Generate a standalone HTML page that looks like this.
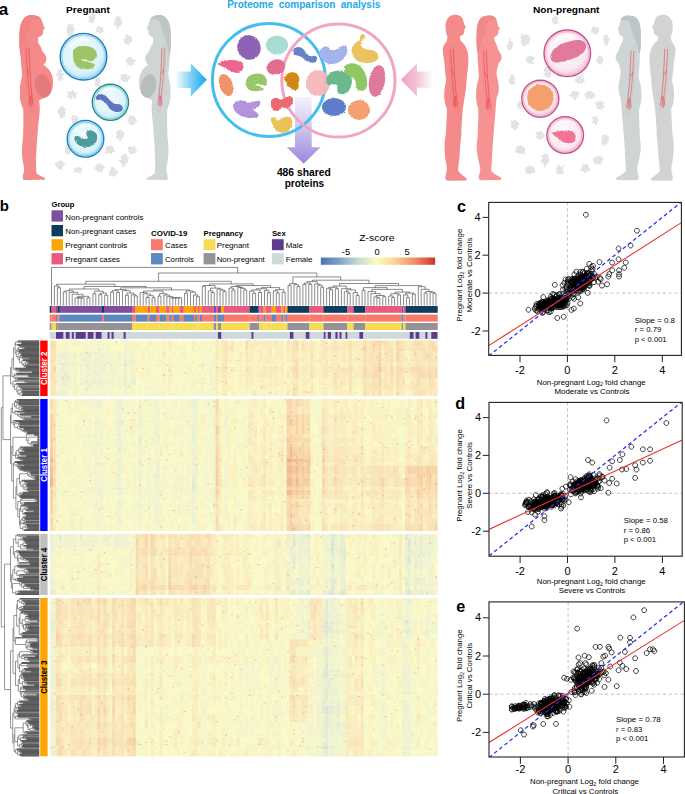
<!DOCTYPE html><html><head><meta charset="utf-8"><style>html,body{margin:0;padding:0;background:#fff;}svg{display:block;}text{font-family:"Liberation Sans", sans-serif;}</style></head><body>
<svg width="685" height="794" viewBox="0 0 685 794">
<rect width="685" height="794" fill="#fff"/>
<g fill="#e3e3e3" filter="url(#rough2)">
<ellipse cx="70" cy="30" rx="4" ry="6"/>
<ellipse cx="72" cy="95" rx="5" ry="4"/>
<ellipse cx="62" cy="112" rx="4" ry="6"/>
<ellipse cx="75" cy="120" rx="3" ry="5"/>
<ellipse cx="60" cy="165" rx="5" ry="4"/>
<ellipse cx="92" cy="18" rx="3" ry="5"/>
<ellipse cx="100" cy="30" rx="4" ry="3"/>
<ellipse cx="118" cy="22" rx="4" ry="6"/>
<ellipse cx="128" cy="40" rx="4" ry="5"/>
<ellipse cx="130" cy="62" rx="4" ry="4"/>
<ellipse cx="125" cy="78" rx="5" ry="4"/>
<ellipse cx="98" cy="82" rx="3" ry="5"/>
<ellipse cx="132" cy="120" rx="4" ry="5"/>
<ellipse cx="120" cy="135" rx="4" ry="5"/>
<ellipse cx="110" cy="150" rx="5" ry="4"/>
<ellipse cx="124" cy="160" rx="4" ry="6"/>
<ellipse cx="100" cy="168" rx="5" ry="4"/>
<ellipse cx="78" cy="170" rx="4" ry="3"/>
<ellipse cx="68" cy="150" rx="3" ry="5"/>
<ellipse cx="132" cy="150" rx="4" ry="4"/>
<ellipse cx="113" cy="172" rx="4" ry="5"/>
<ellipse cx="60" cy="75" rx="3" ry="6"/>
<ellipse cx="525" cy="40" rx="5" ry="6"/>
<ellipse cx="530" cy="60" rx="4" ry="4"/>
<ellipse cx="510" cy="45" rx="3" ry="5"/>
<ellipse cx="512" cy="80" rx="3" ry="5"/>
<ellipse cx="515" cy="125" rx="4" ry="5"/>
<ellipse cx="520" cy="150" rx="5" ry="4"/>
<ellipse cx="530" cy="170" rx="5" ry="4"/>
<ellipse cx="545" cy="160" rx="4" ry="6"/>
<ellipse cx="590" cy="95" rx="5" ry="4"/>
<ellipse cx="600" cy="105" rx="4" ry="5"/>
<ellipse cx="595" cy="120" rx="3" ry="4"/>
<ellipse cx="605" cy="140" rx="4" ry="5"/>
<ellipse cx="598" cy="160" rx="5" ry="4"/>
<ellipse cx="585" cy="168" rx="4" ry="4"/>
<ellipse cx="560" cy="170" rx="4" ry="5"/>
<ellipse cx="580" cy="80" rx="4" ry="5"/>
<ellipse cx="600" cy="60" rx="3" ry="4"/>
<ellipse cx="595" cy="30" rx="4" ry="4"/>
<ellipse cx="548" cy="72" rx="4" ry="6"/>
<ellipse cx="575" cy="95" rx="4" ry="4"/>
<ellipse cx="555" cy="20" rx="3" ry="4"/>
<ellipse cx="606" cy="40" rx="3" ry="6"/>
<ellipse cx="540" cy="135" rx="4" ry="4"/>
<ellipse cx="520" cy="105" rx="3" ry="4"/>
</g>
<text x="8.2" y="14.7" font-size="17" font-weight="bold" fill="#000" text-anchor="end" >a</text>
<text x="66.1" y="13.1" font-size="9.8" font-weight="bold" fill="#000" text-anchor="start" textLength="43.8" lengthAdjust="spacingAndGlyphs" >Pregnant</text>
<text x="532.9" y="12.9" font-size="9.8" font-weight="bold" fill="#000" text-anchor="start" textLength="66.6" lengthAdjust="spacingAndGlyphs" >Non-pregnant</text>
<text x="227.2" y="7.6" font-size="10" font-weight="bold" fill="#21a9e6" text-anchor="start" word-spacing="2.6">Proteome comparison analysis</text>
<text x="276.9" y="176.4" font-size="10.4" font-weight="bold" fill="#000" text-anchor="start" textLength="53.8" lengthAdjust="spacingAndGlyphs" >486 shared</text>
<text x="284.7" y="187.2" font-size="10.4" font-weight="bold" fill="#000" text-anchor="start" textLength="39.4" lengthAdjust="spacingAndGlyphs" >proteins</text>
<g>
<path d="M31 14.9C36 14.9 40 16.5 40.9 18.8C42 21 42.8 23 43.1 24.3L44.9 28.6L43.1 30L43.2 32C42.9 33.8 42.5 35 41.8 35.5C40 36.5 38.5 37 38 37.8L38.2 43C40 45.5 41.5 48 42 50.8C44 53 46.4 55.5 46.4 58.5C46.4 61.5 44.8 63.5 43.6 65C47.5 67.5 50.5 70.5 52 75C53.3 79 53.3 84 52.5 88C51.5 93 48 96.5 43.5 98.2C41.5 99 40 99.8 39 100.6C39.6 104 39.8 107 39.8 109.3C39.2 118 38 126 37.6 133.5C36.9 142 36.2 152 36 160C35.9 165 36.1 170 36.5 173.2C38.5 175 41.5 176.5 43.5 177.2C45 177.8 45.6 179 44.8 179.8L23.6 180C22.6 179 22.6 176.5 23.2 174.4C24 172 24.3 170 24 167.5C22.3 160 21.6 152 22.1 146.8C22.5 141 23.2 137 23.2 133.5C23.4 124 23.6 116 23.2 109.3C21 104 19.8 100 19.9 95C19.9 90 19.8 87.5 20.2 85C21 80.5 22.1 77 22.1 74C21.6 68 20.6 61 20.6 56C19.6 50 19.2 44 19.4 38C19.5 30 20 25 22 21.5C24 17 27.5 14.9 31 14.9Z" fill="#f48a8a"/>
<path d="M31 14.9C27.5 14.9 24 17 22 21.5C20 25 19.5 30 19.4 38C19.2 44 19.6 50 20.6 56C22 53 23 49 23.5 45C24.5 40 26 36 28 33C29.5 30 29 26 31 22C33 20 36.5 19.2 40.9 18.8C40 16.5 36 14.9 31 14.9Z" fill="#ef8585"/>
<ellipse cx="43" cy="86" rx="8" ry="12" transform="rotate(-15 43 86)" fill="#dc7070" opacity="0.6"/>
<path d="M25.0 44C28.5 44 29.5 51 29.7 61C30.1 75 31.3 87 32.5 97C33.1 102 34.1 107 33.5 111L31.1 112C30.1 107 28.9 102 28.3 97C26.9 87 25.9 75 25.3 61C24.9 53 24.1 46 25.0 44Z" fill="none" stroke="#dc7070" stroke-width="0.4" opacity="0.6"/>
<path d="M26.2 48C26.7 65 27.7 81 29.7 96M28.9 48C29.4 65 30.1 81 31.9 96M26.9 69L29.3 74M29.7 96L28.7 105M30.3 96L30.1 106.5M31.0 96L31.5 106.5M31.9 96L33.1 105M29.7 96L31.9 96" fill="none" stroke="#e8343a" stroke-width="0.55" opacity="0.9"/>
</g>
<g transform="translate(189.35 0) scale(-0.9500 1)">
<path d="M31 14.9C36 14.9 40 16.5 40.9 18.8C42 21 42.8 23 43.1 24.3L44.9 28.6L43.1 30L43.2 32C42.9 33.8 42.5 35 41.8 35.5C40 36.5 38.5 37 38 37.8L38.2 43C40 45.5 41.5 48 42 50.8C44 53 46.4 55.5 46.4 58.5C46.4 61.5 44.8 63.5 43.6 65C47.5 67.5 50.5 70.5 52 75C53.3 79 53.3 84 52.5 88C51.5 93 48 96.5 43.5 98.2C41.5 99 40 99.8 39 100.6C39.6 104 39.8 107 39.8 109.3C39.2 118 38 126 37.6 133.5C36.9 142 36.2 152 36 160C35.9 165 36.1 170 36.5 173.2C38.5 175 41.5 176.5 43.5 177.2C45 177.8 45.6 179 44.8 179.8L23.6 180C22.6 179 22.6 176.5 23.2 174.4C24 172 24.3 170 24 167.5C22.3 160 21.6 152 22.1 146.8C22.5 141 23.2 137 23.2 133.5C23.4 124 23.6 116 23.2 109.3C21 104 19.8 100 19.9 95C19.9 90 19.8 87.5 20.2 85C21 80.5 22.1 77 22.1 74C21.6 68 20.6 61 20.6 56C19.6 50 19.2 44 19.4 38C19.5 30 20 25 22 21.5C24 17 27.5 14.9 31 14.9Z" fill="#cfd5d5"/>
<path d="M31 14.9C27.5 14.9 24 17 22 21.5C20 25 19.5 30 19.4 38C19.2 44 19.6 50 20.6 56C22 53 23 49 23.5 45C24.5 40 26 36 28 33C29.5 30 29 26 31 22C33 20 36.5 19.2 40.9 18.8C40 16.5 36 14.9 31 14.9Z" fill="#c0c6c6"/>
<ellipse cx="43" cy="86" rx="8" ry="12" transform="rotate(-15 43 86)" fill="#a6abab" opacity="0.6"/>
<path d="M25.0 44C28.5 44 29.5 51 29.7 61C30.1 75 31.3 87 32.5 97C33.1 102 34.1 107 33.5 111L31.1 112C30.1 107 28.9 102 28.3 97C26.9 87 25.9 75 25.3 61C24.9 53 24.1 46 25.0 44Z" fill="none" stroke="#a6abab" stroke-width="0.4" opacity="0.6"/>
<path d="M26.2 48C26.7 65 27.7 81 29.7 96M28.9 48C29.4 65 30.1 81 31.9 96M26.9 69L29.3 74M29.7 96L28.7 105M30.3 96L30.1 106.5M31.0 96L31.5 106.5M31.9 96L33.1 105M29.7 96L31.9 96" fill="none" stroke="#e8343a" stroke-width="0.55" opacity="0.9"/>
</g>
<g>
<path d="M454.7 14.8C459 14.8 462 16.5 462.4 18.8C463.4 21 464 23 464.2 24.3L465.9 27.6L464.2 29.2L464.4 31.2C464 33 463.8 34 463.2 34.5C461.5 35.5 460.2 36 459.8 36.6L460.5 40.8C463.5 43 465.8 46 466.6 49C468.4 53 468.8 60 468 67.3C467.5 72 466.8 76 466.6 80C466.2 86 465.8 91 464.8 96C463.5 104 462.6 110 462.2 116C461.6 124 461.3 130 461.3 134C460.6 142 459.8 150 459.6 156C459 162 458.2 167 458.2 171C460 173.5 463 175.5 465.5 177.5C467 178.5 467.2 180 466 180.5L447.5 180.8C445.5 180 445 178.5 445.5 176.5C446.5 173 447 170 446.8 167C445 158 444.2 150 444.6 143C445 138 446 135 446 132C446.2 124 447 116 447 109C445 104 444 100 444.2 95C444.2 90 445 86 446.2 80.5C445.5 74 444.6 69 444.6 64C444 58 442.6 53 442.8 49C443 46 444.8 43.5 446.6 41.5L447.5 37C446.2 34 445.4 30 445.5 26C445.6 19.5 449.5 14.8 454.7 14.8Z" fill="#f48a8a"/>
<path d="M449.5 45C453 45 454 52 454.2 62C454.6 76 455.8 88 457 98C457.6 103 458.6 108 458 112L455.6 113C454.6 108 453.4 103 452.8 98C451.4 88 450.4 76 449.8 62C449.4 54 448.6 47 449.5 45Z" fill="none" stroke="#dc7070" stroke-width="0.4" opacity="0.6"/>
<path d="M450.7 49C451.2 66 452.2 82 454.2 97M453.4 49C453.9 66 454.6 82 456.4 97M451.4 70L453.8 75M454.2 97L453.2 106M454.8 97L454.6 107.5M455.5 97L456.0 107.5M456.4 97L457.6 106M454.2 97L456.4 97" fill="none" stroke="#e8343a" stroke-width="0.55" opacity="0.9"/>
</g>
<g>
<path d="M488.9 15.5C493 15.5 496 17.5 496.6 20C497.5 23 498 25.5 498.3 26.5L500 28.8L498.4 30.2L498.6 32.3C498.2 34 497.6 35 497 35.5C495.5 36.2 494.5 36.6 494.2 37.4L494.4 40.8C496 43 497.5 46 498 49.6C499.5 52 501.6 55 501.6 57.6C501.6 60 500 62 498.8 63C497.5 67 496.5 70.5 496.6 74C497 78 498.6 82 498.8 87.1C498.9 92 497.8 95 496.6 98.1C496 104 495.6 108 495.5 111.3C495 120 494 127 493.7 133.3C493 141 492.4 149 492.2 155.4C491.8 162 491.2 167 491.2 171C493.5 173.5 497 175.5 499.8 177C501.5 178 501.8 179.6 500.5 180L480.5 180.2C478.7 179.5 478.4 177.5 479 175.5C480 172.5 480.4 170.5 480.2 168C478.6 160 476.5 152 476.7 146.6C477 141 477.8 137 477.8 133.3C478 124 478.6 116 478.3 109.1C476.5 104 475.8 98 476.1 93.7C476.3 89 476.5 86.5 476.9 84.9C477.8 81 478.9 78.5 478.9 76.1C478.6 70 477.8 65 477.8 60.7C477.6 57 477.6 55.5 477.8 54C476.5 48 476.2 40 476.7 32C477 25 478 21.5 480.5 18.5C482.5 16.3 485.5 15.5 488.9 15.5Z" fill="#f79292"/>
<path d="M488.9 15.5C485.5 15.5 482.5 16.3 480.5 18.5C478 21.5 477 25 476.7 32C476.2 40 476.5 48 477.8 54C479 52 480 49 480.5 45C481.5 40 483 36 485 33C486.5 30 486 26 488 22C490 20 493 19.5 496.6 20C496 17.5 493 15.5 488.9 15.5Z" fill="#ef8a8a"/>
<path d="M482.5 47C486 47 487 54 487.2 64C487.6 78 488.8 90 490 100C490.6 105 491.6 110 491 114L488.6 115C487.6 110 486.4 105 485.8 100C484.4 90 483.4 78 482.8 64C482.4 56 481.6 49 482.5 47Z" fill="none" stroke="#dc7070" stroke-width="0.4" opacity="0.6"/>
<path d="M483.7 51C484.2 68 485.2 84 487.2 99M486.4 51C486.9 68 487.6 84 489.4 99M484.4 72L486.8 77M487.2 99L486.2 108M487.8 99L487.6 109.5M488.5 99L489.0 109.5M489.4 99L490.6 108M487.2 99L489.4 99" fill="none" stroke="#e8343a" stroke-width="0.55" opacity="0.9"/>
</g>
<g transform="translate(1123.22 0) scale(-1.0120 1)">
<path d="M488.9 15.5C493 15.5 496 17.5 496.6 20C497.5 23 498 25.5 498.3 26.5L500 28.8L498.4 30.2L498.6 32.3C498.2 34 497.6 35 497 35.5C495.5 36.2 494.5 36.6 494.2 37.4L494.4 40.8C496 43 497.5 46 498 49.6C499.5 52 501.6 55 501.6 57.6C501.6 60 500 62 498.8 63C497.5 67 496.5 70.5 496.6 74C497 78 498.6 82 498.8 87.1C498.9 92 497.8 95 496.6 98.1C496 104 495.6 108 495.5 111.3C495 120 494 127 493.7 133.3C493 141 492.4 149 492.2 155.4C491.8 162 491.2 167 491.2 171C493.5 173.5 497 175.5 499.8 177C501.5 178 501.8 179.6 500.5 180L480.5 180.2C478.7 179.5 478.4 177.5 479 175.5C480 172.5 480.4 170.5 480.2 168C478.6 160 476.5 152 476.7 146.6C477 141 477.8 137 477.8 133.3C478 124 478.6 116 478.3 109.1C476.5 104 475.8 98 476.1 93.7C476.3 89 476.5 86.5 476.9 84.9C477.8 81 478.9 78.5 478.9 76.1C478.6 70 477.8 65 477.8 60.7C477.6 57 477.6 55.5 477.8 54C476.5 48 476.2 40 476.7 32C477 25 478 21.5 480.5 18.5C482.5 16.3 485.5 15.5 488.9 15.5Z" fill="#cfd5d5"/>
<path d="M488.9 15.5C485.5 15.5 482.5 16.3 480.5 18.5C478 21.5 477 25 476.7 32C476.2 40 476.5 48 477.8 54C479 52 480 49 480.5 45C481.5 40 483 36 485 33C486.5 30 486 26 488 22C490 20 493 19.5 496.6 20C496 17.5 493 15.5 488.9 15.5Z" fill="#bcc6c6"/>
<path d="M482.5 47C486 47 487 54 487.2 64C487.6 78 488.8 90 490 100C490.6 105 491.6 110 491 114L488.6 115C487.6 110 486.4 105 485.8 100C484.4 90 483.4 78 482.8 64C482.4 56 481.6 49 482.5 47Z" fill="none" stroke="#a6abab" stroke-width="0.4" opacity="0.6"/>
<path d="M483.7 51C484.2 68 485.2 84 487.2 99M486.4 51C486.9 68 487.6 84 489.4 99M484.4 72L486.8 77M487.2 99L486.2 108M487.8 99L487.6 109.5M488.5 99L489.0 109.5M489.4 99L490.6 108M487.2 99L489.4 99" fill="none" stroke="#e8343a" stroke-width="0.55" opacity="0.9"/>
</g>
<g transform="translate(1127.18 0) scale(-1.0200 1)">
<path d="M454.7 14.8C459 14.8 462 16.5 462.4 18.8C463.4 21 464 23 464.2 24.3L465.9 27.6L464.2 29.2L464.4 31.2C464 33 463.8 34 463.2 34.5C461.5 35.5 460.2 36 459.8 36.6L460.5 40.8C463.5 43 465.8 46 466.6 49C468.4 53 468.8 60 468 67.3C467.5 72 466.8 76 466.6 80C466.2 86 465.8 91 464.8 96C463.5 104 462.6 110 462.2 116C461.6 124 461.3 130 461.3 134C460.6 142 459.8 150 459.6 156C459 162 458.2 167 458.2 171C460 173.5 463 175.5 465.5 177.5C467 178.5 467.2 180 466 180.5L447.5 180.8C445.5 180 445 178.5 445.5 176.5C446.5 173 447 170 446.8 167C445 158 444.2 150 444.6 143C445 138 446 135 446 132C446.2 124 447 116 447 109C445 104 444 100 444.2 95C444.2 90 445 86 446.2 80.5C445.5 74 444.6 69 444.6 64C444 58 442.6 53 442.8 49C443 46 444.8 43.5 446.6 41.5L447.5 37C446.2 34 445.4 30 445.5 26C445.6 19.5 449.5 14.8 454.7 14.8Z" fill="#d3d3d3"/>
<path d="M449.5 45C453 45 454 52 454.2 62C454.6 76 455.8 88 457 98C457.6 103 458.6 108 458 112L455.6 113C454.6 108 453.4 103 452.8 98C451.4 88 450.4 76 449.8 62C449.4 54 448.6 47 449.5 45Z" fill="none" stroke="#a6abab" stroke-width="0.4" opacity="0.6"/>
<path d="M450.7 49C451.2 66 452.2 82 454.2 97M453.4 49C453.9 66 454.6 82 456.4 97M451.4 70L453.8 75M454.2 97L453.2 106M454.8 97L454.6 107.5M455.5 97L456.0 107.5M456.4 97L457.6 106M454.2 97L456.4 97" fill="none" stroke="#e8343a" stroke-width="0.55" opacity="0.9"/>
</g>
<defs><linearGradient id="ab" x1="175" x2="207" y1="0" y2="0" gradientUnits="userSpaceOnUse"><stop offset="0" stop-color="#fff"/><stop offset="0.5" stop-color="#7fd0f4"/><stop offset="1" stop-color="#0ea6ee"/></linearGradient><linearGradient id="ap" x1="433" x2="401" y1="0" y2="0" gradientUnits="userSpaceOnUse"><stop offset="0" stop-color="#fff"/><stop offset="0.5" stop-color="#f3c4d8"/><stop offset="1" stop-color="#efa0c2"/></linearGradient><linearGradient id="av" x1="0" x2="0" y1="97" y2="164" gradientUnits="userSpaceOnUse"><stop offset="0" stop-color="#f6f4fc"/><stop offset="0.55" stop-color="#c6bcec"/><stop offset="1" stop-color="#9a86da"/></linearGradient><radialGradient id="gb" cx="0.45" cy="0.4" r="0.6"><stop offset="0" stop-color="#f4fbfe"/><stop offset="0.75" stop-color="#dcf2fb"/><stop offset="1" stop-color="#a9def4"/></radialGradient><radialGradient id="gp" cx="0.45" cy="0.4" r="0.6"><stop offset="0" stop-color="#fefafc"/><stop offset="0.75" stop-color="#fbe9f1"/><stop offset="1" stop-color="#f1c2da"/></radialGradient></defs>
<path d="M175.3 71.5H190.7V63.3L206.8 79.8L190.7 96.5V88H175.3Z" fill="url(#ab)"/>
<path d="M433 71.5H417V63.3L400.9 79.8L417 96.5V87.8H433Z" fill="url(#ap)"/>
<path d="M295 97H311.7V147.3H320.5L303.7 163.7L286.7 147.3H295Z" fill="url(#av)"/>
<circle cx="268.9" cy="80" r="56.5" fill="none" stroke="#45bdef" stroke-width="3"/>
<circle cx="338.4" cy="80.5" r="56.6" fill="none" stroke="#f1a4c6" stroke-width="3"/>
<defs><filter id="rough" x="-5%" y="-5%" width="110%" height="110%"><feTurbulence type="fractalNoise" baseFrequency="0.7" numOctaves="2" seed="4" result="n"/><feDisplacementMap in="SourceGraphic" in2="n" scale="2.4" xChannelSelector="R" yChannelSelector="G"/></filter><filter id="rough2" x="-5%" y="-5%" width="110%" height="110%"><feTurbulence type="fractalNoise" baseFrequency="0.35" numOctaves="2" seed="8" result="n"/><feDisplacementMap in="SourceGraphic" in2="n" scale="5" xChannelSelector="R" yChannelSelector="G"/></filter></defs>
<g filter="url(#rough)">
<ellipse cx="249" cy="47.5" rx="11.5" ry="12.5" transform="rotate(-25 249 47.5)" fill="#8e62b4" opacity="1"/>
<ellipse cx="277" cy="45" rx="11" ry="9.5" transform="rotate(0 277 45)" fill="#a9dcd3" opacity="1"/>
<path d="M217 64C225 59 236 59 242 62C245 66 243 72 238 73C232 73 226 68 217 64Z" fill="#f0648c"/>
<ellipse cx="276" cy="67" rx="9.5" ry="7.5" transform="rotate(-20 276 67)" fill="#e36d91" opacity="1"/>
<ellipse cx="226" cy="85" rx="6.5" ry="11.5" transform="rotate(-20 226 85)" fill="#f1936a" opacity="1"/>
<path d="M246 81C247 75 255 72 262 74C268 77 268 83 265 86C262 84 257 83 255 85C259 86 263 87 264 89C260 92 252 92 248 89C246 87 246 84 246 81Z" fill="#98c868"/>
<path d="M285 76C288 72 294 71 297 74C300 77 300 81 298 84C300 87 298 91 293 90C291 88 289 86 287 87C286 85 288 83 286 82C284 80 284 78 285 76Z" fill="#d38817"/>
<path d="M293 50C296 46 301 46 304 50C306 54 309 57 313 56C317 55 318 59 316 62C312 64 307 62 304 59C301 56 297 55 294 55Z" fill="#6882c9"/>
<ellipse cx="318" cy="83" rx="12" ry="13" transform="rotate(0 318 83)" fill="#f5b6b8" opacity="0.95"/>
<path d="M319 52C322 47 325 44 329 48C331 51 336 51 340 47C345 43 349 47 347 53C345 59 340 63 333 64C326 65 320 60 319 52Z" fill="#a5b3ec"/>
<path d="M352 48C353 44 358 41 360 40C359 37 361 34 364 34C366 36 363 39 361 43C359 47 366 50 371 50C377 51 380 55 378 59C375 63 367 64 360 62C354 60 351 54 352 48Z" fill="#ebc261"/>
<path d="M327 77C330 70 340 69 347 72C352 75 353 81 351 86C350 91 346 95 340 94C336 93 338 88 337 85C334 83 330 86 328 85C326 83 326 80 327 77Z" fill="#6bb98e"/>
<path d="M344 67C348 62 357 62 362 68C366 73 368 80 367 86C366 91 361 92 357 89C355 85 357 81 353 78C350 76 345 75 344 70Z" fill="#8fc862"/>
<ellipse cx="377" cy="81" rx="8" ry="16" transform="rotate(10 377 81)" fill="#e07a9b" opacity="1"/>
<ellipse cx="334" cy="107" rx="12" ry="9" transform="rotate(0 334 107)" fill="#5d7cc9" opacity="1"/>
<ellipse cx="359" cy="110" rx="11" ry="10" transform="rotate(0 359 110)" fill="#f5a06f" opacity="1"/>
<path d="M233 105C236 100 242 99 247 102C251 104 256 100 260 101C262 104 258 108 253 110C256 112 260 114 258 117C252 119 246 118 241 116C237 114 233 110 233 105Z" fill="#b393d9"/>
<path d="M271 103C271 99 275 96 279 99C282 101 286 97 289 96C293 96 294 100 292 104C290 108 285 109 282 107C280 110 276 112 273 110C271 108 271 106 271 103Z" fill="#ea6a72"/>
<path d="M271 118C273 116 276 118 278 121C281 118 287 115 291 118C294 122 292 129 287 132C282 134 276 132 274 128C273 124 270 121 271 118Z" fill="#ebc255"/>
</g>
<circle cx="83.5" cy="56.7" r="23.3" fill="url(#gb)" stroke="#1f78b6" stroke-width="1.4"/>
<circle cx="83.5" cy="56.7" r="21.7" fill="none" stroke="#86d3f2" stroke-width="1.6" opacity="0.8"/>
<path d="M70.7 46.2A17.5 17.5 0 0 1 88.2 39.9" fill="none" stroke="#fff" stroke-width="2.8" stroke-linecap="round" opacity="0.7"/>
<path d="M73 55C72 49 78 45 84 46C91 46 97 49 97 55C97 59 93 62 89 61C86 59 83 59 81 60C86 62 93 62 95 65C93 70 85 70 79 68C75 66 73 61 73 55Z" fill="#9dc466" filter="url(#rough)"/>
<circle cx="110.4" cy="102.3" r="18.1" fill="url(#gb)" stroke="#2a8a74" stroke-width="1.4"/>
<circle cx="110.4" cy="102.3" r="16.5" fill="none" stroke="#86d3f2" stroke-width="1.6" opacity="0.8"/>
<path d="M100.4 94.2A13.6 13.6 0 0 1 114.0 89.3" fill="none" stroke="#fff" stroke-width="2.2" stroke-linecap="round" opacity="0.7"/>
<path d="M96 97C97 94 102 93 106 96C109 99 112 103 115 104C118 104 120 104 122 106C124 109 122 112 118 112C114 112 110 110 108 106C106 103 103 100 99 100C96 100 95 99 96 97Z" fill="#5f75c4" filter="url(#rough)"/>
<circle cx="85.5" cy="138.8" r="18.3" fill="url(#gb)" stroke="#1b82c4" stroke-width="1.4"/>
<circle cx="85.5" cy="138.8" r="16.7" fill="none" stroke="#86d3f2" stroke-width="1.6" opacity="0.8"/>
<path d="M75.4 130.6A13.7 13.7 0 0 1 89.2 125.6" fill="none" stroke="#fff" stroke-width="2.2" stroke-linecap="round" opacity="0.7"/>
<path d="M74 138C74 136 78 135 80 137C82 139 86 140 88 138C87 135 85 133 87 131C90 129 95 131 97 135C98 141 95 146 88 147C81 148 75 144 74 138Z" fill="#4e9c9c" filter="url(#rough)"/>
<circle cx="567.3" cy="53.3" r="23.3" fill="url(#gp)" stroke="#c44f88" stroke-width="1.4"/>
<circle cx="567.3" cy="53.3" r="21.7" fill="none" stroke="#efb3d0" stroke-width="1.6" opacity="0.8"/>
<path d="M554.5 42.8A17.5 17.5 0 0 1 572.0 36.5" fill="none" stroke="#fff" stroke-width="2.8" stroke-linecap="round" opacity="0.7"/>
<path d="M551 55C552 48 561 43 571 41C579 39 585 40 586 45C587 51 581 56 572 59C564 62 556 64 552 61C550 59 550 57 551 55Z" fill="#e27a9c" filter="url(#rough)"/>
<circle cx="540.3" cy="98.7" r="18.5" fill="url(#gp)" stroke="#c44f88" stroke-width="1.4"/>
<circle cx="540.3" cy="98.7" r="16.9" fill="none" stroke="#efb3d0" stroke-width="1.6" opacity="0.8"/>
<path d="M530.1 90.4A13.9 13.9 0 0 1 544.0 85.4" fill="none" stroke="#fff" stroke-width="2.2" stroke-linecap="round" opacity="0.7"/>
<circle cx="540.3" cy="97.7" r="13.2" fill="#f4a06c" filter="url(#rough)"/>
<circle cx="565.2" cy="135.1" r="18.3" fill="url(#gp)" stroke="#c44f88" stroke-width="1.4"/>
<circle cx="565.2" cy="135.1" r="16.7" fill="none" stroke="#efb3d0" stroke-width="1.6" opacity="0.8"/>
<path d="M555.1 126.9A13.7 13.7 0 0 1 568.9 121.9" fill="none" stroke="#fff" stroke-width="2.2" stroke-linecap="round" opacity="0.7"/>
<path d="M551.5 133C556 131 564 130 571 131C575 132 577 137 575 141C572 144 566 144 561 141C557 138 554 135 551.5 133Z" fill="#f27596" filter="url(#rough)"/>
<text x="8.8" y="210.8" font-size="15" font-weight="bold" fill="#000" text-anchor="end" >b</text>
<text x="51.5" y="207" font-size="7.6" font-weight="bold" fill="#000" text-anchor="start" textLength="22.9" lengthAdjust="spacingAndGlyphs" >Group</text>
<rect x="51.5" y="210.3" width="11.5" height="11.3" fill="#7d4f9e"/>
<text x="65.3" y="219.5" font-size="7.6" font-weight="normal" fill="#000" text-anchor="start" textLength="78.1" lengthAdjust="spacingAndGlyphs" >Non-pregnant controls</text>
<rect x="51.5" y="225" width="11.5" height="11.3" fill="#0e3c5c"/>
<text x="65.3" y="234.2" font-size="7.6" font-weight="normal" fill="#000" text-anchor="start" textLength="70.9" lengthAdjust="spacingAndGlyphs" >Non-pregnant cases</text>
<rect x="51.5" y="239.2" width="11.5" height="11.3" fill="#ffa500"/>
<text x="65.3" y="248.4" font-size="7.6" font-weight="normal" fill="#000" text-anchor="start" textLength="62" lengthAdjust="spacingAndGlyphs" >Pregnant controls</text>
<rect x="51.5" y="253.1" width="11.5" height="11.3" fill="#ea5a7f"/>
<text x="65.3" y="262.3" font-size="7.6" font-weight="normal" fill="#000" text-anchor="start" textLength="54.7" lengthAdjust="spacingAndGlyphs" >Pregnant cases</text>
<text x="151" y="235.5" font-size="7.6" font-weight="bold" fill="#000" text-anchor="start" textLength="36.3" lengthAdjust="spacingAndGlyphs" >COVID-19</text>
<rect x="151" y="239.2" width="11.8" height="11" fill="#f87a6c"/>
<rect x="151" y="253.1" width="11.8" height="11.3" fill="#5d87bf"/>
<text x="165" y="248.4" font-size="7.6" font-weight="normal" fill="#000" text-anchor="start" textLength="22.3" lengthAdjust="spacingAndGlyphs" >Cases</text>
<text x="165" y="262.3" font-size="7.6" font-weight="normal" fill="#000" text-anchor="start" textLength="28.9" lengthAdjust="spacingAndGlyphs" >Controls</text>
<text x="203.6" y="235.5" font-size="7.6" font-weight="bold" fill="#000" text-anchor="start" textLength="39.4" lengthAdjust="spacingAndGlyphs" >Pregnancy</text>
<rect x="203.6" y="239.2" width="11.8" height="11" fill="#f7dc52"/>
<rect x="203.6" y="253.1" width="11.8" height="11.3" fill="#939396"/>
<text x="216.7" y="248.4" font-size="7.6" font-weight="normal" fill="#000" text-anchor="start" textLength="32.3" lengthAdjust="spacingAndGlyphs" >Pregnant</text>
<text x="216.7" y="262.3" font-size="7.6" font-weight="normal" fill="#000" text-anchor="start" textLength="48.1" lengthAdjust="spacingAndGlyphs" >Non-pregnant</text>
<text x="271.9" y="235.5" font-size="7.6" font-weight="bold" fill="#000" text-anchor="start" textLength="13.9" lengthAdjust="spacingAndGlyphs" >Sex</text>
<rect x="271.9" y="239.2" width="11.8" height="11" fill="#5d3a8c"/>
<rect x="271.9" y="253.1" width="11.8" height="11.3" fill="#cfd9dc"/>
<text x="285.8" y="248.4" font-size="7.6" font-weight="normal" fill="#000" text-anchor="start" textLength="17.1" lengthAdjust="spacingAndGlyphs" >Male</text>
<text x="285.8" y="262.3" font-size="7.6" font-weight="normal" fill="#000" text-anchor="start" textLength="26.8" lengthAdjust="spacingAndGlyphs" >Female</text>
<text x="359.3" y="240.8" font-size="9.5" font-weight="normal" fill="#000" text-anchor="start" textLength="35.1" lengthAdjust="spacingAndGlyphs" >Z-score</text>
<text x="346" y="255" font-size="9.3" font-weight="normal" fill="#000" text-anchor="middle" >-5</text>
<text x="377" y="255" font-size="9.3" font-weight="normal" fill="#000" text-anchor="middle" >0</text>
<text x="407.2" y="255" font-size="9.3" font-weight="normal" fill="#000" text-anchor="middle" >5</text>
<defs><linearGradient id="zg" x1="0" x2="1" y1="0" y2="0"><stop offset="0" stop-color="#4a72b2"/><stop offset="0.15" stop-color="#7c9fc4"/><stop offset="0.32" stop-color="#c4d8cf"/><stop offset="0.49" stop-color="#fbfbc0"/><stop offset="0.66" stop-color="#f9cf94"/><stop offset="0.83" stop-color="#ee8a66"/><stop offset="1" stop-color="#d52f27"/></linearGradient></defs>
<rect x="320.8" y="257.5" width="114.3" height="7.3" fill="url(#zg)"/>
<rect x="49.7" y="306" width="2" height="6.8" fill="#0e3c5c"/>
<rect x="49.7" y="314.6" width="2" height="7" fill="#f87a6c"/>
<rect x="49.7" y="323" width="2" height="7" fill="#939396"/>
<rect x="51.6" y="306" width="4.5" height="6.8" fill="#ea5a7f"/>
<rect x="51.6" y="314.6" width="4.5" height="7" fill="#f87a6c"/>
<rect x="51.6" y="323" width="4.5" height="7" fill="#f7dc52"/>
<rect x="56" y="306" width="1.6" height="6.8" fill="#7d4f9e"/>
<rect x="56" y="314.6" width="1.6" height="7" fill="#5d87bf"/>
<rect x="56" y="323" width="1.6" height="7" fill="#939396"/>
<rect x="57.5" y="306" width="2.4" height="6.8" fill="#0e3c5c"/>
<rect x="57.5" y="314.6" width="2.4" height="7" fill="#f87a6c"/>
<rect x="57.5" y="323" width="2.4" height="7" fill="#939396"/>
<rect x="59.7" y="306" width="42.4" height="6.8" fill="#7d4f9e"/>
<rect x="59.7" y="314.6" width="42.4" height="7" fill="#5d87bf"/>
<rect x="59.7" y="323" width="42.4" height="7" fill="#939396"/>
<rect x="102" y="306" width="2.1" height="6.8" fill="#0e3c5c"/>
<rect x="102" y="314.6" width="2.1" height="7" fill="#f87a6c"/>
<rect x="102" y="323" width="2.1" height="7" fill="#939396"/>
<rect x="104" y="306" width="28.1" height="6.8" fill="#7d4f9e"/>
<rect x="104" y="314.6" width="28.1" height="7" fill="#5d87bf"/>
<rect x="104" y="323" width="28.1" height="7" fill="#939396"/>
<rect x="132" y="306" width="3.7" height="6.8" fill="#ea5a7f"/>
<rect x="132" y="314.6" width="3.7" height="7" fill="#f87a6c"/>
<rect x="132" y="323" width="3.7" height="7" fill="#f7dc52"/>
<rect x="135.6" y="306" width="12.2" height="6.8" fill="#ffa500"/>
<rect x="135.6" y="314.6" width="12.2" height="7" fill="#5d87bf"/>
<rect x="135.6" y="323" width="12.2" height="7" fill="#f7dc52"/>
<rect x="147.6" y="306" width="2.4" height="6.8" fill="#ea5a7f"/>
<rect x="147.6" y="314.6" width="2.4" height="7" fill="#f87a6c"/>
<rect x="147.6" y="323" width="2.4" height="7" fill="#f7dc52"/>
<rect x="149.8" y="306" width="6.3" height="6.8" fill="#ffa500"/>
<rect x="149.8" y="314.6" width="6.3" height="7" fill="#5d87bf"/>
<rect x="149.8" y="323" width="6.3" height="7" fill="#f7dc52"/>
<rect x="156" y="306" width="3.7" height="6.8" fill="#ea5a7f"/>
<rect x="156" y="314.6" width="3.7" height="7" fill="#f87a6c"/>
<rect x="156" y="323" width="3.7" height="7" fill="#f7dc52"/>
<rect x="159.6" y="306" width="6.7" height="6.8" fill="#ffa500"/>
<rect x="159.6" y="314.6" width="6.7" height="7" fill="#5d87bf"/>
<rect x="159.6" y="323" width="6.7" height="7" fill="#f7dc52"/>
<rect x="166.2" y="306" width="3.5" height="6.8" fill="#ea5a7f"/>
<rect x="166.2" y="314.6" width="3.5" height="7" fill="#f87a6c"/>
<rect x="166.2" y="323" width="3.5" height="7" fill="#f7dc52"/>
<rect x="169.5" y="306" width="2.3" height="6.8" fill="#ffa500"/>
<rect x="169.5" y="314.6" width="2.3" height="7" fill="#5d87bf"/>
<rect x="169.5" y="323" width="2.3" height="7" fill="#f7dc52"/>
<rect x="171.7" y="306" width="2" height="6.8" fill="#ea5a7f"/>
<rect x="171.7" y="314.6" width="2" height="7" fill="#f87a6c"/>
<rect x="171.7" y="323" width="2" height="7" fill="#f7dc52"/>
<rect x="173.5" y="306" width="6.3" height="6.8" fill="#ffa500"/>
<rect x="173.5" y="314.6" width="6.3" height="7" fill="#5d87bf"/>
<rect x="173.5" y="323" width="6.3" height="7" fill="#f7dc52"/>
<rect x="179.7" y="306" width="4.2" height="6.8" fill="#ea5a7f"/>
<rect x="179.7" y="314.6" width="4.2" height="7" fill="#f87a6c"/>
<rect x="179.7" y="323" width="4.2" height="7" fill="#f7dc52"/>
<rect x="183.7" y="306" width="10.4" height="6.8" fill="#ffa500"/>
<rect x="183.7" y="314.6" width="10.4" height="7" fill="#5d87bf"/>
<rect x="183.7" y="323" width="10.4" height="7" fill="#f7dc52"/>
<rect x="193.9" y="306" width="2.1" height="6.8" fill="#ea5a7f"/>
<rect x="193.9" y="314.6" width="2.1" height="7" fill="#f87a6c"/>
<rect x="193.9" y="323" width="2.1" height="7" fill="#f7dc52"/>
<rect x="195.8" y="306" width="1.9" height="6.8" fill="#ffa500"/>
<rect x="195.8" y="314.6" width="1.9" height="7" fill="#5d87bf"/>
<rect x="195.8" y="323" width="1.9" height="7" fill="#f7dc52"/>
<rect x="197.6" y="306" width="2.2" height="6.8" fill="#ea5a7f"/>
<rect x="197.6" y="314.6" width="2.2" height="7" fill="#f87a6c"/>
<rect x="197.6" y="323" width="2.2" height="7" fill="#f7dc52"/>
<rect x="199.7" y="306" width="2.5" height="6.8" fill="#ffa500"/>
<rect x="199.7" y="314.6" width="2.5" height="7" fill="#5d87bf"/>
<rect x="199.7" y="323" width="2.5" height="7" fill="#f7dc52"/>
<rect x="202" y="306" width="11.7" height="6.8" fill="#ea5a7f"/>
<rect x="202" y="314.6" width="11.7" height="7" fill="#f87a6c"/>
<rect x="202" y="323" width="11.7" height="7" fill="#f7dc52"/>
<rect x="213.6" y="306" width="2.6" height="6.8" fill="#7d4f9e"/>
<rect x="213.6" y="314.6" width="2.6" height="7" fill="#5d87bf"/>
<rect x="213.6" y="323" width="2.6" height="7" fill="#939396"/>
<rect x="216.1" y="306" width="2.1" height="6.8" fill="#ea5a7f"/>
<rect x="216.1" y="314.6" width="2.1" height="7" fill="#f87a6c"/>
<rect x="216.1" y="323" width="2.1" height="7" fill="#f7dc52"/>
<rect x="218" y="306" width="3.3" height="6.8" fill="#7d4f9e"/>
<rect x="218" y="314.6" width="3.3" height="7" fill="#5d87bf"/>
<rect x="218" y="323" width="3.3" height="7" fill="#939396"/>
<rect x="221.2" y="306" width="2.8" height="6.8" fill="#ffa500"/>
<rect x="221.2" y="314.6" width="2.8" height="7" fill="#5d87bf"/>
<rect x="221.2" y="323" width="2.8" height="7" fill="#f7dc52"/>
<rect x="223.8" y="306" width="25.9" height="6.8" fill="#ea5a7f"/>
<rect x="223.8" y="314.6" width="25.9" height="7" fill="#f87a6c"/>
<rect x="223.8" y="323" width="25.9" height="7" fill="#f7dc52"/>
<rect x="249.6" y="306" width="8.4" height="6.8" fill="#0e3c5c"/>
<rect x="249.6" y="314.6" width="8.4" height="7" fill="#f87a6c"/>
<rect x="249.6" y="323" width="8.4" height="7" fill="#939396"/>
<rect x="257.8" y="306" width="1.5" height="6.8" fill="#7d4f9e"/>
<rect x="257.8" y="314.6" width="1.5" height="7" fill="#5d87bf"/>
<rect x="257.8" y="323" width="1.5" height="7" fill="#939396"/>
<rect x="259.2" y="306" width="4.6" height="6.8" fill="#ea5a7f"/>
<rect x="259.2" y="314.6" width="4.6" height="7" fill="#f87a6c"/>
<rect x="259.2" y="323" width="4.6" height="7" fill="#f7dc52"/>
<rect x="263.6" y="306" width="1.9" height="6.8" fill="#ffa500"/>
<rect x="263.6" y="314.6" width="1.9" height="7" fill="#5d87bf"/>
<rect x="263.6" y="323" width="1.9" height="7" fill="#f7dc52"/>
<rect x="265.4" y="306" width="6.4" height="6.8" fill="#ea5a7f"/>
<rect x="265.4" y="314.6" width="6.4" height="7" fill="#f87a6c"/>
<rect x="265.4" y="323" width="6.4" height="7" fill="#f7dc52"/>
<rect x="271.6" y="306" width="4.4" height="6.8" fill="#ffa500"/>
<rect x="271.6" y="314.6" width="4.4" height="7" fill="#5d87bf"/>
<rect x="271.6" y="323" width="4.4" height="7" fill="#f7dc52"/>
<rect x="275.9" y="306" width="5.7" height="6.8" fill="#ea5a7f"/>
<rect x="275.9" y="314.6" width="5.7" height="7" fill="#f87a6c"/>
<rect x="275.9" y="323" width="5.7" height="7" fill="#f7dc52"/>
<rect x="281.4" y="306" width="2.1" height="6.8" fill="#ffa500"/>
<rect x="281.4" y="314.6" width="2.1" height="7" fill="#5d87bf"/>
<rect x="281.4" y="323" width="2.1" height="7" fill="#f7dc52"/>
<rect x="283.3" y="306" width="2.2" height="6.8" fill="#ea5a7f"/>
<rect x="283.3" y="314.6" width="2.2" height="7" fill="#f87a6c"/>
<rect x="283.3" y="323" width="2.2" height="7" fill="#f7dc52"/>
<rect x="285.4" y="306" width="2.3" height="6.8" fill="#ffa500"/>
<rect x="285.4" y="314.6" width="2.3" height="7" fill="#5d87bf"/>
<rect x="285.4" y="323" width="2.3" height="7" fill="#f7dc52"/>
<rect x="287.5" y="306" width="22" height="6.8" fill="#0e3c5c"/>
<rect x="287.5" y="314.6" width="22" height="7" fill="#f87a6c"/>
<rect x="287.5" y="323" width="22" height="7" fill="#939396"/>
<rect x="309.4" y="306" width="14.3" height="6.8" fill="#ea5a7f"/>
<rect x="309.4" y="314.6" width="14.3" height="7" fill="#f87a6c"/>
<rect x="309.4" y="323" width="14.3" height="7" fill="#f7dc52"/>
<rect x="323.5" y="306" width="24" height="6.8" fill="#0e3c5c"/>
<rect x="323.5" y="314.6" width="24" height="7" fill="#f87a6c"/>
<rect x="323.5" y="323" width="24" height="7" fill="#939396"/>
<rect x="347.3" y="306" width="6.5" height="6.8" fill="#ea5a7f"/>
<rect x="347.3" y="314.6" width="6.5" height="7" fill="#f87a6c"/>
<rect x="347.3" y="323" width="6.5" height="7" fill="#f7dc52"/>
<rect x="353.6" y="306" width="11.8" height="6.8" fill="#0e3c5c"/>
<rect x="353.6" y="314.6" width="11.8" height="7" fill="#f87a6c"/>
<rect x="353.6" y="323" width="11.8" height="7" fill="#939396"/>
<rect x="365.3" y="306" width="36.3" height="6.8" fill="#ea5a7f"/>
<rect x="365.3" y="314.6" width="36.3" height="7" fill="#f87a6c"/>
<rect x="365.3" y="323" width="36.3" height="7" fill="#f7dc52"/>
<rect x="401.5" y="306" width="1.8" height="6.8" fill="#7d4f9e"/>
<rect x="401.5" y="314.6" width="1.8" height="7" fill="#5d87bf"/>
<rect x="401.5" y="323" width="1.8" height="7" fill="#939396"/>
<rect x="403.2" y="306" width="2.3" height="6.8" fill="#ea5a7f"/>
<rect x="403.2" y="314.6" width="2.3" height="7" fill="#f87a6c"/>
<rect x="403.2" y="323" width="2.3" height="7" fill="#f7dc52"/>
<rect x="405.4" y="306" width="32.3" height="6.8" fill="#0e3c5c"/>
<rect x="405.4" y="314.6" width="32.3" height="7" fill="#f87a6c"/>
<rect x="405.4" y="323" width="32.3" height="7" fill="#939396"/>
<rect x="49.7" y="332" width="387.8" height="6.8" fill="#cfd9dc"/>
<rect x="56" y="332" width="7.3" height="6.8" fill="#5d3a8c"/>
<rect x="65.8" y="332" width="3.8" height="6.8" fill="#5d3a8c"/>
<rect x="71.8" y="332" width="2" height="6.8" fill="#5d3a8c"/>
<rect x="75.7" y="332" width="10" height="6.8" fill="#5d3a8c"/>
<rect x="87.7" y="332" width="5.8" height="6.8" fill="#5d3a8c"/>
<rect x="95.7" y="332" width="5.9" height="6.8" fill="#5d3a8c"/>
<rect x="107.6" y="332" width="2" height="6.8" fill="#5d3a8c"/>
<rect x="111.5" y="332" width="2.2" height="6.8" fill="#5d3a8c"/>
<rect x="123.6" y="332" width="2.1" height="6.8" fill="#5d3a8c"/>
<rect x="218" y="332" width="3.2" height="6.8" fill="#5d3a8c"/>
<rect x="251.5" y="332" width="1.9" height="6.8" fill="#5d3a8c"/>
<rect x="289.9" y="332" width="3.5" height="6.8" fill="#5d3a8c"/>
<rect x="305.8" y="332" width="3.6" height="6.8" fill="#5d3a8c"/>
<rect x="323.8" y="332" width="1.7" height="6.8" fill="#5d3a8c"/>
<rect x="327.8" y="332" width="3.2" height="6.8" fill="#5d3a8c"/>
<rect x="335.4" y="332" width="2.2" height="6.8" fill="#5d3a8c"/>
<rect x="339.5" y="332" width="2" height="6.8" fill="#5d3a8c"/>
<rect x="345.6" y="332" width="1.7" height="6.8" fill="#5d3a8c"/>
<rect x="359.4" y="332" width="3.7" height="6.8" fill="#5d3a8c"/>
<rect x="409.8" y="332" width="3.7" height="6.8" fill="#5d3a8c"/>
<rect x="415.6" y="332" width="3.7" height="6.8" fill="#5d3a8c"/>
<rect x="425.4" y="332" width="1.9" height="6.8" fill="#5d3a8c"/>
<rect x="431.3" y="332" width="6.2" height="6.8" fill="#5d3a8c"/>
<path d="M57.4 305.5V287.7H60.4V305.5M54.4 305.5V286.0H58.9V287.7M63.3 305.5V291.9H66.3V305.5M81.1 305.5V297.8H84.0V305.5M78.1 305.5V297.8H82.5V297.8M75.1 305.5V297.8H80.3V297.8M87.0 305.5V297.8H89.9V305.5M77.7 297.8V296.3H88.5V297.8M72.2 305.5V294.2H83.1V296.3M69.2 305.5V292.3H77.6V294.2M64.8 291.9V290.8H73.4V292.3M92.9 305.5V293.7H95.8V305.5M98.8 305.5V294.7H101.8V305.5M104.7 305.5V295.2H107.7V305.5M100.3 294.7V293.1H106.2V295.2M94.4 293.7V291.1H103.2V293.1M69.1 290.8V289.0H98.8V291.1M110.6 305.5V292.2H113.6V305.5M116.6 305.5V292.5H119.5V305.5M112.1 292.2V290.6H118.0V292.5M125.4 305.5V295.3H128.4V305.5M134.3 305.5V295.9H137.3V305.5M131.3 305.5V294.8H135.8V295.9M126.9 295.3V293.0H133.6V294.8M122.5 305.5V290.7H130.2V293.0M115.1 290.6V289.6H126.4V290.7M146.1 305.5V297.4H149.1V305.5M152.1 305.5V297.7H155.0V305.5M147.6 297.4V295.7H153.5V297.7M143.2 305.5V293.9H150.6V295.7M140.2 305.5V292.6H146.9V293.9M158.0 305.5V296.1H160.9V305.5M178.7 305.5V297.8H181.6V305.5M175.7 305.5V297.8H180.2V297.8M172.8 305.5V297.8H177.9V297.8M169.8 305.5V297.8H175.3V297.8M166.8 305.5V296.6H172.6V297.8M163.9 305.5V295.1H169.7V296.6M159.4 296.1V293.7H166.8V295.1M143.5 292.6V291.0H163.1V293.7M184.6 305.5V293.2H187.5V305.5M196.4 305.5V296.7H199.4V305.5M193.5 305.5V295.0H197.9V296.7M190.5 305.5V292.2H195.7V295.0M186.1 293.2V291.0H193.1V292.2M153.3 291.0V289.9H189.6V291.0M120.7 289.6V287.8H171.5V289.9M84.0 289.0V286.5H146.1V287.8M56.7 286.0V284.2H115.0V286.5M202.3 305.5V286.4H205.3V305.5M211.2 305.5V292.5H214.2V305.5M208.3 305.5V290.9H212.7V292.5M223.0 305.5V291.3H226.0V305.5M220.1 305.5V290.0H224.5V291.3M217.1 305.5V289.0H222.3V290.0M210.5 290.9V288.1H219.7V289.0M203.8 286.4V285.5H215.1V288.1M231.9 305.5V290.1H234.9V305.5M229.0 305.5V288.1H233.4V290.1M243.8 305.5V290.0H246.7V305.5M240.8 305.5V288.4H245.2V290.0M237.8 305.5V287.5H243.0V288.4M231.2 288.1V286.5H240.4V287.5M252.6 305.5V293.4H255.6V305.5M249.7 305.5V291.1H254.1V293.4M258.5 305.5V292.5H261.5V305.5M251.9 291.1V289.9H260.0V292.5M267.4 305.5V292.7H270.4V305.5M264.5 305.5V290.4H268.9V292.7M256.0 289.9V288.8H266.7V290.4M276.3 305.5V292.9H279.2V305.5M273.3 305.5V290.9H277.8V292.9M282.2 305.5V292.3H285.2V305.5M275.5 290.9V289.6H283.7V292.3M261.3 288.8V287.6H279.6V289.6M235.8 286.5V285.6H270.5V287.6M209.5 285.5V283.9H253.1V285.6M85.8 284.2V281.3H231.3V283.9M288.1 305.5V285.3H291.1V305.5M297.0 305.5V286.6H300.0V305.5M294.0 305.5V284.7H298.5V286.6M289.6 285.3V283.6H296.3V284.7M302.9 305.5V284.4H305.9V305.5M308.8 305.5V284.2H311.8V305.5M304.4 284.4V283.0H310.3V284.2M320.7 305.5V287.2H323.6V305.5M317.7 305.5V285.2H322.1V287.2M314.7 305.5V284.0H319.9V285.2M307.3 283.0V281.6H317.3V284.0M329.5 305.5V289.6H332.5V305.5M326.6 305.5V288.3H331.0V289.6M335.4 305.5V288.7H338.4V305.5M328.8 288.3V287.3H336.9V288.7M347.3 305.5V293.4H350.2V305.5M344.3 305.5V291.8H348.8V293.4M356.2 305.5V295.4H359.1V305.5M353.2 305.5V292.6H357.6V295.4M346.5 291.8V289.9H355.4V292.6M341.4 305.5V288.7H351.0V289.9M332.9 287.3V286.0H346.2V288.7M362.1 305.5V290.2H365.0V305.5M376.9 305.5V297.8H379.8V305.5M373.9 305.5V297.0H378.3V297.8M382.8 305.5V296.6H385.7V305.5M376.1 297.0V295.5H384.3V296.6M370.9 305.5V293.6H380.2V295.5M368.0 305.5V291.6H375.6V293.6M391.7 305.5V297.6H394.6V305.5M388.7 305.5V296.0H393.1V297.6M397.6 305.5V294.9H400.5V305.5M390.9 296.0V293.7H399.0V294.9M406.4 305.5V297.6H409.4V305.5M403.5 305.5V294.9H407.9V297.6M412.4 305.5V294.1H415.3V305.5M405.7 294.9V293.1H413.8V294.1M395.0 293.7V292.1H409.8V293.1M371.8 291.6V289.4H402.4V292.1M363.5 290.2V287.6H387.1V289.4M424.2 305.5V293.0H427.1V305.5M433.1 305.5V293.3H436.0V305.5M430.1 305.5V292.3H434.5V293.3M425.7 293.0V291.4H432.3V292.3M421.2 305.5V289.3H429.0V291.4M418.3 305.5V286.7H425.1V289.3M375.3 287.6V285.6H421.7V286.7M339.5 286.0V283.5H398.5V285.6M312.3 281.6V280.2H369.0V283.5M292.9 283.6V276.9H340.7V280.2M158.6 281.3V273.0H316.8V276.9M51.5 305.5V267.4H237.7V273.0" fill="none" stroke="#2a2a2a" stroke-width="0.55"/>
<path d="M39.2 342.7H22.0V343.6H39.2M39.2 341.9H21.0V343.2H22.0M39.2 341.0H18.1V342.5H21.0M39.2 344.4H17.7V345.3H39.2M18.1 341.8H15.7V344.9H17.7M39.2 347.8H24.7V348.7H39.2M39.2 347.0H22.5V348.3H24.7M39.2 346.1H20.0V347.6H22.5M39.2 349.5H19.5V350.4H39.2M20.0 346.9H18.6V350.0H19.5M39.2 351.3H18.6V352.1H39.2M18.6 348.4H17.6V351.7H18.6M39.2 353.8H21.6V354.7H39.2M39.2 353.0H20.6V354.2H21.6M39.2 356.4H22.3V357.2H39.2M39.2 358.1H29.1V358.9H39.2M22.3 356.8H21.7V358.5H29.1M39.2 355.5H20.1V357.6H21.7M39.2 359.8H23.2V360.6H39.2M39.2 362.3H28.7V363.2H39.2M39.2 361.5H26.9V362.8H28.7M39.2 364.0H27.1V364.9H39.2M26.9 362.1H25.5V364.5H27.1M39.2 366.6H25.9V367.4H39.2M39.2 365.7H24.5V367.0H25.9M25.5 363.3H23.7V366.4H24.5M23.2 360.2H22.0V364.8H23.7M20.1 356.6H19.5V362.5H22.0M20.6 353.6H18.1V359.6H19.5M17.6 350.1H16.3V356.6H18.1M15.7 343.3H15.1V353.3H16.3M39.2 370.0H19.4V370.9H39.2M39.2 371.7H32.3V372.6H39.2M19.4 370.4H18.4V372.1H32.3M39.2 369.2H16.4V371.3H18.4M39.2 368.3H15.1V370.2H16.4M15.1 348.3H13.6V369.3H15.1M39.2 373.4H16.3V374.3H39.2M39.2 376.0H29.4V376.8H39.2M39.2 375.1H28.0V376.4H29.4M16.3 373.8H14.7V375.8H28.0M39.2 378.5H17.7V379.4H39.2M39.2 377.7H15.4V379.0H17.7M14.7 374.8H14.0V378.3H15.4M13.6 358.8H11.9V376.6H14.0M39.2 381.9H27.7V382.8H39.2M39.2 381.1H24.8V382.4H27.7M39.2 380.2H15.4V381.7H24.8M39.2 384.5H18.0V385.3H39.2M39.2 383.6H16.3V384.9H18.0M39.2 387.1H20.4V387.9H39.2M39.2 386.2H19.4V387.5H20.4M39.2 388.8H22.5V389.6H39.2M39.2 390.5H21.8V391.3H39.2M22.5 389.2H20.3V390.9H21.8M39.2 393.0H23.3V393.9H39.2M39.2 392.2H21.9V393.4H23.3M39.2 394.7H22.2V395.6H39.2M21.9 392.8H19.4V395.1H22.2M20.3 390.0H17.9V394.0H19.4M19.4 386.8H16.9V392.0H17.9M16.3 384.3H14.6V389.4H16.9M15.4 381.0H13.0V386.9H14.6M11.9 367.7H10.5V383.9H13.0M39.2 400.3H19.0V401.1H39.2M39.2 399.4H17.3V400.7H19.0M39.2 402.8H18.7V403.7H39.2M39.2 402.0H16.5V403.3H18.7M17.3 400.1H15.5V402.6H16.5M39.2 404.5H18.9V405.4H39.2M39.2 407.1H23.2V407.9H39.2M39.2 406.2H21.2V407.5H23.2M39.2 409.6H23.3V410.5H39.2M39.2 408.8H21.1V410.1H23.3M21.2 406.9H18.9V409.4H21.1M18.9 405.0H16.1V408.2H18.9M15.5 401.3H14.5V406.6H16.1M39.2 412.2H24.8V413.1H39.2M39.2 413.9H20.3V414.8H39.2M39.2 416.5H31.3V417.3H39.2M39.2 419.0H25.4V419.9H39.2M39.2 418.2H23.6V419.4H25.4M31.3 416.9H22.0V418.8H23.6M39.2 415.6H20.9V417.8H22.0M20.3 414.3H18.8V416.7H20.9M24.8 412.6H17.7V415.5H18.8M39.2 411.3H14.9V414.1H17.7M14.5 404.0H12.4V412.7H14.9M39.2 422.4H19.4V423.3H39.2M39.2 424.1H20.1V425.0H39.2M19.4 422.8H18.4V424.5H20.1M39.2 421.6H15.9V423.7H18.4M39.2 425.8H19.4V426.7H39.2M39.2 428.4H24.0V429.2H39.2M39.2 431.8H27.2V432.6H39.2M39.2 430.9H24.7V432.2H27.2M39.2 430.1H23.0V431.6H24.7M24.0 428.8H21.4V430.8H23.0M39.2 427.5H20.0V429.8H21.4M19.4 426.3H17.4V428.7H20.0M15.9 422.6H14.6V427.5H17.4M39.2 420.7H13.3V425.0H14.6M12.4 408.3H11.1V422.9H13.3M39.2 434.3H34.4V435.2H39.2M39.2 433.5H27.3V434.8H34.4M39.2 436.9H38.4V437.7H39.2M39.2 440.3H38.4V441.2H39.2M39.2 439.5H37.7V440.7H38.4M39.2 438.6H38.4V440.1H37.7M38.4 437.3H38.4V439.3H38.4M39.2 436.0H37.7V438.3H38.4M39.2 442.9H37.7V443.7H39.2M39.2 442.0H31.5V443.3H37.7M39.2 445.4H33.8V446.3H39.2M39.2 444.6H33.0V445.8H33.8M31.5 442.6H30.8V445.2H33.0M37.7 437.2H28.1V443.9H30.8M27.3 434.1H26.4V440.6H28.1M39.2 448.0H23.3V448.8H39.2M39.2 450.5H24.5V451.4H39.2M39.2 449.7H22.6V450.9H24.5M23.3 448.4H21.7V450.3H22.6M39.2 447.1H20.1V449.4H21.7M39.2 452.2H19.5V453.1H39.2M20.1 448.2H18.8V452.7H19.5M39.2 453.9H20.9V454.8H39.2M39.2 455.6H26.3V456.5H39.2M20.9 454.4H18.4V456.1H26.3M18.8 450.4H16.2V455.2H18.4M39.2 459.9H23.1V460.7H39.2M39.2 459.0H20.9V460.3H23.1M39.2 458.2H19.3V459.7H20.9M39.2 457.3H17.2V458.9H19.3M16.2 452.8H15.6V458.1H17.2M26.4 437.3H12.9V455.5H15.6M39.2 461.6H15.2V462.4H39.2M39.2 463.3H18.0V464.1H39.2M39.2 465.0H24.6V465.9H39.2M39.2 467.6H20.3V468.4H39.2M39.2 470.1H23.5V471.0H39.2M39.2 469.3H20.7V470.5H23.5M20.3 468.0H19.4V469.9H20.7M39.2 466.7H18.5V468.9H19.4M24.6 465.4H17.8V467.8H18.5M18.0 463.7H17.0V466.6H17.8M15.2 462.0H14.3V465.2H17.0M39.2 471.8H30.0V472.7H39.2M39.2 473.5H31.0V474.4H39.2M39.2 476.1H35.4V476.9H39.2M39.2 478.6H35.6V479.5H39.2M39.2 477.8H34.2V479.1H35.6M35.4 476.5H32.8V478.4H34.2M39.2 475.2H31.0V477.5H32.8M31.0 473.9H28.9V476.3H31.0M30.0 472.2H27.4V475.1H28.9M39.2 481.2H24.5V482.0H39.2M39.2 480.3H22.4V481.6H24.5M39.2 482.9H27.4V483.7H39.2M39.2 484.6H26.6V485.4H39.2M27.4 483.3H25.1V485.0H26.6M39.2 487.1H28.6V488.0H39.2M39.2 486.3H26.7V487.6H28.6M39.2 490.5H28.7V491.4H39.2M39.2 489.7H27.6V491.0H28.7M39.2 488.8H26.8V490.3H27.6M26.7 486.9H24.2V489.6H26.8M25.1 484.2H23.1V488.3H24.2M22.4 481.0H20.8V486.2H23.1M27.4 473.7H19.5V483.6H20.8M39.2 492.3H23.3V493.1H39.2M39.2 494.0H21.9V494.8H39.2M23.3 492.7H20.6V494.4H21.9M39.2 496.5H20.4V497.4H39.2M39.2 495.7H19.5V496.9H20.4M20.6 493.5H18.9V496.3H19.5M19.5 478.6H16.8V494.9H18.9M39.2 499.1H36.3V499.9H39.2M39.2 500.8H37.0V501.6H39.2M36.3 499.5H34.8V501.2H37.0M39.2 498.2H21.7V500.3H34.8M39.2 502.5H24.5V503.3H39.2M39.2 504.2H23.8V505.0H39.2M24.5 502.9H21.7V504.6H23.8M21.7 499.3H20.4V503.7H21.7M39.2 507.6H28.4V508.4H39.2M39.2 506.7H27.3V508.0H28.4M39.2 511.0H34.0V511.8H39.2M39.2 510.1H27.6V511.4H34.0M39.2 509.3H26.0V510.8H27.6M27.3 507.4H25.0V510.0H26.0M39.2 512.7H24.5V513.5H39.2M39.2 514.4H26.3V515.2H39.2M24.5 513.1H23.8V514.8H26.3M25.0 508.7H22.8V514.0H23.8M39.2 505.9H20.7V511.3H22.8M39.2 516.1H26.0V516.9H39.2M39.2 517.8H24.5V518.7H39.2M26.0 516.5H23.4V518.2H24.5M39.2 519.5H25.4V520.4H39.2M39.2 521.2H26.6V522.1H39.2M25.4 519.9H24.2V521.6H26.6M23.4 517.4H22.7V520.8H24.2M39.2 523.8H25.8V524.6H39.2M39.2 522.9H23.1V524.2H25.8M22.7 519.1H21.0V523.5H23.1M39.2 525.5H27.0V526.3H39.2M39.2 528.0H28.5V528.9H39.2M39.2 527.2H27.2V528.4H28.5M27.0 525.9H25.1V527.8H27.2M39.2 529.7H24.5V530.6H39.2M25.1 526.8H22.8V530.1H24.5M21.0 521.3H20.2V528.5H22.8M20.7 508.6H19.5V524.9H20.2M20.4 501.5H17.8V516.8H19.5M16.8 486.8H15.9V509.1H17.8M14.3 463.6H13.4V498.0H15.9M12.9 446.4H11.7V480.8H13.4M11.1 415.6H10.5V463.6H11.7M39.2 536.1H26.8V537.0H39.2M39.2 535.3H19.2V536.6H26.8M39.2 534.4H17.5V535.9H19.2M39.2 537.9H22.7V538.7H39.2M39.2 540.4H24.6V541.3H39.2M39.2 539.6H23.0V540.9H24.6M22.7 538.3H20.8V540.2H23.0M39.2 543.9H27.6V544.7H39.2M39.2 543.0H26.4V544.3H27.6M39.2 542.2H25.4V543.7H26.4M39.2 546.5H26.2V547.3H39.2M39.2 545.6H23.9V546.9H26.2M25.4 542.9H23.0V546.2H23.9M39.2 549.0H33.4V549.9H39.2M39.2 548.2H27.0V549.5H33.4M23.0 544.6H20.6V548.8H27.0M20.8 539.3H18.2V546.7H20.6M17.5 535.2H15.8V543.0H18.2M39.2 552.5H19.3V553.3H39.2M39.2 551.6H17.9V552.9H19.3M39.2 550.8H16.3V552.3H17.9M39.2 555.0H20.9V555.9H39.2M39.2 554.2H20.0V555.5H20.9M39.2 556.8H22.4V557.6H39.2M39.2 561.1H29.5V561.9H39.2M39.2 560.2H28.4V561.5H29.5M39.2 559.3H25.9V560.8H28.4M39.2 558.5H23.1V560.1H25.9M22.4 557.2H20.8V559.3H23.1M39.2 563.6H30.3V564.5H39.2M39.2 562.8H19.7V564.1H30.3M20.8 558.2H18.3V563.4H19.7M20.0 554.8H17.5V560.8H18.3M16.3 551.5H14.7V557.8H17.5M15.8 539.1H13.4V554.7H14.7M39.2 567.1H19.9V567.9H39.2M39.2 566.2H18.7V567.5H19.9M39.2 565.4H17.2V566.9H18.7M39.2 568.8H26.5V569.7H39.2M39.2 571.4H29.0V572.2H39.2M39.2 570.5H28.3V571.8H29.0M39.2 573.1H26.5V574.0H39.2M28.3 571.2H25.9V573.5H26.5M26.5 569.2H24.2V572.3H25.9M39.2 576.5H23.1V577.4H39.2M39.2 575.7H20.9V577.0H23.1M39.2 574.8H19.1V576.3H20.9M24.2 570.8H16.9V575.6H19.1M17.2 566.1H14.7V573.2H16.9M39.2 578.2H17.6V579.1H39.2M39.2 580.0H17.4V580.8H39.2M17.6 578.7H15.2V580.4H17.4M14.7 569.6H12.8V579.5H15.2M39.2 583.4H24.9V584.3H39.2M39.2 582.5H22.1V583.8H24.9M39.2 586.0H26.8V586.8H39.2M39.2 585.1H24.6V586.4H26.8M39.2 589.4H33.8V590.3H39.2M39.2 588.6H31.0V589.8H33.8M39.2 587.7H30.2V589.2H31.0M24.6 585.8H23.5V588.4H30.2M22.1 583.2H21.5V587.1H23.5M39.2 581.7H19.7V585.1H21.5M39.2 592.0H20.1V592.9H39.2M39.2 591.1H18.1V592.4H20.1M39.2 593.7H16.8V594.6H39.2M18.1 591.8H15.3V594.1H16.8M19.7 583.4H12.5V593.0H15.3M12.8 574.6H11.4V588.2H12.5M13.4 546.9H10.5V581.4H11.4M39.2 598.4H20.2V599.3H39.2M39.2 600.1H22.7V601.0H39.2M39.2 602.7H25.4V603.6H39.2M39.2 601.9H24.7V603.1H25.4M39.2 604.4H25.7V605.3H39.2M24.7 602.5H23.7V604.8H25.7M22.7 600.6H21.8V603.7H23.7M20.2 598.9H19.0V602.1H21.8M39.2 606.1H23.7V607.0H39.2M39.2 607.8H23.2V608.7H39.2M23.7 606.6H21.0V608.3H23.2M39.2 610.4H20.9V611.3H39.2M39.2 609.6H20.3V610.8H20.9M21.0 607.4H19.2V610.2H20.3M19.0 600.5H17.4V608.8H19.2M39.2 614.7H28.3V615.5H39.2M39.2 613.8H26.8V615.1H28.3M39.2 613.0H24.3V614.5H26.8M39.2 612.1H21.6V613.7H24.3M39.2 617.3H28.3V618.1H39.2M39.2 619.0H29.8V619.8H39.2M28.3 617.7H27.6V619.4H29.8M39.2 616.4H25.8V618.5H27.6M39.2 620.7H37.7V621.5H39.2M39.2 622.4H30.4V623.2H39.2M37.7 621.1H28.0V622.8H30.4M25.8 617.5H25.2V622.0H28.0M39.2 624.1H25.0V625.0H39.2M39.2 626.7H28.0V627.5H39.2M39.2 629.2H29.3V630.1H39.2M39.2 628.4H27.7V629.7H29.3M28.0 627.1H26.8V629.0H27.7M39.2 625.8H26.1V628.1H26.8M39.2 630.9H26.8V631.8H39.2M26.1 626.9H25.3V631.4H26.8M25.0 624.5H23.5V629.2H25.3M25.2 619.7H22.3V626.8H23.5M21.6 612.9H20.0V623.3H22.3M39.2 632.7H22.7V633.5H39.2M39.2 634.4H22.8V635.2H39.2M39.2 636.1H22.9V636.9H39.2M22.8 634.8H22.0V636.5H22.9M22.7 633.1H21.2V635.6H22.0M20.0 618.1H19.2V634.4H21.2M17.4 604.6H16.7V626.2H19.2M39.2 638.6H37.6V639.5H39.2M39.2 640.4H38.4V641.2H39.2M37.6 639.1H36.9V640.8H38.4M39.2 642.9H31.4V643.8H39.2M39.2 642.1H28.7V643.4H31.4M36.9 639.9H26.7V642.7H28.7M39.2 644.6H30.1V645.5H39.2M39.2 647.2H32.7V648.1H39.2M39.2 646.3H30.3V647.6H32.7M30.1 645.1H27.6V647.0H30.3M39.2 648.9H37.7V649.8H39.2M27.6 646.0H27.0V649.3H37.7M26.7 641.3H25.9V647.7H27.0M39.2 637.8H15.4V644.5H25.9M16.7 615.4H13.9V641.1H15.4M39.2 651.5H33.0V652.3H39.2M39.2 653.2H37.7V654.0H39.2M33.0 651.9H32.0V653.6H37.7M39.2 650.6H30.5V652.8H32.0M39.2 655.8H35.2V656.6H39.2M39.2 654.9H22.7V656.2H35.2M39.2 658.3H27.9V659.2H39.2M39.2 660.9H30.3V661.7H39.2M39.2 660.0H29.5V661.3H30.3M27.9 658.8H26.8V660.7H29.5M39.2 657.5H24.5V659.7H26.8M22.7 655.5H21.8V658.6H24.5M30.5 651.7H19.4V657.1H21.8M39.2 662.6H21.9V663.5H39.2M39.2 664.3H28.8V665.2H39.2M39.2 666.9H29.5V667.7H39.2M39.2 666.0H27.7V667.3H29.5M28.8 664.7H27.1V666.7H27.7M21.9 663.0H21.0V665.7H27.1M39.2 669.4H25.1V670.3H39.2M39.2 668.6H24.2V669.9H25.1M39.2 671.2H31.2V672.0H39.2M24.2 669.2H22.8V671.6H31.2M39.2 672.9H22.6V673.7H39.2M22.8 670.4H21.5V673.3H22.6M21.0 664.4H19.5V671.9H21.5M19.4 654.4H17.9V668.1H19.5M39.2 675.4H23.1V676.3H39.2M39.2 677.1H23.8V678.0H39.2M39.2 678.9H24.6V679.7H39.2M23.8 677.6H22.9V679.3H24.6M23.1 675.9H21.6V678.4H22.9M39.2 674.6H20.8V677.1H21.6M39.2 681.4H26.4V682.3H39.2M39.2 683.1H27.4V684.0H39.2M26.4 681.9H25.1V683.6H27.4M39.2 680.6H24.2V682.7H25.1M39.2 684.9H34.2V685.7H39.2M24.2 681.6H22.3V685.3H34.2M20.8 675.9H19.5V683.5H22.3M39.2 686.6H22.9V687.4H39.2M39.2 690.0H26.2V690.8H39.2M39.2 689.1H25.5V690.4H26.2M39.2 688.3H23.6V689.8H25.5M22.9 687.0H20.9V689.0H23.6M39.2 694.3H36.7V695.1H39.2M39.2 693.4H27.0V694.7H36.7M39.2 692.6H25.1V694.0H27.0M39.2 696.0H24.8V696.8H39.2M25.1 693.3H24.0V696.4H24.8M39.2 699.4H28.6V700.3H39.2M39.2 698.5H26.3V699.8H28.6M39.2 697.7H24.1V699.2H26.3M24.0 694.9H23.3V698.4H24.1M39.2 691.7H21.3V696.6H23.3M20.9 688.0H20.3V694.2H21.3M19.5 679.7H18.3V691.1H20.3M17.9 661.2H15.5V685.4H18.3M13.9 628.3H13.0V673.3H15.5M39.2 702.8H23.3V703.7H39.2M39.2 702.0H20.5V703.2H23.3M39.2 701.1H19.3V702.6H20.5M39.2 705.4H21.0V706.2H39.2M39.2 704.5H18.9V705.8H21.0M19.3 701.9H17.5V705.2H18.9M39.2 707.1H18.0V708.0H39.2M39.2 708.8H18.8V709.7H39.2M18.0 707.5H16.8V709.2H18.8M17.5 703.5H15.7V708.4H16.8M39.2 710.5H17.1V711.4H39.2M39.2 713.9H18.6V714.8H39.2M39.2 713.1H17.8V714.4H18.6M39.2 712.2H16.9V713.7H17.8M17.1 710.9H15.7V713.0H16.9M15.7 705.9H14.9V712.0H15.7M39.2 716.5H18.5V717.4H39.2M39.2 715.7H17.1V716.9H18.5M39.2 719.1H31.5V719.9H39.2M39.2 718.2H29.0V719.5H31.5M17.1 716.3H15.2V718.9H29.0M14.9 709.0H14.0V717.6H15.2M39.2 720.8H26.7V721.6H39.2M39.2 722.5H28.6V723.4H39.2M39.2 725.9H33.8V726.8H39.2M39.2 725.1H32.5V726.4H33.8M39.2 724.2H30.4V725.7H32.5M39.2 728.5H34.4V729.3H39.2M39.2 727.6H32.4V728.9H34.4M39.2 730.2H37.7V731.1H39.2M32.4 728.3H29.9V730.6H37.7M30.4 725.0H28.0V729.5H29.9M28.6 722.9H27.3V727.2H28.0M26.7 721.2H26.0V725.1H27.3M39.2 732.8H27.3V733.6H39.2M39.2 731.9H24.8V733.2H27.3M26.0 723.1H23.2V732.6H24.8M39.2 735.3H23.6V736.2H39.2M39.2 734.5H21.6V735.8H23.6M39.2 738.8H26.9V739.6H39.2M39.2 737.9H25.7V739.2H26.9M39.2 737.0H22.9V738.5H25.7M39.2 741.3H22.3V742.2H39.2M39.2 740.5H21.5V741.8H22.3M22.9 737.8H20.6V741.1H21.5M21.6 735.1H18.8V739.5H20.6M39.2 743.0H23.2V743.9H39.2M39.2 744.7H22.7V745.6H39.2M23.2 743.5H21.3V745.2H22.7M39.2 747.3H23.9V748.2H39.2M39.2 746.5H22.1V747.7H23.9M21.3 744.3H19.6V747.1H22.1M18.8 737.3H17.5V745.7H19.6M23.2 727.8H14.8V741.5H17.5M39.2 749.0H16.9V749.9H39.2M39.2 752.4H21.8V753.3H39.2M39.2 751.6H20.3V752.9H21.8M39.2 750.7H19.4V752.2H20.3M39.2 755.0H20.7V755.9H39.2M39.2 754.2H19.6V755.4H20.7M19.4 751.5H17.6V754.8H19.6M16.9 749.5H15.6V753.1H17.6M14.8 734.7H14.0V751.3H15.6M14.0 713.3H12.7V743.0H14.0M13.0 650.8H10.5V728.1H12.7M10.5 375.8H3.0V439.6H10.5M10.5 564.1H4.5V689.5H10.5M3.0 407.7H1.3V626.8H4.5" fill="none" stroke="#505050" stroke-width="0.6"/>
<path d="M22.0 342.73H39.2M22.0 343.58H39.2M21.0 341.88H39.2M18.1 341.03H39.2M17.7 344.44H39.2M17.7 345.29H39.2M24.7 347.84H39.2M24.7 348.70H39.2M22.5 346.99H39.2M20.0 346.14H39.2M19.5 349.55H39.2M19.5 350.40H39.2M18.6 351.25H39.2M18.6 352.11H39.2M21.6 353.81H39.2M21.6 354.66H39.2M20.6 352.96H39.2M22.3 356.37H39.2M22.3 357.22H39.2M29.1 358.07H39.2M29.1 358.92H39.2M20.1 355.52H39.2M23.2 359.78H39.2M23.2 360.63H39.2M28.7 362.33H39.2M28.7 363.19H39.2M26.9 361.48H39.2M27.1 364.04H39.2M25.9 366.60H39.2M25.9 367.45H39.2M24.5 365.74H39.2M19.4 370.00H39.2M19.4 370.86H39.2M32.3 371.71H39.2M32.3 372.56H39.2M16.4 369.15H39.2M15.1 368.30H39.2M16.3 373.41H39.2M16.3 374.27H39.2M29.4 375.97H39.2M29.4 376.82H39.2M28.0 375.12H39.2M17.7 378.53H39.2M17.7 379.38H39.2M27.7 382.79H39.2M24.8 381.08H39.2M18.0 384.49H39.2M16.3 383.64H39.2M20.4 387.90H39.2M19.4 386.20H39.2M22.5 388.76H39.2M22.5 389.61H39.2M21.8 391.31H39.2M23.3 393.02H39.2M23.3 393.87H39.2M21.9 392.16H39.2M22.2 394.72H39.2M22.2 395.57H39.2M19.0 400.28H39.2M19.0 401.13H39.2M17.3 399.43H39.2M18.7 402.83H39.2M18.7 403.68H39.2M16.5 401.98H39.2M18.9 404.54H39.2M23.2 407.09H39.2M23.2 407.94H39.2M21.2 406.24H39.2M23.3 409.65H39.2M23.3 410.50H39.2M21.1 408.79H39.2M24.8 412.20H39.2M24.8 413.05H39.2M20.3 413.90H39.2M20.3 414.75H39.2M31.3 416.46H39.2M31.3 417.31H39.2M25.4 419.86H39.2M23.6 418.16H39.2M14.9 411.35H39.2M19.4 422.42H39.2M19.4 423.27H39.2M20.1 424.12H39.2M20.1 424.97H39.2M15.9 421.57H39.2M19.4 426.68H39.2M24.0 428.38H39.2M24.0 429.23H39.2M27.2 431.79H39.2M27.2 432.64H39.2M24.7 430.94H39.2M23.0 430.08H39.2M20.0 427.53H39.2M13.3 420.72H39.2M34.4 434.34H39.2M34.4 435.19H39.2M27.3 433.49H39.2M38.4 436.90H39.2M38.4 437.75H39.2M38.4 440.30H39.2M38.4 441.15H39.2M37.7 439.45H39.2M37.7 436.05H39.2M37.7 442.86H39.2M37.7 443.71H39.2M31.5 442.01H39.2M33.8 445.41H39.2M33.8 446.26H39.2M33.0 444.56H39.2M23.3 447.97H39.2M23.3 448.82H39.2M24.5 450.52H39.2M24.5 451.37H39.2M22.6 449.67H39.2M20.1 447.12H39.2M19.5 452.23H39.2M19.5 453.08H39.2M20.9 453.93H39.2M20.9 454.78H39.2M26.3 455.63H39.2M26.3 456.48H39.2M23.1 459.89H39.2M23.1 460.74H39.2M20.9 459.04H39.2M19.3 458.19H39.2M17.2 457.34H39.2M15.2 461.59H39.2M15.2 462.45H39.2M18.0 463.30H39.2M18.0 464.15H39.2M24.6 465.00H39.2M24.6 465.85H39.2M20.3 467.55H39.2M20.3 468.41H39.2M23.5 470.11H39.2M23.5 470.96H39.2M20.7 469.26H39.2M18.5 466.70H39.2M30.0 471.81H39.2M30.0 472.66H39.2M31.0 473.52H39.2M35.4 476.07H39.2M35.4 476.92H39.2M35.6 478.63H39.2M35.6 479.48H39.2M34.2 477.77H39.2M31.0 475.22H39.2M24.5 481.18H39.2M24.5 482.03H39.2M22.4 480.33H39.2M27.4 482.88H39.2M27.4 483.74H39.2M26.6 484.59H39.2M26.6 485.44H39.2M28.6 487.14H39.2M28.6 487.99H39.2M26.7 486.29H39.2M28.7 491.40H39.2M27.6 489.70H39.2M26.8 488.85H39.2M23.3 492.25H39.2M23.3 493.10H39.2M21.9 493.95H39.2M21.9 494.81H39.2M20.4 496.51H39.2M20.4 497.36H39.2M19.5 495.66H39.2M36.3 499.06H39.2M36.3 499.92H39.2M37.0 500.77H39.2M37.0 501.62H39.2M21.7 498.21H39.2M24.5 502.47H39.2M24.5 503.32H39.2M23.8 504.17H39.2M23.8 505.03H39.2M28.4 507.58H39.2M28.4 508.43H39.2M27.3 506.73H39.2M34.0 510.99H39.2M34.0 511.84H39.2M27.6 510.14H39.2M26.0 509.28H39.2M24.5 512.69H39.2M24.5 513.54H39.2M26.3 514.39H39.2M26.3 515.25H39.2M20.7 505.88H39.2M26.0 516.10H39.2M26.0 516.95H39.2M24.5 517.80H39.2M24.5 518.65H39.2M25.4 519.50H39.2M26.6 521.21H39.2M26.6 522.06H39.2M25.8 524.61H39.2M23.1 522.91H39.2M27.0 525.46H39.2M27.0 526.32H39.2M28.5 528.02H39.2M28.5 528.87H39.2M27.2 527.17H39.2M24.5 529.72H39.2M24.5 530.57H39.2M26.8 536.15H39.2M26.8 537.01H39.2M22.7 537.87H39.2M22.7 538.73H39.2M24.6 540.44H39.2M24.6 541.30H39.2M23.0 539.58H39.2M27.6 543.88H39.2M27.6 544.74H39.2M26.4 543.02H39.2M25.4 542.16H39.2M26.2 546.46H39.2M26.2 547.32H39.2M23.9 545.60H39.2M33.4 549.04H39.2M33.4 549.89H39.2M27.0 548.18H39.2M19.3 552.47H39.2M19.3 553.33H39.2M17.9 551.61H39.2M20.9 555.05H39.2M20.9 555.91H39.2M20.0 554.19H39.2M22.4 556.77H39.2M29.5 561.06H39.2M29.5 561.92H39.2M28.4 560.20H39.2M25.9 559.35H39.2M23.1 558.49H39.2M30.3 563.64H39.2M30.3 564.50H39.2M19.7 562.78H39.2M19.9 567.08H39.2M18.7 566.22H39.2M17.2 565.36H39.2M26.5 568.80H39.2M26.5 569.65H39.2M29.0 571.37H39.2M29.0 572.23H39.2M28.3 570.51H39.2M26.5 573.09H39.2M23.1 576.53H39.2M23.1 577.39H39.2M19.1 574.81H39.2M17.6 578.25H39.2M17.6 579.11H39.2M17.4 579.96H39.2M17.4 580.82H39.2M24.9 584.26H39.2M22.1 582.54H39.2M26.8 585.98H39.2M26.8 586.84H39.2M24.6 585.12H39.2M33.8 589.42H39.2M31.0 588.56H39.2M30.2 587.70H39.2M19.7 581.68H39.2M20.1 591.99H39.2M20.1 592.85H39.2M18.1 591.13H39.2M16.8 593.71H39.2M16.8 594.57H39.2M20.2 598.43H39.2M22.7 600.14H39.2M22.7 600.99H39.2M25.4 602.71H39.2M25.4 603.56H39.2M24.7 601.85H39.2M25.7 604.42H39.2M23.7 606.13H39.2M23.7 606.98H39.2M23.2 607.84H39.2M23.2 608.70H39.2M20.9 611.26H39.2M20.3 609.55H39.2M28.3 614.69H39.2M28.3 615.54H39.2M26.8 613.83H39.2M24.3 612.97H39.2M21.6 612.12H39.2M28.3 617.25H39.2M28.3 618.11H39.2M29.8 618.96H39.2M29.8 619.82H39.2M25.8 616.40H39.2M37.7 620.68H39.2M37.7 621.53H39.2M30.4 623.24H39.2M25.0 624.10H39.2M25.0 624.95H39.2M28.0 626.67H39.2M28.0 627.52H39.2M29.3 629.23H39.2M29.3 630.09H39.2M27.7 628.38H39.2M26.8 630.94H39.2M26.8 631.80H39.2M22.7 632.65H39.2M22.7 633.51H39.2M22.8 635.22H39.2M22.9 636.08H39.2M22.9 636.93H39.2M37.6 638.64H39.2M38.4 640.36H39.2M38.4 641.21H39.2M31.4 642.92H39.2M31.4 643.78H39.2M28.7 642.07H39.2M30.1 644.63H39.2M30.1 645.49H39.2M32.7 647.20H39.2M32.7 648.06H39.2M30.3 646.35H39.2M37.7 648.91H39.2M37.7 649.77H39.2M15.4 637.79H39.2M33.0 651.48H39.2M33.0 652.34H39.2M37.7 653.19H39.2M37.7 654.05H39.2M30.5 650.62H39.2M35.2 655.76H39.2M35.2 656.61H39.2M22.7 654.90H39.2M27.9 658.33H39.2M27.9 659.18H39.2M30.3 661.75H39.2M29.5 660.04H39.2M24.5 657.47H39.2M21.9 662.60H39.2M21.9 663.46H39.2M29.5 667.74H39.2M25.1 669.45H39.2M25.1 670.30H39.2M24.2 668.59H39.2M31.2 671.16H39.2M31.2 672.02H39.2M22.6 672.87H39.2M22.6 673.73H39.2M23.1 675.44H39.2M23.1 676.29H39.2M23.8 677.15H39.2M23.8 678.01H39.2M24.6 678.86H39.2M24.6 679.72H39.2M20.8 674.58H39.2M26.4 682.28H39.2M27.4 683.14H39.2M27.4 684.00H39.2M24.2 680.57H39.2M34.2 684.85H39.2M34.2 685.71H39.2M22.9 686.56H39.2M22.9 687.42H39.2M26.2 689.99H39.2M25.5 689.13H39.2M23.6 688.27H39.2M36.7 694.26H39.2M36.7 695.12H39.2M24.8 695.97H39.2M24.8 696.83H39.2M28.6 699.40H39.2M28.6 700.25H39.2M26.3 698.54H39.2M24.1 697.69H39.2M21.3 691.70H39.2M23.3 702.82H39.2M23.3 703.68H39.2M20.5 701.96H39.2M19.3 701.11H39.2M21.0 705.39H39.2M21.0 706.24H39.2M18.9 704.53H39.2M18.0 707.10H39.2M18.0 707.95H39.2M18.8 708.81H39.2M18.8 709.67H39.2M17.1 710.52H39.2M17.1 711.38H39.2M18.6 713.94H39.2M18.6 714.80H39.2M17.8 713.09H39.2M18.5 716.51H39.2M17.1 715.66H39.2M31.5 719.08H39.2M31.5 719.93H39.2M29.0 718.22H39.2M26.7 720.79H39.2M26.7 721.65H39.2M28.6 722.50H39.2M28.6 723.36H39.2M33.8 725.92H39.2M33.8 726.78H39.2M32.5 725.07H39.2M30.4 724.21H39.2M34.4 728.49H39.2M34.4 729.35H39.2M32.4 727.63H39.2M37.7 730.20H39.2M27.3 732.77H39.2M27.3 733.62H39.2M24.8 731.91H39.2M23.6 735.34H39.2M26.9 738.76H39.2M26.9 739.61H39.2M25.7 737.90H39.2M22.9 737.05H39.2M22.3 741.33H39.2M22.3 742.18H39.2M21.5 740.47H39.2M23.2 743.89H39.2M22.7 744.75H39.2M22.7 745.60H39.2M23.9 747.32H39.2M22.1 746.46H39.2M16.9 749.03H39.2M16.9 749.88H39.2M21.8 752.45H39.2M21.8 753.31H39.2M20.3 751.59H39.2M19.4 750.74H39.2M20.7 755.02H39.2M20.7 755.87H39.2M19.6 754.16H39.2" fill="none" stroke="#565656" stroke-width="1.0"/>
<path d="M27.1 364.89H39.2M15.4 377.68H39.2M27.7 381.94H39.2M15.4 380.23H39.2M18.0 385.35H39.2M20.4 387.05H39.2M21.8 390.46H39.2M18.9 405.39H39.2M25.4 419.01H39.2M20.9 415.61H39.2M19.4 425.83H39.2M38.4 438.60H39.2M31.0 474.37H39.2M28.7 490.55H39.2M25.4 520.35H39.2M25.8 523.76H39.2M19.2 535.29H39.2M17.5 534.43H39.2M16.3 550.75H39.2M22.4 557.63H39.2M19.9 567.94H39.2M26.5 573.95H39.2M20.9 575.67H39.2M24.9 583.40H39.2M33.8 590.27H39.2M20.2 599.28H39.2M25.7 605.27H39.2M20.9 610.41H39.2M30.4 622.39H39.2M26.1 625.81H39.2M22.8 634.37H39.2M37.6 639.50H39.2M30.3 660.89H39.2M28.8 664.31H39.2M28.8 665.17H39.2M29.5 666.88H39.2M27.7 666.03H39.2M26.4 681.43H39.2M26.2 690.84H39.2M27.0 693.41H39.2M25.1 692.55H39.2M16.9 712.23H39.2M18.5 717.37H39.2M37.7 731.06H39.2M23.6 736.19H39.2M21.6 734.48H39.2M23.2 743.04H39.2M23.9 748.17H39.2" fill="none" stroke="#8a8a8a" stroke-width="0.8"/>
<rect x="40.2" y="340.6" width="7.4" height="55.4" fill="#ff0000"/>
<text x="0" y="0" font-size="8.6" font-weight="bold" fill="#fff" text-anchor="middle" textLength="33.5" lengthAdjust="spacingAndGlyphs" transform="translate(46.5 368.3) rotate(-90)">Cluster 2</text>
<rect x="40.2" y="399.0" width="7.4" height="132" fill="#0000ff"/>
<text x="0" y="0" font-size="8.6" font-weight="bold" fill="#fff" text-anchor="middle" textLength="33.5" lengthAdjust="spacingAndGlyphs" transform="translate(46.5 465.0) rotate(-90)">Cluster 1</text>
<rect x="40.2" y="534.0" width="7.4" height="61" fill="#c0c0c0"/>
<text x="0" y="0" font-size="8.6" font-weight="bold" fill="#000" text-anchor="middle" textLength="33.5" lengthAdjust="spacingAndGlyphs" transform="translate(46.5 564.5) rotate(-90)">Cluster 4</text>
<rect x="40.2" y="598.0" width="7.4" height="158.3" fill="#ffa500"/>
<text x="0" y="0" font-size="8.6" font-weight="bold" fill="#000" text-anchor="middle" textLength="33.5" lengthAdjust="spacingAndGlyphs" transform="translate(46.5 677.1) rotate(-90)">Cluster 3</text>
<rect x="50.0" y="340.6" width="387.5" height="415.7" fill="rgb(251, 250, 200)"/>
<path d="M325.1 620.7h3.0v3.8h-3.0zM325.1 745.8h3.0v3.4h-3.0z" fill="rgb(213, 227, 214)"/>
<path d="M124.0 362.4h3.0v4.0h-3.0zM307.3 534.0h3.0v4.7h-3.0zM292.6 538.7h3.0v8.6h-3.0zM331.0 538.7h3.0v8.6h-3.0zM407.9 538.7h3.0v8.6h-3.0zM331.0 547.3h3.0v5.1h-3.0zM407.9 547.3h3.0v5.1h-3.0zM331.0 552.4h3.0v3.4h-3.0zM407.9 555.8h3.0v7.8h-3.0zM331.0 563.6h3.0v5.4h-3.0zM292.6 590.1h3.0v4.9h-3.0zM307.3 590.1h3.0v4.9h-3.0zM331.0 590.1h3.0v4.9h-3.0zM339.9 590.1h5.9v4.9h-5.9zM407.9 590.1h3.0v4.9h-3.0zM325.1 624.4h3.0v4.7h-3.0zM325.1 629.2h3.0v4.3h-3.0zM325.1 663.0h3.0v6.6h-3.0zM325.1 669.6h3.0v3.5h-3.0zM325.1 673.1h3.0v5.1h-3.0zM325.1 705.6h3.0v8.6h-3.0zM322.1 745.8h3.0v3.4h-3.0z" fill="rgb(220, 231, 213)"/>
<path d="M61.8 362.4h3.0v4.0h-3.0zM85.5 362.4h3.0v4.0h-3.0zM64.8 372.5h3.0v5.4h-3.0zM138.7 438.0h3.0v4.8h-3.0zM138.7 458.5h3.0v3.6h-3.0zM138.7 462.1h3.0v3.6h-3.0zM192.0 477.9h3.0v8.8h-3.0zM192.0 486.7h3.0v3.2h-3.0zM79.6 534.0h3.0v4.7h-3.0zM292.6 534.0h3.0v4.7h-3.0zM304.4 534.0h3.0v4.7h-3.0zM331.0 534.0h5.9v4.7h-5.9zM339.9 534.0h3.0v4.7h-3.0zM405.0 534.0h3.0v4.7h-3.0zM419.8 538.7h3.0v8.6h-3.0zM307.3 547.3h3.0v5.1h-3.0zM339.9 547.3h5.9v5.1h-5.9zM419.8 547.3h3.0v5.1h-3.0zM292.6 552.4h3.0v3.4h-3.0zM339.9 552.4h5.9v3.4h-5.9zM407.9 552.4h3.0v3.4h-3.0zM419.8 552.4h3.0v3.4h-3.0zM292.6 555.8h3.0v7.8h-3.0zM342.8 555.8h3.0v7.8h-3.0zM292.6 563.6h3.0v5.4h-3.0zM413.8 563.6h3.0v5.4h-3.0zM307.3 577.9h3.0v7.2h-3.0zM331.0 577.9h5.9v7.2h-5.9zM405.0 577.9h3.0v7.2h-3.0zM331.0 585.1h3.0v5.0h-3.0zM50.0 590.1h3.0v4.9h-3.0zM298.5 590.1h3.0v4.9h-3.0zM328.1 590.1h3.0v4.9h-3.0zM405.0 590.1h3.0v4.9h-3.0zM419.8 590.1h3.0v4.9h-3.0zM325.1 598.0h3.0v6.9h-3.0zM325.1 604.9h3.0v8.8h-3.0zM325.1 613.7h3.0v7.0h-3.0zM53.0 620.7h3.0v3.8h-3.0zM307.3 620.7h3.0v3.8h-3.0zM331.0 620.7h3.0v3.8h-3.0zM405.0 620.7h3.0v3.8h-3.0zM322.1 624.4h3.0v4.7h-3.0zM328.1 624.4h3.0v4.7h-3.0zM301.4 629.2h3.0v4.3h-3.0zM322.1 629.2h3.0v4.3h-3.0zM331.0 629.2h3.0v4.3h-3.0zM336.9 629.2h3.0v4.3h-3.0zM405.0 629.2h5.9v4.3h-5.9zM425.7 629.2h3.0v4.3h-3.0zM325.1 633.5h3.0v5.9h-3.0zM325.1 647.0h3.0v9.0h-3.0zM325.1 656.0h3.0v7.0h-3.0zM322.1 669.6h3.0v3.5h-3.0zM322.1 673.1h3.0v5.1h-3.0zM328.1 678.2h3.0v8.5h-3.0zM325.1 686.8h3.0v4.9h-3.0zM325.1 691.6h3.0v3.2h-3.0zM325.1 694.9h3.0v5.0h-3.0zM322.1 699.9h3.0v5.7h-3.0zM322.1 705.6h3.0v8.6h-3.0zM328.1 705.6h5.9v8.6h-5.9zM336.9 705.6h3.0v8.6h-3.0zM325.1 714.2h3.0v7.8h-3.0zM325.1 722.0h3.0v7.1h-3.0zM336.9 722.0h3.0v7.1h-3.0zM325.1 729.1h3.0v8.6h-3.0zM325.1 737.7h3.0v8.0h-3.0zM50.0 745.8h5.9v3.4h-5.9zM331.0 745.8h3.0v3.4h-3.0zM325.1 749.2h3.0v7.1h-3.0z" fill="rgb(228, 236, 213)"/>
<path d="M61.8 351.6h3.0v7.2h-3.0zM85.5 351.6h5.9v7.2h-5.9zM118.0 351.6h3.0v7.2h-3.0zM64.8 358.8h3.0v3.5h-3.0zM82.5 358.8h5.9v3.5h-5.9zM94.4 358.8h5.9v3.5h-5.9zM124.0 358.8h3.0v3.5h-3.0zM64.8 362.4h5.9v4.0h-5.9zM73.7 362.4h3.0v4.0h-3.0zM94.4 362.4h3.0v4.0h-3.0zM100.3 362.4h3.0v4.0h-3.0zM109.2 362.4h3.0v4.0h-3.0zM129.9 362.4h3.0v4.0h-3.0zM61.8 366.4h3.0v6.1h-3.0zM100.3 366.4h3.0v6.1h-3.0zM124.0 366.4h3.0v6.1h-3.0zM124.0 372.5h3.0v5.4h-3.0zM61.8 377.9h5.9v7.0h-5.9zM79.6 377.9h3.0v7.0h-3.0zM97.3 377.9h5.9v7.0h-5.9zM124.0 377.9h3.0v7.0h-3.0zM129.9 377.9h5.9v7.0h-5.9zM58.9 389.9h3.0v6.1h-3.0zM64.8 389.9h3.0v6.1h-3.0zM118.0 399.0h3.0v8.2h-3.0zM192.0 399.0h5.9v8.2h-5.9zM138.7 414.5h3.0v4.3h-3.0zM118.0 418.9h3.0v7.1h-3.0zM138.7 418.9h3.0v7.1h-3.0zM212.7 418.9h3.0v7.1h-3.0zM224.5 418.9h3.0v7.1h-3.0zM192.0 426.0h3.0v8.6h-3.0zM138.7 434.6h3.0v3.4h-3.0zM156.5 434.6h3.0v3.4h-3.0zM192.0 434.6h3.0v3.4h-3.0zM156.5 438.0h3.0v4.8h-3.0zM192.0 438.0h3.0v4.8h-3.0zM97.3 442.8h3.0v3.8h-3.0zM138.7 442.8h3.0v3.8h-3.0zM194.9 442.8h3.0v3.8h-3.0zM118.0 446.5h3.0v8.2h-3.0zM138.7 446.5h3.0v8.2h-3.0zM192.0 446.5h3.0v8.2h-3.0zM94.4 454.8h3.0v3.8h-3.0zM118.0 458.5h3.0v3.6h-3.0zM97.3 462.1h3.0v3.6h-3.0zM156.5 462.1h3.0v3.6h-3.0zM192.0 462.1h3.0v3.6h-3.0zM118.0 465.7h3.0v8.0h-3.0zM156.5 465.7h3.0v8.0h-3.0zM194.9 465.7h3.0v8.0h-3.0zM138.7 473.7h3.0v4.2h-3.0zM156.5 473.7h3.0v4.2h-3.0zM194.9 473.7h3.0v4.2h-3.0zM138.7 477.9h3.0v8.8h-3.0zM55.9 486.7h3.0v3.2h-3.0zM94.4 486.7h3.0v3.2h-3.0zM100.3 486.7h3.0v3.2h-3.0zM115.1 486.7h5.9v3.2h-5.9zM138.7 486.7h3.0v3.2h-3.0zM156.5 486.7h3.0v3.2h-3.0zM180.2 486.7h3.0v3.2h-3.0zM212.7 486.7h3.0v3.2h-3.0zM118.0 489.9h3.0v5.7h-3.0zM138.7 489.9h3.0v5.7h-3.0zM100.3 495.7h3.0v3.8h-3.0zM212.7 495.7h3.0v3.8h-3.0zM118.0 499.5h3.0v4.1h-3.0zM192.0 499.5h3.0v4.1h-3.0zM94.4 503.6h3.0v4.1h-3.0zM118.0 503.6h3.0v4.1h-3.0zM138.7 503.6h3.0v4.1h-3.0zM156.5 503.6h3.0v4.1h-3.0zM212.7 503.6h3.0v4.1h-3.0zM192.0 514.0h3.0v4.3h-3.0zM118.0 518.3h3.0v5.0h-3.0zM192.0 518.3h3.0v5.0h-3.0zM50.0 534.0h3.0v4.7h-3.0zM64.8 534.0h3.0v4.7h-3.0zM70.7 534.0h3.0v4.7h-3.0zM115.1 534.0h5.9v4.7h-5.9zM132.8 534.0h3.0v4.7h-3.0zM289.6 534.0h3.0v4.7h-3.0zM298.5 534.0h5.9v4.7h-5.9zM328.1 534.0h3.0v4.7h-3.0zM342.8 534.0h3.0v4.7h-3.0zM407.9 534.0h3.0v4.7h-3.0zM413.8 534.0h3.0v4.7h-3.0zM419.8 534.0h3.0v4.7h-3.0zM428.6 534.0h3.0v4.7h-3.0zM79.6 538.7h3.0v8.6h-3.0zM115.1 538.7h3.0v8.6h-3.0zM298.5 538.7h5.9v8.6h-5.9zM307.3 538.7h3.0v8.6h-3.0zM334.0 538.7h3.0v8.6h-3.0zM339.9 538.7h5.9v8.6h-5.9zM405.0 538.7h3.0v8.6h-3.0zM413.8 538.7h3.0v8.6h-3.0zM428.6 538.7h5.9v8.6h-5.9zM50.0 547.3h3.0v5.1h-3.0zM289.6 547.3h5.9v5.1h-5.9zM298.5 547.3h8.9v5.1h-8.9zM325.1 547.3h5.9v5.1h-5.9zM334.0 547.3h5.9v5.1h-5.9zM405.0 547.3h3.0v5.1h-3.0zM413.8 547.3h5.9v5.1h-5.9zM428.6 547.3h3.0v5.1h-3.0zM289.6 552.4h3.0v3.4h-3.0zM298.5 552.4h3.0v3.4h-3.0zM307.3 552.4h3.0v3.4h-3.0zM405.0 552.4h3.0v3.4h-3.0zM413.8 552.4h3.0v3.4h-3.0zM425.7 552.4h5.9v3.4h-5.9zM289.6 555.8h3.0v7.8h-3.0zM298.5 555.8h3.0v7.8h-3.0zM307.3 555.8h3.0v7.8h-3.0zM331.0 555.8h3.0v7.8h-3.0zM339.9 555.8h3.0v7.8h-3.0zM405.0 555.8h3.0v7.8h-3.0zM413.8 555.8h8.9v7.8h-8.9zM428.6 555.8h3.0v7.8h-3.0zM307.3 563.6h3.0v5.4h-3.0zM339.9 563.6h5.9v5.4h-5.9zM405.0 563.6h5.9v5.4h-5.9zM419.8 563.6h3.0v5.4h-3.0zM331.0 569.0h3.0v8.9h-3.0zM407.9 569.0h3.0v8.9h-3.0zM428.6 569.0h3.0v8.9h-3.0zM50.0 577.9h3.0v7.2h-3.0zM289.6 577.9h5.9v7.2h-5.9zM298.5 577.9h5.9v7.2h-5.9zM325.1 577.9h3.0v7.2h-3.0zM339.9 577.9h5.9v7.2h-5.9zM407.9 577.9h3.0v7.2h-3.0zM413.8 577.9h8.9v7.2h-8.9zM334.0 585.1h3.0v5.0h-3.0zM342.8 585.1h3.0v5.0h-3.0zM405.0 585.1h5.9v5.0h-5.9zM413.8 585.1h3.0v5.0h-3.0zM419.8 585.1h3.0v5.0h-3.0zM53.0 590.1h3.0v4.9h-3.0zM289.6 590.1h3.0v4.9h-3.0zM301.4 590.1h5.9v4.9h-5.9zM322.1 590.1h5.9v4.9h-5.9zM334.0 590.1h3.0v4.9h-3.0zM413.8 590.1h5.9v4.9h-5.9zM422.7 590.1h3.0v4.9h-3.0zM428.6 590.1h5.9v4.9h-5.9zM53.0 598.0h3.0v6.9h-3.0zM331.0 598.0h3.0v6.9h-3.0zM407.9 598.0h3.0v6.9h-3.0zM53.0 613.7h3.0v7.0h-3.0zM322.1 613.7h3.0v7.0h-3.0zM328.1 613.7h3.0v7.0h-3.0zM50.0 620.7h3.0v3.8h-3.0zM301.4 620.7h3.0v3.8h-3.0zM322.1 620.7h3.0v3.8h-3.0zM328.1 620.7h3.0v3.8h-3.0zM334.0 620.7h3.0v3.8h-3.0zM381.3 620.7h3.0v3.8h-3.0zM402.0 620.7h3.0v3.8h-3.0zM407.9 620.7h3.0v3.8h-3.0zM50.0 624.4h5.9v4.7h-5.9zM307.3 624.4h3.0v4.7h-3.0zM331.0 624.4h3.0v4.7h-3.0zM405.0 624.4h3.0v4.7h-3.0zM50.0 629.2h5.9v4.3h-5.9zM298.5 629.2h3.0v4.3h-3.0zM307.3 629.2h3.0v4.3h-3.0zM328.1 629.2h3.0v4.3h-3.0zM334.0 629.2h3.0v4.3h-3.0zM342.8 629.2h3.0v4.3h-3.0zM434.5 629.2h3.0v4.3h-3.0zM307.3 633.5h3.0v5.9h-3.0zM322.1 633.5h3.0v5.9h-3.0zM322.1 647.0h3.0v9.0h-3.0zM328.1 647.0h3.0v9.0h-3.0zM50.0 669.6h3.0v3.5h-3.0zM251.1 669.6h3.0v3.5h-3.0zM328.1 669.6h5.9v3.5h-5.9zM402.0 669.6h3.0v3.5h-3.0zM53.0 673.1h3.0v5.1h-3.0zM328.1 673.1h3.0v5.1h-3.0zM339.9 673.1h5.9v5.1h-5.9zM322.1 678.2h5.9v8.5h-5.9zM322.1 686.8h3.0v4.9h-3.0zM328.1 686.8h3.0v4.9h-3.0zM381.3 686.8h3.0v4.9h-3.0zM53.0 691.6h3.0v3.2h-3.0zM322.1 691.6h3.0v3.2h-3.0zM328.1 691.6h8.9v3.2h-8.9zM342.8 691.6h3.0v3.2h-3.0zM402.0 691.6h8.9v3.2h-8.9zM322.1 694.9h3.0v5.0h-3.0zM50.0 699.9h5.9v5.7h-5.9zM325.1 699.9h3.0v5.7h-3.0zM331.0 699.9h3.0v5.7h-3.0zM336.9 699.9h3.0v5.7h-3.0zM402.0 699.9h3.0v5.7h-3.0zM50.0 705.6h3.0v8.6h-3.0zM334.0 705.6h3.0v8.6h-3.0zM342.8 705.6h3.0v8.6h-3.0zM405.0 705.6h3.0v8.6h-3.0zM328.1 714.2h3.0v7.8h-3.0zM53.0 722.0h3.0v7.1h-3.0zM322.1 722.0h3.0v7.1h-3.0zM328.1 722.0h5.9v7.1h-5.9zM342.8 722.0h3.0v7.1h-3.0zM402.0 722.0h3.0v7.1h-3.0zM322.1 729.1h3.0v8.6h-3.0zM331.0 729.1h3.0v8.6h-3.0zM277.8 745.8h3.0v3.4h-3.0zM307.3 745.8h3.0v3.4h-3.0zM319.2 745.8h3.0v3.4h-3.0zM328.1 745.8h3.0v3.4h-3.0zM336.9 745.8h3.0v3.4h-3.0zM402.0 745.8h3.0v3.4h-3.0zM407.9 745.8h3.0v3.4h-3.0zM322.1 749.2h3.0v7.1h-3.0zM331.0 749.2h3.0v7.1h-3.0z" fill="rgb(235, 241, 212)"/>
<path d="M124.0 340.6h3.0v5.7h-3.0zM124.0 346.3h3.0v5.3h-3.0zM55.9 351.6h3.0v7.2h-3.0zM64.8 351.6h5.9v7.2h-5.9zM73.7 351.6h3.0v7.2h-3.0zM79.6 351.6h5.9v7.2h-5.9zM94.4 351.6h11.8v7.2h-11.8zM115.1 351.6h3.0v7.2h-3.0zM124.0 351.6h3.0v7.2h-3.0zM129.9 351.6h3.0v7.2h-3.0zM58.9 358.8h3.0v3.5h-3.0zM67.7 358.8h3.0v3.5h-3.0zM88.5 358.8h5.9v3.5h-5.9zM100.3 358.8h3.0v3.5h-3.0zM109.2 358.8h5.9v3.5h-5.9zM129.9 358.8h5.9v3.5h-5.9zM177.2 358.8h3.0v3.5h-3.0zM55.9 362.4h5.9v4.0h-5.9zM70.7 362.4h3.0v4.0h-3.0zM79.6 362.4h5.9v4.0h-5.9zM88.5 362.4h3.0v4.0h-3.0zM118.0 362.4h3.0v4.0h-3.0zM200.9 362.4h3.0v4.0h-3.0zM64.8 366.4h3.0v6.1h-3.0zM79.6 366.4h3.0v6.1h-3.0zM85.5 366.4h14.8v6.1h-14.8zM103.2 366.4h3.0v6.1h-3.0zM109.2 366.4h3.0v6.1h-3.0zM129.9 366.4h3.0v6.1h-3.0zM55.9 372.5h8.9v5.4h-8.9zM73.7 372.5h3.0v5.4h-3.0zM85.5 372.5h3.0v5.4h-3.0zM94.4 372.5h5.9v5.4h-5.9zM132.8 372.5h3.0v5.4h-3.0zM55.9 377.9h5.9v7.0h-5.9zM67.7 377.9h3.0v7.0h-3.0zM73.7 377.9h3.0v7.0h-3.0zM82.5 377.9h14.8v7.0h-14.8zM103.2 377.9h3.0v7.0h-3.0zM109.2 377.9h5.9v7.0h-5.9zM118.0 377.9h3.0v7.0h-3.0zM209.7 377.9h3.0v7.0h-3.0zM61.8 384.9h3.0v5.0h-3.0zM67.7 384.9h3.0v5.0h-3.0zM85.5 384.9h5.9v5.0h-5.9zM100.3 384.9h3.0v5.0h-3.0zM124.0 384.9h3.0v5.0h-3.0zM129.9 384.9h3.0v5.0h-3.0zM55.9 389.9h3.0v6.1h-3.0zM61.8 389.9h3.0v6.1h-3.0zM73.7 389.9h3.0v6.1h-3.0zM85.5 389.9h3.0v6.1h-3.0zM124.0 389.9h3.0v6.1h-3.0zM156.5 389.9h3.0v6.1h-3.0zM88.5 399.0h3.0v8.2h-3.0zM94.4 399.0h8.9v8.2h-8.9zM115.1 399.0h3.0v8.2h-3.0zM138.7 399.0h3.0v8.2h-3.0zM153.5 399.0h5.9v8.2h-5.9zM174.2 399.0h3.0v8.2h-3.0zM212.7 399.0h3.0v8.2h-3.0zM118.0 407.2h3.0v7.3h-3.0zM138.7 407.2h3.0v7.3h-3.0zM156.5 407.2h3.0v7.3h-3.0zM192.0 407.2h5.9v7.3h-5.9zM94.4 414.5h3.0v4.3h-3.0zM118.0 414.5h3.0v4.3h-3.0zM156.5 414.5h3.0v4.3h-3.0zM192.0 414.5h5.9v4.3h-5.9zM224.5 414.5h3.0v4.3h-3.0zM115.1 418.9h3.0v7.1h-3.0zM132.8 418.9h3.0v7.1h-3.0zM156.5 418.9h3.0v7.1h-3.0zM192.0 418.9h5.9v7.1h-5.9zM94.4 426.0h5.9v8.6h-5.9zM118.0 426.0h3.0v8.6h-3.0zM138.7 426.0h3.0v8.6h-3.0zM153.5 426.0h5.9v8.6h-5.9zM319.2 426.0h3.0v8.6h-3.0zM82.5 434.6h3.0v3.4h-3.0zM94.4 434.6h3.0v3.4h-3.0zM118.0 434.6h3.0v3.4h-3.0zM153.5 434.6h3.0v3.4h-3.0zM174.2 434.6h3.0v3.4h-3.0zM194.9 434.6h3.0v3.4h-3.0zM224.5 434.6h3.0v3.4h-3.0zM319.2 434.6h3.0v3.4h-3.0zM94.4 438.0h3.0v4.8h-3.0zM118.0 438.0h3.0v4.8h-3.0zM153.5 438.0h3.0v4.8h-3.0zM224.5 438.0h3.0v4.8h-3.0zM76.6 442.8h3.0v3.8h-3.0zM88.5 442.8h3.0v3.8h-3.0zM115.1 442.8h5.9v3.8h-5.9zM132.8 442.8h3.0v3.8h-3.0zM189.0 442.8h5.9v3.8h-5.9zM206.8 442.8h3.0v3.8h-3.0zM224.5 442.8h3.0v3.8h-3.0zM319.2 442.8h3.0v3.8h-3.0zM94.4 446.5h3.0v8.2h-3.0zM100.3 446.5h3.0v8.2h-3.0zM141.7 446.5h3.0v8.2h-3.0zM194.9 446.5h3.0v8.2h-3.0zM192.0 454.8h3.0v3.8h-3.0zM212.7 454.8h3.0v3.8h-3.0zM88.5 458.5h3.0v3.6h-3.0zM94.4 458.5h3.0v3.6h-3.0zM192.0 458.5h3.0v3.6h-3.0zM94.4 462.1h3.0v3.6h-3.0zM118.0 462.1h3.0v3.6h-3.0zM147.6 462.1h3.0v3.6h-3.0zM94.4 465.7h3.0v8.0h-3.0zM138.7 465.7h3.0v8.0h-3.0zM147.6 465.7h3.0v8.0h-3.0zM165.4 465.7h3.0v8.0h-3.0zM192.0 465.7h3.0v8.0h-3.0zM224.5 465.7h3.0v8.0h-3.0zM115.1 473.7h5.9v4.2h-5.9zM153.5 473.7h3.0v4.2h-3.0zM192.0 473.7h3.0v4.2h-3.0zM212.7 473.7h3.0v4.2h-3.0zM224.5 473.7h3.0v4.2h-3.0zM94.4 477.9h3.0v8.8h-3.0zM118.0 477.9h3.0v8.8h-3.0zM153.5 477.9h3.0v8.8h-3.0zM180.2 477.9h3.0v8.8h-3.0zM194.9 477.9h3.0v8.8h-3.0zM224.5 477.9h3.0v8.8h-3.0zM67.7 486.7h3.0v3.2h-3.0zM85.5 486.7h8.9v3.2h-8.9zM97.3 486.7h3.0v3.2h-3.0zM121.0 486.7h5.9v3.2h-5.9zM132.8 486.7h3.0v3.2h-3.0zM147.6 486.7h3.0v3.2h-3.0zM153.5 486.7h3.0v3.2h-3.0zM162.4 486.7h3.0v3.2h-3.0zM174.2 486.7h3.0v3.2h-3.0zM194.9 486.7h3.0v3.2h-3.0zM224.5 486.7h3.0v3.2h-3.0zM319.2 486.7h3.0v3.2h-3.0zM82.5 489.9h3.0v5.7h-3.0zM97.3 489.9h5.9v5.7h-5.9zM156.5 489.9h3.0v5.7h-3.0zM174.2 489.9h3.0v5.7h-3.0zM192.0 489.9h5.9v5.7h-5.9zM212.7 489.9h3.0v5.7h-3.0zM94.4 495.7h3.0v3.8h-3.0zM138.7 495.7h3.0v3.8h-3.0zM156.5 495.7h3.0v3.8h-3.0zM192.0 495.7h3.0v3.8h-3.0zM94.4 499.5h3.0v4.1h-3.0zM138.7 499.5h3.0v4.1h-3.0zM147.6 499.5h3.0v4.1h-3.0zM153.5 499.5h3.0v4.1h-3.0zM189.0 499.5h3.0v4.1h-3.0zM319.2 499.5h3.0v4.1h-3.0zM100.3 503.6h3.0v4.1h-3.0zM153.5 503.6h3.0v4.1h-3.0zM192.0 503.6h5.9v4.1h-5.9zM224.5 503.6h3.0v4.1h-3.0zM319.2 503.6h3.0v4.1h-3.0zM118.0 507.7h3.0v6.4h-3.0zM138.7 507.7h3.0v6.4h-3.0zM153.5 507.7h5.9v6.4h-5.9zM192.0 507.7h3.0v6.4h-3.0zM212.7 507.7h3.0v6.4h-3.0zM224.5 507.7h3.0v6.4h-3.0zM118.0 514.0h3.0v4.3h-3.0zM138.7 514.0h3.0v4.3h-3.0zM156.5 514.0h3.0v4.3h-3.0zM94.4 518.3h3.0v5.0h-3.0zM153.5 518.3h5.9v5.0h-5.9zM138.7 523.4h3.0v7.6h-3.0zM55.9 534.0h5.9v4.7h-5.9zM67.7 534.0h3.0v4.7h-3.0zM73.7 534.0h3.0v4.7h-3.0zM85.5 534.0h5.9v4.7h-5.9zM94.4 534.0h3.0v4.7h-3.0zM103.2 534.0h8.9v4.7h-8.9zM121.0 534.0h8.9v4.7h-8.9zM322.1 534.0h5.9v4.7h-5.9zM416.8 534.0h3.0v4.7h-3.0zM422.7 534.0h5.9v4.7h-5.9zM431.6 534.0h3.0v4.7h-3.0zM50.0 538.7h8.9v8.6h-8.9zM67.7 538.7h8.9v8.6h-8.9zM82.5 538.7h5.9v8.6h-5.9zM91.4 538.7h3.0v8.6h-3.0zM103.2 538.7h5.9v8.6h-5.9zM118.0 538.7h11.8v8.6h-11.8zM132.8 538.7h3.0v8.6h-3.0zM289.6 538.7h3.0v8.6h-3.0zM295.5 538.7h3.0v8.6h-3.0zM304.4 538.7h3.0v8.6h-3.0zM322.1 538.7h8.9v8.6h-8.9zM416.8 538.7h3.0v8.6h-3.0zM422.7 538.7h5.9v8.6h-5.9zM53.0 547.3h3.0v5.1h-3.0zM422.7 547.3h5.9v5.1h-5.9zM431.6 547.3h3.0v5.1h-3.0zM53.0 552.4h3.0v3.4h-3.0zM280.7 552.4h3.0v3.4h-3.0zM301.4 552.4h5.9v3.4h-5.9zM328.1 552.4h3.0v3.4h-3.0zM334.0 552.4h3.0v3.4h-3.0zM416.8 552.4h3.0v3.4h-3.0zM422.7 552.4h3.0v3.4h-3.0zM50.0 555.8h3.0v7.8h-3.0zM295.5 555.8h3.0v7.8h-3.0zM325.1 555.8h5.9v7.8h-5.9zM334.0 555.8h3.0v7.8h-3.0zM53.0 563.6h3.0v5.4h-3.0zM289.6 563.6h3.0v5.4h-3.0zM298.5 563.6h5.9v5.4h-5.9zM325.1 563.6h3.0v5.4h-3.0zM416.8 563.6h3.0v5.4h-3.0zM425.7 563.6h3.0v5.4h-3.0zM289.6 569.0h3.0v8.9h-3.0zM298.5 569.0h3.0v8.9h-3.0zM307.3 569.0h3.0v8.9h-3.0zM339.9 569.0h5.9v8.9h-5.9zM405.0 569.0h3.0v8.9h-3.0zM413.8 569.0h3.0v8.9h-3.0zM419.8 569.0h3.0v8.9h-3.0zM53.0 577.9h3.0v7.2h-3.0zM295.5 577.9h3.0v7.2h-3.0zM328.1 577.9h3.0v7.2h-3.0zM422.7 577.9h3.0v7.2h-3.0zM428.6 577.9h5.9v7.2h-5.9zM50.0 585.1h3.0v5.0h-3.0zM292.6 585.1h3.0v5.0h-3.0zM298.5 585.1h5.9v5.0h-5.9zM307.3 585.1h3.0v5.0h-3.0zM339.9 585.1h3.0v5.0h-3.0zM425.7 585.1h3.0v5.0h-3.0zM79.6 590.1h3.0v4.9h-3.0zM336.9 590.1h3.0v4.9h-3.0zM410.9 590.1h3.0v4.9h-3.0zM425.7 590.1h3.0v4.9h-3.0zM298.5 598.0h3.0v6.9h-3.0zM307.3 598.0h3.0v6.9h-3.0zM328.1 598.0h3.0v6.9h-3.0zM336.9 598.0h3.0v6.9h-3.0zM405.0 598.0h3.0v6.9h-3.0zM53.0 604.9h3.0v8.8h-3.0zM307.3 604.9h3.0v8.8h-3.0zM322.1 604.9h3.0v8.8h-3.0zM331.0 604.9h5.9v8.8h-5.9zM405.0 604.9h3.0v8.8h-3.0zM50.0 613.7h3.0v7.0h-3.0zM301.4 613.7h3.0v7.0h-3.0zM307.3 613.7h3.0v7.0h-3.0zM331.0 613.7h8.9v7.0h-8.9zM405.0 613.7h5.9v7.0h-5.9zM425.7 613.7h3.0v7.0h-3.0zM434.5 613.7h3.0v7.0h-3.0zM289.6 620.7h3.0v3.8h-3.0zM304.4 620.7h3.0v3.8h-3.0zM336.9 620.7h8.9v3.8h-8.9zM413.8 620.7h3.0v3.8h-3.0zM425.7 620.7h3.0v3.8h-3.0zM434.5 620.7h3.0v3.8h-3.0zM301.4 624.4h3.0v4.7h-3.0zM342.8 624.4h3.0v4.7h-3.0zM407.9 624.4h3.0v4.7h-3.0zM425.7 624.4h3.0v4.7h-3.0zM434.5 624.4h3.0v4.7h-3.0zM295.5 629.2h3.0v4.3h-3.0zM339.9 629.2h3.0v4.3h-3.0zM381.3 629.2h3.0v4.3h-3.0zM402.0 629.2h3.0v4.3h-3.0zM413.8 629.2h3.0v4.3h-3.0zM428.6 629.2h5.9v4.3h-5.9zM50.0 633.5h5.9v5.9h-5.9zM331.0 633.5h3.0v5.9h-3.0zM342.8 633.5h3.0v5.9h-3.0zM405.0 633.5h3.0v5.9h-3.0zM425.7 633.5h3.0v5.9h-3.0zM53.0 639.3h3.0v7.7h-3.0zM325.1 639.3h3.0v7.7h-3.0zM331.0 639.3h3.0v7.7h-3.0zM402.0 639.3h3.0v7.7h-3.0zM53.0 647.0h3.0v9.0h-3.0zM310.3 647.0h3.0v9.0h-3.0zM331.0 647.0h5.9v9.0h-5.9zM342.8 647.0h3.0v9.0h-3.0zM402.0 647.0h5.9v9.0h-5.9zM425.7 647.0h3.0v9.0h-3.0zM277.8 656.0h3.0v7.0h-3.0zM405.0 656.0h3.0v7.0h-3.0zM50.0 663.0h5.9v6.6h-5.9zM271.9 663.0h3.0v6.6h-3.0zM277.8 663.0h3.0v6.6h-3.0zM322.1 663.0h3.0v6.6h-3.0zM328.1 663.0h5.9v6.6h-5.9zM402.0 663.0h8.9v6.6h-8.9zM53.0 669.6h3.0v3.5h-3.0zM242.3 669.6h3.0v3.5h-3.0zM268.9 669.6h5.9v3.5h-5.9zM334.0 669.6h5.9v3.5h-5.9zM342.8 669.6h3.0v3.5h-3.0zM378.3 669.6h3.0v3.5h-3.0zM405.0 669.6h5.9v3.5h-5.9zM425.7 669.6h3.0v3.5h-3.0zM50.0 673.1h3.0v5.1h-3.0zM203.8 673.1h3.0v5.1h-3.0zM268.9 673.1h3.0v5.1h-3.0zM277.8 673.1h3.0v5.1h-3.0zM310.3 673.1h3.0v5.1h-3.0zM331.0 673.1h8.9v5.1h-8.9zM402.0 673.1h5.9v5.1h-5.9zM50.0 678.2h5.9v8.5h-5.9zM319.2 678.2h3.0v8.5h-3.0zM331.0 678.2h5.9v8.5h-5.9zM342.8 678.2h3.0v8.5h-3.0zM402.0 678.2h8.9v8.5h-8.9zM53.0 686.8h3.0v4.9h-3.0zM310.3 686.8h3.0v4.9h-3.0zM331.0 686.8h8.9v4.9h-8.9zM405.0 686.8h5.9v4.9h-5.9zM434.5 686.8h3.0v4.9h-3.0zM138.7 691.6h3.0v3.2h-3.0zM153.5 691.6h3.0v3.2h-3.0zM183.1 691.6h3.0v3.2h-3.0zM200.9 691.6h5.9v3.2h-5.9zM251.1 691.6h3.0v3.2h-3.0zM268.9 691.6h3.0v3.2h-3.0zM277.8 691.6h3.0v3.2h-3.0zM310.3 691.6h3.0v3.2h-3.0zM336.9 691.6h3.0v3.2h-3.0zM378.3 691.6h8.9v3.2h-8.9zM434.5 691.6h3.0v3.2h-3.0zM50.0 694.9h3.0v5.0h-3.0zM319.2 694.9h3.0v5.0h-3.0zM331.0 694.9h3.0v5.0h-3.0zM336.9 694.9h3.0v5.0h-3.0zM200.9 699.9h3.0v5.7h-3.0zM319.2 699.9h3.0v5.7h-3.0zM328.1 699.9h3.0v5.7h-3.0zM334.0 699.9h3.0v5.7h-3.0zM405.0 699.9h3.0v5.7h-3.0zM53.0 705.6h3.0v8.6h-3.0zM310.3 705.6h3.0v8.6h-3.0zM316.2 705.6h5.9v8.6h-5.9zM381.3 705.6h5.9v8.6h-5.9zM402.0 705.6h3.0v8.6h-3.0zM407.9 705.6h3.0v8.6h-3.0zM53.0 714.2h3.0v7.8h-3.0zM322.1 714.2h3.0v7.8h-3.0zM331.0 714.2h5.9v7.8h-5.9zM402.0 714.2h5.9v7.8h-5.9zM50.0 722.0h3.0v7.1h-3.0zM268.9 722.0h3.0v7.1h-3.0zM310.3 722.0h3.0v7.1h-3.0zM316.2 722.0h5.9v7.1h-5.9zM334.0 722.0h3.0v7.1h-3.0zM339.9 722.0h3.0v7.1h-3.0zM384.3 722.0h3.0v7.1h-3.0zM407.9 722.0h3.0v7.1h-3.0zM53.0 729.1h3.0v8.6h-3.0zM310.3 729.1h3.0v8.6h-3.0zM328.1 729.1h3.0v8.6h-3.0zM339.9 729.1h3.0v8.6h-3.0zM402.0 729.1h8.9v8.6h-8.9zM53.0 737.7h3.0v8.0h-3.0zM277.8 737.7h3.0v8.0h-3.0zM322.1 737.7h3.0v8.0h-3.0zM328.1 737.7h3.0v8.0h-3.0zM342.8 737.7h3.0v8.0h-3.0zM405.0 737.7h3.0v8.0h-3.0zM203.8 745.8h3.0v3.4h-3.0zM251.1 745.8h3.0v3.4h-3.0zM271.9 745.8h3.0v3.4h-3.0zM298.5 745.8h3.0v3.4h-3.0zM310.3 745.8h3.0v3.4h-3.0zM334.0 745.8h3.0v3.4h-3.0zM339.9 745.8h5.9v3.4h-5.9zM381.3 745.8h5.9v3.4h-5.9zM393.1 745.8h3.0v3.4h-3.0zM405.0 745.8h3.0v3.4h-3.0zM53.0 749.2h3.0v7.1h-3.0zM268.9 749.2h3.0v7.1h-3.0zM277.8 749.2h3.0v7.1h-3.0zM316.2 749.2h3.0v7.1h-3.0zM328.1 749.2h3.0v7.1h-3.0zM336.9 749.2h3.0v7.1h-3.0zM402.0 749.2h8.9v7.1h-8.9z" fill="rgb(240, 244, 210)"/>
<path d="M61.8 340.6h5.9v5.7h-5.9zM73.7 340.6h3.0v5.7h-3.0zM97.3 340.6h5.9v5.7h-5.9zM129.9 340.6h5.9v5.7h-5.9zM200.9 340.6h3.0v5.7h-3.0zM64.8 346.3h3.0v5.3h-3.0zM85.5 346.3h3.0v5.3h-3.0zM100.3 346.3h3.0v5.3h-3.0zM129.9 346.3h3.0v5.3h-3.0zM209.7 346.3h3.0v5.3h-3.0zM58.9 351.6h3.0v7.2h-3.0zM70.7 351.6h3.0v7.2h-3.0zM91.4 351.6h3.0v7.2h-3.0zM106.2 351.6h5.9v7.2h-5.9zM121.0 351.6h3.0v7.2h-3.0zM132.8 351.6h3.0v7.2h-3.0zM183.1 351.6h3.0v7.2h-3.0zM61.8 358.8h3.0v3.5h-3.0zM73.7 358.8h3.0v3.5h-3.0zM79.6 358.8h3.0v3.5h-3.0zM103.2 358.8h5.9v3.5h-5.9zM118.0 358.8h3.0v3.5h-3.0zM126.9 358.8h3.0v3.5h-3.0zM156.5 358.8h5.9v3.5h-5.9zM206.8 358.8h3.0v3.5h-3.0zM212.7 358.8h3.0v3.5h-3.0zM91.4 362.4h3.0v4.0h-3.0zM97.3 362.4h3.0v4.0h-3.0zM103.2 362.4h5.9v4.0h-5.9zM112.1 362.4h5.9v4.0h-5.9zM121.0 362.4h3.0v4.0h-3.0zM126.9 362.4h3.0v4.0h-3.0zM132.8 362.4h3.0v4.0h-3.0zM156.5 362.4h5.9v4.0h-5.9zM177.2 362.4h3.0v4.0h-3.0zM183.1 362.4h3.0v4.0h-3.0zM189.0 362.4h3.0v4.0h-3.0zM203.8 362.4h3.0v4.0h-3.0zM209.7 362.4h5.9v4.0h-5.9zM55.9 366.4h5.9v6.1h-5.9zM67.7 366.4h8.9v6.1h-8.9zM82.5 366.4h3.0v6.1h-3.0zM112.1 366.4h5.9v6.1h-5.9zM206.8 366.4h3.0v6.1h-3.0zM67.7 372.5h3.0v5.4h-3.0zM82.5 372.5h3.0v5.4h-3.0zM88.5 372.5h5.9v5.4h-5.9zM100.3 372.5h14.8v5.4h-14.8zM129.9 372.5h3.0v5.4h-3.0zM209.7 372.5h3.0v5.4h-3.0zM70.7 377.9h3.0v7.0h-3.0zM106.2 377.9h3.0v7.0h-3.0zM121.0 377.9h3.0v7.0h-3.0zM156.5 377.9h3.0v7.0h-3.0zM183.1 377.9h3.0v7.0h-3.0zM194.9 377.9h3.0v7.0h-3.0zM200.9 377.9h5.9v7.0h-5.9zM212.7 377.9h3.0v7.0h-3.0zM58.9 384.9h3.0v5.0h-3.0zM64.8 384.9h3.0v5.0h-3.0zM73.7 384.9h3.0v5.0h-3.0zM82.5 384.9h3.0v5.0h-3.0zM91.4 384.9h8.9v5.0h-8.9zM103.2 384.9h5.9v5.0h-5.9zM118.0 384.9h3.0v5.0h-3.0zM150.6 384.9h3.0v5.0h-3.0zM174.2 384.9h3.0v5.0h-3.0zM183.1 384.9h3.0v5.0h-3.0zM200.9 384.9h3.0v5.0h-3.0zM209.7 384.9h3.0v5.0h-3.0zM242.3 384.9h3.0v5.0h-3.0zM82.5 389.9h3.0v6.1h-3.0zM88.5 389.9h3.0v6.1h-3.0zM94.4 389.9h11.8v6.1h-11.8zM109.2 389.9h3.0v6.1h-3.0zM129.9 389.9h3.0v6.1h-3.0zM159.4 389.9h3.0v6.1h-3.0zM174.2 389.9h5.9v6.1h-5.9zM183.1 389.9h3.0v6.1h-3.0zM200.9 389.9h3.0v6.1h-3.0zM206.8 389.9h8.9v6.1h-8.9zM55.9 399.0h3.0v8.2h-3.0zM76.6 399.0h3.0v8.2h-3.0zM82.5 399.0h5.9v8.2h-5.9zM91.4 399.0h3.0v8.2h-3.0zM121.0 399.0h3.0v8.2h-3.0zM126.9 399.0h3.0v8.2h-3.0zM141.7 399.0h3.0v8.2h-3.0zM147.6 399.0h3.0v8.2h-3.0zM162.4 399.0h3.0v8.2h-3.0zM171.3 399.0h3.0v8.2h-3.0zM180.2 399.0h3.0v8.2h-3.0zM186.1 399.0h5.9v8.2h-5.9zM203.8 399.0h5.9v8.2h-5.9zM224.5 399.0h3.0v8.2h-3.0zM67.7 407.2h3.0v7.3h-3.0zM94.4 407.2h3.0v7.3h-3.0zM100.3 407.2h3.0v7.3h-3.0zM115.1 407.2h3.0v7.3h-3.0zM121.0 407.2h5.9v7.3h-5.9zM135.8 407.2h3.0v7.3h-3.0zM165.4 407.2h3.0v7.3h-3.0zM180.2 407.2h3.0v7.3h-3.0zM189.0 407.2h3.0v7.3h-3.0zM212.7 407.2h3.0v7.3h-3.0zM224.5 407.2h3.0v7.3h-3.0zM402.0 407.2h3.0v7.3h-3.0zM100.3 414.5h3.0v4.3h-3.0zM115.1 414.5h3.0v4.3h-3.0zM147.6 414.5h5.9v4.3h-5.9zM165.4 414.5h3.0v4.3h-3.0zM180.2 414.5h3.0v4.3h-3.0zM189.0 414.5h3.0v4.3h-3.0zM203.8 414.5h3.0v4.3h-3.0zM212.7 414.5h3.0v4.3h-3.0zM319.2 414.5h3.0v4.3h-3.0zM82.5 418.9h3.0v7.1h-3.0zM88.5 418.9h3.0v7.1h-3.0zM94.4 418.9h3.0v7.1h-3.0zM100.3 418.9h5.9v7.1h-5.9zM121.0 418.9h3.0v7.1h-3.0zM141.7 418.9h3.0v7.1h-3.0zM147.6 418.9h3.0v7.1h-3.0zM153.5 418.9h3.0v7.1h-3.0zM165.4 418.9h3.0v7.1h-3.0zM186.1 418.9h3.0v7.1h-3.0zM319.2 418.9h3.0v7.1h-3.0zM88.5 426.0h3.0v8.6h-3.0zM100.3 426.0h3.0v8.6h-3.0zM115.1 426.0h3.0v8.6h-3.0zM132.8 426.0h3.0v8.6h-3.0zM174.2 426.0h3.0v8.6h-3.0zM180.2 426.0h3.0v8.6h-3.0zM189.0 426.0h3.0v8.6h-3.0zM194.9 426.0h3.0v8.6h-3.0zM212.7 426.0h3.0v8.6h-3.0zM224.5 426.0h3.0v8.6h-3.0zM55.9 434.6h3.0v3.4h-3.0zM61.8 434.6h3.0v3.4h-3.0zM67.7 434.6h3.0v3.4h-3.0zM76.6 434.6h3.0v3.4h-3.0zM85.5 434.6h8.9v3.4h-8.9zM100.3 434.6h3.0v3.4h-3.0zM106.2 434.6h3.0v3.4h-3.0zM124.0 434.6h3.0v3.4h-3.0zM129.9 434.6h5.9v3.4h-5.9zM141.7 434.6h3.0v3.4h-3.0zM147.6 434.6h3.0v3.4h-3.0zM183.1 434.6h3.0v3.4h-3.0zM189.0 434.6h3.0v3.4h-3.0zM203.8 434.6h3.0v3.4h-3.0zM209.7 434.6h5.9v3.4h-5.9zM283.7 434.6h3.0v3.4h-3.0zM67.7 438.0h3.0v4.8h-3.0zM82.5 438.0h3.0v4.8h-3.0zM88.5 438.0h3.0v4.8h-3.0zM97.3 438.0h3.0v4.8h-3.0zM106.2 438.0h3.0v4.8h-3.0zM115.1 438.0h3.0v4.8h-3.0zM121.0 438.0h3.0v4.8h-3.0zM165.4 438.0h3.0v4.8h-3.0zM194.9 438.0h3.0v4.8h-3.0zM206.8 438.0h3.0v4.8h-3.0zM212.7 438.0h3.0v4.8h-3.0zM283.7 438.0h3.0v4.8h-3.0zM319.2 438.0h3.0v4.8h-3.0zM67.7 442.8h3.0v3.8h-3.0zM82.5 442.8h3.0v3.8h-3.0zM91.4 442.8h5.9v3.8h-5.9zM100.3 442.8h3.0v3.8h-3.0zM109.2 442.8h3.0v3.8h-3.0zM121.0 442.8h3.0v3.8h-3.0zM147.6 442.8h3.0v3.8h-3.0zM153.5 442.8h5.9v3.8h-5.9zM162.4 442.8h5.9v3.8h-5.9zM180.2 442.8h3.0v3.8h-3.0zM203.8 442.8h3.0v3.8h-3.0zM209.7 442.8h5.9v3.8h-5.9zM236.4 442.8h5.9v3.8h-5.9zM283.7 442.8h3.0v3.8h-3.0zM402.0 442.8h3.0v3.8h-3.0zM61.8 446.5h3.0v8.2h-3.0zM88.5 446.5h5.9v8.2h-5.9zM97.3 446.5h3.0v8.2h-3.0zM115.1 446.5h3.0v8.2h-3.0zM121.0 446.5h5.9v8.2h-5.9zM153.5 446.5h5.9v8.2h-5.9zM180.2 446.5h3.0v8.2h-3.0zM189.0 446.5h3.0v8.2h-3.0zM206.8 446.5h8.9v8.2h-8.9zM115.1 454.8h5.9v3.8h-5.9zM138.7 454.8h3.0v3.8h-3.0zM147.6 454.8h3.0v3.8h-3.0zM153.5 454.8h5.9v3.8h-5.9zM180.2 454.8h3.0v3.8h-3.0zM194.9 454.8h3.0v3.8h-3.0zM203.8 454.8h3.0v3.8h-3.0zM209.7 454.8h3.0v3.8h-3.0zM67.7 458.5h3.0v3.6h-3.0zM82.5 458.5h3.0v3.6h-3.0zM97.3 458.5h5.9v3.6h-5.9zM115.1 458.5h3.0v3.6h-3.0zM156.5 458.5h3.0v3.6h-3.0zM194.9 458.5h3.0v3.6h-3.0zM206.8 458.5h3.0v3.6h-3.0zM212.7 458.5h3.0v3.6h-3.0zM224.5 458.5h3.0v3.6h-3.0zM67.7 462.1h3.0v3.6h-3.0zM82.5 462.1h3.0v3.6h-3.0zM88.5 462.1h5.9v3.6h-5.9zM115.1 462.1h3.0v3.6h-3.0zM132.8 462.1h5.9v3.6h-5.9zM153.5 462.1h3.0v3.6h-3.0zM180.2 462.1h3.0v3.6h-3.0zM189.0 462.1h3.0v3.6h-3.0zM194.9 462.1h3.0v3.6h-3.0zM203.8 462.1h3.0v3.6h-3.0zM212.7 462.1h3.0v3.6h-3.0zM224.5 462.1h3.0v3.6h-3.0zM319.2 462.1h3.0v3.6h-3.0zM55.9 465.7h3.0v8.0h-3.0zM67.7 465.7h3.0v8.0h-3.0zM85.5 465.7h5.9v8.0h-5.9zM97.3 465.7h5.9v8.0h-5.9zM115.1 465.7h3.0v8.0h-3.0zM121.0 465.7h3.0v8.0h-3.0zM132.8 465.7h3.0v8.0h-3.0zM174.2 465.7h3.0v8.0h-3.0zM186.1 465.7h5.9v8.0h-5.9zM209.7 465.7h5.9v8.0h-5.9zM55.9 473.7h3.0v4.2h-3.0zM67.7 473.7h3.0v4.2h-3.0zM76.6 473.7h3.0v4.2h-3.0zM88.5 473.7h3.0v4.2h-3.0zM94.4 473.7h8.9v4.2h-8.9zM126.9 473.7h3.0v4.2h-3.0zM132.8 473.7h5.9v4.2h-5.9zM144.7 473.7h5.9v4.2h-5.9zM162.4 473.7h3.0v4.2h-3.0zM174.2 473.7h3.0v4.2h-3.0zM180.2 473.7h3.0v4.2h-3.0zM203.8 473.7h5.9v4.2h-5.9zM239.3 473.7h3.0v4.2h-3.0zM76.6 477.9h3.0v8.8h-3.0zM97.3 477.9h5.9v8.8h-5.9zM109.2 477.9h3.0v8.8h-3.0zM115.1 477.9h3.0v8.8h-3.0zM132.8 477.9h3.0v8.8h-3.0zM147.6 477.9h3.0v8.8h-3.0zM156.5 477.9h3.0v8.8h-3.0zM165.4 477.9h3.0v8.8h-3.0zM174.2 477.9h3.0v8.8h-3.0zM186.1 477.9h3.0v8.8h-3.0zM61.8 486.7h5.9v3.2h-5.9zM76.6 486.7h3.0v3.2h-3.0zM82.5 486.7h3.0v3.2h-3.0zM103.2 486.7h5.9v3.2h-5.9zM112.1 486.7h3.0v3.2h-3.0zM126.9 486.7h3.0v3.2h-3.0zM135.8 486.7h3.0v3.2h-3.0zM141.7 486.7h5.9v3.2h-5.9zM150.6 486.7h3.0v3.2h-3.0zM165.4 486.7h8.9v3.2h-8.9zM177.2 486.7h3.0v3.2h-3.0zM183.1 486.7h8.9v3.2h-8.9zM200.9 486.7h11.8v3.2h-11.8zM221.6 486.7h3.0v3.2h-3.0zM230.4 486.7h3.0v3.2h-3.0zM236.4 486.7h3.0v3.2h-3.0zM283.7 486.7h3.0v3.2h-3.0zM55.9 489.9h3.0v5.7h-3.0zM61.8 489.9h5.9v5.7h-5.9zM85.5 489.9h5.9v5.7h-5.9zM94.4 489.9h3.0v5.7h-3.0zM121.0 489.9h3.0v5.7h-3.0zM132.8 489.9h5.9v5.7h-5.9zM144.7 489.9h5.9v5.7h-5.9zM153.5 489.9h3.0v5.7h-3.0zM162.4 489.9h3.0v5.7h-3.0zM180.2 489.9h3.0v5.7h-3.0zM186.1 489.9h5.9v5.7h-5.9zM206.8 489.9h5.9v5.7h-5.9zM224.5 489.9h3.0v5.7h-3.0zM319.2 489.9h3.0v5.7h-3.0zM67.7 495.7h3.0v3.8h-3.0zM141.7 495.7h3.0v3.8h-3.0zM147.6 495.7h3.0v3.8h-3.0zM153.5 495.7h3.0v3.8h-3.0zM165.4 495.7h3.0v3.8h-3.0zM194.9 495.7h3.0v3.8h-3.0zM224.5 495.7h3.0v3.8h-3.0zM319.2 495.7h3.0v3.8h-3.0zM67.7 499.5h3.0v4.1h-3.0zM82.5 499.5h3.0v4.1h-3.0zM88.5 499.5h5.9v4.1h-5.9zM97.3 499.5h5.9v4.1h-5.9zM121.0 499.5h3.0v4.1h-3.0zM135.8 499.5h3.0v4.1h-3.0zM156.5 499.5h3.0v4.1h-3.0zM171.3 499.5h3.0v4.1h-3.0zM194.9 499.5h3.0v4.1h-3.0zM203.8 499.5h3.0v4.1h-3.0zM209.7 499.5h5.9v4.1h-5.9zM224.5 499.5h3.0v4.1h-3.0zM236.4 499.5h3.0v4.1h-3.0zM283.7 499.5h3.0v4.1h-3.0zM402.0 499.5h3.0v4.1h-3.0zM55.9 503.6h3.0v4.1h-3.0zM67.7 503.6h3.0v4.1h-3.0zM88.5 503.6h3.0v4.1h-3.0zM97.3 503.6h3.0v4.1h-3.0zM115.1 503.6h3.0v4.1h-3.0zM121.0 503.6h3.0v4.1h-3.0zM132.8 503.6h5.9v4.1h-5.9zM141.7 503.6h3.0v4.1h-3.0zM147.6 503.6h3.0v4.1h-3.0zM180.2 503.6h3.0v4.1h-3.0zM203.8 503.6h3.0v4.1h-3.0zM236.4 503.6h3.0v4.1h-3.0zM242.3 503.6h3.0v4.1h-3.0zM67.7 507.7h3.0v6.4h-3.0zM76.6 507.7h3.0v6.4h-3.0zM94.4 507.7h8.9v6.4h-8.9zM115.1 507.7h3.0v6.4h-3.0zM132.8 507.7h5.9v6.4h-5.9zM147.6 507.7h3.0v6.4h-3.0zM171.3 507.7h3.0v6.4h-3.0zM180.2 507.7h3.0v6.4h-3.0zM189.0 507.7h3.0v6.4h-3.0zM194.9 507.7h3.0v6.4h-3.0zM221.6 507.7h3.0v6.4h-3.0zM283.7 507.7h3.0v6.4h-3.0zM319.2 507.7h3.0v6.4h-3.0zM67.7 514.0h3.0v4.3h-3.0zM94.4 514.0h8.9v4.3h-8.9zM115.1 514.0h3.0v4.3h-3.0zM147.6 514.0h3.0v4.3h-3.0zM162.4 514.0h3.0v4.3h-3.0zM174.2 514.0h3.0v4.3h-3.0zM194.9 514.0h3.0v4.3h-3.0zM203.8 514.0h3.0v4.3h-3.0zM212.7 514.0h3.0v4.3h-3.0zM224.5 514.0h3.0v4.3h-3.0zM283.7 514.0h3.0v4.3h-3.0zM319.2 514.0h3.0v4.3h-3.0zM61.8 518.3h3.0v5.0h-3.0zM82.5 518.3h3.0v5.0h-3.0zM88.5 518.3h3.0v5.0h-3.0zM97.3 518.3h5.9v5.0h-5.9zM129.9 518.3h3.0v5.0h-3.0zM138.7 518.3h3.0v5.0h-3.0zM147.6 518.3h3.0v5.0h-3.0zM162.4 518.3h3.0v5.0h-3.0zM174.2 518.3h3.0v5.0h-3.0zM194.9 518.3h3.0v5.0h-3.0zM212.7 518.3h3.0v5.0h-3.0zM224.5 518.3h3.0v5.0h-3.0zM239.3 518.3h3.0v5.0h-3.0zM97.3 523.4h3.0v7.6h-3.0zM118.0 523.4h3.0v7.6h-3.0zM147.6 523.4h3.0v7.6h-3.0zM156.5 523.4h3.0v7.6h-3.0zM192.0 523.4h5.9v7.6h-5.9zM53.0 534.0h3.0v4.7h-3.0zM61.8 534.0h3.0v4.7h-3.0zM82.5 534.0h3.0v4.7h-3.0zM91.4 534.0h3.0v4.7h-3.0zM100.3 534.0h3.0v4.7h-3.0zM112.1 534.0h3.0v4.7h-3.0zM280.7 534.0h3.0v4.7h-3.0zM295.5 534.0h3.0v4.7h-3.0zM366.5 534.0h3.0v4.7h-3.0zM410.9 534.0h3.0v4.7h-3.0zM434.5 534.0h3.0v4.7h-3.0zM58.9 538.7h8.9v8.6h-8.9zM76.6 538.7h3.0v8.6h-3.0zM88.5 538.7h3.0v8.6h-3.0zM94.4 538.7h3.0v8.6h-3.0zM100.3 538.7h3.0v8.6h-3.0zM109.2 538.7h5.9v8.6h-5.9zM271.9 538.7h3.0v8.6h-3.0zM336.9 538.7h3.0v8.6h-3.0zM410.9 538.7h3.0v8.6h-3.0zM434.5 538.7h3.0v8.6h-3.0zM70.7 547.3h5.9v5.1h-5.9zM91.4 547.3h3.0v5.1h-3.0zM115.1 547.3h3.0v5.1h-3.0zM283.7 547.3h3.0v5.1h-3.0zM295.5 547.3h3.0v5.1h-3.0zM322.1 547.3h3.0v5.1h-3.0zM410.9 547.3h3.0v5.1h-3.0zM434.5 547.3h3.0v5.1h-3.0zM50.0 552.4h3.0v3.4h-3.0zM79.6 552.4h3.0v3.4h-3.0zM295.5 552.4h3.0v3.4h-3.0zM325.1 552.4h3.0v3.4h-3.0zM336.9 552.4h3.0v3.4h-3.0zM410.9 552.4h3.0v3.4h-3.0zM431.6 552.4h3.0v3.4h-3.0zM121.0 555.8h3.0v7.8h-3.0zM126.9 555.8h3.0v7.8h-3.0zM283.7 555.8h3.0v7.8h-3.0zM301.4 555.8h5.9v7.8h-5.9zM322.1 555.8h3.0v7.8h-3.0zM336.9 555.8h3.0v7.8h-3.0zM410.9 555.8h3.0v7.8h-3.0zM422.7 555.8h5.9v7.8h-5.9zM431.6 555.8h3.0v7.8h-3.0zM50.0 563.6h3.0v5.4h-3.0zM67.7 563.6h3.0v5.4h-3.0zM79.6 563.6h3.0v5.4h-3.0zM121.0 563.6h3.0v5.4h-3.0zM280.7 563.6h5.9v5.4h-5.9zM304.4 563.6h3.0v5.4h-3.0zM328.1 563.6h3.0v5.4h-3.0zM334.0 563.6h5.9v5.4h-5.9zM410.9 563.6h3.0v5.4h-3.0zM422.7 563.6h3.0v5.4h-3.0zM428.6 563.6h5.9v5.4h-5.9zM106.2 569.0h3.0v8.9h-3.0zM121.0 569.0h3.0v8.9h-3.0zM132.8 569.0h3.0v8.9h-3.0zM271.9 569.0h3.0v8.9h-3.0zM301.4 569.0h5.9v8.9h-5.9zM325.1 569.0h3.0v8.9h-3.0zM334.0 569.0h5.9v8.9h-5.9zM416.8 569.0h3.0v8.9h-3.0zM431.6 569.0h3.0v8.9h-3.0zM58.9 577.9h3.0v7.2h-3.0zM67.7 577.9h8.9v7.2h-8.9zM85.5 577.9h3.0v7.2h-3.0zM121.0 577.9h3.0v7.2h-3.0zM304.4 577.9h3.0v7.2h-3.0zM322.1 577.9h3.0v7.2h-3.0zM366.5 577.9h3.0v7.2h-3.0zM425.7 577.9h3.0v7.2h-3.0zM434.5 577.9h3.0v7.2h-3.0zM53.0 585.1h3.0v5.0h-3.0zM289.6 585.1h3.0v5.0h-3.0zM295.5 585.1h3.0v5.0h-3.0zM304.4 585.1h3.0v5.0h-3.0zM325.1 585.1h5.9v5.0h-5.9zM416.8 585.1h3.0v5.0h-3.0zM422.7 585.1h3.0v5.0h-3.0zM428.6 585.1h5.9v5.0h-5.9zM64.8 590.1h3.0v4.9h-3.0zM106.2 590.1h3.0v4.9h-3.0zM112.1 590.1h3.0v4.9h-3.0zM118.0 590.1h5.9v4.9h-5.9zM126.9 590.1h3.0v4.9h-3.0zM132.8 590.1h3.0v4.9h-3.0zM271.9 590.1h3.0v4.9h-3.0zM280.7 590.1h3.0v4.9h-3.0zM295.5 590.1h3.0v4.9h-3.0zM434.5 590.1h3.0v4.9h-3.0zM301.4 598.0h3.0v6.9h-3.0zM322.1 598.0h3.0v6.9h-3.0zM334.0 598.0h3.0v6.9h-3.0zM381.3 598.0h3.0v6.9h-3.0zM402.0 598.0h3.0v6.9h-3.0zM410.9 598.0h3.0v6.9h-3.0zM428.6 598.0h3.0v6.9h-3.0zM434.5 598.0h3.0v6.9h-3.0zM50.0 604.9h3.0v8.8h-3.0zM295.5 604.9h5.9v8.8h-5.9zM328.1 604.9h3.0v8.8h-3.0zM336.9 604.9h3.0v8.8h-3.0zM342.8 604.9h3.0v8.8h-3.0zM407.9 604.9h3.0v8.8h-3.0zM425.7 604.9h3.0v8.8h-3.0zM295.5 613.7h5.9v7.0h-5.9zM339.9 613.7h5.9v7.0h-5.9zM402.0 613.7h3.0v7.0h-3.0zM428.6 613.7h3.0v7.0h-3.0zM203.8 620.7h3.0v3.8h-3.0zM295.5 620.7h5.9v3.8h-5.9zM375.4 620.7h5.9v3.8h-5.9zM390.2 620.7h5.9v3.8h-5.9zM410.9 620.7h3.0v3.8h-3.0zM419.8 620.7h5.9v3.8h-5.9zM428.6 620.7h3.0v3.8h-3.0zM239.3 624.4h3.0v4.7h-3.0zM277.8 624.4h3.0v4.7h-3.0zM289.6 624.4h3.0v4.7h-3.0zM298.5 624.4h3.0v4.7h-3.0zM304.4 624.4h3.0v4.7h-3.0zM334.0 624.4h5.9v4.7h-5.9zM375.4 624.4h3.0v4.7h-3.0zM381.3 624.4h5.9v4.7h-5.9zM402.0 624.4h3.0v4.7h-3.0zM410.9 624.4h5.9v4.7h-5.9zM230.4 629.2h3.0v4.3h-3.0zM239.3 629.2h3.0v4.3h-3.0zM277.8 629.2h3.0v4.3h-3.0zM304.4 629.2h3.0v4.3h-3.0zM366.5 629.2h3.0v4.3h-3.0zM375.4 629.2h5.9v4.3h-5.9zM384.3 629.2h3.0v4.3h-3.0zM410.9 629.2h3.0v4.3h-3.0zM422.7 629.2h3.0v4.3h-3.0zM295.5 633.5h5.9v5.9h-5.9zM304.4 633.5h3.0v5.9h-3.0zM328.1 633.5h3.0v5.9h-3.0zM334.0 633.5h5.9v5.9h-5.9zM381.3 633.5h3.0v5.9h-3.0zM402.0 633.5h3.0v5.9h-3.0zM407.9 633.5h3.0v5.9h-3.0zM50.0 639.3h3.0v7.7h-3.0zM319.2 639.3h5.9v7.7h-5.9zM328.1 639.3h3.0v7.7h-3.0zM336.9 639.3h3.0v7.7h-3.0zM50.0 647.0h3.0v9.0h-3.0zM138.7 647.0h3.0v9.0h-3.0zM165.4 647.0h3.0v9.0h-3.0zM203.8 647.0h3.0v9.0h-3.0zM239.3 647.0h5.9v9.0h-5.9zM268.9 647.0h3.0v9.0h-3.0zM277.8 647.0h3.0v9.0h-3.0zM283.7 647.0h3.0v9.0h-3.0zM313.3 647.0h8.9v9.0h-8.9zM336.9 647.0h3.0v9.0h-3.0zM378.3 647.0h8.9v9.0h-8.9zM407.9 647.0h3.0v9.0h-3.0zM413.8 647.0h3.0v9.0h-3.0zM50.0 656.0h5.9v7.0h-5.9zM203.8 656.0h3.0v7.0h-3.0zM251.1 656.0h3.0v7.0h-3.0zM268.9 656.0h5.9v7.0h-5.9zM316.2 656.0h8.9v7.0h-8.9zM328.1 656.0h14.8v7.0h-14.8zM402.0 656.0h3.0v7.0h-3.0zM434.5 656.0h3.0v7.0h-3.0zM203.8 663.0h3.0v6.6h-3.0zM227.5 663.0h3.0v6.6h-3.0zM233.4 663.0h3.0v6.6h-3.0zM239.3 663.0h3.0v6.6h-3.0zM251.1 663.0h3.0v6.6h-3.0zM268.9 663.0h3.0v6.6h-3.0zM316.2 663.0h5.9v6.6h-5.9zM334.0 663.0h5.9v6.6h-5.9zM342.8 663.0h3.0v6.6h-3.0zM375.4 663.0h11.8v6.6h-11.8zM135.8 669.6h3.0v3.5h-3.0zM156.5 669.6h3.0v3.5h-3.0zM200.9 669.6h3.0v3.5h-3.0zM239.3 669.6h3.0v3.5h-3.0zM257.1 669.6h3.0v3.5h-3.0zM277.8 669.6h3.0v3.5h-3.0zM283.7 669.6h5.9v3.5h-5.9zM310.3 669.6h3.0v3.5h-3.0zM316.2 669.6h3.0v3.5h-3.0zM363.5 669.6h3.0v3.5h-3.0zM375.4 669.6h3.0v3.5h-3.0zM381.3 669.6h5.9v3.5h-5.9zM434.5 669.6h3.0v3.5h-3.0zM171.3 673.1h3.0v5.1h-3.0zM183.1 673.1h3.0v5.1h-3.0zM200.9 673.1h3.0v5.1h-3.0zM239.3 673.1h3.0v5.1h-3.0zM251.1 673.1h3.0v5.1h-3.0zM316.2 673.1h5.9v5.1h-5.9zM375.4 673.1h11.8v5.1h-11.8zM407.9 673.1h3.0v5.1h-3.0zM425.7 673.1h5.9v5.1h-5.9zM141.7 678.2h3.0v8.5h-3.0zM239.3 678.2h3.0v8.5h-3.0zM268.9 678.2h3.0v8.5h-3.0zM277.8 678.2h3.0v8.5h-3.0zM316.2 678.2h3.0v8.5h-3.0zM336.9 678.2h5.9v8.5h-5.9zM375.4 678.2h3.0v8.5h-3.0zM381.3 678.2h5.9v8.5h-5.9zM413.8 678.2h3.0v8.5h-3.0zM425.7 678.2h3.0v8.5h-3.0zM50.0 686.8h3.0v4.9h-3.0zM200.9 686.8h5.9v4.9h-5.9zM230.4 686.8h3.0v4.9h-3.0zM251.1 686.8h3.0v4.9h-3.0zM268.9 686.8h5.9v4.9h-5.9zM277.8 686.8h3.0v4.9h-3.0zM286.6 686.8h3.0v4.9h-3.0zM316.2 686.8h5.9v4.9h-5.9zM342.8 686.8h3.0v4.9h-3.0zM384.3 686.8h3.0v4.9h-3.0zM402.0 686.8h3.0v4.9h-3.0zM50.0 691.6h3.0v3.2h-3.0zM180.2 691.6h3.0v3.2h-3.0zM186.1 691.6h3.0v3.2h-3.0zM215.6 691.6h3.0v3.2h-3.0zM233.4 691.6h3.0v3.2h-3.0zM239.3 691.6h5.9v3.2h-5.9zM248.2 691.6h3.0v3.2h-3.0zM271.9 691.6h3.0v3.2h-3.0zM316.2 691.6h5.9v3.2h-5.9zM339.9 691.6h3.0v3.2h-3.0zM363.5 691.6h3.0v3.2h-3.0zM410.9 691.6h5.9v3.2h-5.9zM425.7 691.6h8.9v3.2h-8.9zM53.0 694.9h3.0v5.0h-3.0zM277.8 694.9h3.0v5.0h-3.0zM310.3 694.9h3.0v5.0h-3.0zM328.1 694.9h3.0v5.0h-3.0zM402.0 694.9h3.0v5.0h-3.0zM203.8 699.9h3.0v5.7h-3.0zM239.3 699.9h3.0v5.7h-3.0zM268.9 699.9h5.9v5.7h-5.9zM277.8 699.9h3.0v5.7h-3.0zM286.6 699.9h3.0v5.7h-3.0zM310.3 699.9h3.0v5.7h-3.0zM316.2 699.9h3.0v5.7h-3.0zM339.9 699.9h5.9v5.7h-5.9zM375.4 699.9h3.0v5.7h-3.0zM381.3 699.9h3.0v5.7h-3.0zM425.7 699.9h3.0v5.7h-3.0zM434.5 699.9h3.0v5.7h-3.0zM165.4 705.6h3.0v8.6h-3.0zM200.9 705.6h5.9v8.6h-5.9zM227.5 705.6h3.0v8.6h-3.0zM239.3 705.6h3.0v8.6h-3.0zM271.9 705.6h3.0v8.6h-3.0zM277.8 705.6h5.9v8.6h-5.9zM286.6 705.6h3.0v8.6h-3.0zM339.9 705.6h3.0v8.6h-3.0zM375.4 705.6h3.0v8.6h-3.0zM393.1 705.6h3.0v8.6h-3.0zM425.7 705.6h3.0v8.6h-3.0zM434.5 705.6h3.0v8.6h-3.0zM50.0 714.2h3.0v7.8h-3.0zM203.8 714.2h3.0v7.8h-3.0zM271.9 714.2h3.0v7.8h-3.0zM310.3 714.2h3.0v7.8h-3.0zM316.2 714.2h5.9v7.8h-5.9zM336.9 714.2h3.0v7.8h-3.0zM381.3 714.2h5.9v7.8h-5.9zM407.9 714.2h3.0v7.8h-3.0zM425.7 714.2h3.0v7.8h-3.0zM203.8 722.0h3.0v7.1h-3.0zM227.5 722.0h3.0v7.1h-3.0zM239.3 722.0h3.0v7.1h-3.0zM251.1 722.0h5.9v7.1h-5.9zM277.8 722.0h3.0v7.1h-3.0zM298.5 722.0h3.0v7.1h-3.0zM304.4 722.0h5.9v7.1h-5.9zM363.5 722.0h3.0v7.1h-3.0zM405.0 722.0h3.0v7.1h-3.0zM425.7 722.0h3.0v7.1h-3.0zM434.5 722.0h3.0v7.1h-3.0zM50.0 729.1h3.0v8.6h-3.0zM153.5 729.1h3.0v8.6h-3.0zM200.9 729.1h3.0v8.6h-3.0zM239.3 729.1h3.0v8.6h-3.0zM271.9 729.1h3.0v8.6h-3.0zM277.8 729.1h3.0v8.6h-3.0zM307.3 729.1h3.0v8.6h-3.0zM316.2 729.1h5.9v8.6h-5.9zM334.0 729.1h5.9v8.6h-5.9zM342.8 729.1h3.0v8.6h-3.0zM381.3 729.1h5.9v8.6h-5.9zM50.0 737.7h3.0v8.0h-3.0zM310.3 737.7h3.0v8.0h-3.0zM319.2 737.7h3.0v8.0h-3.0zM331.0 737.7h8.9v8.0h-8.9zM402.0 737.7h3.0v8.0h-3.0zM407.9 737.7h3.0v8.0h-3.0zM425.7 737.7h3.0v8.0h-3.0zM434.5 737.7h3.0v8.0h-3.0zM141.7 745.8h3.0v3.4h-3.0zM153.5 745.8h3.0v3.4h-3.0zM200.9 745.8h3.0v3.4h-3.0zM248.2 745.8h3.0v3.4h-3.0zM254.1 745.8h3.0v3.4h-3.0zM268.9 745.8h3.0v3.4h-3.0zM280.7 745.8h3.0v3.4h-3.0zM286.6 745.8h3.0v3.4h-3.0zM301.4 745.8h5.9v3.4h-5.9zM313.3 745.8h5.9v3.4h-5.9zM413.8 745.8h3.0v3.4h-3.0zM425.7 745.8h3.0v3.4h-3.0zM434.5 745.8h3.0v3.4h-3.0zM50.0 749.2h3.0v7.1h-3.0zM200.9 749.2h3.0v7.1h-3.0zM239.3 749.2h3.0v7.1h-3.0zM295.5 749.2h3.0v7.1h-3.0zM307.3 749.2h5.9v7.1h-5.9zM319.2 749.2h3.0v7.1h-3.0zM334.0 749.2h3.0v7.1h-3.0zM339.9 749.2h5.9v7.1h-5.9zM375.4 749.2h8.9v7.1h-8.9zM425.7 749.2h3.0v7.1h-3.0zM434.5 749.2h3.0v7.1h-3.0z" fill="rgb(244, 246, 207)"/>
<path d="M67.7 340.6h3.0v5.7h-3.0zM82.5 340.6h14.8v5.7h-14.8zM106.2 340.6h3.0v5.7h-3.0zM121.0 340.6h3.0v5.7h-3.0zM150.6 340.6h3.0v5.7h-3.0zM165.4 340.6h3.0v5.7h-3.0zM174.2 340.6h3.0v5.7h-3.0zM183.1 340.6h3.0v5.7h-3.0zM194.9 340.6h3.0v5.7h-3.0zM203.8 340.6h3.0v5.7h-3.0zM209.7 340.6h3.0v5.7h-3.0zM236.4 340.6h3.0v5.7h-3.0zM316.2 340.6h3.0v5.7h-3.0zM58.9 346.3h5.9v5.3h-5.9zM88.5 346.3h11.8v5.3h-11.8zM109.2 346.3h3.0v5.3h-3.0zM132.8 346.3h3.0v5.3h-3.0zM153.5 346.3h5.9v5.3h-5.9zM174.2 346.3h3.0v5.3h-3.0zM183.1 346.3h3.0v5.3h-3.0zM200.9 346.3h5.9v5.3h-5.9zM283.7 346.3h3.0v5.3h-3.0zM112.1 351.6h3.0v7.2h-3.0zM126.9 351.6h3.0v7.2h-3.0zM150.6 351.6h3.0v7.2h-3.0zM156.5 351.6h3.0v7.2h-3.0zM165.4 351.6h3.0v7.2h-3.0zM171.3 351.6h5.9v7.2h-5.9zM200.9 351.6h14.8v7.2h-14.8zM242.3 351.6h3.0v7.2h-3.0zM283.7 351.6h3.0v7.2h-3.0zM55.9 358.8h3.0v3.5h-3.0zM70.7 358.8h3.0v3.5h-3.0zM76.6 358.8h3.0v3.5h-3.0zM115.1 358.8h3.0v3.5h-3.0zM121.0 358.8h3.0v3.5h-3.0zM144.7 358.8h3.0v3.5h-3.0zM150.6 358.8h3.0v3.5h-3.0zM171.3 358.8h3.0v3.5h-3.0zM200.9 358.8h5.9v3.5h-5.9zM209.7 358.8h3.0v3.5h-3.0zM283.7 358.8h3.0v3.5h-3.0zM76.6 362.4h3.0v4.0h-3.0zM138.7 362.4h17.7v4.0h-17.7zM171.3 362.4h5.9v4.0h-5.9zM194.9 362.4h3.0v4.0h-3.0zM206.8 362.4h3.0v4.0h-3.0zM283.7 362.4h3.0v4.0h-3.0zM298.5 362.4h3.0v4.0h-3.0zM106.2 366.4h3.0v6.1h-3.0zM118.0 366.4h3.0v6.1h-3.0zM132.8 366.4h3.0v6.1h-3.0zM156.5 366.4h3.0v6.1h-3.0zM174.2 366.4h5.9v6.1h-5.9zM194.9 366.4h3.0v6.1h-3.0zM200.9 366.4h3.0v6.1h-3.0zM212.7 366.4h3.0v6.1h-3.0zM242.3 366.4h3.0v6.1h-3.0zM70.7 372.5h3.0v5.4h-3.0zM79.6 372.5h3.0v5.4h-3.0zM115.1 372.5h8.9v5.4h-8.9zM144.7 372.5h3.0v5.4h-3.0zM153.5 372.5h3.0v5.4h-3.0zM165.4 372.5h3.0v5.4h-3.0zM174.2 372.5h3.0v5.4h-3.0zM189.0 372.5h3.0v5.4h-3.0zM212.7 372.5h3.0v5.4h-3.0zM283.7 372.5h3.0v5.4h-3.0zM76.6 377.9h3.0v7.0h-3.0zM115.1 377.9h3.0v7.0h-3.0zM126.9 377.9h3.0v7.0h-3.0zM141.7 377.9h5.9v7.0h-5.9zM150.6 377.9h3.0v7.0h-3.0zM165.4 377.9h3.0v7.0h-3.0zM171.3 377.9h3.0v7.0h-3.0zM177.2 377.9h3.0v7.0h-3.0zM189.0 377.9h3.0v7.0h-3.0zM206.8 377.9h3.0v7.0h-3.0zM236.4 377.9h3.0v7.0h-3.0zM242.3 377.9h3.0v7.0h-3.0zM55.9 384.9h3.0v5.0h-3.0zM70.7 384.9h3.0v5.0h-3.0zM79.6 384.9h3.0v5.0h-3.0zM109.2 384.9h5.9v5.0h-5.9zM132.8 384.9h3.0v5.0h-3.0zM138.7 384.9h3.0v5.0h-3.0zM144.7 384.9h3.0v5.0h-3.0zM153.5 384.9h8.9v5.0h-8.9zM165.4 384.9h3.0v5.0h-3.0zM189.0 384.9h3.0v5.0h-3.0zM194.9 384.9h3.0v5.0h-3.0zM206.8 384.9h3.0v5.0h-3.0zM212.7 384.9h3.0v5.0h-3.0zM283.7 384.9h3.0v5.0h-3.0zM67.7 389.9h5.9v6.1h-5.9zM79.6 389.9h3.0v6.1h-3.0zM91.4 389.9h3.0v6.1h-3.0zM115.1 389.9h8.9v6.1h-8.9zM132.8 389.9h3.0v6.1h-3.0zM138.7 389.9h3.0v6.1h-3.0zM144.7 389.9h3.0v6.1h-3.0zM150.6 389.9h5.9v6.1h-5.9zM194.9 389.9h5.9v6.1h-5.9zM203.8 389.9h3.0v6.1h-3.0zM242.3 389.9h3.0v6.1h-3.0zM316.2 389.9h3.0v6.1h-3.0zM61.8 399.0h3.0v8.2h-3.0zM67.7 399.0h3.0v8.2h-3.0zM103.2 399.0h3.0v8.2h-3.0zM109.2 399.0h3.0v8.2h-3.0zM124.0 399.0h3.0v8.2h-3.0zM129.9 399.0h5.9v8.2h-5.9zM144.7 399.0h3.0v8.2h-3.0zM150.6 399.0h3.0v8.2h-3.0zM183.1 399.0h3.0v8.2h-3.0zM197.9 399.0h5.9v8.2h-5.9zM209.7 399.0h3.0v8.2h-3.0zM236.4 399.0h11.8v8.2h-11.8zM257.1 399.0h3.0v8.2h-3.0zM274.8 399.0h3.0v8.2h-3.0zM313.3 399.0h8.9v8.2h-8.9zM399.0 399.0h5.9v8.2h-5.9zM410.9 399.0h3.0v8.2h-3.0zM55.9 407.2h3.0v7.3h-3.0zM61.8 407.2h3.0v7.3h-3.0zM82.5 407.2h3.0v7.3h-3.0zM88.5 407.2h5.9v7.3h-5.9zM97.3 407.2h3.0v7.3h-3.0zM112.1 407.2h3.0v7.3h-3.0zM126.9 407.2h8.9v7.3h-8.9zM141.7 407.2h14.8v7.3h-14.8zM162.4 407.2h3.0v7.3h-3.0zM168.3 407.2h3.0v7.3h-3.0zM174.2 407.2h3.0v7.3h-3.0zM183.1 407.2h5.9v7.3h-5.9zM203.8 407.2h3.0v7.3h-3.0zM209.7 407.2h3.0v7.3h-3.0zM239.3 407.2h3.0v7.3h-3.0zM313.3 407.2h8.9v7.3h-8.9zM366.5 407.2h3.0v7.3h-3.0zM55.9 414.5h3.0v4.3h-3.0zM61.8 414.5h3.0v4.3h-3.0zM67.7 414.5h3.0v4.3h-3.0zM76.6 414.5h3.0v4.3h-3.0zM82.5 414.5h8.9v4.3h-8.9zM97.3 414.5h3.0v4.3h-3.0zM121.0 414.5h5.9v4.3h-5.9zM132.8 414.5h3.0v4.3h-3.0zM141.7 414.5h5.9v4.3h-5.9zM153.5 414.5h3.0v4.3h-3.0zM168.3 414.5h8.9v4.3h-8.9zM183.1 414.5h5.9v4.3h-5.9zM200.9 414.5h3.0v4.3h-3.0zM206.8 414.5h5.9v4.3h-5.9zM221.6 414.5h3.0v4.3h-3.0zM283.7 414.5h3.0v4.3h-3.0zM402.0 414.5h3.0v4.3h-3.0zM55.9 418.9h8.9v7.1h-8.9zM67.7 418.9h3.0v7.1h-3.0zM76.6 418.9h3.0v7.1h-3.0zM85.5 418.9h3.0v7.1h-3.0zM91.4 418.9h3.0v7.1h-3.0zM97.3 418.9h3.0v7.1h-3.0zM112.1 418.9h3.0v7.1h-3.0zM124.0 418.9h5.9v7.1h-5.9zM135.8 418.9h3.0v7.1h-3.0zM150.6 418.9h3.0v7.1h-3.0zM162.4 418.9h3.0v7.1h-3.0zM174.2 418.9h3.0v7.1h-3.0zM180.2 418.9h5.9v7.1h-5.9zM189.0 418.9h3.0v7.1h-3.0zM197.9 418.9h3.0v7.1h-3.0zM203.8 418.9h8.9v7.1h-8.9zM236.4 418.9h3.0v7.1h-3.0zM242.3 418.9h3.0v7.1h-3.0zM283.7 418.9h3.0v7.1h-3.0zM313.3 418.9h3.0v7.1h-3.0zM366.5 418.9h3.0v7.1h-3.0zM402.0 418.9h3.0v7.1h-3.0zM55.9 426.0h3.0v8.6h-3.0zM61.8 426.0h8.9v8.6h-8.9zM76.6 426.0h3.0v8.6h-3.0zM82.5 426.0h5.9v8.6h-5.9zM103.2 426.0h5.9v8.6h-5.9zM121.0 426.0h5.9v8.6h-5.9zM135.8 426.0h3.0v8.6h-3.0zM141.7 426.0h8.9v8.6h-8.9zM162.4 426.0h5.9v8.6h-5.9zM171.3 426.0h3.0v8.6h-3.0zM183.1 426.0h3.0v8.6h-3.0zM203.8 426.0h5.9v8.6h-5.9zM221.6 426.0h3.0v8.6h-3.0zM230.4 426.0h3.0v8.6h-3.0zM239.3 426.0h5.9v8.6h-5.9zM402.0 426.0h3.0v8.6h-3.0zM58.9 434.6h3.0v3.4h-3.0zM79.6 434.6h3.0v3.4h-3.0zM97.3 434.6h3.0v3.4h-3.0zM103.2 434.6h3.0v3.4h-3.0zM112.1 434.6h5.9v3.4h-5.9zM121.0 434.6h3.0v3.4h-3.0zM135.8 434.6h3.0v3.4h-3.0zM144.7 434.6h3.0v3.4h-3.0zM150.6 434.6h3.0v3.4h-3.0zM162.4 434.6h5.9v3.4h-5.9zM171.3 434.6h3.0v3.4h-3.0zM180.2 434.6h3.0v3.4h-3.0zM186.1 434.6h3.0v3.4h-3.0zM206.8 434.6h3.0v3.4h-3.0zM221.6 434.6h3.0v3.4h-3.0zM230.4 434.6h3.0v3.4h-3.0zM236.4 434.6h8.9v3.4h-8.9zM257.1 434.6h3.0v3.4h-3.0zM316.2 434.6h3.0v3.4h-3.0zM366.5 434.6h3.0v3.4h-3.0zM384.3 434.6h3.0v3.4h-3.0zM402.0 434.6h3.0v3.4h-3.0zM55.9 438.0h3.0v4.8h-3.0zM64.8 438.0h3.0v4.8h-3.0zM70.7 438.0h3.0v4.8h-3.0zM76.6 438.0h3.0v4.8h-3.0zM85.5 438.0h3.0v4.8h-3.0zM91.4 438.0h3.0v4.8h-3.0zM100.3 438.0h5.9v4.8h-5.9zM109.2 438.0h5.9v4.8h-5.9zM124.0 438.0h3.0v4.8h-3.0zM129.9 438.0h5.9v4.8h-5.9zM141.7 438.0h3.0v4.8h-3.0zM147.6 438.0h3.0v4.8h-3.0zM162.4 438.0h3.0v4.8h-3.0zM174.2 438.0h17.7v4.8h-17.7zM203.8 438.0h3.0v4.8h-3.0zM209.7 438.0h3.0v4.8h-3.0zM236.4 438.0h3.0v4.8h-3.0zM242.3 438.0h3.0v4.8h-3.0zM402.0 438.0h3.0v4.8h-3.0zM55.9 442.8h11.8v3.8h-11.8zM73.7 442.8h3.0v3.8h-3.0zM79.6 442.8h3.0v3.8h-3.0zM85.5 442.8h3.0v3.8h-3.0zM103.2 442.8h5.9v3.8h-5.9zM112.1 442.8h3.0v3.8h-3.0zM124.0 442.8h8.9v3.8h-8.9zM135.8 442.8h3.0v3.8h-3.0zM141.7 442.8h5.9v3.8h-5.9zM150.6 442.8h3.0v3.8h-3.0zM168.3 442.8h8.9v3.8h-8.9zM183.1 442.8h5.9v3.8h-5.9zM197.9 442.8h5.9v3.8h-5.9zM221.6 442.8h3.0v3.8h-3.0zM245.2 442.8h3.0v3.8h-3.0zM274.8 442.8h5.9v3.8h-5.9zM313.3 442.8h5.9v3.8h-5.9zM363.5 442.8h5.9v3.8h-5.9zM396.1 442.8h5.9v3.8h-5.9zM55.9 446.5h3.0v8.2h-3.0zM64.8 446.5h5.9v8.2h-5.9zM82.5 446.5h5.9v8.2h-5.9zM103.2 446.5h8.9v8.2h-8.9zM126.9 446.5h3.0v8.2h-3.0zM132.8 446.5h5.9v8.2h-5.9zM144.7 446.5h5.9v8.2h-5.9zM162.4 446.5h3.0v8.2h-3.0zM174.2 446.5h3.0v8.2h-3.0zM186.1 446.5h3.0v8.2h-3.0zM200.9 446.5h5.9v8.2h-5.9zM224.5 446.5h3.0v8.2h-3.0zM236.4 446.5h3.0v8.2h-3.0zM242.3 446.5h3.0v8.2h-3.0zM283.7 446.5h3.0v8.2h-3.0zM319.2 446.5h3.0v8.2h-3.0zM402.0 446.5h3.0v8.2h-3.0zM67.7 454.8h3.0v3.8h-3.0zM82.5 454.8h8.9v3.8h-8.9zM97.3 454.8h17.7v3.8h-17.7zM121.0 454.8h3.0v3.8h-3.0zM132.8 454.8h3.0v3.8h-3.0zM150.6 454.8h3.0v3.8h-3.0zM162.4 454.8h5.9v3.8h-5.9zM183.1 454.8h3.0v3.8h-3.0zM189.0 454.8h3.0v3.8h-3.0zM221.6 454.8h5.9v3.8h-5.9zM319.2 454.8h3.0v3.8h-3.0zM55.9 458.5h3.0v3.6h-3.0zM85.5 458.5h3.0v3.6h-3.0zM91.4 458.5h3.0v3.6h-3.0zM109.2 458.5h3.0v3.6h-3.0zM126.9 458.5h3.0v3.6h-3.0zM132.8 458.5h5.9v3.6h-5.9zM144.7 458.5h11.8v3.6h-11.8zM165.4 458.5h11.8v3.6h-11.8zM183.1 458.5h5.9v3.6h-5.9zM203.8 458.5h3.0v3.6h-3.0zM209.7 458.5h3.0v3.6h-3.0zM221.6 458.5h3.0v3.6h-3.0zM319.2 458.5h3.0v3.6h-3.0zM402.0 458.5h3.0v3.6h-3.0zM55.9 462.1h3.0v3.6h-3.0zM64.8 462.1h3.0v3.6h-3.0zM76.6 462.1h3.0v3.6h-3.0zM85.5 462.1h3.0v3.6h-3.0zM100.3 462.1h8.9v3.6h-8.9zM112.1 462.1h3.0v3.6h-3.0zM121.0 462.1h5.9v3.6h-5.9zM129.9 462.1h3.0v3.6h-3.0zM144.7 462.1h3.0v3.6h-3.0zM150.6 462.1h3.0v3.6h-3.0zM162.4 462.1h3.0v3.6h-3.0zM174.2 462.1h3.0v3.6h-3.0zM183.1 462.1h5.9v3.6h-5.9zM206.8 462.1h5.9v3.6h-5.9zM221.6 462.1h3.0v3.6h-3.0zM236.4 462.1h3.0v3.6h-3.0zM242.3 462.1h3.0v3.6h-3.0zM283.7 462.1h3.0v3.6h-3.0zM313.3 462.1h5.9v3.6h-5.9zM402.0 462.1h3.0v3.6h-3.0zM58.9 465.7h5.9v8.0h-5.9zM76.6 465.7h3.0v8.0h-3.0zM82.5 465.7h3.0v8.0h-3.0zM91.4 465.7h3.0v8.0h-3.0zM103.2 465.7h3.0v8.0h-3.0zM109.2 465.7h3.0v8.0h-3.0zM124.0 465.7h3.0v8.0h-3.0zM141.7 465.7h5.9v8.0h-5.9zM150.6 465.7h5.9v8.0h-5.9zM162.4 465.7h3.0v8.0h-3.0zM171.3 465.7h3.0v8.0h-3.0zM180.2 465.7h3.0v8.0h-3.0zM200.9 465.7h5.9v8.0h-5.9zM242.3 465.7h3.0v8.0h-3.0zM319.2 465.7h3.0v8.0h-3.0zM61.8 473.7h5.9v4.2h-5.9zM70.7 473.7h3.0v4.2h-3.0zM82.5 473.7h5.9v4.2h-5.9zM91.4 473.7h3.0v4.2h-3.0zM103.2 473.7h5.9v4.2h-5.9zM112.1 473.7h3.0v4.2h-3.0zM141.7 473.7h3.0v4.2h-3.0zM150.6 473.7h3.0v4.2h-3.0zM165.4 473.7h8.9v4.2h-8.9zM186.1 473.7h5.9v4.2h-5.9zM236.4 473.7h3.0v4.2h-3.0zM283.7 473.7h3.0v4.2h-3.0zM313.3 473.7h3.0v4.2h-3.0zM55.9 477.9h5.9v8.8h-5.9zM64.8 477.9h5.9v8.8h-5.9zM82.5 477.9h11.8v8.8h-11.8zM103.2 477.9h5.9v8.8h-5.9zM112.1 477.9h3.0v8.8h-3.0zM121.0 477.9h5.9v8.8h-5.9zM129.9 477.9h3.0v8.8h-3.0zM141.7 477.9h3.0v8.8h-3.0zM150.6 477.9h3.0v8.8h-3.0zM162.4 477.9h3.0v8.8h-3.0zM183.1 477.9h3.0v8.8h-3.0zM203.8 477.9h11.8v8.8h-11.8zM236.4 477.9h3.0v8.8h-3.0zM58.9 486.7h3.0v3.2h-3.0zM109.2 486.7h3.0v3.2h-3.0zM129.9 486.7h3.0v3.2h-3.0zM197.9 486.7h3.0v3.2h-3.0zM239.3 486.7h5.9v3.2h-5.9zM257.1 486.7h3.0v3.2h-3.0zM313.3 486.7h3.0v3.2h-3.0zM58.9 489.9h3.0v5.7h-3.0zM73.7 489.9h5.9v5.7h-5.9zM91.4 489.9h3.0v5.7h-3.0zM103.2 489.9h14.8v5.7h-14.8zM141.7 489.9h3.0v5.7h-3.0zM150.6 489.9h3.0v5.7h-3.0zM165.4 489.9h3.0v5.7h-3.0zM171.3 489.9h3.0v5.7h-3.0zM183.1 489.9h3.0v5.7h-3.0zM203.8 489.9h3.0v5.7h-3.0zM230.4 489.9h3.0v5.7h-3.0zM239.3 489.9h5.9v5.7h-5.9zM55.9 495.7h8.9v3.8h-8.9zM76.6 495.7h3.0v3.8h-3.0zM82.5 495.7h11.8v3.8h-11.8zM97.3 495.7h3.0v3.8h-3.0zM112.1 495.7h14.8v3.8h-14.8zM132.8 495.7h3.0v3.8h-3.0zM144.7 495.7h3.0v3.8h-3.0zM162.4 495.7h3.0v3.8h-3.0zM174.2 495.7h3.0v3.8h-3.0zM180.2 495.7h3.0v3.8h-3.0zM189.0 495.7h3.0v3.8h-3.0zM203.8 495.7h8.9v3.8h-8.9zM283.7 495.7h3.0v3.8h-3.0zM55.9 499.5h3.0v4.1h-3.0zM61.8 499.5h5.9v4.1h-5.9zM73.7 499.5h5.9v4.1h-5.9zM85.5 499.5h3.0v4.1h-3.0zM106.2 499.5h3.0v4.1h-3.0zM115.1 499.5h3.0v4.1h-3.0zM124.0 499.5h3.0v4.1h-3.0zM132.8 499.5h3.0v4.1h-3.0zM141.7 499.5h5.9v4.1h-5.9zM150.6 499.5h3.0v4.1h-3.0zM162.4 499.5h5.9v4.1h-5.9zM174.2 499.5h3.0v4.1h-3.0zM180.2 499.5h8.9v4.1h-8.9zM197.9 499.5h5.9v4.1h-5.9zM206.8 499.5h3.0v4.1h-3.0zM221.6 499.5h3.0v4.1h-3.0zM239.3 499.5h3.0v4.1h-3.0zM257.1 499.5h3.0v4.1h-3.0zM310.3 499.5h3.0v4.1h-3.0zM328.1 499.5h3.0v4.1h-3.0zM61.8 503.6h3.0v4.1h-3.0zM76.6 503.6h3.0v4.1h-3.0zM82.5 503.6h3.0v4.1h-3.0zM91.4 503.6h3.0v4.1h-3.0zM103.2 503.6h3.0v4.1h-3.0zM109.2 503.6h3.0v4.1h-3.0zM124.0 503.6h3.0v4.1h-3.0zM129.9 503.6h3.0v4.1h-3.0zM144.7 503.6h3.0v4.1h-3.0zM150.6 503.6h3.0v4.1h-3.0zM162.4 503.6h3.0v4.1h-3.0zM168.3 503.6h3.0v4.1h-3.0zM174.2 503.6h3.0v4.1h-3.0zM183.1 503.6h8.9v4.1h-8.9zM197.9 503.6h3.0v4.1h-3.0zM206.8 503.6h3.0v4.1h-3.0zM239.3 503.6h3.0v4.1h-3.0zM245.2 503.6h3.0v4.1h-3.0zM283.7 503.6h3.0v4.1h-3.0zM402.0 503.6h3.0v4.1h-3.0zM55.9 507.7h3.0v6.4h-3.0zM61.8 507.7h5.9v6.4h-5.9zM82.5 507.7h5.9v6.4h-5.9zM91.4 507.7h3.0v6.4h-3.0zM103.2 507.7h3.0v6.4h-3.0zM109.2 507.7h3.0v6.4h-3.0zM121.0 507.7h5.9v6.4h-5.9zM141.7 507.7h5.9v6.4h-5.9zM150.6 507.7h3.0v6.4h-3.0zM165.4 507.7h5.9v6.4h-5.9zM174.2 507.7h3.0v6.4h-3.0zM183.1 507.7h5.9v6.4h-5.9zM206.8 507.7h3.0v6.4h-3.0zM230.4 507.7h3.0v6.4h-3.0zM236.4 507.7h3.0v6.4h-3.0zM245.2 507.7h3.0v6.4h-3.0zM55.9 514.0h3.0v4.3h-3.0zM82.5 514.0h3.0v4.3h-3.0zM88.5 514.0h5.9v4.3h-5.9zM103.2 514.0h5.9v4.3h-5.9zM124.0 514.0h3.0v4.3h-3.0zM132.8 514.0h5.9v4.3h-5.9zM150.6 514.0h5.9v4.3h-5.9zM165.4 514.0h3.0v4.3h-3.0zM186.1 514.0h5.9v4.3h-5.9zM206.8 514.0h5.9v4.3h-5.9zM236.4 514.0h5.9v4.3h-5.9zM257.1 514.0h3.0v4.3h-3.0zM64.8 518.3h5.9v5.0h-5.9zM73.7 518.3h5.9v5.0h-5.9zM85.5 518.3h3.0v5.0h-3.0zM91.4 518.3h3.0v5.0h-3.0zM121.0 518.3h3.0v5.0h-3.0zM132.8 518.3h5.9v5.0h-5.9zM141.7 518.3h3.0v5.0h-3.0zM180.2 518.3h5.9v5.0h-5.9zM189.0 518.3h3.0v5.0h-3.0zM203.8 518.3h8.9v5.0h-8.9zM221.6 518.3h3.0v5.0h-3.0zM283.7 518.3h3.0v5.0h-3.0zM313.3 518.3h3.0v5.0h-3.0zM319.2 518.3h3.0v5.0h-3.0zM67.7 523.4h3.0v7.6h-3.0zM85.5 523.4h5.9v7.6h-5.9zM100.3 523.4h3.0v7.6h-3.0zM115.1 523.4h3.0v7.6h-3.0zM132.8 523.4h3.0v7.6h-3.0zM150.6 523.4h5.9v7.6h-5.9zM165.4 523.4h3.0v7.6h-3.0zM180.2 523.4h3.0v7.6h-3.0zM212.7 523.4h3.0v7.6h-3.0zM224.5 523.4h3.0v7.6h-3.0zM319.2 523.4h3.0v7.6h-3.0zM76.6 534.0h3.0v4.7h-3.0zM97.3 534.0h3.0v4.7h-3.0zM129.9 534.0h3.0v4.7h-3.0zM218.6 534.0h3.0v4.7h-3.0zM239.3 534.0h3.0v4.7h-3.0zM271.9 534.0h3.0v4.7h-3.0zM336.9 534.0h3.0v4.7h-3.0zM351.7 534.0h5.9v4.7h-5.9zM387.2 534.0h3.0v4.7h-3.0zM393.1 534.0h5.9v4.7h-5.9zM402.0 534.0h3.0v4.7h-3.0zM97.3 538.7h3.0v8.6h-3.0zM129.9 538.7h3.0v8.6h-3.0zM218.6 538.7h3.0v8.6h-3.0zM254.1 538.7h5.9v8.6h-5.9zM280.7 538.7h5.9v8.6h-5.9zM313.3 538.7h3.0v8.6h-3.0zM354.7 538.7h3.0v8.6h-3.0zM366.5 538.7h3.0v8.6h-3.0zM378.3 538.7h3.0v8.6h-3.0zM390.2 538.7h3.0v8.6h-3.0zM55.9 547.3h3.0v5.1h-3.0zM64.8 547.3h5.9v5.1h-5.9zM76.6 547.3h11.8v5.1h-11.8zM94.4 547.3h3.0v5.1h-3.0zM100.3 547.3h3.0v5.1h-3.0zM106.2 547.3h3.0v5.1h-3.0zM112.1 547.3h3.0v5.1h-3.0zM121.0 547.3h8.9v5.1h-8.9zM132.8 547.3h3.0v5.1h-3.0zM263.0 547.3h3.0v5.1h-3.0zM271.9 547.3h3.0v5.1h-3.0zM280.7 547.3h3.0v5.1h-3.0zM313.3 547.3h3.0v5.1h-3.0zM354.7 547.3h3.0v5.1h-3.0zM390.2 547.3h3.0v5.1h-3.0zM396.1 547.3h3.0v5.1h-3.0zM402.0 547.3h3.0v5.1h-3.0zM55.9 552.4h3.0v3.4h-3.0zM67.7 552.4h3.0v3.4h-3.0zM73.7 552.4h3.0v3.4h-3.0zM91.4 552.4h3.0v3.4h-3.0zM118.0 552.4h3.0v3.4h-3.0zM126.9 552.4h3.0v3.4h-3.0zM132.8 552.4h3.0v3.4h-3.0zM257.1 552.4h3.0v3.4h-3.0zM271.9 552.4h3.0v3.4h-3.0zM319.2 552.4h5.9v3.4h-5.9zM384.3 552.4h3.0v3.4h-3.0zM396.1 552.4h3.0v3.4h-3.0zM53.0 555.8h3.0v7.8h-3.0zM64.8 555.8h5.9v7.8h-5.9zM73.7 555.8h3.0v7.8h-3.0zM79.6 555.8h5.9v7.8h-5.9zM91.4 555.8h5.9v7.8h-5.9zM103.2 555.8h5.9v7.8h-5.9zM118.0 555.8h3.0v7.8h-3.0zM124.0 555.8h3.0v7.8h-3.0zM132.8 555.8h3.0v7.8h-3.0zM218.6 555.8h3.0v7.8h-3.0zM233.4 555.8h3.0v7.8h-3.0zM254.1 555.8h5.9v7.8h-5.9zM271.9 555.8h3.0v7.8h-3.0zM280.7 555.8h3.0v7.8h-3.0zM351.7 555.8h5.9v7.8h-5.9zM366.5 555.8h3.0v7.8h-3.0zM390.2 555.8h3.0v7.8h-3.0zM396.1 555.8h3.0v7.8h-3.0zM402.0 555.8h3.0v7.8h-3.0zM434.5 555.8h3.0v7.8h-3.0zM55.9 563.6h3.0v5.4h-3.0zM64.8 563.6h3.0v5.4h-3.0zM70.7 563.6h3.0v5.4h-3.0zM82.5 563.6h5.9v5.4h-5.9zM91.4 563.6h3.0v5.4h-3.0zM100.3 563.6h3.0v5.4h-3.0zM106.2 563.6h5.9v5.4h-5.9zM115.1 563.6h5.9v5.4h-5.9zM124.0 563.6h5.9v5.4h-5.9zM132.8 563.6h3.0v5.4h-3.0zM165.4 563.6h3.0v5.4h-3.0zM218.6 563.6h3.0v5.4h-3.0zM260.0 563.6h3.0v5.4h-3.0zM271.9 563.6h3.0v5.4h-3.0zM295.5 563.6h3.0v5.4h-3.0zM310.3 563.6h3.0v5.4h-3.0zM319.2 563.6h5.9v5.4h-5.9zM366.5 563.6h5.9v5.4h-5.9zM378.3 563.6h3.0v5.4h-3.0zM384.3 563.6h8.9v5.4h-8.9zM396.1 563.6h3.0v5.4h-3.0zM402.0 563.6h3.0v5.4h-3.0zM50.0 569.0h8.9v8.9h-8.9zM67.7 569.0h3.0v8.9h-3.0zM79.6 569.0h14.8v8.9h-14.8zM118.0 569.0h3.0v8.9h-3.0zM124.0 569.0h3.0v8.9h-3.0zM165.4 569.0h3.0v8.9h-3.0zM251.1 569.0h3.0v8.9h-3.0zM257.1 569.0h3.0v8.9h-3.0zM280.7 569.0h5.9v8.9h-5.9zM292.6 569.0h5.9v8.9h-5.9zM310.3 569.0h3.0v8.9h-3.0zM322.1 569.0h3.0v8.9h-3.0zM328.1 569.0h3.0v8.9h-3.0zM378.3 569.0h3.0v8.9h-3.0zM384.3 569.0h3.0v8.9h-3.0zM390.2 569.0h3.0v8.9h-3.0zM410.9 569.0h3.0v8.9h-3.0zM422.7 569.0h5.9v8.9h-5.9zM55.9 577.9h3.0v7.2h-3.0zM79.6 577.9h5.9v7.2h-5.9zM94.4 577.9h3.0v7.2h-3.0zM100.3 577.9h5.9v7.2h-5.9zM109.2 577.9h3.0v7.2h-3.0zM118.0 577.9h3.0v7.2h-3.0zM124.0 577.9h5.9v7.2h-5.9zM132.8 577.9h3.0v7.2h-3.0zM251.1 577.9h3.0v7.2h-3.0zM268.9 577.9h5.9v7.2h-5.9zM280.7 577.9h5.9v7.2h-5.9zM310.3 577.9h3.0v7.2h-3.0zM319.2 577.9h3.0v7.2h-3.0zM336.9 577.9h3.0v7.2h-3.0zM351.7 577.9h3.0v7.2h-3.0zM378.3 577.9h3.0v7.2h-3.0zM387.2 577.9h5.9v7.2h-5.9zM396.1 577.9h3.0v7.2h-3.0zM410.9 577.9h3.0v7.2h-3.0zM94.4 585.1h3.0v5.0h-3.0zM118.0 585.1h5.9v5.0h-5.9zM126.9 585.1h3.0v5.0h-3.0zM132.8 585.1h3.0v5.0h-3.0zM254.1 585.1h3.0v5.0h-3.0zM271.9 585.1h3.0v5.0h-3.0zM322.1 585.1h3.0v5.0h-3.0zM55.9 590.1h5.9v4.9h-5.9zM67.7 590.1h11.8v4.9h-11.8zM82.5 590.1h5.9v4.9h-5.9zM91.4 590.1h5.9v4.9h-5.9zM100.3 590.1h5.9v4.9h-5.9zM109.2 590.1h3.0v4.9h-3.0zM115.1 590.1h3.0v4.9h-3.0zM124.0 590.1h3.0v4.9h-3.0zM218.6 590.1h3.0v4.9h-3.0zM254.1 590.1h5.9v4.9h-5.9zM263.0 590.1h3.0v4.9h-3.0zM283.7 590.1h3.0v4.9h-3.0zM313.3 590.1h3.0v4.9h-3.0zM354.7 590.1h3.0v4.9h-3.0zM366.5 590.1h3.0v4.9h-3.0zM378.3 590.1h3.0v4.9h-3.0zM390.2 590.1h3.0v4.9h-3.0zM396.1 590.1h3.0v4.9h-3.0zM402.0 590.1h3.0v4.9h-3.0zM50.0 598.0h3.0v6.9h-3.0zM239.3 598.0h5.9v6.9h-5.9zM248.2 598.0h3.0v6.9h-3.0zM277.8 598.0h3.0v6.9h-3.0zM292.6 598.0h3.0v6.9h-3.0zM304.4 598.0h3.0v6.9h-3.0zM339.9 598.0h5.9v6.9h-5.9zM384.3 598.0h3.0v6.9h-3.0zM393.1 598.0h3.0v6.9h-3.0zM413.8 598.0h3.0v6.9h-3.0zM422.7 598.0h5.9v6.9h-5.9zM239.3 604.9h5.9v8.8h-5.9zM277.8 604.9h3.0v8.8h-3.0zM289.6 604.9h3.0v8.8h-3.0zM301.4 604.9h5.9v8.8h-5.9zM381.3 604.9h5.9v8.8h-5.9zM393.1 604.9h3.0v8.8h-3.0zM402.0 604.9h3.0v8.8h-3.0zM410.9 604.9h5.9v8.8h-5.9zM419.8 604.9h3.0v8.8h-3.0zM227.5 613.7h3.0v7.0h-3.0zM239.3 613.7h5.9v7.0h-5.9zM277.8 613.7h3.0v7.0h-3.0zM289.6 613.7h3.0v7.0h-3.0zM304.4 613.7h3.0v7.0h-3.0zM363.5 613.7h3.0v7.0h-3.0zM378.3 613.7h8.9v7.0h-8.9zM393.1 613.7h3.0v7.0h-3.0zM410.9 613.7h5.9v7.0h-5.9zM419.8 613.7h3.0v7.0h-3.0zM431.6 613.7h3.0v7.0h-3.0zM215.6 620.7h3.0v3.8h-3.0zM227.5 620.7h3.0v3.8h-3.0zM233.4 620.7h3.0v3.8h-3.0zM239.3 620.7h5.9v3.8h-5.9zM251.1 620.7h3.0v3.8h-3.0zM271.9 620.7h3.0v3.8h-3.0zM277.8 620.7h3.0v3.8h-3.0zM292.6 620.7h3.0v3.8h-3.0zM363.5 620.7h5.9v3.8h-5.9zM384.3 620.7h3.0v3.8h-3.0zM399.0 620.7h3.0v3.8h-3.0zM416.8 620.7h3.0v3.8h-3.0zM431.6 620.7h3.0v3.8h-3.0zM215.6 624.4h3.0v4.7h-3.0zM242.3 624.4h3.0v4.7h-3.0zM248.2 624.4h5.9v4.7h-5.9zM268.9 624.4h3.0v4.7h-3.0zM292.6 624.4h5.9v4.7h-5.9zM339.9 624.4h3.0v4.7h-3.0zM363.5 624.4h3.0v4.7h-3.0zM378.3 624.4h3.0v4.7h-3.0zM387.2 624.4h3.0v4.7h-3.0zM393.1 624.4h3.0v4.7h-3.0zM419.8 624.4h3.0v4.7h-3.0zM428.6 624.4h5.9v4.7h-5.9zM203.8 629.2h3.0v4.3h-3.0zM215.6 629.2h3.0v4.3h-3.0zM221.6 629.2h8.9v4.3h-8.9zM233.4 629.2h3.0v4.3h-3.0zM242.3 629.2h3.0v4.3h-3.0zM248.2 629.2h8.9v4.3h-8.9zM268.9 629.2h5.9v4.3h-5.9zM280.7 629.2h5.9v4.3h-5.9zM289.6 629.2h5.9v4.3h-5.9zM363.5 629.2h3.0v4.3h-3.0zM390.2 629.2h5.9v4.3h-5.9zM419.8 629.2h3.0v4.3h-3.0zM277.8 633.5h3.0v5.9h-3.0zM289.6 633.5h3.0v5.9h-3.0zM301.4 633.5h3.0v5.9h-3.0zM375.4 633.5h3.0v5.9h-3.0zM384.3 633.5h3.0v5.9h-3.0zM410.9 633.5h5.9v5.9h-5.9zM428.6 633.5h3.0v5.9h-3.0zM434.5 633.5h3.0v5.9h-3.0zM239.3 639.3h5.9v7.7h-5.9zM254.1 639.3h3.0v7.7h-3.0zM268.9 639.3h5.9v7.7h-5.9zM277.8 639.3h5.9v7.7h-5.9zM310.3 639.3h3.0v7.7h-3.0zM334.0 639.3h3.0v7.7h-3.0zM342.8 639.3h3.0v7.7h-3.0zM381.3 639.3h5.9v7.7h-5.9zM393.1 639.3h3.0v7.7h-3.0zM405.0 639.3h5.9v7.7h-5.9zM135.8 647.0h3.0v9.0h-3.0zM141.7 647.0h3.0v9.0h-3.0zM147.6 647.0h3.0v9.0h-3.0zM153.5 647.0h5.9v9.0h-5.9zM183.1 647.0h5.9v9.0h-5.9zM197.9 647.0h5.9v9.0h-5.9zM227.5 647.0h8.9v9.0h-8.9zM248.2 647.0h11.8v9.0h-11.8zM271.9 647.0h3.0v9.0h-3.0zM280.7 647.0h3.0v9.0h-3.0zM339.9 647.0h3.0v9.0h-3.0zM375.4 647.0h3.0v9.0h-3.0zM387.2 647.0h3.0v9.0h-3.0zM428.6 647.0h8.9v9.0h-8.9zM141.7 656.0h3.0v7.0h-3.0zM153.5 656.0h3.0v7.0h-3.0zM183.1 656.0h5.9v7.0h-5.9zM200.9 656.0h3.0v7.0h-3.0zM242.3 656.0h3.0v7.0h-3.0zM257.1 656.0h3.0v7.0h-3.0zM310.3 656.0h3.0v7.0h-3.0zM342.8 656.0h3.0v7.0h-3.0zM381.3 656.0h5.9v7.0h-5.9zM407.9 656.0h3.0v7.0h-3.0zM425.7 656.0h3.0v7.0h-3.0zM67.7 663.0h3.0v6.6h-3.0zM135.8 663.0h8.9v6.6h-8.9zM153.5 663.0h3.0v6.6h-3.0zM165.4 663.0h8.9v6.6h-8.9zM183.1 663.0h3.0v6.6h-3.0zM200.9 663.0h3.0v6.6h-3.0zM215.6 663.0h5.9v6.6h-5.9zM230.4 663.0h3.0v6.6h-3.0zM242.3 663.0h3.0v6.6h-3.0zM248.2 663.0h3.0v6.6h-3.0zM257.1 663.0h3.0v6.6h-3.0zM283.7 663.0h5.9v6.6h-5.9zM310.3 663.0h3.0v6.6h-3.0zM339.9 663.0h3.0v6.6h-3.0zM366.5 663.0h3.0v6.6h-3.0zM396.1 663.0h3.0v6.6h-3.0zM410.9 663.0h3.0v6.6h-3.0zM425.7 663.0h3.0v6.6h-3.0zM434.5 663.0h3.0v6.6h-3.0zM109.2 669.6h3.0v3.5h-3.0zM138.7 669.6h3.0v3.5h-3.0zM153.5 669.6h3.0v3.5h-3.0zM162.4 669.6h5.9v3.5h-5.9zM171.3 669.6h3.0v3.5h-3.0zM183.1 669.6h3.0v3.5h-3.0zM189.0 669.6h3.0v3.5h-3.0zM203.8 669.6h3.0v3.5h-3.0zM221.6 669.6h3.0v3.5h-3.0zM227.5 669.6h5.9v3.5h-5.9zM245.2 669.6h3.0v3.5h-3.0zM254.1 669.6h3.0v3.5h-3.0zM260.0 669.6h3.0v3.5h-3.0zM265.9 669.6h3.0v3.5h-3.0zM319.2 669.6h3.0v3.5h-3.0zM339.9 669.6h3.0v3.5h-3.0zM366.5 669.6h3.0v3.5h-3.0zM393.1 669.6h3.0v3.5h-3.0zM410.9 669.6h5.9v3.5h-5.9zM428.6 669.6h3.0v3.5h-3.0zM141.7 673.1h3.0v5.1h-3.0zM147.6 673.1h3.0v5.1h-3.0zM153.5 673.1h3.0v5.1h-3.0zM165.4 673.1h3.0v5.1h-3.0zM180.2 673.1h3.0v5.1h-3.0zM186.1 673.1h3.0v5.1h-3.0zM230.4 673.1h3.0v5.1h-3.0zM242.3 673.1h3.0v5.1h-3.0zM248.2 673.1h3.0v5.1h-3.0zM254.1 673.1h3.0v5.1h-3.0zM271.9 673.1h3.0v5.1h-3.0zM280.7 673.1h5.9v5.1h-5.9zM363.5 673.1h5.9v5.1h-5.9zM387.2 673.1h3.0v5.1h-3.0zM393.1 673.1h5.9v5.1h-5.9zM413.8 673.1h3.0v5.1h-3.0zM419.8 673.1h3.0v5.1h-3.0zM434.5 673.1h3.0v5.1h-3.0zM135.8 678.2h3.0v8.5h-3.0zM153.5 678.2h5.9v8.5h-5.9zM171.3 678.2h3.0v8.5h-3.0zM180.2 678.2h8.9v8.5h-8.9zM200.9 678.2h5.9v8.5h-5.9zM242.3 678.2h3.0v8.5h-3.0zM248.2 678.2h11.8v8.5h-11.8zM271.9 678.2h3.0v8.5h-3.0zM280.7 678.2h8.9v8.5h-8.9zM310.3 678.2h5.9v8.5h-5.9zM366.5 678.2h3.0v8.5h-3.0zM378.3 678.2h3.0v8.5h-3.0zM434.5 678.2h3.0v8.5h-3.0zM141.7 686.8h3.0v4.9h-3.0zM153.5 686.8h5.9v4.9h-5.9zM183.1 686.8h3.0v4.9h-3.0zM206.8 686.8h3.0v4.9h-3.0zM215.6 686.8h3.0v4.9h-3.0zM233.4 686.8h3.0v4.9h-3.0zM239.3 686.8h5.9v4.9h-5.9zM254.1 686.8h3.0v4.9h-3.0zM280.7 686.8h5.9v4.9h-5.9zM313.3 686.8h3.0v4.9h-3.0zM339.9 686.8h3.0v4.9h-3.0zM363.5 686.8h5.9v4.9h-5.9zM375.4 686.8h3.0v4.9h-3.0zM387.2 686.8h3.0v4.9h-3.0zM393.1 686.8h5.9v4.9h-5.9zM413.8 686.8h3.0v4.9h-3.0zM425.7 686.8h5.9v4.9h-5.9zM91.4 691.6h3.0v3.2h-3.0zM135.8 691.6h3.0v3.2h-3.0zM141.7 691.6h3.0v3.2h-3.0zM147.6 691.6h3.0v3.2h-3.0zM156.5 691.6h3.0v3.2h-3.0zM162.4 691.6h14.8v3.2h-14.8zM189.0 691.6h3.0v3.2h-3.0zM209.7 691.6h3.0v3.2h-3.0zM221.6 691.6h3.0v3.2h-3.0zM227.5 691.6h5.9v3.2h-5.9zM245.2 691.6h3.0v3.2h-3.0zM254.1 691.6h5.9v3.2h-5.9zM274.8 691.6h3.0v3.2h-3.0zM280.7 691.6h8.9v3.2h-8.9zM313.3 691.6h3.0v3.2h-3.0zM351.7 691.6h3.0v3.2h-3.0zM366.5 691.6h3.0v3.2h-3.0zM375.4 691.6h3.0v3.2h-3.0zM387.2 691.6h5.9v3.2h-5.9zM396.1 691.6h3.0v3.2h-3.0zM422.7 691.6h3.0v3.2h-3.0zM165.4 694.9h3.0v5.0h-3.0zM200.9 694.9h5.9v5.0h-5.9zM227.5 694.9h3.0v5.0h-3.0zM239.3 694.9h3.0v5.0h-3.0zM251.1 694.9h3.0v5.0h-3.0zM268.9 694.9h3.0v5.0h-3.0zM316.2 694.9h3.0v5.0h-3.0zM334.0 694.9h3.0v5.0h-3.0zM339.9 694.9h5.9v5.0h-5.9zM378.3 694.9h8.9v5.0h-8.9zM405.0 694.9h5.9v5.0h-5.9zM425.7 694.9h3.0v5.0h-3.0zM138.7 699.9h5.9v5.7h-5.9zM162.4 699.9h3.0v5.7h-3.0zM171.3 699.9h3.0v5.7h-3.0zM183.1 699.9h5.9v5.7h-5.9zM227.5 699.9h3.0v5.7h-3.0zM251.1 699.9h5.9v5.7h-5.9zM313.3 699.9h3.0v5.7h-3.0zM378.3 699.9h3.0v5.7h-3.0zM384.3 699.9h3.0v5.7h-3.0zM393.1 699.9h3.0v5.7h-3.0zM407.9 699.9h8.9v5.7h-8.9zM431.6 699.9h3.0v5.7h-3.0zM138.7 705.6h5.9v8.6h-5.9zM153.5 705.6h3.0v8.6h-3.0zM162.4 705.6h3.0v8.6h-3.0zM171.3 705.6h3.0v8.6h-3.0zM183.1 705.6h3.0v8.6h-3.0zM215.6 705.6h3.0v8.6h-3.0zM251.1 705.6h5.9v8.6h-5.9zM263.0 705.6h3.0v8.6h-3.0zM268.9 705.6h3.0v8.6h-3.0zM283.7 705.6h3.0v8.6h-3.0zM313.3 705.6h3.0v8.6h-3.0zM378.3 705.6h3.0v8.6h-3.0zM387.2 705.6h3.0v8.6h-3.0zM410.9 705.6h5.9v8.6h-5.9zM428.6 705.6h3.0v8.6h-3.0zM135.8 714.2h3.0v7.8h-3.0zM147.6 714.2h3.0v7.8h-3.0zM153.5 714.2h3.0v7.8h-3.0zM168.3 714.2h5.9v7.8h-5.9zM200.9 714.2h3.0v7.8h-3.0zM233.4 714.2h3.0v7.8h-3.0zM239.3 714.2h5.9v7.8h-5.9zM251.1 714.2h5.9v7.8h-5.9zM268.9 714.2h3.0v7.8h-3.0zM277.8 714.2h5.9v7.8h-5.9zM339.9 714.2h5.9v7.8h-5.9zM366.5 714.2h3.0v7.8h-3.0zM378.3 714.2h3.0v7.8h-3.0zM393.1 714.2h5.9v7.8h-5.9zM410.9 714.2h5.9v7.8h-5.9zM428.6 714.2h3.0v7.8h-3.0zM434.5 714.2h3.0v7.8h-3.0zM135.8 722.0h3.0v7.1h-3.0zM153.5 722.0h3.0v7.1h-3.0zM183.1 722.0h5.9v7.1h-5.9zM200.9 722.0h3.0v7.1h-3.0zM221.6 722.0h3.0v7.1h-3.0zM242.3 722.0h3.0v7.1h-3.0zM248.2 722.0h3.0v7.1h-3.0zM257.1 722.0h3.0v7.1h-3.0zM263.0 722.0h3.0v7.1h-3.0zM271.9 722.0h3.0v7.1h-3.0zM280.7 722.0h5.9v7.1h-5.9zM295.5 722.0h3.0v7.1h-3.0zM301.4 722.0h3.0v7.1h-3.0zM313.3 722.0h3.0v7.1h-3.0zM366.5 722.0h3.0v7.1h-3.0zM375.4 722.0h8.9v7.1h-8.9zM393.1 722.0h3.0v7.1h-3.0zM410.9 722.0h5.9v7.1h-5.9zM419.8 722.0h5.9v7.1h-5.9zM428.6 722.0h3.0v7.1h-3.0zM135.8 729.1h8.9v8.6h-8.9zM171.3 729.1h3.0v8.6h-3.0zM183.1 729.1h3.0v8.6h-3.0zM203.8 729.1h3.0v8.6h-3.0zM215.6 729.1h3.0v8.6h-3.0zM227.5 729.1h3.0v8.6h-3.0zM242.3 729.1h3.0v8.6h-3.0zM248.2 729.1h5.9v8.6h-5.9zM268.9 729.1h3.0v8.6h-3.0zM286.6 729.1h3.0v8.6h-3.0zM298.5 729.1h8.9v8.6h-8.9zM363.5 729.1h5.9v8.6h-5.9zM375.4 729.1h5.9v8.6h-5.9zM393.1 729.1h3.0v8.6h-3.0zM413.8 729.1h3.0v8.6h-3.0zM419.8 729.1h3.0v8.6h-3.0zM431.6 729.1h5.9v8.6h-5.9zM138.7 737.7h3.0v8.0h-3.0zM200.9 737.7h5.9v8.0h-5.9zM227.5 737.7h3.0v8.0h-3.0zM268.9 737.7h3.0v8.0h-3.0zM295.5 737.7h3.0v8.0h-3.0zM304.4 737.7h5.9v8.0h-5.9zM313.3 737.7h5.9v8.0h-5.9zM339.9 737.7h3.0v8.0h-3.0zM375.4 737.7h3.0v8.0h-3.0zM381.3 737.7h5.9v8.0h-5.9zM410.9 737.7h5.9v8.0h-5.9zM135.8 745.8h3.0v3.4h-3.0zM165.4 745.8h11.8v3.4h-11.8zM180.2 745.8h3.0v3.4h-3.0zM189.0 745.8h3.0v3.4h-3.0zM230.4 745.8h5.9v3.4h-5.9zM239.3 745.8h5.9v3.4h-5.9zM257.1 745.8h3.0v3.4h-3.0zM263.0 745.8h3.0v3.4h-3.0zM283.7 745.8h3.0v3.4h-3.0zM289.6 745.8h3.0v3.4h-3.0zM295.5 745.8h3.0v3.4h-3.0zM363.5 745.8h5.9v3.4h-5.9zM375.4 745.8h5.9v3.4h-5.9zM387.2 745.8h5.9v3.4h-5.9zM410.9 745.8h3.0v3.4h-3.0zM419.8 745.8h5.9v3.4h-5.9zM431.6 745.8h3.0v3.4h-3.0zM138.7 749.2h5.9v7.1h-5.9zM183.1 749.2h3.0v7.1h-3.0zM203.8 749.2h3.0v7.1h-3.0zM233.4 749.2h3.0v7.1h-3.0zM242.3 749.2h3.0v7.1h-3.0zM251.1 749.2h5.9v7.1h-5.9zM263.0 749.2h3.0v7.1h-3.0zM271.9 749.2h3.0v7.1h-3.0zM286.6 749.2h3.0v7.1h-3.0zM298.5 749.2h5.9v7.1h-5.9zM313.3 749.2h3.0v7.1h-3.0zM363.5 749.2h5.9v7.1h-5.9zM384.3 749.2h3.0v7.1h-3.0zM419.8 749.2h3.0v7.1h-3.0zM428.6 749.2h5.9v7.1h-5.9z" fill="rgb(247, 248, 203)"/>
<path d="M70.7 340.6h3.0v5.7h-3.0zM76.6 340.6h3.0v5.7h-3.0zM115.1 340.6h3.0v5.7h-3.0zM126.9 340.6h3.0v5.7h-3.0zM135.8 340.6h3.0v5.7h-3.0zM162.4 340.6h3.0v5.7h-3.0zM171.3 340.6h3.0v5.7h-3.0zM192.0 340.6h3.0v5.7h-3.0zM212.7 340.6h3.0v5.7h-3.0zM218.6 340.6h3.0v5.7h-3.0zM227.5 340.6h3.0v5.7h-3.0zM233.4 340.6h3.0v5.7h-3.0zM257.1 340.6h3.0v5.7h-3.0zM277.8 340.6h3.0v5.7h-3.0zM298.5 340.6h3.0v5.7h-3.0zM313.3 340.6h3.0v5.7h-3.0zM339.9 340.6h3.0v5.7h-3.0zM106.2 346.3h3.0v5.3h-3.0zM126.9 346.3h3.0v5.3h-3.0zM135.8 346.3h5.9v5.3h-5.9zM144.7 346.3h3.0v5.3h-3.0zM162.4 346.3h3.0v5.3h-3.0zM180.2 346.3h3.0v5.3h-3.0zM197.9 346.3h3.0v5.3h-3.0zM218.6 346.3h3.0v5.3h-3.0zM233.4 346.3h5.9v5.3h-5.9zM254.1 346.3h5.9v5.3h-5.9zM271.9 346.3h3.0v5.3h-3.0zM298.5 346.3h3.0v5.3h-3.0zM316.2 346.3h5.9v5.3h-5.9zM393.1 346.3h3.0v5.3h-3.0zM141.7 351.6h3.0v7.2h-3.0zM147.6 351.6h3.0v7.2h-3.0zM180.2 351.6h3.0v7.2h-3.0zM218.6 351.6h3.0v7.2h-3.0zM227.5 351.6h5.9v7.2h-5.9zM254.1 351.6h5.9v7.2h-5.9zM263.0 351.6h3.0v7.2h-3.0zM271.9 351.6h3.0v7.2h-3.0zM298.5 351.6h3.0v7.2h-3.0zM307.3 351.6h3.0v7.2h-3.0zM313.3 351.6h3.0v7.2h-3.0zM328.1 351.6h3.0v7.2h-3.0zM339.9 351.6h3.0v7.2h-3.0zM345.8 351.6h3.0v7.2h-3.0zM351.7 351.6h5.9v7.2h-5.9zM381.3 351.6h3.0v7.2h-3.0zM393.1 351.6h3.0v7.2h-3.0zM405.0 351.6h5.9v7.2h-5.9zM135.8 358.8h8.9v3.5h-8.9zM147.6 358.8h3.0v3.5h-3.0zM162.4 358.8h3.0v3.5h-3.0zM218.6 358.8h3.0v3.5h-3.0zM233.4 358.8h3.0v3.5h-3.0zM254.1 358.8h3.0v3.5h-3.0zM277.8 358.8h5.9v3.5h-5.9zM307.3 358.8h3.0v3.5h-3.0zM328.1 358.8h3.0v3.5h-3.0zM336.9 358.8h3.0v3.5h-3.0zM357.6 358.8h3.0v3.5h-3.0zM162.4 362.4h3.0v4.0h-3.0zM236.4 362.4h5.9v4.0h-5.9zM248.2 362.4h3.0v4.0h-3.0zM254.1 362.4h8.9v4.0h-8.9zM271.9 362.4h5.9v4.0h-5.9zM286.6 362.4h5.9v4.0h-5.9zM301.4 362.4h3.0v4.0h-3.0zM313.3 362.4h3.0v4.0h-3.0zM339.9 362.4h8.9v4.0h-8.9zM141.7 366.4h5.9v6.1h-5.9zM162.4 366.4h3.0v6.1h-3.0zM180.2 366.4h3.0v6.1h-3.0zM186.1 366.4h5.9v6.1h-5.9zM209.7 366.4h3.0v6.1h-3.0zM236.4 366.4h3.0v6.1h-3.0zM316.2 366.4h5.9v6.1h-5.9zM138.7 372.5h5.9v5.4h-5.9zM147.6 372.5h3.0v5.4h-3.0zM171.3 372.5h3.0v5.4h-3.0zM180.2 372.5h3.0v5.4h-3.0zM186.1 372.5h3.0v5.4h-3.0zM192.0 372.5h3.0v5.4h-3.0zM197.9 372.5h3.0v5.4h-3.0zM227.5 372.5h8.9v5.4h-8.9zM254.1 372.5h3.0v5.4h-3.0zM277.8 372.5h3.0v5.4h-3.0zM289.6 372.5h3.0v5.4h-3.0zM298.5 372.5h3.0v5.4h-3.0zM307.3 372.5h3.0v5.4h-3.0zM316.2 372.5h3.0v5.4h-3.0zM328.1 372.5h3.0v5.4h-3.0zM405.0 372.5h3.0v5.4h-3.0zM162.4 377.9h3.0v7.0h-3.0zM192.0 377.9h3.0v7.0h-3.0zM197.9 377.9h3.0v7.0h-3.0zM230.4 377.9h3.0v7.0h-3.0zM254.1 377.9h5.9v7.0h-5.9zM263.0 377.9h5.9v7.0h-5.9zM271.9 377.9h3.0v7.0h-3.0zM277.8 377.9h3.0v7.0h-3.0zM286.6 377.9h3.0v7.0h-3.0zM298.5 377.9h3.0v7.0h-3.0zM325.1 377.9h3.0v7.0h-3.0zM345.8 377.9h3.0v7.0h-3.0zM354.7 377.9h5.9v7.0h-5.9zM405.0 377.9h5.9v7.0h-5.9zM76.6 384.9h3.0v5.0h-3.0zM126.9 384.9h3.0v5.0h-3.0zM147.6 384.9h3.0v5.0h-3.0zM168.3 384.9h3.0v5.0h-3.0zM192.0 384.9h3.0v5.0h-3.0zM224.5 384.9h3.0v5.0h-3.0zM230.4 384.9h3.0v5.0h-3.0zM239.3 384.9h3.0v5.0h-3.0zM248.2 384.9h5.9v5.0h-5.9zM265.9 384.9h3.0v5.0h-3.0zM271.9 384.9h5.9v5.0h-5.9zM289.6 384.9h3.0v5.0h-3.0zM304.4 384.9h3.0v5.0h-3.0zM313.3 384.9h3.0v5.0h-3.0zM319.2 384.9h5.9v5.0h-5.9zM328.1 384.9h5.9v5.0h-5.9zM342.8 384.9h3.0v5.0h-3.0zM351.7 384.9h5.9v5.0h-5.9zM360.6 384.9h3.0v5.0h-3.0zM393.1 384.9h3.0v5.0h-3.0zM405.0 384.9h3.0v5.0h-3.0zM162.4 389.9h3.0v6.1h-3.0zM168.3 389.9h3.0v6.1h-3.0zM230.4 389.9h5.9v6.1h-5.9zM239.3 389.9h3.0v6.1h-3.0zM245.2 389.9h3.0v6.1h-3.0zM257.1 389.9h8.9v6.1h-8.9zM280.7 389.9h3.0v6.1h-3.0zM289.6 389.9h3.0v6.1h-3.0zM313.3 389.9h3.0v6.1h-3.0zM319.2 389.9h3.0v6.1h-3.0zM351.7 389.9h3.0v6.1h-3.0zM360.6 389.9h3.0v6.1h-3.0zM381.3 389.9h3.0v6.1h-3.0zM407.9 389.9h3.0v6.1h-3.0zM73.7 399.0h3.0v8.2h-3.0zM79.6 399.0h3.0v8.2h-3.0zM233.4 399.0h3.0v8.2h-3.0zM248.2 399.0h3.0v8.2h-3.0zM260.0 399.0h3.0v8.2h-3.0zM280.7 399.0h3.0v8.2h-3.0zM328.1 399.0h5.9v8.2h-5.9zM336.9 399.0h5.9v8.2h-5.9zM351.7 399.0h3.0v8.2h-3.0zM363.5 399.0h3.0v8.2h-3.0zM369.5 399.0h5.9v8.2h-5.9zM381.3 399.0h3.0v8.2h-3.0zM387.2 399.0h3.0v8.2h-3.0zM70.7 407.2h5.9v7.3h-5.9zM106.2 407.2h3.0v7.3h-3.0zM227.5 407.2h5.9v7.3h-5.9zM251.1 407.2h8.9v7.3h-8.9zM263.0 407.2h3.0v7.3h-3.0zM271.9 407.2h3.0v7.3h-3.0zM277.8 407.2h3.0v7.3h-3.0zM328.1 407.2h3.0v7.3h-3.0zM336.9 407.2h3.0v7.3h-3.0zM342.8 407.2h3.0v7.3h-3.0zM348.8 407.2h5.9v7.3h-5.9zM357.6 407.2h3.0v7.3h-3.0zM369.5 407.2h20.7v7.3h-20.7zM393.1 407.2h8.9v7.3h-8.9zM413.8 407.2h3.0v7.3h-3.0zM431.6 407.2h5.9v7.3h-5.9zM79.6 414.5h3.0v4.3h-3.0zM177.2 414.5h3.0v4.3h-3.0zM218.6 414.5h3.0v4.3h-3.0zM227.5 414.5h3.0v4.3h-3.0zM233.4 414.5h3.0v4.3h-3.0zM245.2 414.5h3.0v4.3h-3.0zM260.0 414.5h3.0v4.3h-3.0zM265.9 414.5h3.0v4.3h-3.0zM271.9 414.5h3.0v4.3h-3.0zM277.8 414.5h3.0v4.3h-3.0zM316.2 414.5h3.0v4.3h-3.0zM363.5 414.5h3.0v4.3h-3.0zM369.5 414.5h3.0v4.3h-3.0zM375.4 414.5h3.0v4.3h-3.0zM387.2 414.5h5.9v4.3h-5.9zM399.0 414.5h3.0v4.3h-3.0zM422.7 414.5h3.0v4.3h-3.0zM159.4 418.9h3.0v7.1h-3.0zM200.9 418.9h3.0v7.1h-3.0zM218.6 418.9h3.0v7.1h-3.0zM230.4 418.9h5.9v7.1h-5.9zM254.1 418.9h5.9v7.1h-5.9zM268.9 418.9h5.9v7.1h-5.9zM280.7 418.9h3.0v7.1h-3.0zM316.2 418.9h3.0v7.1h-3.0zM328.1 418.9h5.9v7.1h-5.9zM345.8 418.9h5.9v7.1h-5.9zM375.4 418.9h11.8v7.1h-11.8zM390.2 418.9h3.0v7.1h-3.0zM396.1 418.9h5.9v7.1h-5.9zM410.9 418.9h3.0v7.1h-3.0zM425.7 418.9h3.0v7.1h-3.0zM73.7 426.0h3.0v8.6h-3.0zM79.6 426.0h3.0v8.6h-3.0zM109.2 426.0h3.0v8.6h-3.0zM126.9 426.0h5.9v8.6h-5.9zM159.4 426.0h3.0v8.6h-3.0zM168.3 426.0h3.0v8.6h-3.0zM177.2 426.0h3.0v8.6h-3.0zM197.9 426.0h3.0v8.6h-3.0zM227.5 426.0h3.0v8.6h-3.0zM233.4 426.0h3.0v8.6h-3.0zM245.2 426.0h3.0v8.6h-3.0zM251.1 426.0h3.0v8.6h-3.0zM265.9 426.0h3.0v8.6h-3.0zM271.9 426.0h3.0v8.6h-3.0zM331.0 426.0h3.0v8.6h-3.0zM345.8 426.0h5.9v8.6h-5.9zM357.6 426.0h3.0v8.6h-3.0zM363.5 426.0h3.0v8.6h-3.0zM369.5 426.0h3.0v8.6h-3.0zM375.4 426.0h3.0v8.6h-3.0zM381.3 426.0h14.8v8.6h-14.8zM405.0 426.0h3.0v8.6h-3.0zM413.8 426.0h3.0v8.6h-3.0zM434.5 426.0h3.0v8.6h-3.0zM218.6 434.6h3.0v3.4h-3.0zM227.5 434.6h3.0v3.4h-3.0zM245.2 434.6h3.0v3.4h-3.0zM251.1 434.6h3.0v3.4h-3.0zM260.0 434.6h3.0v3.4h-3.0zM265.9 434.6h3.0v3.4h-3.0zM280.7 434.6h3.0v3.4h-3.0zM310.3 434.6h3.0v3.4h-3.0zM328.1 434.6h5.9v3.4h-5.9zM336.9 434.6h5.9v3.4h-5.9zM345.8 434.6h5.9v3.4h-5.9zM354.7 434.6h5.9v3.4h-5.9zM369.5 434.6h3.0v3.4h-3.0zM378.3 434.6h3.0v3.4h-3.0zM387.2 434.6h3.0v3.4h-3.0zM396.1 434.6h3.0v3.4h-3.0zM410.9 434.6h3.0v3.4h-3.0zM58.9 438.0h3.0v4.8h-3.0zM73.7 438.0h3.0v4.8h-3.0zM200.9 438.0h3.0v4.8h-3.0zM227.5 438.0h8.9v4.8h-8.9zM245.2 438.0h3.0v4.8h-3.0zM254.1 438.0h3.0v4.8h-3.0zM260.0 438.0h3.0v4.8h-3.0zM265.9 438.0h3.0v4.8h-3.0zM271.9 438.0h5.9v4.8h-5.9zM310.3 438.0h3.0v4.8h-3.0zM357.6 438.0h3.0v4.8h-3.0zM369.5 438.0h5.9v4.8h-5.9zM378.3 438.0h14.8v4.8h-14.8zM405.0 438.0h3.0v4.8h-3.0zM410.9 438.0h5.9v4.8h-5.9zM431.6 438.0h3.0v4.8h-3.0zM227.5 442.8h3.0v3.8h-3.0zM260.0 442.8h3.0v3.8h-3.0zM271.9 442.8h3.0v3.8h-3.0zM310.3 442.8h3.0v3.8h-3.0zM328.1 442.8h3.0v3.8h-3.0zM339.9 442.8h3.0v3.8h-3.0zM354.7 442.8h5.9v3.8h-5.9zM369.5 442.8h3.0v3.8h-3.0zM384.3 442.8h11.8v3.8h-11.8zM407.9 442.8h3.0v3.8h-3.0zM431.6 442.8h5.9v3.8h-5.9zM58.9 446.5h3.0v8.2h-3.0zM197.9 446.5h3.0v8.2h-3.0zM221.6 446.5h3.0v8.2h-3.0zM227.5 446.5h3.0v8.2h-3.0zM233.4 446.5h3.0v8.2h-3.0zM239.3 446.5h3.0v8.2h-3.0zM248.2 446.5h5.9v8.2h-5.9zM257.1 446.5h3.0v8.2h-3.0zM265.9 446.5h11.8v8.2h-11.8zM313.3 446.5h3.0v8.2h-3.0zM363.5 446.5h3.0v8.2h-3.0zM369.5 446.5h3.0v8.2h-3.0zM378.3 446.5h3.0v8.2h-3.0zM384.3 446.5h3.0v8.2h-3.0zM390.2 446.5h3.0v8.2h-3.0zM399.0 446.5h3.0v8.2h-3.0zM410.9 446.5h5.9v8.2h-5.9zM434.5 446.5h3.0v8.2h-3.0zM73.7 454.8h3.0v3.8h-3.0zM126.9 454.8h5.9v3.8h-5.9zM177.2 454.8h3.0v3.8h-3.0zM233.4 454.8h3.0v3.8h-3.0zM254.1 454.8h3.0v3.8h-3.0zM274.8 454.8h5.9v3.8h-5.9zM283.7 454.8h3.0v3.8h-3.0zM348.8 454.8h3.0v3.8h-3.0zM363.5 454.8h3.0v3.8h-3.0zM369.5 454.8h3.0v3.8h-3.0zM384.3 454.8h3.0v3.8h-3.0zM390.2 454.8h5.9v3.8h-5.9zM422.7 454.8h5.9v3.8h-5.9zM106.2 458.5h3.0v3.6h-3.0zM159.4 458.5h3.0v3.6h-3.0zM227.5 458.5h3.0v3.6h-3.0zM242.3 458.5h5.9v3.6h-5.9zM257.1 458.5h3.0v3.6h-3.0zM268.9 458.5h3.0v3.6h-3.0zM274.8 458.5h5.9v3.6h-5.9zM313.3 458.5h5.9v3.6h-5.9zM363.5 458.5h5.9v3.6h-5.9zM390.2 458.5h3.0v3.6h-3.0zM396.1 458.5h3.0v3.6h-3.0zM410.9 458.5h3.0v3.6h-3.0zM177.2 462.1h3.0v3.6h-3.0zM197.9 462.1h3.0v3.6h-3.0zM227.5 462.1h3.0v3.6h-3.0zM233.4 462.1h3.0v3.6h-3.0zM257.1 462.1h3.0v3.6h-3.0zM271.9 462.1h3.0v3.6h-3.0zM277.8 462.1h3.0v3.6h-3.0zM310.3 462.1h3.0v3.6h-3.0zM328.1 462.1h5.9v3.6h-5.9zM348.8 462.1h3.0v3.6h-3.0zM363.5 462.1h3.0v3.6h-3.0zM378.3 462.1h3.0v3.6h-3.0zM384.3 462.1h3.0v3.6h-3.0zM393.1 462.1h8.9v3.6h-8.9zM410.9 462.1h5.9v3.6h-5.9zM64.8 465.7h3.0v8.0h-3.0zM70.7 465.7h5.9v8.0h-5.9zM112.1 465.7h3.0v8.0h-3.0zM227.5 465.7h5.9v8.0h-5.9zM236.4 465.7h3.0v8.0h-3.0zM245.2 465.7h5.9v8.0h-5.9zM260.0 465.7h3.0v8.0h-3.0zM265.9 465.7h3.0v8.0h-3.0zM271.9 465.7h5.9v8.0h-5.9zM310.3 465.7h3.0v8.0h-3.0zM357.6 465.7h3.0v8.0h-3.0zM399.0 465.7h3.0v8.0h-3.0zM79.6 473.7h3.0v4.2h-3.0zM177.2 473.7h3.0v4.2h-3.0zM218.6 473.7h3.0v4.2h-3.0zM227.5 473.7h8.9v4.2h-8.9zM245.2 473.7h3.0v4.2h-3.0zM257.1 473.7h3.0v4.2h-3.0zM265.9 473.7h14.8v4.2h-14.8zM316.2 473.7h3.0v4.2h-3.0zM348.8 473.7h3.0v4.2h-3.0zM357.6 473.7h3.0v4.2h-3.0zM366.5 473.7h3.0v4.2h-3.0zM70.7 477.9h5.9v8.8h-5.9zM79.6 477.9h3.0v8.8h-3.0zM126.9 477.9h3.0v8.8h-3.0zM159.4 477.9h3.0v8.8h-3.0zM177.2 477.9h3.0v8.8h-3.0zM221.6 477.9h3.0v8.8h-3.0zM227.5 477.9h5.9v8.8h-5.9zM242.3 477.9h5.9v8.8h-5.9zM265.9 477.9h3.0v8.8h-3.0zM274.8 477.9h5.9v8.8h-5.9zM283.7 477.9h3.0v8.8h-3.0zM310.3 477.9h5.9v8.8h-5.9zM248.2 486.7h3.0v3.2h-3.0zM254.1 486.7h3.0v3.2h-3.0zM260.0 486.7h5.9v3.2h-5.9zM268.9 486.7h3.0v3.2h-3.0zM280.7 486.7h3.0v3.2h-3.0zM328.1 486.7h5.9v3.2h-5.9zM345.8 486.7h5.9v3.2h-5.9zM363.5 486.7h3.0v3.2h-3.0zM384.3 486.7h3.0v3.2h-3.0zM390.2 486.7h5.9v3.2h-5.9zM399.0 486.7h3.0v3.2h-3.0zM70.7 489.9h3.0v5.7h-3.0zM227.5 489.9h3.0v5.7h-3.0zM233.4 489.9h5.9v5.7h-5.9zM254.1 489.9h3.0v5.7h-3.0zM260.0 489.9h3.0v5.7h-3.0zM274.8 489.9h5.9v5.7h-5.9zM310.3 489.9h5.9v5.7h-5.9zM348.8 489.9h3.0v5.7h-3.0zM357.6 489.9h3.0v5.7h-3.0zM402.0 489.9h3.0v5.7h-3.0zM70.7 495.7h3.0v3.8h-3.0zM79.6 495.7h3.0v3.8h-3.0zM106.2 495.7h3.0v3.8h-3.0zM159.4 495.7h3.0v3.8h-3.0zM177.2 495.7h3.0v3.8h-3.0zM227.5 495.7h3.0v3.8h-3.0zM257.1 495.7h3.0v3.8h-3.0zM271.9 495.7h3.0v3.8h-3.0zM277.8 495.7h5.9v3.8h-5.9zM310.3 495.7h3.0v3.8h-3.0zM348.8 495.7h3.0v3.8h-3.0zM363.5 495.7h3.0v3.8h-3.0zM53.0 499.5h3.0v4.1h-3.0zM218.6 499.5h3.0v4.1h-3.0zM233.4 499.5h3.0v4.1h-3.0zM251.1 499.5h5.9v4.1h-5.9zM260.0 499.5h5.9v4.1h-5.9zM268.9 499.5h5.9v4.1h-5.9zM325.1 499.5h3.0v4.1h-3.0zM334.0 499.5h11.8v4.1h-11.8zM351.7 499.5h3.0v4.1h-3.0zM363.5 499.5h3.0v4.1h-3.0zM375.4 499.5h3.0v4.1h-3.0zM387.2 499.5h5.9v4.1h-5.9zM70.7 503.6h3.0v4.1h-3.0zM159.4 503.6h3.0v4.1h-3.0zM218.6 503.6h3.0v4.1h-3.0zM233.4 503.6h3.0v4.1h-3.0zM248.2 503.6h5.9v4.1h-5.9zM257.1 503.6h3.0v4.1h-3.0zM265.9 503.6h3.0v4.1h-3.0zM274.8 503.6h3.0v4.1h-3.0zM310.3 503.6h3.0v4.1h-3.0zM331.0 503.6h3.0v4.1h-3.0zM345.8 503.6h3.0v4.1h-3.0zM366.5 503.6h3.0v4.1h-3.0zM384.3 503.6h3.0v4.1h-3.0zM390.2 503.6h3.0v4.1h-3.0zM399.0 503.6h3.0v4.1h-3.0zM70.7 507.7h5.9v6.4h-5.9zM126.9 507.7h3.0v6.4h-3.0zM177.2 507.7h3.0v6.4h-3.0zM251.1 507.7h5.9v6.4h-5.9zM260.0 507.7h3.0v6.4h-3.0zM310.3 507.7h3.0v6.4h-3.0zM316.2 507.7h3.0v6.4h-3.0zM336.9 507.7h3.0v6.4h-3.0zM348.8 507.7h3.0v6.4h-3.0zM363.5 507.7h3.0v6.4h-3.0zM369.5 507.7h3.0v6.4h-3.0zM58.9 514.0h3.0v4.3h-3.0zM70.7 514.0h3.0v4.3h-3.0zM79.6 514.0h3.0v4.3h-3.0zM112.1 514.0h3.0v4.3h-3.0zM159.4 514.0h3.0v4.3h-3.0zM197.9 514.0h5.9v4.3h-5.9zM218.6 514.0h3.0v4.3h-3.0zM227.5 514.0h3.0v4.3h-3.0zM245.2 514.0h3.0v4.3h-3.0zM254.1 514.0h3.0v4.3h-3.0zM260.0 514.0h3.0v4.3h-3.0zM268.9 514.0h3.0v4.3h-3.0zM274.8 514.0h5.9v4.3h-5.9zM328.1 514.0h3.0v4.3h-3.0zM334.0 514.0h5.9v4.3h-5.9zM342.8 514.0h8.9v4.3h-8.9zM357.6 514.0h3.0v4.3h-3.0zM366.5 514.0h5.9v4.3h-5.9zM375.4 514.0h3.0v4.3h-3.0zM390.2 514.0h3.0v4.3h-3.0zM53.0 518.3h3.0v5.0h-3.0zM79.6 518.3h3.0v5.0h-3.0zM159.4 518.3h3.0v5.0h-3.0zM171.3 518.3h3.0v5.0h-3.0zM197.9 518.3h3.0v5.0h-3.0zM236.4 518.3h3.0v5.0h-3.0zM245.2 518.3h3.0v5.0h-3.0zM251.1 518.3h3.0v5.0h-3.0zM274.8 518.3h5.9v5.0h-5.9zM328.1 518.3h3.0v5.0h-3.0zM336.9 518.3h3.0v5.0h-3.0zM348.8 518.3h3.0v5.0h-3.0zM357.6 518.3h3.0v5.0h-3.0zM363.5 518.3h8.9v5.0h-8.9zM384.3 518.3h8.9v5.0h-8.9zM399.0 518.3h3.0v5.0h-3.0zM410.9 518.3h3.0v5.0h-3.0zM58.9 523.4h8.9v7.6h-8.9zM73.7 523.4h3.0v7.6h-3.0zM91.4 523.4h3.0v7.6h-3.0zM103.2 523.4h3.0v7.6h-3.0zM109.2 523.4h3.0v7.6h-3.0zM144.7 523.4h3.0v7.6h-3.0zM159.4 523.4h3.0v7.6h-3.0zM171.3 523.4h3.0v7.6h-3.0zM183.1 523.4h5.9v7.6h-5.9zM197.9 523.4h8.9v7.6h-8.9zM221.6 523.4h3.0v7.6h-3.0zM227.5 523.4h3.0v7.6h-3.0zM242.3 523.4h5.9v7.6h-5.9zM257.1 523.4h3.0v7.6h-3.0zM265.9 523.4h3.0v7.6h-3.0zM271.9 523.4h8.9v7.6h-8.9zM310.3 523.4h3.0v7.6h-3.0zM328.1 523.4h3.0v7.6h-3.0zM348.8 523.4h3.0v7.6h-3.0zM402.0 523.4h3.0v7.6h-3.0zM215.6 534.0h3.0v4.7h-3.0zM242.3 534.0h3.0v4.7h-3.0zM251.1 534.0h3.0v4.7h-3.0zM263.0 534.0h8.9v4.7h-8.9zM277.8 534.0h3.0v4.7h-3.0zM283.7 534.0h3.0v4.7h-3.0zM313.3 534.0h8.9v4.7h-8.9zM345.8 534.0h3.0v4.7h-3.0zM360.6 534.0h3.0v4.7h-3.0zM372.4 534.0h5.9v4.7h-5.9zM159.4 538.7h3.0v8.6h-3.0zM215.6 538.7h3.0v8.6h-3.0zM221.6 538.7h3.0v8.6h-3.0zM227.5 538.7h8.9v8.6h-8.9zM242.3 538.7h8.9v8.6h-8.9zM263.0 538.7h3.0v8.6h-3.0zM316.2 538.7h3.0v8.6h-3.0zM348.8 538.7h3.0v8.6h-3.0zM357.6 538.7h3.0v8.6h-3.0zM363.5 538.7h3.0v8.6h-3.0zM369.5 538.7h8.9v8.6h-8.9zM61.8 547.3h3.0v5.1h-3.0zM88.5 547.3h3.0v5.1h-3.0zM97.3 547.3h3.0v5.1h-3.0zM129.9 547.3h3.0v5.1h-3.0zM215.6 547.3h5.9v5.1h-5.9zM227.5 547.3h3.0v5.1h-3.0zM233.4 547.3h3.0v5.1h-3.0zM239.3 547.3h5.9v5.1h-5.9zM254.1 547.3h3.0v5.1h-3.0zM265.9 547.3h5.9v5.1h-5.9zM277.8 547.3h3.0v5.1h-3.0zM286.6 547.3h3.0v5.1h-3.0zM316.2 547.3h3.0v5.1h-3.0zM357.6 547.3h3.0v5.1h-3.0zM363.5 547.3h3.0v5.1h-3.0zM369.5 547.3h3.0v5.1h-3.0zM375.4 547.3h3.0v5.1h-3.0zM393.1 547.3h3.0v5.1h-3.0zM58.9 552.4h3.0v3.4h-3.0zM70.7 552.4h3.0v3.4h-3.0zM76.6 552.4h3.0v3.4h-3.0zM100.3 552.4h3.0v3.4h-3.0zM109.2 552.4h3.0v3.4h-3.0zM115.1 552.4h3.0v3.4h-3.0zM233.4 552.4h3.0v3.4h-3.0zM242.3 552.4h3.0v3.4h-3.0zM277.8 552.4h3.0v3.4h-3.0zM286.6 552.4h3.0v3.4h-3.0zM313.3 552.4h5.9v3.4h-5.9zM348.8 552.4h3.0v3.4h-3.0zM360.6 552.4h3.0v3.4h-3.0zM372.4 552.4h5.9v3.4h-5.9zM381.3 552.4h3.0v3.4h-3.0zM387.2 552.4h3.0v3.4h-3.0zM393.1 552.4h3.0v3.4h-3.0zM129.9 555.8h3.0v7.8h-3.0zM147.6 555.8h3.0v7.8h-3.0zM156.5 555.8h3.0v7.8h-3.0zM165.4 555.8h3.0v7.8h-3.0zM209.7 555.8h3.0v7.8h-3.0zM215.6 555.8h3.0v7.8h-3.0zM221.6 555.8h3.0v7.8h-3.0zM236.4 555.8h3.0v7.8h-3.0zM277.8 555.8h3.0v7.8h-3.0zM310.3 555.8h3.0v7.8h-3.0zM357.6 555.8h3.0v7.8h-3.0zM375.4 555.8h3.0v7.8h-3.0zM393.1 555.8h3.0v7.8h-3.0zM61.8 563.6h3.0v5.4h-3.0zM76.6 563.6h3.0v5.4h-3.0zM88.5 563.6h3.0v5.4h-3.0zM103.2 563.6h3.0v5.4h-3.0zM147.6 563.6h3.0v5.4h-3.0zM156.5 563.6h3.0v5.4h-3.0zM236.4 563.6h3.0v5.4h-3.0zM245.2 563.6h3.0v5.4h-3.0zM265.9 563.6h5.9v5.4h-5.9zM277.8 563.6h3.0v5.4h-3.0zM286.6 563.6h3.0v5.4h-3.0zM313.3 563.6h3.0v5.4h-3.0zM357.6 563.6h8.9v5.4h-8.9zM399.0 563.6h3.0v5.4h-3.0zM70.7 569.0h3.0v8.9h-3.0zM76.6 569.0h3.0v8.9h-3.0zM94.4 569.0h3.0v8.9h-3.0zM103.2 569.0h3.0v8.9h-3.0zM115.1 569.0h3.0v8.9h-3.0zM147.6 569.0h3.0v8.9h-3.0zM156.5 569.0h3.0v8.9h-3.0zM212.7 569.0h5.9v8.9h-5.9zM221.6 569.0h3.0v8.9h-3.0zM242.3 569.0h3.0v8.9h-3.0zM248.2 569.0h3.0v8.9h-3.0zM263.0 569.0h5.9v8.9h-5.9zM313.3 569.0h3.0v8.9h-3.0zM319.2 569.0h3.0v8.9h-3.0zM354.7 569.0h3.0v8.9h-3.0zM363.5 569.0h3.0v8.9h-3.0zM372.4 569.0h3.0v8.9h-3.0zM381.3 569.0h3.0v8.9h-3.0zM61.8 577.9h3.0v7.2h-3.0zM97.3 577.9h3.0v7.2h-3.0zM129.9 577.9h3.0v7.2h-3.0zM165.4 577.9h3.0v7.2h-3.0zM209.7 577.9h3.0v7.2h-3.0zM215.6 577.9h3.0v7.2h-3.0zM242.3 577.9h3.0v7.2h-3.0zM263.0 577.9h5.9v7.2h-5.9zM348.8 577.9h3.0v7.2h-3.0zM360.6 577.9h3.0v7.2h-3.0zM372.4 577.9h5.9v7.2h-5.9zM393.1 577.9h3.0v7.2h-3.0zM58.9 585.1h3.0v5.0h-3.0zM70.7 585.1h8.9v5.0h-8.9zM82.5 585.1h3.0v5.0h-3.0zM88.5 585.1h3.0v5.0h-3.0zM100.3 585.1h3.0v5.0h-3.0zM106.2 585.1h3.0v5.0h-3.0zM115.1 585.1h3.0v5.0h-3.0zM233.4 585.1h3.0v5.0h-3.0zM257.1 585.1h8.9v5.0h-8.9zM313.3 585.1h5.9v5.0h-5.9zM351.7 585.1h3.0v5.0h-3.0zM366.5 585.1h5.9v5.0h-5.9zM384.3 585.1h5.9v5.0h-5.9zM396.1 585.1h3.0v5.0h-3.0zM156.5 590.1h3.0v4.9h-3.0zM221.6 590.1h3.0v4.9h-3.0zM227.5 590.1h5.9v4.9h-5.9zM236.4 590.1h3.0v4.9h-3.0zM242.3 590.1h5.9v4.9h-5.9zM265.9 590.1h3.0v4.9h-3.0zM277.8 590.1h3.0v4.9h-3.0zM316.2 590.1h3.0v4.9h-3.0zM345.8 590.1h5.9v4.9h-5.9zM357.6 590.1h8.9v4.9h-8.9zM375.4 590.1h3.0v4.9h-3.0zM381.3 590.1h3.0v4.9h-3.0zM393.1 590.1h3.0v4.9h-3.0zM153.5 598.0h3.0v6.9h-3.0zM177.2 598.0h3.0v6.9h-3.0zM183.1 598.0h5.9v6.9h-5.9zM200.9 598.0h5.9v6.9h-5.9zM215.6 598.0h8.9v6.9h-8.9zM230.4 598.0h3.0v6.9h-3.0zM254.1 598.0h5.9v6.9h-5.9zM271.9 598.0h3.0v6.9h-3.0zM280.7 598.0h8.9v6.9h-8.9zM357.6 598.0h3.0v6.9h-3.0zM366.5 598.0h3.0v6.9h-3.0zM372.4 598.0h3.0v6.9h-3.0zM387.2 598.0h5.9v6.9h-5.9zM399.0 598.0h3.0v6.9h-3.0zM416.8 598.0h3.0v6.9h-3.0zM135.8 604.9h5.9v8.8h-5.9zM147.6 604.9h3.0v8.8h-3.0zM153.5 604.9h5.9v8.8h-5.9zM165.4 604.9h5.9v8.8h-5.9zM203.8 604.9h3.0v8.8h-3.0zM251.1 604.9h5.9v8.8h-5.9zM271.9 604.9h3.0v8.8h-3.0zM280.7 604.9h5.9v8.8h-5.9zM357.6 604.9h3.0v8.8h-3.0zM363.5 604.9h8.9v8.8h-8.9zM387.2 604.9h5.9v8.8h-5.9zM396.1 604.9h3.0v8.8h-3.0zM416.8 604.9h3.0v8.8h-3.0zM428.6 604.9h3.0v8.8h-3.0zM118.0 613.7h3.0v7.0h-3.0zM147.6 613.7h3.0v7.0h-3.0zM165.4 613.7h3.0v7.0h-3.0zM171.3 613.7h3.0v7.0h-3.0zM183.1 613.7h3.0v7.0h-3.0zM189.0 613.7h3.0v7.0h-3.0zM200.9 613.7h3.0v7.0h-3.0zM224.5 613.7h3.0v7.0h-3.0zM245.2 613.7h3.0v7.0h-3.0zM254.1 613.7h5.9v7.0h-5.9zM268.9 613.7h3.0v7.0h-3.0zM280.7 613.7h8.9v7.0h-8.9zM369.5 613.7h3.0v7.0h-3.0zM387.2 613.7h3.0v7.0h-3.0zM396.1 613.7h3.0v7.0h-3.0zM64.8 620.7h5.9v3.8h-5.9zM91.4 620.7h3.0v3.8h-3.0zM109.2 620.7h3.0v3.8h-3.0zM124.0 620.7h3.0v3.8h-3.0zM141.7 620.7h3.0v3.8h-3.0zM162.4 620.7h8.9v3.8h-8.9zM186.1 620.7h3.0v3.8h-3.0zM224.5 620.7h3.0v3.8h-3.0zM236.4 620.7h3.0v3.8h-3.0zM257.1 620.7h5.9v3.8h-5.9zM310.3 620.7h3.0v3.8h-3.0zM357.6 620.7h3.0v3.8h-3.0zM396.1 620.7h3.0v3.8h-3.0zM109.2 624.4h3.0v4.7h-3.0zM138.7 624.4h5.9v4.7h-5.9zM156.5 624.4h3.0v4.7h-3.0zM165.4 624.4h3.0v4.7h-3.0zM171.3 624.4h3.0v4.7h-3.0zM189.0 624.4h3.0v4.7h-3.0zM224.5 624.4h3.0v4.7h-3.0zM245.2 624.4h3.0v4.7h-3.0zM263.0 624.4h3.0v4.7h-3.0zM274.8 624.4h3.0v4.7h-3.0zM280.7 624.4h8.9v4.7h-8.9zM357.6 624.4h3.0v4.7h-3.0zM369.5 624.4h3.0v4.7h-3.0zM390.2 624.4h3.0v4.7h-3.0zM64.8 629.2h3.0v4.3h-3.0zM109.2 629.2h3.0v4.3h-3.0zM135.8 629.2h5.9v4.3h-5.9zM165.4 629.2h8.9v4.3h-8.9zM206.8 629.2h3.0v4.3h-3.0zM263.0 629.2h3.0v4.3h-3.0zM310.3 629.2h3.0v4.3h-3.0zM357.6 629.2h3.0v4.3h-3.0zM396.1 629.2h5.9v4.3h-5.9zM141.7 633.5h3.0v5.9h-3.0zM153.5 633.5h3.0v5.9h-3.0zM171.3 633.5h3.0v5.9h-3.0zM183.1 633.5h5.9v5.9h-5.9zM200.9 633.5h5.9v5.9h-5.9zM218.6 633.5h3.0v5.9h-3.0zM227.5 633.5h3.0v5.9h-3.0zM233.4 633.5h5.9v5.9h-5.9zM251.1 633.5h8.9v5.9h-8.9zM283.7 633.5h5.9v5.9h-5.9zM292.6 633.5h3.0v5.9h-3.0zM345.8 633.5h3.0v5.9h-3.0zM363.5 633.5h3.0v5.9h-3.0zM372.4 633.5h3.0v5.9h-3.0zM378.3 633.5h3.0v5.9h-3.0zM387.2 633.5h5.9v5.9h-5.9zM109.2 639.3h3.0v7.7h-3.0zM153.5 639.3h3.0v7.7h-3.0zM180.2 639.3h5.9v7.7h-5.9zM203.8 639.3h3.0v7.7h-3.0zM221.6 639.3h3.0v7.7h-3.0zM230.4 639.3h3.0v7.7h-3.0zM236.4 639.3h3.0v7.7h-3.0zM248.2 639.3h3.0v7.7h-3.0zM257.1 639.3h5.9v7.7h-5.9zM265.9 639.3h3.0v7.7h-3.0zM274.8 639.3h3.0v7.7h-3.0zM313.3 639.3h3.0v7.7h-3.0zM357.6 639.3h3.0v7.7h-3.0zM366.5 639.3h3.0v7.7h-3.0zM372.4 639.3h3.0v7.7h-3.0zM390.2 639.3h3.0v7.7h-3.0zM396.1 639.3h5.9v7.7h-5.9zM413.8 639.3h3.0v7.7h-3.0zM419.8 639.3h5.9v7.7h-5.9zM428.6 639.3h5.9v7.7h-5.9zM61.8 647.0h3.0v9.0h-3.0zM67.7 647.0h3.0v9.0h-3.0zM91.4 647.0h3.0v9.0h-3.0zM106.2 647.0h5.9v9.0h-5.9zM115.1 647.0h5.9v9.0h-5.9zM174.2 647.0h3.0v9.0h-3.0zM192.0 647.0h3.0v9.0h-3.0zM236.4 647.0h3.0v9.0h-3.0zM263.0 647.0h3.0v9.0h-3.0zM295.5 647.0h14.8v9.0h-14.8zM345.8 647.0h3.0v9.0h-3.0zM357.6 647.0h3.0v9.0h-3.0zM372.4 647.0h3.0v9.0h-3.0zM109.2 656.0h3.0v7.0h-3.0zM118.0 656.0h3.0v7.0h-3.0zM168.3 656.0h5.9v7.0h-5.9zM180.2 656.0h3.0v7.0h-3.0zM189.0 656.0h3.0v7.0h-3.0zM206.8 656.0h3.0v7.0h-3.0zM218.6 656.0h5.9v7.0h-5.9zM227.5 656.0h11.8v7.0h-11.8zM260.0 656.0h5.9v7.0h-5.9zM283.7 656.0h3.0v7.0h-3.0zM307.3 656.0h3.0v7.0h-3.0zM369.5 656.0h5.9v7.0h-5.9zM387.2 656.0h3.0v7.0h-3.0zM393.1 656.0h8.9v7.0h-8.9zM410.9 656.0h3.0v7.0h-3.0zM422.7 656.0h3.0v7.0h-3.0zM70.7 663.0h3.0v6.6h-3.0zM82.5 663.0h5.9v6.6h-5.9zM115.1 663.0h5.9v6.6h-5.9zM124.0 663.0h3.0v6.6h-3.0zM144.7 663.0h3.0v6.6h-3.0zM197.9 663.0h3.0v6.6h-3.0zM224.5 663.0h3.0v6.6h-3.0zM245.2 663.0h3.0v6.6h-3.0zM260.0 663.0h3.0v6.6h-3.0zM265.9 663.0h3.0v6.6h-3.0zM307.3 663.0h3.0v6.6h-3.0zM345.8 663.0h3.0v6.6h-3.0zM351.7 663.0h3.0v6.6h-3.0zM390.2 663.0h3.0v6.6h-3.0zM416.8 663.0h3.0v6.6h-3.0zM428.6 663.0h3.0v6.6h-3.0zM61.8 669.6h8.9v3.5h-8.9zM73.7 669.6h5.9v3.5h-5.9zM91.4 669.6h5.9v3.5h-5.9zM106.2 669.6h3.0v3.5h-3.0zM118.0 669.6h3.0v3.5h-3.0zM150.6 669.6h3.0v3.5h-3.0zM159.4 669.6h3.0v3.5h-3.0zM174.2 669.6h5.9v3.5h-5.9zM192.0 669.6h5.9v3.5h-5.9zM212.7 669.6h3.0v3.5h-3.0zM224.5 669.6h3.0v3.5h-3.0zM304.4 669.6h5.9v3.5h-5.9zM345.8 669.6h11.8v3.5h-11.8zM372.4 669.6h3.0v3.5h-3.0zM396.1 669.6h5.9v3.5h-5.9zM416.8 669.6h3.0v3.5h-3.0zM67.7 673.1h3.0v5.1h-3.0zM144.7 673.1h3.0v5.1h-3.0zM150.6 673.1h3.0v5.1h-3.0zM174.2 673.1h3.0v5.1h-3.0zM192.0 673.1h8.9v5.1h-8.9zM209.7 673.1h3.0v5.1h-3.0zM245.2 673.1h3.0v5.1h-3.0zM274.8 673.1h3.0v5.1h-3.0zM298.5 673.1h3.0v5.1h-3.0zM354.7 673.1h5.9v5.1h-5.9zM372.4 673.1h3.0v5.1h-3.0zM416.8 673.1h3.0v5.1h-3.0zM431.6 673.1h3.0v5.1h-3.0zM67.7 678.2h3.0v8.5h-3.0zM109.2 678.2h3.0v8.5h-3.0zM147.6 678.2h3.0v8.5h-3.0zM174.2 678.2h3.0v8.5h-3.0zM192.0 678.2h3.0v8.5h-3.0zM197.9 678.2h3.0v8.5h-3.0zM209.7 678.2h3.0v8.5h-3.0zM218.6 678.2h3.0v8.5h-3.0zM224.5 678.2h3.0v8.5h-3.0zM230.4 678.2h3.0v8.5h-3.0zM245.2 678.2h3.0v8.5h-3.0zM307.3 678.2h3.0v8.5h-3.0zM351.7 678.2h3.0v8.5h-3.0zM372.4 678.2h3.0v8.5h-3.0zM390.2 678.2h3.0v8.5h-3.0zM396.1 678.2h5.9v8.5h-5.9zM419.8 678.2h5.9v8.5h-5.9zM67.7 686.8h5.9v4.9h-5.9zM118.0 686.8h3.0v4.9h-3.0zM162.4 686.8h3.0v4.9h-3.0zM212.7 686.8h3.0v4.9h-3.0zM221.6 686.8h5.9v4.9h-5.9zM257.1 686.8h3.0v4.9h-3.0zM265.9 686.8h3.0v4.9h-3.0zM274.8 686.8h3.0v4.9h-3.0zM301.4 686.8h3.0v4.9h-3.0zM307.3 686.8h3.0v4.9h-3.0zM348.8 686.8h5.9v4.9h-5.9zM399.0 686.8h3.0v4.9h-3.0zM431.6 686.8h3.0v4.9h-3.0zM61.8 691.6h8.9v3.2h-8.9zM73.7 691.6h3.0v3.2h-3.0zM85.5 691.6h3.0v3.2h-3.0zM94.4 691.6h3.0v3.2h-3.0zM109.2 691.6h3.0v3.2h-3.0zM144.7 691.6h3.0v3.2h-3.0zM159.4 691.6h3.0v3.2h-3.0zM192.0 691.6h5.9v3.2h-5.9zM212.7 691.6h3.0v3.2h-3.0zM218.6 691.6h3.0v3.2h-3.0zM295.5 691.6h8.9v3.2h-8.9zM348.8 691.6h3.0v3.2h-3.0zM138.7 694.9h3.0v5.0h-3.0zM162.4 694.9h3.0v5.0h-3.0zM174.2 694.9h3.0v5.0h-3.0zM189.0 694.9h3.0v5.0h-3.0zM197.9 694.9h3.0v5.0h-3.0zM206.8 694.9h5.9v5.0h-5.9zM215.6 694.9h5.9v5.0h-5.9zM224.5 694.9h3.0v5.0h-3.0zM230.4 694.9h5.9v5.0h-5.9zM245.2 694.9h3.0v5.0h-3.0zM257.1 694.9h5.9v5.0h-5.9zM265.9 694.9h3.0v5.0h-3.0zM283.7 694.9h3.0v5.0h-3.0zM363.5 694.9h3.0v5.0h-3.0zM372.4 694.9h3.0v5.0h-3.0zM390.2 694.9h3.0v5.0h-3.0zM396.1 694.9h3.0v5.0h-3.0zM413.8 694.9h3.0v5.0h-3.0zM422.7 694.9h3.0v5.0h-3.0zM428.6 694.9h3.0v5.0h-3.0zM109.2 699.9h3.0v5.7h-3.0zM144.7 699.9h3.0v5.7h-3.0zM174.2 699.9h8.9v5.7h-8.9zM206.8 699.9h3.0v5.7h-3.0zM212.7 699.9h3.0v5.7h-3.0zM224.5 699.9h3.0v5.7h-3.0zM245.2 699.9h3.0v5.7h-3.0zM260.0 699.9h3.0v5.7h-3.0zM265.9 699.9h3.0v5.7h-3.0zM274.8 699.9h3.0v5.7h-3.0zM307.3 699.9h3.0v5.7h-3.0zM369.5 699.9h3.0v5.7h-3.0zM399.0 699.9h3.0v5.7h-3.0zM416.8 699.9h3.0v5.7h-3.0zM422.7 699.9h3.0v5.7h-3.0zM67.7 705.6h3.0v8.6h-3.0zM91.4 705.6h3.0v8.6h-3.0zM109.2 705.6h3.0v8.6h-3.0zM115.1 705.6h3.0v8.6h-3.0zM144.7 705.6h3.0v8.6h-3.0zM150.6 705.6h3.0v8.6h-3.0zM180.2 705.6h3.0v8.6h-3.0zM260.0 705.6h3.0v8.6h-3.0zM265.9 705.6h3.0v8.6h-3.0zM274.8 705.6h3.0v8.6h-3.0zM348.8 705.6h3.0v8.6h-3.0zM357.6 705.6h3.0v8.6h-3.0zM416.8 705.6h3.0v8.6h-3.0zM431.6 705.6h3.0v8.6h-3.0zM109.2 714.2h3.0v7.8h-3.0zM124.0 714.2h3.0v7.8h-3.0zM150.6 714.2h3.0v7.8h-3.0zM156.5 714.2h3.0v7.8h-3.0zM162.4 714.2h5.9v7.8h-5.9zM174.2 714.2h8.9v7.8h-8.9zM221.6 714.2h5.9v7.8h-5.9zM230.4 714.2h3.0v7.8h-3.0zM236.4 714.2h3.0v7.8h-3.0zM245.2 714.2h3.0v7.8h-3.0zM260.0 714.2h3.0v7.8h-3.0zM265.9 714.2h3.0v7.8h-3.0zM307.3 714.2h3.0v7.8h-3.0zM372.4 714.2h3.0v7.8h-3.0zM390.2 714.2h3.0v7.8h-3.0zM419.8 714.2h5.9v7.8h-5.9zM159.4 722.0h5.9v7.1h-5.9zM177.2 722.0h5.9v7.1h-5.9zM192.0 722.0h3.0v7.1h-3.0zM197.9 722.0h3.0v7.1h-3.0zM245.2 722.0h3.0v7.1h-3.0zM265.9 722.0h3.0v7.1h-3.0zM289.6 722.0h3.0v7.1h-3.0zM357.6 722.0h3.0v7.1h-3.0zM369.5 722.0h3.0v7.1h-3.0zM390.2 722.0h3.0v7.1h-3.0zM396.1 722.0h3.0v7.1h-3.0zM416.8 722.0h3.0v7.1h-3.0zM431.6 722.0h3.0v7.1h-3.0zM147.6 729.1h3.0v8.6h-3.0zM177.2 729.1h5.9v8.6h-5.9zM197.9 729.1h3.0v8.6h-3.0zM209.7 729.1h5.9v8.6h-5.9zM221.6 729.1h5.9v8.6h-5.9zM236.4 729.1h3.0v8.6h-3.0zM245.2 729.1h3.0v8.6h-3.0zM265.9 729.1h3.0v8.6h-3.0zM274.8 729.1h3.0v8.6h-3.0zM313.3 729.1h3.0v8.6h-3.0zM369.5 729.1h3.0v8.6h-3.0zM396.1 729.1h3.0v8.6h-3.0zM410.9 729.1h3.0v8.6h-3.0zM428.6 729.1h3.0v8.6h-3.0zM135.8 737.7h3.0v8.0h-3.0zM144.7 737.7h3.0v8.0h-3.0zM162.4 737.7h3.0v8.0h-3.0zM171.3 737.7h3.0v8.0h-3.0zM180.2 737.7h3.0v8.0h-3.0zM189.0 737.7h3.0v8.0h-3.0zM206.8 737.7h3.0v8.0h-3.0zM215.6 737.7h3.0v8.0h-3.0zM224.5 737.7h3.0v8.0h-3.0zM263.0 737.7h3.0v8.0h-3.0zM274.8 737.7h3.0v8.0h-3.0zM292.6 737.7h3.0v8.0h-3.0zM301.4 737.7h3.0v8.0h-3.0zM390.2 737.7h8.9v8.0h-8.9zM64.8 745.8h5.9v3.4h-5.9zM109.2 745.8h3.0v3.4h-3.0zM144.7 745.8h3.0v3.4h-3.0zM150.6 745.8h3.0v3.4h-3.0zM192.0 745.8h3.0v3.4h-3.0zM206.8 745.8h3.0v3.4h-3.0zM212.7 745.8h3.0v3.4h-3.0zM245.2 745.8h3.0v3.4h-3.0zM260.0 745.8h3.0v3.4h-3.0zM265.9 745.8h3.0v3.4h-3.0zM274.8 745.8h3.0v3.4h-3.0zM357.6 745.8h3.0v3.4h-3.0zM372.4 745.8h3.0v3.4h-3.0zM399.0 745.8h3.0v3.4h-3.0zM416.8 745.8h3.0v3.4h-3.0zM67.7 749.2h3.0v7.1h-3.0zM124.0 749.2h3.0v7.1h-3.0zM144.7 749.2h3.0v7.1h-3.0zM177.2 749.2h3.0v7.1h-3.0zM189.0 749.2h3.0v7.1h-3.0zM197.9 749.2h3.0v7.1h-3.0zM206.8 749.2h8.9v7.1h-8.9zM221.6 749.2h5.9v7.1h-5.9zM236.4 749.2h3.0v7.1h-3.0zM248.2 749.2h3.0v7.1h-3.0zM260.0 749.2h3.0v7.1h-3.0zM265.9 749.2h3.0v7.1h-3.0zM348.8 749.2h3.0v7.1h-3.0zM390.2 749.2h3.0v7.1h-3.0z" fill="rgb(251, 244, 196)"/>
<path d="M147.6 340.6h3.0v5.7h-3.0zM168.3 340.6h3.0v5.7h-3.0zM239.3 340.6h3.0v5.7h-3.0zM248.2 340.6h5.9v5.7h-5.9zM260.0 340.6h3.0v5.7h-3.0zM265.9 340.6h8.9v5.7h-8.9zM280.7 340.6h3.0v5.7h-3.0zM289.6 340.6h3.0v5.7h-3.0zM304.4 340.6h5.9v5.7h-5.9zM319.2 340.6h3.0v5.7h-3.0zM325.1 340.6h3.0v5.7h-3.0zM331.0 340.6h3.0v5.7h-3.0zM336.9 340.6h3.0v5.7h-3.0zM345.8 340.6h3.0v5.7h-3.0zM351.7 340.6h3.0v5.7h-3.0zM357.6 340.6h5.9v5.7h-5.9zM393.1 340.6h3.0v5.7h-3.0zM405.0 340.6h5.9v5.7h-5.9zM168.3 346.3h3.0v5.3h-3.0zM192.0 346.3h3.0v5.3h-3.0zM248.2 346.3h3.0v5.3h-3.0zM260.0 346.3h8.9v5.3h-8.9zM274.8 346.3h8.9v5.3h-8.9zM289.6 346.3h3.0v5.3h-3.0zM307.3 346.3h3.0v5.3h-3.0zM313.3 346.3h3.0v5.3h-3.0zM328.1 346.3h3.0v5.3h-3.0zM336.9 346.3h3.0v5.3h-3.0zM345.8 346.3h3.0v5.3h-3.0zM351.7 346.3h8.9v5.3h-8.9zM381.3 346.3h3.0v5.3h-3.0zM405.0 346.3h5.9v5.3h-5.9zM221.6 351.6h3.0v7.2h-3.0zM239.3 351.6h3.0v7.2h-3.0zM248.2 351.6h5.9v7.2h-5.9zM260.0 351.6h3.0v7.2h-3.0zM265.9 351.6h3.0v7.2h-3.0zM274.8 351.6h8.9v7.2h-8.9zM286.6 351.6h5.9v7.2h-5.9zM301.4 351.6h5.9v7.2h-5.9zM319.2 351.6h3.0v7.2h-3.0zM325.1 351.6h3.0v7.2h-3.0zM331.0 351.6h8.9v7.2h-8.9zM357.6 351.6h5.9v7.2h-5.9zM410.9 351.6h3.0v7.2h-3.0zM168.3 358.8h3.0v3.5h-3.0zM215.6 358.8h3.0v3.5h-3.0zM221.6 358.8h3.0v3.5h-3.0zM227.5 358.8h5.9v3.5h-5.9zM239.3 358.8h3.0v3.5h-3.0zM251.1 358.8h3.0v3.5h-3.0zM257.1 358.8h8.9v3.5h-8.9zM268.9 358.8h8.9v3.5h-8.9zM286.6 358.8h5.9v3.5h-5.9zM298.5 358.8h3.0v3.5h-3.0zM304.4 358.8h3.0v3.5h-3.0zM313.3 358.8h5.9v3.5h-5.9zM322.1 358.8h3.0v3.5h-3.0zM331.0 358.8h3.0v3.5h-3.0zM339.9 358.8h3.0v3.5h-3.0zM345.8 358.8h3.0v3.5h-3.0zM351.7 358.8h5.9v3.5h-5.9zM393.1 358.8h3.0v3.5h-3.0zM405.0 358.8h5.9v3.5h-5.9zM168.3 362.4h3.0v4.0h-3.0zM215.6 362.4h3.0v4.0h-3.0zM245.2 362.4h3.0v4.0h-3.0zM251.1 362.4h3.0v4.0h-3.0zM263.0 362.4h3.0v4.0h-3.0zM268.9 362.4h3.0v4.0h-3.0zM280.7 362.4h3.0v4.0h-3.0zM304.4 362.4h5.9v4.0h-5.9zM319.2 362.4h5.9v4.0h-5.9zM334.0 362.4h5.9v4.0h-5.9zM351.7 362.4h3.0v4.0h-3.0zM357.6 362.4h5.9v4.0h-5.9zM381.3 362.4h3.0v4.0h-3.0zM387.2 362.4h3.0v4.0h-3.0zM402.0 362.4h11.8v4.0h-11.8zM425.7 362.4h3.0v4.0h-3.0zM135.8 366.4h3.0v6.1h-3.0zM147.6 366.4h3.0v6.1h-3.0zM218.6 366.4h3.0v6.1h-3.0zM230.4 366.4h5.9v6.1h-5.9zM239.3 366.4h3.0v6.1h-3.0zM251.1 366.4h11.8v6.1h-11.8zM265.9 366.4h3.0v6.1h-3.0zM277.8 366.4h3.0v6.1h-3.0zM286.6 366.4h3.0v6.1h-3.0zM298.5 366.4h3.0v6.1h-3.0zM307.3 366.4h3.0v6.1h-3.0zM313.3 366.4h3.0v6.1h-3.0zM328.1 366.4h3.0v6.1h-3.0zM354.7 366.4h5.9v6.1h-5.9zM162.4 372.5h3.0v5.4h-3.0zM168.3 372.5h3.0v5.4h-3.0zM218.6 372.5h3.0v5.4h-3.0zM239.3 372.5h3.0v5.4h-3.0zM251.1 372.5h3.0v5.4h-3.0zM257.1 372.5h3.0v5.4h-3.0zM265.9 372.5h3.0v5.4h-3.0zM271.9 372.5h5.9v5.4h-5.9zM280.7 372.5h3.0v5.4h-3.0zM301.4 372.5h5.9v5.4h-5.9zM313.3 372.5h3.0v5.4h-3.0zM319.2 372.5h3.0v5.4h-3.0zM331.0 372.5h3.0v5.4h-3.0zM339.9 372.5h3.0v5.4h-3.0zM351.7 372.5h3.0v5.4h-3.0zM357.6 372.5h3.0v5.4h-3.0zM381.3 372.5h3.0v5.4h-3.0zM393.1 372.5h3.0v5.4h-3.0zM407.9 372.5h3.0v5.4h-3.0zM168.3 377.9h3.0v7.0h-3.0zM221.6 377.9h3.0v7.0h-3.0zM239.3 377.9h3.0v7.0h-3.0zM245.2 377.9h8.9v7.0h-8.9zM260.0 377.9h3.0v7.0h-3.0zM268.9 377.9h3.0v7.0h-3.0zM274.8 377.9h3.0v7.0h-3.0zM280.7 377.9h3.0v7.0h-3.0zM289.6 377.9h3.0v7.0h-3.0zM301.4 377.9h11.8v7.0h-11.8zM319.2 377.9h5.9v7.0h-5.9zM331.0 377.9h3.0v7.0h-3.0zM336.9 377.9h5.9v7.0h-5.9zM351.7 377.9h3.0v7.0h-3.0zM360.6 377.9h3.0v7.0h-3.0zM381.3 377.9h3.0v7.0h-3.0zM387.2 377.9h3.0v7.0h-3.0zM393.1 377.9h3.0v7.0h-3.0zM410.9 377.9h3.0v7.0h-3.0zM425.7 377.9h3.0v7.0h-3.0zM434.5 377.9h3.0v7.0h-3.0zM215.6 384.9h3.0v5.0h-3.0zM221.6 384.9h3.0v5.0h-3.0zM227.5 384.9h3.0v5.0h-3.0zM245.2 384.9h3.0v5.0h-3.0zM260.0 384.9h5.9v5.0h-5.9zM268.9 384.9h3.0v5.0h-3.0zM280.7 384.9h3.0v5.0h-3.0zM286.6 384.9h3.0v5.0h-3.0zM301.4 384.9h3.0v5.0h-3.0zM325.1 384.9h3.0v5.0h-3.0zM336.9 384.9h5.9v5.0h-5.9zM381.3 384.9h3.0v5.0h-3.0zM402.0 384.9h3.0v5.0h-3.0zM407.9 384.9h3.0v5.0h-3.0zM425.7 384.9h3.0v5.0h-3.0zM215.6 389.9h3.0v6.1h-3.0zM221.6 389.9h5.9v6.1h-5.9zM251.1 389.9h5.9v6.1h-5.9zM268.9 389.9h3.0v6.1h-3.0zM274.8 389.9h3.0v6.1h-3.0zM301.4 389.9h5.9v6.1h-5.9zM322.1 389.9h5.9v6.1h-5.9zM331.0 389.9h17.7v6.1h-17.7zM369.5 389.9h3.0v6.1h-3.0zM375.4 389.9h3.0v6.1h-3.0zM384.3 389.9h5.9v6.1h-5.9zM399.0 389.9h5.9v6.1h-5.9zM410.9 389.9h3.0v6.1h-3.0zM425.7 389.9h3.0v6.1h-3.0zM431.6 389.9h3.0v6.1h-3.0zM251.1 399.0h5.9v8.2h-5.9zM263.0 399.0h3.0v8.2h-3.0zM322.1 399.0h5.9v8.2h-5.9zM342.8 399.0h5.9v8.2h-5.9zM354.7 399.0h3.0v8.2h-3.0zM360.6 399.0h3.0v8.2h-3.0zM407.9 399.0h3.0v8.2h-3.0zM416.8 399.0h3.0v8.2h-3.0zM425.7 399.0h5.9v8.2h-5.9zM434.5 399.0h3.0v8.2h-3.0zM218.6 407.2h3.0v7.3h-3.0zM248.2 407.2h3.0v7.3h-3.0zM260.0 407.2h3.0v7.3h-3.0zM298.5 407.2h3.0v7.3h-3.0zM325.1 407.2h3.0v7.3h-3.0zM334.0 407.2h3.0v7.3h-3.0zM345.8 407.2h3.0v7.3h-3.0zM360.6 407.2h3.0v7.3h-3.0zM405.0 407.2h5.9v7.3h-5.9zM419.8 407.2h3.0v7.3h-3.0zM254.1 414.5h3.0v4.3h-3.0zM263.0 414.5h3.0v4.3h-3.0zM280.7 414.5h3.0v4.3h-3.0zM328.1 414.5h5.9v4.3h-5.9zM336.9 414.5h3.0v4.3h-3.0zM345.8 414.5h3.0v4.3h-3.0zM351.7 414.5h11.8v4.3h-11.8zM372.4 414.5h3.0v4.3h-3.0zM378.3 414.5h8.9v4.3h-8.9zM396.1 414.5h3.0v4.3h-3.0zM405.0 414.5h5.9v4.3h-5.9zM419.8 414.5h3.0v4.3h-3.0zM431.6 414.5h3.0v4.3h-3.0zM251.1 418.9h3.0v7.1h-3.0zM263.0 418.9h5.9v7.1h-5.9zM325.1 418.9h3.0v7.1h-3.0zM336.9 418.9h8.9v7.1h-8.9zM351.7 418.9h5.9v7.1h-5.9zM360.6 418.9h3.0v7.1h-3.0zM372.4 418.9h3.0v7.1h-3.0zM405.0 418.9h5.9v7.1h-5.9zM428.6 418.9h5.9v7.1h-5.9zM218.6 426.0h3.0v8.6h-3.0zM260.0 426.0h3.0v8.6h-3.0zM268.9 426.0h3.0v8.6h-3.0zM277.8 426.0h5.9v8.6h-5.9zM328.1 426.0h3.0v8.6h-3.0zM336.9 426.0h8.9v8.6h-8.9zM351.7 426.0h3.0v8.6h-3.0zM360.6 426.0h3.0v8.6h-3.0zM378.3 426.0h3.0v8.6h-3.0zM407.9 426.0h5.9v8.6h-5.9zM419.8 426.0h5.9v8.6h-5.9zM431.6 426.0h3.0v8.6h-3.0zM248.2 434.6h3.0v3.4h-3.0zM268.9 434.6h3.0v3.4h-3.0zM325.1 434.6h3.0v3.4h-3.0zM342.8 434.6h3.0v3.4h-3.0zM351.7 434.6h3.0v3.4h-3.0zM360.6 434.6h3.0v3.4h-3.0zM372.4 434.6h5.9v3.4h-5.9zM381.3 434.6h3.0v3.4h-3.0zM405.0 434.6h5.9v3.4h-5.9zM425.7 434.6h3.0v3.4h-3.0zM431.6 434.6h5.9v3.4h-5.9zM218.6 438.0h3.0v4.8h-3.0zM251.1 438.0h3.0v4.8h-3.0zM263.0 438.0h3.0v4.8h-3.0zM268.9 438.0h3.0v4.8h-3.0zM277.8 438.0h3.0v4.8h-3.0zM325.1 438.0h11.8v4.8h-11.8zM345.8 438.0h5.9v4.8h-5.9zM354.7 438.0h3.0v4.8h-3.0zM375.4 438.0h3.0v4.8h-3.0zM393.1 438.0h5.9v4.8h-5.9zM407.9 438.0h3.0v4.8h-3.0zM419.8 438.0h3.0v4.8h-3.0zM425.7 438.0h3.0v4.8h-3.0zM218.6 442.8h3.0v3.8h-3.0zM248.2 442.8h5.9v3.8h-5.9zM263.0 442.8h3.0v3.8h-3.0zM268.9 442.8h3.0v3.8h-3.0zM280.7 442.8h3.0v3.8h-3.0zM325.1 442.8h3.0v3.8h-3.0zM331.0 442.8h8.9v3.8h-8.9zM342.8 442.8h5.9v3.8h-5.9zM351.7 442.8h3.0v3.8h-3.0zM360.6 442.8h3.0v3.8h-3.0zM416.8 442.8h5.9v3.8h-5.9zM428.6 442.8h3.0v3.8h-3.0zM159.4 446.5h3.0v8.2h-3.0zM254.1 446.5h3.0v8.2h-3.0zM260.0 446.5h3.0v8.2h-3.0zM277.8 446.5h3.0v8.2h-3.0zM328.1 446.5h5.9v8.2h-5.9zM348.8 446.5h11.8v8.2h-11.8zM372.4 446.5h5.9v8.2h-5.9zM387.2 446.5h3.0v8.2h-3.0zM393.1 446.5h5.9v8.2h-5.9zM405.0 446.5h3.0v8.2h-3.0zM416.8 446.5h3.0v8.2h-3.0zM425.7 446.5h3.0v8.2h-3.0zM431.6 446.5h3.0v8.2h-3.0zM218.6 454.8h3.0v3.8h-3.0zM227.5 454.8h3.0v3.8h-3.0zM251.1 454.8h3.0v3.8h-3.0zM260.0 454.8h5.9v3.8h-5.9zM271.9 454.8h3.0v3.8h-3.0zM310.3 454.8h3.0v3.8h-3.0zM316.2 454.8h3.0v3.8h-3.0zM331.0 454.8h3.0v3.8h-3.0zM339.9 454.8h3.0v3.8h-3.0zM375.4 454.8h5.9v3.8h-5.9zM387.2 454.8h3.0v3.8h-3.0zM396.1 454.8h3.0v3.8h-3.0zM413.8 454.8h3.0v3.8h-3.0zM73.7 458.5h3.0v3.6h-3.0zM233.4 458.5h3.0v3.6h-3.0zM254.1 458.5h3.0v3.6h-3.0zM260.0 458.5h3.0v3.6h-3.0zM265.9 458.5h3.0v3.6h-3.0zM310.3 458.5h3.0v3.6h-3.0zM348.8 458.5h3.0v3.6h-3.0zM357.6 458.5h3.0v3.6h-3.0zM369.5 458.5h3.0v3.6h-3.0zM378.3 458.5h3.0v3.6h-3.0zM384.3 458.5h5.9v3.6h-5.9zM393.1 458.5h3.0v3.6h-3.0zM405.0 458.5h3.0v3.6h-3.0zM422.7 458.5h5.9v3.6h-5.9zM218.6 462.1h3.0v3.6h-3.0zM248.2 462.1h5.9v3.6h-5.9zM260.0 462.1h3.0v3.6h-3.0zM265.9 462.1h5.9v3.6h-5.9zM280.7 462.1h3.0v3.6h-3.0zM325.1 462.1h3.0v3.6h-3.0zM342.8 462.1h5.9v3.6h-5.9zM351.7 462.1h3.0v3.6h-3.0zM357.6 462.1h3.0v3.6h-3.0zM369.5 462.1h8.9v3.6h-8.9zM381.3 462.1h3.0v3.6h-3.0zM405.0 462.1h3.0v3.6h-3.0zM422.7 462.1h5.9v3.6h-5.9zM434.5 462.1h3.0v3.6h-3.0zM233.4 465.7h3.0v8.0h-3.0zM251.1 465.7h3.0v8.0h-3.0zM257.1 465.7h3.0v8.0h-3.0zM268.9 465.7h3.0v8.0h-3.0zM277.8 465.7h5.9v8.0h-5.9zM328.1 465.7h3.0v8.0h-3.0zM363.5 465.7h3.0v8.0h-3.0zM402.0 465.7h3.0v8.0h-3.0zM248.2 473.7h8.9v4.2h-8.9zM260.0 473.7h3.0v4.2h-3.0zM280.7 473.7h3.0v4.2h-3.0zM328.1 473.7h5.9v4.2h-5.9zM345.8 473.7h3.0v4.2h-3.0zM399.0 473.7h3.0v4.2h-3.0zM233.4 477.9h3.0v8.8h-3.0zM254.1 477.9h5.9v8.8h-5.9zM268.9 477.9h5.9v8.8h-5.9zM280.7 477.9h3.0v8.8h-3.0zM328.1 477.9h3.0v8.8h-3.0zM345.8 477.9h8.9v8.8h-8.9zM357.6 477.9h3.0v8.8h-3.0zM366.5 477.9h3.0v8.8h-3.0zM390.2 477.9h3.0v8.8h-3.0zM53.0 486.7h3.0v3.2h-3.0zM218.6 486.7h3.0v3.2h-3.0zM251.1 486.7h3.0v3.2h-3.0zM277.8 486.7h3.0v3.2h-3.0zM325.1 486.7h3.0v3.2h-3.0zM351.7 486.7h5.9v3.2h-5.9zM360.6 486.7h3.0v3.2h-3.0zM375.4 486.7h3.0v3.2h-3.0zM387.2 486.7h3.0v3.2h-3.0zM396.1 486.7h3.0v3.2h-3.0zM410.9 486.7h3.0v3.2h-3.0zM159.4 489.9h3.0v5.7h-3.0zM251.1 489.9h3.0v5.7h-3.0zM265.9 489.9h3.0v5.7h-3.0zM271.9 489.9h3.0v5.7h-3.0zM280.7 489.9h3.0v5.7h-3.0zM331.0 489.9h3.0v5.7h-3.0zM345.8 489.9h3.0v5.7h-3.0zM351.7 489.9h3.0v5.7h-3.0zM363.5 489.9h3.0v5.7h-3.0zM384.3 489.9h5.9v5.7h-5.9zM399.0 489.9h3.0v5.7h-3.0zM233.4 495.7h3.0v3.8h-3.0zM260.0 495.7h3.0v3.8h-3.0zM331.0 495.7h3.0v3.8h-3.0zM354.7 495.7h5.9v3.8h-5.9zM375.4 495.7h5.9v3.8h-5.9zM384.3 495.7h3.0v3.8h-3.0zM399.0 495.7h3.0v3.8h-3.0zM248.2 499.5h3.0v4.1h-3.0zM280.7 499.5h3.0v4.1h-3.0zM345.8 499.5h3.0v4.1h-3.0zM354.7 499.5h3.0v4.1h-3.0zM360.6 499.5h3.0v4.1h-3.0zM369.5 499.5h5.9v4.1h-5.9zM378.3 499.5h3.0v4.1h-3.0zM384.3 499.5h3.0v4.1h-3.0zM393.1 499.5h5.9v4.1h-5.9zM410.9 499.5h5.9v4.1h-5.9zM425.7 499.5h3.0v4.1h-3.0zM263.0 503.6h3.0v4.1h-3.0zM268.9 503.6h3.0v4.1h-3.0zM280.7 503.6h3.0v4.1h-3.0zM325.1 503.6h5.9v4.1h-5.9zM351.7 503.6h5.9v4.1h-5.9zM363.5 503.6h3.0v4.1h-3.0zM369.5 503.6h3.0v4.1h-3.0zM375.4 503.6h3.0v4.1h-3.0zM387.2 503.6h3.0v4.1h-3.0zM396.1 503.6h3.0v4.1h-3.0zM413.8 503.6h3.0v4.1h-3.0zM422.7 503.6h5.9v4.1h-5.9zM53.0 507.7h3.0v6.4h-3.0zM159.4 507.7h3.0v6.4h-3.0zM218.6 507.7h3.0v6.4h-3.0zM248.2 507.7h3.0v6.4h-3.0zM263.0 507.7h3.0v6.4h-3.0zM268.9 507.7h3.0v6.4h-3.0zM280.7 507.7h3.0v6.4h-3.0zM325.1 507.7h3.0v6.4h-3.0zM331.0 507.7h3.0v6.4h-3.0zM339.9 507.7h3.0v6.4h-3.0zM345.8 507.7h3.0v6.4h-3.0zM351.7 507.7h5.9v6.4h-5.9zM375.4 507.7h26.6v6.4h-26.6zM410.9 507.7h3.0v6.4h-3.0zM53.0 514.0h3.0v4.3h-3.0zM233.4 514.0h3.0v4.3h-3.0zM248.2 514.0h5.9v4.3h-5.9zM280.7 514.0h3.0v4.3h-3.0zM325.1 514.0h3.0v4.3h-3.0zM339.9 514.0h3.0v4.3h-3.0zM351.7 514.0h5.9v4.3h-5.9zM363.5 514.0h3.0v4.3h-3.0zM384.3 514.0h5.9v4.3h-5.9zM396.1 514.0h5.9v4.3h-5.9zM410.9 514.0h3.0v4.3h-3.0zM431.6 514.0h3.0v4.3h-3.0zM70.7 518.3h3.0v5.0h-3.0zM227.5 518.3h3.0v5.0h-3.0zM248.2 518.3h3.0v5.0h-3.0zM254.1 518.3h3.0v5.0h-3.0zM260.0 518.3h3.0v5.0h-3.0zM268.9 518.3h5.9v5.0h-5.9zM280.7 518.3h3.0v5.0h-3.0zM325.1 518.3h3.0v5.0h-3.0zM334.0 518.3h3.0v5.0h-3.0zM342.8 518.3h5.9v5.0h-5.9zM351.7 518.3h3.0v5.0h-3.0zM360.6 518.3h3.0v5.0h-3.0zM396.1 518.3h3.0v5.0h-3.0zM422.7 518.3h3.0v5.0h-3.0zM70.7 523.4h3.0v7.6h-3.0zM79.6 523.4h3.0v7.6h-3.0zM177.2 523.4h3.0v7.6h-3.0zM233.4 523.4h3.0v7.6h-3.0zM248.2 523.4h3.0v7.6h-3.0zM254.1 523.4h3.0v7.6h-3.0zM260.0 523.4h3.0v7.6h-3.0zM268.9 523.4h3.0v7.6h-3.0zM354.7 523.4h5.9v7.6h-5.9zM363.5 523.4h5.9v7.6h-5.9zM393.1 523.4h8.9v7.6h-8.9zM422.7 523.4h3.0v7.6h-3.0zM156.5 534.0h3.0v4.7h-3.0zM165.4 534.0h3.0v4.7h-3.0zM221.6 534.0h3.0v4.7h-3.0zM227.5 534.0h3.0v4.7h-3.0zM236.4 534.0h3.0v4.7h-3.0zM245.2 534.0h5.9v4.7h-5.9zM274.8 534.0h3.0v4.7h-3.0zM348.8 534.0h3.0v4.7h-3.0zM357.6 534.0h3.0v4.7h-3.0zM363.5 534.0h3.0v4.7h-3.0zM399.0 534.0h3.0v4.7h-3.0zM138.7 538.7h3.0v8.6h-3.0zM147.6 538.7h3.0v8.6h-3.0zM156.5 538.7h3.0v8.6h-3.0zM171.3 538.7h3.0v8.6h-3.0zM180.2 538.7h5.9v8.6h-5.9zM203.8 538.7h3.0v8.6h-3.0zM212.7 538.7h3.0v8.6h-3.0zM224.5 538.7h3.0v8.6h-3.0zM236.4 538.7h3.0v8.6h-3.0zM274.8 538.7h3.0v8.6h-3.0zM286.6 538.7h3.0v8.6h-3.0zM159.4 547.3h3.0v5.1h-3.0zM221.6 547.3h5.9v5.1h-5.9zM230.4 547.3h3.0v5.1h-3.0zM236.4 547.3h3.0v5.1h-3.0zM245.2 547.3h3.0v5.1h-3.0zM274.8 547.3h3.0v5.1h-3.0zM372.4 547.3h3.0v5.1h-3.0zM97.3 552.4h3.0v3.4h-3.0zM129.9 552.4h3.0v3.4h-3.0zM156.5 552.4h3.0v3.4h-3.0zM162.4 552.4h5.9v3.4h-5.9zM212.7 552.4h5.9v3.4h-5.9zM221.6 552.4h3.0v3.4h-3.0zM230.4 552.4h3.0v3.4h-3.0zM239.3 552.4h3.0v3.4h-3.0zM245.2 552.4h5.9v3.4h-5.9zM263.0 552.4h5.9v3.4h-5.9zM274.8 552.4h3.0v3.4h-3.0zM345.8 552.4h3.0v3.4h-3.0zM357.6 552.4h3.0v3.4h-3.0zM363.5 552.4h3.0v3.4h-3.0zM369.5 552.4h3.0v3.4h-3.0zM97.3 555.8h3.0v7.8h-3.0zM153.5 555.8h3.0v7.8h-3.0zM162.4 555.8h3.0v7.8h-3.0zM177.2 555.8h5.9v7.8h-5.9zM200.9 555.8h3.0v7.8h-3.0zM212.7 555.8h3.0v7.8h-3.0zM224.5 555.8h5.9v7.8h-5.9zM242.3 555.8h5.9v7.8h-5.9zM274.8 555.8h3.0v7.8h-3.0zM316.2 555.8h3.0v7.8h-3.0zM363.5 555.8h3.0v7.8h-3.0zM399.0 555.8h3.0v7.8h-3.0zM138.7 563.6h3.0v5.4h-3.0zM162.4 563.6h3.0v5.4h-3.0zM177.2 563.6h3.0v5.4h-3.0zM183.1 563.6h5.9v5.4h-5.9zM212.7 563.6h3.0v5.4h-3.0zM221.6 563.6h8.9v5.4h-8.9zM242.3 563.6h3.0v5.4h-3.0zM248.2 563.6h3.0v5.4h-3.0zM274.8 563.6h3.0v5.4h-3.0zM372.4 563.6h3.0v5.4h-3.0zM381.3 563.6h3.0v5.4h-3.0zM393.1 563.6h3.0v5.4h-3.0zM97.3 569.0h3.0v8.9h-3.0zM129.9 569.0h3.0v8.9h-3.0zM159.4 569.0h3.0v8.9h-3.0zM183.1 569.0h3.0v8.9h-3.0zM203.8 569.0h3.0v8.9h-3.0zM227.5 569.0h5.9v8.9h-5.9zM236.4 569.0h3.0v8.9h-3.0zM245.2 569.0h3.0v8.9h-3.0zM274.8 569.0h5.9v8.9h-5.9zM357.6 569.0h3.0v8.9h-3.0zM387.2 569.0h3.0v8.9h-3.0zM159.4 577.9h3.0v7.2h-3.0zM171.3 577.9h3.0v7.2h-3.0zM180.2 577.9h3.0v7.2h-3.0zM212.7 577.9h3.0v7.2h-3.0zM224.5 577.9h8.9v7.2h-8.9zM236.4 577.9h3.0v7.2h-3.0zM245.2 577.9h3.0v7.2h-3.0zM274.8 577.9h5.9v7.2h-5.9zM286.6 577.9h3.0v7.2h-3.0zM316.2 577.9h3.0v7.2h-3.0zM399.0 577.9h3.0v7.2h-3.0zM103.2 585.1h3.0v5.0h-3.0zM129.9 585.1h3.0v5.0h-3.0zM165.4 585.1h3.0v5.0h-3.0zM215.6 585.1h3.0v5.0h-3.0zM227.5 585.1h5.9v5.0h-5.9zM248.2 585.1h3.0v5.0h-3.0zM265.9 585.1h5.9v5.0h-5.9zM310.3 585.1h3.0v5.0h-3.0zM319.2 585.1h3.0v5.0h-3.0zM345.8 585.1h3.0v5.0h-3.0zM354.7 585.1h3.0v5.0h-3.0zM372.4 585.1h5.9v5.0h-5.9zM381.3 585.1h3.0v5.0h-3.0zM393.1 585.1h3.0v5.0h-3.0zM97.3 590.1h3.0v4.9h-3.0zM147.6 590.1h3.0v4.9h-3.0zM177.2 590.1h3.0v4.9h-3.0zM183.1 590.1h3.0v4.9h-3.0zM209.7 590.1h5.9v4.9h-5.9zM224.5 590.1h3.0v4.9h-3.0zM274.8 590.1h3.0v4.9h-3.0zM286.6 590.1h3.0v4.9h-3.0zM399.0 590.1h3.0v4.9h-3.0zM61.8 598.0h8.9v6.9h-8.9zM91.4 598.0h5.9v6.9h-5.9zM109.2 598.0h3.0v6.9h-3.0zM135.8 598.0h3.0v6.9h-3.0zM147.6 598.0h3.0v6.9h-3.0zM162.4 598.0h3.0v6.9h-3.0zM168.3 598.0h5.9v6.9h-5.9zM206.8 598.0h3.0v6.9h-3.0zM236.4 598.0h3.0v6.9h-3.0zM260.0 598.0h8.9v6.9h-8.9zM345.8 598.0h3.0v6.9h-3.0zM351.7 598.0h3.0v6.9h-3.0zM396.1 598.0h3.0v6.9h-3.0zM67.7 604.9h3.0v8.8h-3.0zM94.4 604.9h3.0v8.8h-3.0zM100.3 604.9h3.0v8.8h-3.0zM106.2 604.9h5.9v8.8h-5.9zM118.0 604.9h3.0v8.8h-3.0zM141.7 604.9h3.0v8.8h-3.0zM162.4 604.9h3.0v8.8h-3.0zM171.3 604.9h3.0v8.8h-3.0zM180.2 604.9h11.8v8.8h-11.8zM221.6 604.9h5.9v8.8h-5.9zM245.2 604.9h3.0v8.8h-3.0zM257.1 604.9h3.0v8.8h-3.0zM286.6 604.9h3.0v8.8h-3.0zM319.2 604.9h3.0v8.8h-3.0zM345.8 604.9h5.9v8.8h-5.9zM372.4 604.9h3.0v8.8h-3.0zM399.0 604.9h3.0v8.8h-3.0zM67.7 613.7h3.0v7.0h-3.0zM100.3 613.7h3.0v7.0h-3.0zM109.2 613.7h3.0v7.0h-3.0zM124.0 613.7h3.0v7.0h-3.0zM135.8 613.7h3.0v7.0h-3.0zM153.5 613.7h3.0v7.0h-3.0zM162.4 613.7h3.0v7.0h-3.0zM168.3 613.7h3.0v7.0h-3.0zM177.2 613.7h3.0v7.0h-3.0zM221.6 613.7h3.0v7.0h-3.0zM236.4 613.7h3.0v7.0h-3.0zM260.0 613.7h5.9v7.0h-5.9zM274.8 613.7h3.0v7.0h-3.0zM316.2 613.7h3.0v7.0h-3.0zM345.8 613.7h8.9v7.0h-8.9zM357.6 613.7h5.9v7.0h-5.9zM372.4 613.7h3.0v7.0h-3.0zM399.0 613.7h3.0v7.0h-3.0zM88.5 620.7h3.0v3.8h-3.0zM115.1 620.7h5.9v3.8h-5.9zM138.7 620.7h3.0v3.8h-3.0zM144.7 620.7h5.9v3.8h-5.9zM156.5 620.7h3.0v3.8h-3.0zM174.2 620.7h3.0v3.8h-3.0zM180.2 620.7h3.0v3.8h-3.0zM189.0 620.7h3.0v3.8h-3.0zM206.8 620.7h5.9v3.8h-5.9zM274.8 620.7h3.0v3.8h-3.0zM316.2 620.7h5.9v3.8h-5.9zM345.8 620.7h8.9v3.8h-8.9zM64.8 624.4h3.0v4.7h-3.0zM85.5 624.4h3.0v4.7h-3.0zM91.4 624.4h5.9v4.7h-5.9zM115.1 624.4h3.0v4.7h-3.0zM124.0 624.4h3.0v4.7h-3.0zM135.8 624.4h3.0v4.7h-3.0zM147.6 624.4h3.0v4.7h-3.0zM162.4 624.4h3.0v4.7h-3.0zM168.3 624.4h3.0v4.7h-3.0zM174.2 624.4h8.9v4.7h-8.9zM186.1 624.4h3.0v4.7h-3.0zM197.9 624.4h3.0v4.7h-3.0zM206.8 624.4h3.0v4.7h-3.0zM257.1 624.4h5.9v4.7h-5.9zM316.2 624.4h3.0v4.7h-3.0zM345.8 624.4h5.9v4.7h-5.9zM61.8 629.2h3.0v4.3h-3.0zM67.7 629.2h3.0v4.3h-3.0zM85.5 629.2h3.0v4.3h-3.0zM91.4 629.2h3.0v4.3h-3.0zM106.2 629.2h3.0v4.3h-3.0zM124.0 629.2h3.0v4.3h-3.0zM141.7 629.2h3.0v4.3h-3.0zM147.6 629.2h3.0v4.3h-3.0zM156.5 629.2h3.0v4.3h-3.0zM162.4 629.2h3.0v4.3h-3.0zM177.2 629.2h5.9v4.3h-5.9zM186.1 629.2h8.9v4.3h-8.9zM209.7 629.2h5.9v4.3h-5.9zM218.6 629.2h3.0v4.3h-3.0zM265.9 629.2h3.0v4.3h-3.0zM274.8 629.2h3.0v4.3h-3.0zM316.2 629.2h5.9v4.3h-5.9zM345.8 629.2h5.9v4.3h-5.9zM354.7 629.2h3.0v4.3h-3.0zM372.4 629.2h3.0v4.3h-3.0zM64.8 633.5h3.0v5.9h-3.0zM94.4 633.5h3.0v5.9h-3.0zM109.2 633.5h3.0v5.9h-3.0zM124.0 633.5h3.0v5.9h-3.0zM135.8 633.5h3.0v5.9h-3.0zM147.6 633.5h3.0v5.9h-3.0zM156.5 633.5h3.0v5.9h-3.0zM165.4 633.5h5.9v5.9h-5.9zM189.0 633.5h3.0v5.9h-3.0zM224.5 633.5h3.0v5.9h-3.0zM245.2 633.5h3.0v5.9h-3.0zM263.0 633.5h3.0v5.9h-3.0zM351.7 633.5h3.0v5.9h-3.0zM357.6 633.5h3.0v5.9h-3.0zM369.5 633.5h3.0v5.9h-3.0zM396.1 633.5h5.9v5.9h-5.9zM416.8 633.5h3.0v5.9h-3.0zM61.8 639.3h8.9v7.7h-8.9zM91.4 639.3h3.0v7.7h-3.0zM138.7 639.3h5.9v7.7h-5.9zM156.5 639.3h3.0v7.7h-3.0zM165.4 639.3h5.9v7.7h-5.9zM174.2 639.3h5.9v7.7h-5.9zM186.1 639.3h5.9v7.7h-5.9zM206.8 639.3h5.9v7.7h-5.9zM218.6 639.3h3.0v7.7h-3.0zM224.5 639.3h3.0v7.7h-3.0zM245.2 639.3h3.0v7.7h-3.0zM307.3 639.3h3.0v7.7h-3.0zM345.8 639.3h8.9v7.7h-8.9zM369.5 639.3h3.0v7.7h-3.0zM387.2 639.3h3.0v7.7h-3.0zM55.9 647.0h3.0v9.0h-3.0zM64.8 647.0h3.0v9.0h-3.0zM70.7 647.0h17.7v9.0h-17.7zM100.3 647.0h3.0v9.0h-3.0zM159.4 647.0h3.0v9.0h-3.0zM194.9 647.0h3.0v9.0h-3.0zM212.7 647.0h3.0v9.0h-3.0zM351.7 647.0h5.9v9.0h-5.9zM360.6 647.0h3.0v9.0h-3.0zM369.5 647.0h3.0v9.0h-3.0zM416.8 647.0h3.0v9.0h-3.0zM61.8 656.0h5.9v7.0h-5.9zM91.4 656.0h5.9v7.0h-5.9zM106.2 656.0h3.0v7.0h-3.0zM115.1 656.0h3.0v7.0h-3.0zM144.7 656.0h3.0v7.0h-3.0zM150.6 656.0h3.0v7.0h-3.0zM156.5 656.0h8.9v7.0h-8.9zM174.2 656.0h5.9v7.0h-5.9zM194.9 656.0h5.9v7.0h-5.9zM209.7 656.0h5.9v7.0h-5.9zM224.5 656.0h3.0v7.0h-3.0zM245.2 656.0h3.0v7.0h-3.0zM265.9 656.0h3.0v7.0h-3.0zM274.8 656.0h3.0v7.0h-3.0zM298.5 656.0h3.0v7.0h-3.0zM345.8 656.0h3.0v7.0h-3.0zM357.6 656.0h3.0v7.0h-3.0zM390.2 656.0h3.0v7.0h-3.0zM416.8 656.0h3.0v7.0h-3.0zM58.9 663.0h3.0v6.6h-3.0zM73.7 663.0h5.9v6.6h-5.9zM88.5 663.0h3.0v6.6h-3.0zM100.3 663.0h3.0v6.6h-3.0zM106.2 663.0h3.0v6.6h-3.0zM150.6 663.0h3.0v6.6h-3.0zM159.4 663.0h3.0v6.6h-3.0zM174.2 663.0h3.0v6.6h-3.0zM192.0 663.0h5.9v6.6h-5.9zM289.6 663.0h3.0v6.6h-3.0zM295.5 663.0h11.8v6.6h-11.8zM354.7 663.0h3.0v6.6h-3.0zM360.6 663.0h3.0v6.6h-3.0zM372.4 663.0h3.0v6.6h-3.0zM70.7 669.6h3.0v3.5h-3.0zM85.5 669.6h3.0v3.5h-3.0zM100.3 669.6h3.0v3.5h-3.0zM112.1 669.6h5.9v3.5h-5.9zM126.9 669.6h3.0v3.5h-3.0zM298.5 669.6h5.9v3.5h-5.9zM360.6 669.6h3.0v3.5h-3.0zM61.8 673.1h3.0v5.1h-3.0zM70.7 673.1h3.0v5.1h-3.0zM91.4 673.1h5.9v5.1h-5.9zM100.3 673.1h3.0v5.1h-3.0zM106.2 673.1h5.9v5.1h-5.9zM115.1 673.1h5.9v5.1h-5.9zM124.0 673.1h3.0v5.1h-3.0zM159.4 673.1h3.0v5.1h-3.0zM189.0 673.1h3.0v5.1h-3.0zM212.7 673.1h3.0v5.1h-3.0zM224.5 673.1h3.0v5.1h-3.0zM295.5 673.1h3.0v5.1h-3.0zM304.4 673.1h5.9v5.1h-5.9zM348.8 673.1h5.9v5.1h-5.9zM61.8 678.2h5.9v8.5h-5.9zM100.3 678.2h3.0v8.5h-3.0zM144.7 678.2h3.0v8.5h-3.0zM150.6 678.2h3.0v8.5h-3.0zM177.2 678.2h3.0v8.5h-3.0zM194.9 678.2h3.0v8.5h-3.0zM212.7 678.2h3.0v8.5h-3.0zM274.8 678.2h3.0v8.5h-3.0zM345.8 678.2h5.9v8.5h-5.9zM357.6 678.2h3.0v8.5h-3.0zM61.8 686.8h5.9v4.9h-5.9zM73.7 686.8h14.8v4.9h-14.8zM94.4 686.8h3.0v4.9h-3.0zM100.3 686.8h3.0v4.9h-3.0zM106.2 686.8h3.0v4.9h-3.0zM115.1 686.8h3.0v4.9h-3.0zM124.0 686.8h3.0v4.9h-3.0zM144.7 686.8h3.0v4.9h-3.0zM159.4 686.8h3.0v4.9h-3.0zM192.0 686.8h3.0v4.9h-3.0zM289.6 686.8h3.0v4.9h-3.0zM304.4 686.8h3.0v4.9h-3.0zM345.8 686.8h3.0v4.9h-3.0zM357.6 686.8h3.0v4.9h-3.0zM369.5 686.8h3.0v4.9h-3.0zM70.7 691.6h3.0v3.2h-3.0zM76.6 691.6h8.9v3.2h-8.9zM88.5 691.6h3.0v3.2h-3.0zM100.3 691.6h3.0v3.2h-3.0zM112.1 691.6h3.0v3.2h-3.0zM118.0 691.6h3.0v3.2h-3.0zM124.0 691.6h3.0v3.2h-3.0zM292.6 691.6h3.0v3.2h-3.0zM304.4 691.6h3.0v3.2h-3.0zM345.8 691.6h3.0v3.2h-3.0zM360.6 691.6h3.0v3.2h-3.0zM64.8 694.9h3.0v5.0h-3.0zM91.4 694.9h3.0v5.0h-3.0zM100.3 694.9h3.0v5.0h-3.0zM109.2 694.9h3.0v5.0h-3.0zM144.7 694.9h3.0v5.0h-3.0zM150.6 694.9h3.0v5.0h-3.0zM180.2 694.9h3.0v5.0h-3.0zM192.0 694.9h3.0v5.0h-3.0zM212.7 694.9h3.0v5.0h-3.0zM307.3 694.9h3.0v5.0h-3.0zM345.8 694.9h3.0v5.0h-3.0zM351.7 694.9h3.0v5.0h-3.0zM357.6 694.9h3.0v5.0h-3.0zM369.5 694.9h3.0v5.0h-3.0zM387.2 694.9h3.0v5.0h-3.0zM416.8 694.9h3.0v5.0h-3.0zM64.8 699.9h5.9v5.7h-5.9zM73.7 699.9h3.0v5.7h-3.0zM91.4 699.9h5.9v5.7h-5.9zM106.2 699.9h3.0v5.7h-3.0zM115.1 699.9h5.9v5.7h-5.9zM124.0 699.9h3.0v5.7h-3.0zM192.0 699.9h5.9v5.7h-5.9zM295.5 699.9h5.9v5.7h-5.9zM348.8 699.9h5.9v5.7h-5.9zM357.6 699.9h3.0v5.7h-3.0zM372.4 699.9h3.0v5.7h-3.0zM94.4 705.6h3.0v8.6h-3.0zM118.0 705.6h3.0v8.6h-3.0zM124.0 705.6h3.0v8.6h-3.0zM159.4 705.6h3.0v8.6h-3.0zM192.0 705.6h5.9v8.6h-5.9zM298.5 705.6h3.0v8.6h-3.0zM307.3 705.6h3.0v8.6h-3.0zM354.7 705.6h3.0v8.6h-3.0zM70.7 714.2h3.0v7.8h-3.0zM76.6 714.2h3.0v7.8h-3.0zM85.5 714.2h3.0v7.8h-3.0zM94.4 714.2h3.0v7.8h-3.0zM100.3 714.2h3.0v7.8h-3.0zM106.2 714.2h3.0v7.8h-3.0zM115.1 714.2h3.0v7.8h-3.0zM144.7 714.2h3.0v7.8h-3.0zM194.9 714.2h5.9v7.8h-5.9zM209.7 714.2h5.9v7.8h-5.9zM274.8 714.2h3.0v7.8h-3.0zM298.5 714.2h3.0v7.8h-3.0zM304.4 714.2h3.0v7.8h-3.0zM348.8 714.2h8.9v7.8h-8.9zM369.5 714.2h3.0v7.8h-3.0zM61.8 722.0h3.0v7.1h-3.0zM91.4 722.0h3.0v7.1h-3.0zM109.2 722.0h3.0v7.1h-3.0zM118.0 722.0h3.0v7.1h-3.0zM150.6 722.0h3.0v7.1h-3.0zM194.9 722.0h3.0v7.1h-3.0zM212.7 722.0h3.0v7.1h-3.0zM348.8 722.0h8.9v7.1h-8.9zM61.8 729.1h8.9v8.6h-8.9zM85.5 729.1h3.0v8.6h-3.0zM91.4 729.1h5.9v8.6h-5.9zM109.2 729.1h3.0v8.6h-3.0zM124.0 729.1h3.0v8.6h-3.0zM159.4 729.1h3.0v8.6h-3.0zM174.2 729.1h3.0v8.6h-3.0zM192.0 729.1h5.9v8.6h-5.9zM348.8 729.1h11.8v8.6h-11.8zM64.8 737.7h5.9v8.0h-5.9zM91.4 737.7h3.0v8.0h-3.0zM159.4 737.7h3.0v8.0h-3.0zM174.2 737.7h3.0v8.0h-3.0zM192.0 737.7h3.0v8.0h-3.0zM197.9 737.7h3.0v8.0h-3.0zM209.7 737.7h3.0v8.0h-3.0zM221.6 737.7h3.0v8.0h-3.0zM230.4 737.7h3.0v8.0h-3.0zM257.1 737.7h5.9v8.0h-5.9zM265.9 737.7h3.0v8.0h-3.0zM289.6 737.7h3.0v8.0h-3.0zM345.8 737.7h3.0v8.0h-3.0zM369.5 737.7h5.9v8.0h-5.9zM387.2 737.7h3.0v8.0h-3.0zM416.8 737.7h3.0v8.0h-3.0zM91.4 745.8h5.9v3.4h-5.9zM115.1 745.8h3.0v3.4h-3.0zM124.0 745.8h3.0v3.4h-3.0zM159.4 745.8h3.0v3.4h-3.0zM194.9 745.8h3.0v3.4h-3.0zM221.6 745.8h3.0v3.4h-3.0zM345.8 745.8h8.9v3.4h-8.9zM91.4 749.2h5.9v7.1h-5.9zM100.3 749.2h3.0v7.1h-3.0zM109.2 749.2h3.0v7.1h-3.0zM115.1 749.2h3.0v7.1h-3.0zM150.6 749.2h3.0v7.1h-3.0zM159.4 749.2h3.0v7.1h-3.0zM218.6 749.2h3.0v7.1h-3.0zM245.2 749.2h3.0v7.1h-3.0zM292.6 749.2h3.0v7.1h-3.0zM351.7 749.2h3.0v7.1h-3.0zM357.6 749.2h3.0v7.1h-3.0zM369.5 749.2h3.0v7.1h-3.0z" fill="rgb(250, 239, 192)"/>
<path d="M215.6 340.6h3.0v5.7h-3.0zM221.6 340.6h3.0v5.7h-3.0zM230.4 340.6h3.0v5.7h-3.0zM254.1 340.6h3.0v5.7h-3.0zM263.0 340.6h3.0v5.7h-3.0zM274.8 340.6h3.0v5.7h-3.0zM301.4 340.6h3.0v5.7h-3.0zM310.3 340.6h3.0v5.7h-3.0zM322.1 340.6h3.0v5.7h-3.0zM342.8 340.6h3.0v5.7h-3.0zM354.7 340.6h3.0v5.7h-3.0zM366.5 340.6h3.0v5.7h-3.0zM381.3 340.6h3.0v5.7h-3.0zM387.2 340.6h5.9v5.7h-5.9zM402.0 340.6h3.0v5.7h-3.0zM410.9 340.6h3.0v5.7h-3.0zM422.7 340.6h5.9v5.7h-5.9zM434.5 340.6h3.0v5.7h-3.0zM215.6 346.3h3.0v5.3h-3.0zM221.6 346.3h3.0v5.3h-3.0zM227.5 346.3h3.0v5.3h-3.0zM245.2 346.3h3.0v5.3h-3.0zM251.1 346.3h3.0v5.3h-3.0zM268.9 346.3h3.0v5.3h-3.0zM286.6 346.3h3.0v5.3h-3.0zM304.4 346.3h3.0v5.3h-3.0zM322.1 346.3h5.9v5.3h-5.9zM331.0 346.3h3.0v5.3h-3.0zM339.9 346.3h5.9v5.3h-5.9zM360.6 346.3h3.0v5.3h-3.0zM366.5 346.3h3.0v5.3h-3.0zM425.7 346.3h3.0v5.3h-3.0zM50.0 351.6h3.0v7.2h-3.0zM162.4 351.6h3.0v7.2h-3.0zM215.6 351.6h3.0v7.2h-3.0zM245.2 351.6h3.0v7.2h-3.0zM268.9 351.6h3.0v7.2h-3.0zM295.5 351.6h3.0v7.2h-3.0zM322.1 351.6h3.0v7.2h-3.0zM342.8 351.6h3.0v7.2h-3.0zM366.5 351.6h3.0v7.2h-3.0zM375.4 351.6h3.0v7.2h-3.0zM384.3 351.6h5.9v7.2h-5.9zM402.0 351.6h3.0v7.2h-3.0zM416.8 351.6h5.9v7.2h-5.9zM431.6 351.6h5.9v7.2h-5.9zM245.2 358.8h5.9v3.5h-5.9zM265.9 358.8h3.0v3.5h-3.0zM301.4 358.8h3.0v3.5h-3.0zM310.3 358.8h3.0v3.5h-3.0zM319.2 358.8h3.0v3.5h-3.0zM334.0 358.8h3.0v3.5h-3.0zM360.6 358.8h3.0v3.5h-3.0zM375.4 358.8h3.0v3.5h-3.0zM381.3 358.8h5.9v3.5h-5.9zM402.0 358.8h3.0v3.5h-3.0zM410.9 358.8h5.9v3.5h-5.9zM419.8 358.8h3.0v3.5h-3.0zM53.0 362.4h3.0v4.0h-3.0zM221.6 362.4h5.9v4.0h-5.9zM292.6 362.4h3.0v4.0h-3.0zM310.3 362.4h3.0v4.0h-3.0zM325.1 362.4h3.0v4.0h-3.0zM331.0 362.4h3.0v4.0h-3.0zM348.8 362.4h3.0v4.0h-3.0zM366.5 362.4h3.0v4.0h-3.0zM384.3 362.4h3.0v4.0h-3.0zM396.1 362.4h5.9v4.0h-5.9zM413.8 362.4h3.0v4.0h-3.0zM419.8 362.4h5.9v4.0h-5.9zM431.6 362.4h5.9v4.0h-5.9zM50.0 366.4h3.0v6.1h-3.0zM168.3 366.4h3.0v6.1h-3.0zM248.2 366.4h3.0v6.1h-3.0zM263.0 366.4h3.0v6.1h-3.0zM268.9 366.4h8.9v6.1h-8.9zM280.7 366.4h3.0v6.1h-3.0zM289.6 366.4h3.0v6.1h-3.0zM301.4 366.4h5.9v6.1h-5.9zM322.1 366.4h5.9v6.1h-5.9zM331.0 366.4h8.9v6.1h-8.9zM345.8 366.4h3.0v6.1h-3.0zM351.7 366.4h3.0v6.1h-3.0zM360.6 366.4h3.0v6.1h-3.0zM369.5 366.4h3.0v6.1h-3.0zM387.2 366.4h3.0v6.1h-3.0zM393.1 366.4h3.0v6.1h-3.0zM405.0 366.4h5.9v6.1h-5.9zM53.0 372.5h3.0v5.4h-3.0zM215.6 372.5h3.0v5.4h-3.0zM221.6 372.5h5.9v5.4h-5.9zM245.2 372.5h5.9v5.4h-5.9zM260.0 372.5h5.9v5.4h-5.9zM268.9 372.5h3.0v5.4h-3.0zM322.1 372.5h5.9v5.4h-5.9zM336.9 372.5h3.0v5.4h-3.0zM342.8 372.5h5.9v5.4h-5.9zM354.7 372.5h3.0v5.4h-3.0zM360.6 372.5h3.0v5.4h-3.0zM387.2 372.5h3.0v5.4h-3.0zM402.0 372.5h3.0v5.4h-3.0zM410.9 372.5h3.0v5.4h-3.0zM50.0 377.9h3.0v7.0h-3.0zM215.6 377.9h3.0v7.0h-3.0zM224.5 377.9h3.0v7.0h-3.0zM292.6 377.9h5.9v7.0h-5.9zM342.8 377.9h3.0v7.0h-3.0zM366.5 377.9h5.9v7.0h-5.9zM375.4 377.9h3.0v7.0h-3.0zM399.0 377.9h3.0v7.0h-3.0zM413.8 377.9h3.0v7.0h-3.0zM419.8 377.9h5.9v7.0h-5.9zM50.0 384.9h5.9v5.0h-5.9zM310.3 384.9h3.0v5.0h-3.0zM334.0 384.9h3.0v5.0h-3.0zM366.5 384.9h3.0v5.0h-3.0zM387.2 384.9h5.9v5.0h-5.9zM399.0 384.9h3.0v5.0h-3.0zM419.8 384.9h5.9v5.0h-5.9zM434.5 384.9h3.0v5.0h-3.0zM50.0 389.9h5.9v6.1h-5.9zM286.6 389.9h3.0v6.1h-3.0zM295.5 389.9h3.0v6.1h-3.0zM310.3 389.9h3.0v6.1h-3.0zM348.8 389.9h3.0v6.1h-3.0zM366.5 389.9h3.0v6.1h-3.0zM390.2 389.9h3.0v6.1h-3.0zM413.8 389.9h3.0v6.1h-3.0zM428.6 389.9h3.0v6.1h-3.0zM434.5 389.9h3.0v6.1h-3.0zM53.0 399.0h3.0v8.2h-3.0zM304.4 399.0h5.9v8.2h-5.9zM334.0 399.0h3.0v8.2h-3.0zM419.8 399.0h3.0v8.2h-3.0zM53.0 407.2h3.0v7.3h-3.0zM268.9 407.2h3.0v7.3h-3.0zM304.4 407.2h5.9v7.3h-5.9zM339.9 407.2h3.0v7.3h-3.0zM354.7 407.2h3.0v7.3h-3.0zM416.8 407.2h3.0v7.3h-3.0zM428.6 407.2h3.0v7.3h-3.0zM53.0 414.5h3.0v4.3h-3.0zM248.2 414.5h5.9v4.3h-5.9zM325.1 414.5h3.0v4.3h-3.0zM339.9 414.5h5.9v4.3h-5.9zM348.8 414.5h3.0v4.3h-3.0zM413.8 414.5h5.9v4.3h-5.9zM434.5 414.5h3.0v4.3h-3.0zM248.2 418.9h3.0v7.1h-3.0zM334.0 418.9h3.0v7.1h-3.0zM416.8 418.9h5.9v7.1h-5.9zM248.2 426.0h3.0v8.6h-3.0zM254.1 426.0h3.0v8.6h-3.0zM263.0 426.0h3.0v8.6h-3.0zM325.1 426.0h3.0v8.6h-3.0zM334.0 426.0h3.0v8.6h-3.0zM354.7 426.0h3.0v8.6h-3.0zM372.4 426.0h3.0v8.6h-3.0zM416.8 426.0h3.0v8.6h-3.0zM428.6 426.0h3.0v8.6h-3.0zM53.0 434.6h3.0v3.4h-3.0zM254.1 434.6h3.0v3.4h-3.0zM263.0 434.6h3.0v3.4h-3.0zM304.4 434.6h5.9v3.4h-5.9zM322.1 434.6h3.0v3.4h-3.0zM334.0 434.6h3.0v3.4h-3.0zM416.8 434.6h5.9v3.4h-5.9zM428.6 434.6h3.0v3.4h-3.0zM248.2 438.0h3.0v4.8h-3.0zM280.7 438.0h3.0v4.8h-3.0zM336.9 438.0h8.9v4.8h-8.9zM351.7 438.0h3.0v4.8h-3.0zM360.6 438.0h3.0v4.8h-3.0zM416.8 438.0h3.0v4.8h-3.0zM434.5 438.0h3.0v4.8h-3.0zM53.0 442.8h3.0v3.8h-3.0zM254.1 442.8h3.0v3.8h-3.0zM298.5 442.8h3.0v3.8h-3.0zM381.3 442.8h3.0v3.8h-3.0zM405.0 442.8h3.0v3.8h-3.0zM218.6 446.5h3.0v8.2h-3.0zM263.0 446.5h3.0v8.2h-3.0zM280.7 446.5h3.0v8.2h-3.0zM334.0 446.5h5.9v8.2h-5.9zM342.8 446.5h5.9v8.2h-5.9zM381.3 446.5h3.0v8.2h-3.0zM407.9 446.5h3.0v8.2h-3.0zM422.7 446.5h3.0v8.2h-3.0zM428.6 446.5h3.0v8.2h-3.0zM53.0 454.8h3.0v3.8h-3.0zM248.2 454.8h3.0v3.8h-3.0zM268.9 454.8h3.0v3.8h-3.0zM280.7 454.8h3.0v3.8h-3.0zM325.1 454.8h5.9v3.8h-5.9zM342.8 454.8h3.0v3.8h-3.0zM351.7 454.8h3.0v3.8h-3.0zM357.6 454.8h5.9v3.8h-5.9zM372.4 454.8h3.0v3.8h-3.0zM381.3 454.8h3.0v3.8h-3.0zM410.9 454.8h3.0v3.8h-3.0zM419.8 454.8h3.0v3.8h-3.0zM428.6 454.8h8.9v3.8h-8.9zM248.2 458.5h5.9v3.6h-5.9zM280.7 458.5h3.0v3.6h-3.0zM328.1 458.5h5.9v3.6h-5.9zM345.8 458.5h3.0v3.6h-3.0zM351.7 458.5h3.0v3.6h-3.0zM372.4 458.5h5.9v3.6h-5.9zM381.3 458.5h3.0v3.6h-3.0zM407.9 458.5h3.0v3.6h-3.0zM413.8 458.5h3.0v3.6h-3.0zM431.6 458.5h5.9v3.6h-5.9zM254.1 462.1h3.0v3.6h-3.0zM334.0 462.1h3.0v3.6h-3.0zM354.7 462.1h3.0v3.6h-3.0zM360.6 462.1h3.0v3.6h-3.0zM407.9 462.1h3.0v3.6h-3.0zM419.8 462.1h3.0v3.6h-3.0zM428.6 462.1h5.9v3.6h-5.9zM218.6 465.7h3.0v8.0h-3.0zM254.1 465.7h3.0v8.0h-3.0zM263.0 465.7h3.0v8.0h-3.0zM331.0 465.7h3.0v8.0h-3.0zM339.9 465.7h3.0v8.0h-3.0zM345.8 465.7h5.9v8.0h-5.9zM354.7 465.7h3.0v8.0h-3.0zM366.5 465.7h5.9v8.0h-5.9zM384.3 465.7h3.0v8.0h-3.0zM390.2 465.7h3.0v8.0h-3.0zM53.0 473.7h3.0v4.2h-3.0zM325.1 473.7h3.0v4.2h-3.0zM336.9 473.7h5.9v4.2h-5.9zM351.7 473.7h5.9v4.2h-5.9zM360.6 473.7h5.9v4.2h-5.9zM369.5 473.7h3.0v4.2h-3.0zM375.4 473.7h3.0v4.2h-3.0zM381.3 473.7h8.9v4.2h-8.9zM393.1 473.7h3.0v4.2h-3.0zM248.2 477.9h5.9v8.8h-5.9zM260.0 477.9h3.0v8.8h-3.0zM325.1 477.9h3.0v8.8h-3.0zM331.0 477.9h3.0v8.8h-3.0zM342.8 477.9h3.0v8.8h-3.0zM354.7 477.9h3.0v8.8h-3.0zM387.2 477.9h3.0v8.8h-3.0zM399.0 477.9h5.9v8.8h-5.9zM334.0 486.7h8.9v3.2h-8.9zM369.5 486.7h5.9v3.2h-5.9zM378.3 486.7h3.0v3.2h-3.0zM218.6 489.9h3.0v5.7h-3.0zM248.2 489.9h3.0v5.7h-3.0zM263.0 489.9h3.0v5.7h-3.0zM268.9 489.9h3.0v5.7h-3.0zM328.1 489.9h3.0v5.7h-3.0zM336.9 489.9h8.9v5.7h-8.9zM354.7 489.9h3.0v5.7h-3.0zM366.5 489.9h5.9v5.7h-5.9zM378.3 489.9h3.0v5.7h-3.0zM390.2 489.9h8.9v5.7h-8.9zM410.9 489.9h3.0v5.7h-3.0zM218.6 495.7h3.0v3.8h-3.0zM248.2 495.7h8.9v3.8h-8.9zM263.0 495.7h3.0v3.8h-3.0zM325.1 495.7h5.9v3.8h-5.9zM334.0 495.7h14.8v3.8h-14.8zM360.6 495.7h3.0v3.8h-3.0zM387.2 495.7h8.9v3.8h-8.9zM410.9 495.7h5.9v3.8h-5.9zM422.7 495.7h3.0v3.8h-3.0zM298.5 499.5h8.9v4.1h-8.9zM322.1 499.5h3.0v4.1h-3.0zM381.3 499.5h3.0v4.1h-3.0zM405.0 499.5h3.0v4.1h-3.0zM419.8 499.5h5.9v4.1h-5.9zM431.6 499.5h5.9v4.1h-5.9zM53.0 503.6h3.0v4.1h-3.0zM304.4 503.6h3.0v4.1h-3.0zM334.0 503.6h11.8v4.1h-11.8zM360.6 503.6h3.0v4.1h-3.0zM372.4 503.6h3.0v4.1h-3.0zM378.3 503.6h3.0v4.1h-3.0zM393.1 503.6h3.0v4.1h-3.0zM410.9 503.6h3.0v4.1h-3.0zM298.5 507.7h8.9v6.4h-8.9zM322.1 507.7h3.0v6.4h-3.0zM334.0 507.7h3.0v6.4h-3.0zM342.8 507.7h3.0v6.4h-3.0zM360.6 507.7h3.0v6.4h-3.0zM372.4 507.7h3.0v6.4h-3.0zM405.0 507.7h5.9v6.4h-5.9zM413.8 507.7h3.0v6.4h-3.0zM422.7 507.7h3.0v6.4h-3.0zM431.6 507.7h5.9v6.4h-5.9zM263.0 514.0h3.0v4.3h-3.0zM292.6 514.0h3.0v4.3h-3.0zM298.5 514.0h5.9v4.3h-5.9zM307.3 514.0h3.0v4.3h-3.0zM322.1 514.0h3.0v4.3h-3.0zM360.6 514.0h3.0v4.3h-3.0zM372.4 514.0h3.0v4.3h-3.0zM378.3 514.0h5.9v4.3h-5.9zM393.1 514.0h3.0v4.3h-3.0zM405.0 514.0h3.0v4.3h-3.0zM413.8 514.0h3.0v4.3h-3.0zM422.7 514.0h5.9v4.3h-5.9zM434.5 514.0h3.0v4.3h-3.0zM233.4 518.3h3.0v5.0h-3.0zM263.0 518.3h3.0v5.0h-3.0zM301.4 518.3h3.0v5.0h-3.0zM339.9 518.3h3.0v5.0h-3.0zM354.7 518.3h3.0v5.0h-3.0zM372.4 518.3h11.8v5.0h-11.8zM393.1 518.3h3.0v5.0h-3.0zM53.0 523.4h3.0v7.6h-3.0zM218.6 523.4h3.0v7.6h-3.0zM251.1 523.4h3.0v7.6h-3.0zM263.0 523.4h3.0v7.6h-3.0zM280.7 523.4h3.0v7.6h-3.0zM325.1 523.4h3.0v7.6h-3.0zM331.0 523.4h8.9v7.6h-8.9zM342.8 523.4h5.9v7.6h-5.9zM351.7 523.4h3.0v7.6h-3.0zM360.6 523.4h3.0v7.6h-3.0zM369.5 523.4h3.0v7.6h-3.0zM384.3 523.4h3.0v7.6h-3.0zM390.2 523.4h3.0v7.6h-3.0zM425.7 523.4h3.0v7.6h-3.0zM147.6 534.0h3.0v4.7h-3.0zM177.2 534.0h3.0v4.7h-3.0zM183.1 534.0h5.9v4.7h-5.9zM200.9 534.0h3.0v4.7h-3.0zM209.7 534.0h5.9v4.7h-5.9zM224.5 534.0h3.0v4.7h-3.0zM230.4 534.0h3.0v4.7h-3.0zM286.6 534.0h3.0v4.7h-3.0zM141.7 538.7h3.0v8.6h-3.0zM162.4 538.7h3.0v8.6h-3.0zM192.0 538.7h3.0v8.6h-3.0zM200.9 538.7h3.0v8.6h-3.0zM209.7 538.7h3.0v8.6h-3.0zM277.8 538.7h3.0v8.6h-3.0zM399.0 538.7h3.0v8.6h-3.0zM147.6 547.3h3.0v5.1h-3.0zM156.5 547.3h3.0v5.1h-3.0zM162.4 547.3h5.9v5.1h-5.9zM186.1 547.3h3.0v5.1h-3.0zM197.9 547.3h3.0v5.1h-3.0zM209.7 547.3h5.9v5.1h-5.9zM399.0 547.3h3.0v5.1h-3.0zM147.6 552.4h3.0v3.4h-3.0zM186.1 552.4h3.0v3.4h-3.0zM200.9 552.4h3.0v3.4h-3.0zM224.5 552.4h5.9v3.4h-5.9zM236.4 552.4h3.0v3.4h-3.0zM399.0 552.4h3.0v3.4h-3.0zM138.7 555.8h5.9v7.8h-5.9zM159.4 555.8h3.0v7.8h-3.0zM171.3 555.8h5.9v7.8h-5.9zM183.1 555.8h5.9v7.8h-5.9zM192.0 555.8h3.0v7.8h-3.0zM197.9 555.8h3.0v7.8h-3.0zM203.8 555.8h3.0v7.8h-3.0zM97.3 563.6h3.0v5.4h-3.0zM153.5 563.6h3.0v5.4h-3.0zM159.4 563.6h3.0v5.4h-3.0zM171.3 563.6h3.0v5.4h-3.0zM180.2 563.6h3.0v5.4h-3.0zM192.0 563.6h3.0v5.4h-3.0zM203.8 563.6h3.0v5.4h-3.0zM209.7 563.6h3.0v5.4h-3.0zM138.7 569.0h5.9v8.9h-5.9zM162.4 569.0h3.0v8.9h-3.0zM171.3 569.0h3.0v8.9h-3.0zM177.2 569.0h5.9v8.9h-5.9zM186.1 569.0h3.0v8.9h-3.0zM209.7 569.0h3.0v8.9h-3.0zM224.5 569.0h3.0v8.9h-3.0zM286.6 569.0h3.0v8.9h-3.0zM399.0 569.0h3.0v8.9h-3.0zM138.7 577.9h3.0v7.2h-3.0zM147.6 577.9h3.0v7.2h-3.0zM156.5 577.9h3.0v7.2h-3.0zM162.4 577.9h3.0v7.2h-3.0zM174.2 577.9h5.9v7.2h-5.9zM183.1 577.9h3.0v7.2h-3.0zM192.0 577.9h3.0v7.2h-3.0zM197.9 577.9h5.9v7.2h-5.9zM248.2 577.9h3.0v7.2h-3.0zM61.8 585.1h3.0v5.0h-3.0zM97.3 585.1h3.0v5.0h-3.0zM147.6 585.1h3.0v5.0h-3.0zM209.7 585.1h3.0v5.0h-3.0zM221.6 585.1h3.0v5.0h-3.0zM236.4 585.1h11.8v5.0h-11.8zM274.8 585.1h5.9v5.0h-5.9zM348.8 585.1h3.0v5.0h-3.0zM357.6 585.1h8.9v5.0h-8.9zM399.0 585.1h3.0v5.0h-3.0zM138.7 590.1h3.0v4.9h-3.0zM159.4 590.1h5.9v4.9h-5.9zM174.2 590.1h3.0v4.9h-3.0zM186.1 590.1h3.0v4.9h-3.0zM192.0 590.1h3.0v4.9h-3.0zM197.9 590.1h3.0v4.9h-3.0zM203.8 590.1h3.0v4.9h-3.0zM106.2 598.0h3.0v6.9h-3.0zM115.1 598.0h5.9v6.9h-5.9zM124.0 598.0h3.0v6.9h-3.0zM138.7 598.0h5.9v6.9h-5.9zM150.6 598.0h3.0v6.9h-3.0zM156.5 598.0h3.0v6.9h-3.0zM165.4 598.0h3.0v6.9h-3.0zM174.2 598.0h3.0v6.9h-3.0zM180.2 598.0h3.0v6.9h-3.0zM189.0 598.0h3.0v6.9h-3.0zM197.9 598.0h3.0v6.9h-3.0zM212.7 598.0h3.0v6.9h-3.0zM224.5 598.0h3.0v6.9h-3.0zM313.3 598.0h3.0v6.9h-3.0zM319.2 598.0h3.0v6.9h-3.0zM348.8 598.0h3.0v6.9h-3.0zM354.7 598.0h3.0v6.9h-3.0zM369.5 598.0h3.0v6.9h-3.0zM61.8 604.9h3.0v8.8h-3.0zM73.7 604.9h3.0v8.8h-3.0zM85.5 604.9h3.0v8.8h-3.0zM91.4 604.9h3.0v8.8h-3.0zM115.1 604.9h3.0v8.8h-3.0zM124.0 604.9h3.0v8.8h-3.0zM144.7 604.9h3.0v8.8h-3.0zM174.2 604.9h5.9v8.8h-5.9zM194.9 604.9h5.9v8.8h-5.9zM206.8 604.9h8.9v8.8h-8.9zM260.0 604.9h3.0v8.8h-3.0zM265.9 604.9h3.0v8.8h-3.0zM274.8 604.9h3.0v8.8h-3.0zM316.2 604.9h3.0v8.8h-3.0zM351.7 604.9h3.0v8.8h-3.0zM61.8 613.7h3.0v7.0h-3.0zM70.7 613.7h8.9v7.0h-8.9zM82.5 613.7h5.9v7.0h-5.9zM91.4 613.7h5.9v7.0h-5.9zM138.7 613.7h3.0v7.0h-3.0zM144.7 613.7h3.0v7.0h-3.0zM156.5 613.7h5.9v7.0h-5.9zM174.2 613.7h3.0v7.0h-3.0zM180.2 613.7h3.0v7.0h-3.0zM186.1 613.7h3.0v7.0h-3.0zM192.0 613.7h3.0v7.0h-3.0zM197.9 613.7h3.0v7.0h-3.0zM209.7 613.7h3.0v7.0h-3.0zM265.9 613.7h3.0v7.0h-3.0zM319.2 613.7h3.0v7.0h-3.0zM354.7 613.7h3.0v7.0h-3.0zM61.8 620.7h3.0v3.8h-3.0zM70.7 620.7h8.9v3.8h-8.9zM82.5 620.7h5.9v3.8h-5.9zM94.4 620.7h3.0v3.8h-3.0zM100.3 620.7h3.0v3.8h-3.0zM150.6 620.7h3.0v3.8h-3.0zM159.4 620.7h3.0v3.8h-3.0zM192.0 620.7h3.0v3.8h-3.0zM197.9 620.7h3.0v3.8h-3.0zM212.7 620.7h3.0v3.8h-3.0zM313.3 620.7h3.0v3.8h-3.0zM354.7 620.7h3.0v3.8h-3.0zM360.6 620.7h3.0v3.8h-3.0zM58.9 624.4h5.9v4.7h-5.9zM70.7 624.4h3.0v4.7h-3.0zM88.5 624.4h3.0v4.7h-3.0zM100.3 624.4h3.0v4.7h-3.0zM118.0 624.4h3.0v4.7h-3.0zM159.4 624.4h3.0v4.7h-3.0zM192.0 624.4h3.0v4.7h-3.0zM209.7 624.4h5.9v4.7h-5.9zM265.9 624.4h3.0v4.7h-3.0zM310.3 624.4h3.0v4.7h-3.0zM319.2 624.4h3.0v4.7h-3.0zM351.7 624.4h5.9v4.7h-5.9zM360.6 624.4h3.0v4.7h-3.0zM58.9 629.2h3.0v4.3h-3.0zM70.7 629.2h5.9v4.3h-5.9zM79.6 629.2h3.0v4.3h-3.0zM88.5 629.2h3.0v4.3h-3.0zM94.4 629.2h3.0v4.3h-3.0zM115.1 629.2h8.9v4.3h-8.9zM126.9 629.2h3.0v4.3h-3.0zM144.7 629.2h3.0v4.3h-3.0zM159.4 629.2h3.0v4.3h-3.0zM174.2 629.2h3.0v4.3h-3.0zM197.9 629.2h3.0v4.3h-3.0zM260.0 629.2h3.0v4.3h-3.0zM360.6 629.2h3.0v4.3h-3.0zM61.8 633.5h3.0v5.9h-3.0zM67.7 633.5h3.0v5.9h-3.0zM85.5 633.5h3.0v5.9h-3.0zM91.4 633.5h3.0v5.9h-3.0zM100.3 633.5h3.0v5.9h-3.0zM106.2 633.5h3.0v5.9h-3.0zM115.1 633.5h5.9v5.9h-5.9zM138.7 633.5h3.0v5.9h-3.0zM162.4 633.5h3.0v5.9h-3.0zM174.2 633.5h8.9v5.9h-8.9zM197.9 633.5h3.0v5.9h-3.0zM206.8 633.5h5.9v5.9h-5.9zM260.0 633.5h3.0v5.9h-3.0zM316.2 633.5h5.9v5.9h-5.9zM348.8 633.5h3.0v5.9h-3.0zM76.6 639.3h3.0v7.7h-3.0zM85.5 639.3h3.0v7.7h-3.0zM94.4 639.3h3.0v7.7h-3.0zM100.3 639.3h3.0v7.7h-3.0zM106.2 639.3h3.0v7.7h-3.0zM115.1 639.3h5.9v7.7h-5.9zM124.0 639.3h5.9v7.7h-5.9zM135.8 639.3h3.0v7.7h-3.0zM144.7 639.3h5.9v7.7h-5.9zM162.4 639.3h3.0v7.7h-3.0zM194.9 639.3h5.9v7.7h-5.9zM212.7 639.3h3.0v7.7h-3.0zM298.5 639.3h5.9v7.7h-5.9zM354.7 639.3h3.0v7.7h-3.0zM360.6 639.3h3.0v7.7h-3.0zM416.8 639.3h3.0v7.7h-3.0zM58.9 647.0h3.0v9.0h-3.0zM88.5 647.0h3.0v9.0h-3.0zM103.2 647.0h3.0v9.0h-3.0zM112.1 647.0h3.0v9.0h-3.0zM121.0 647.0h3.0v9.0h-3.0zM126.9 647.0h5.9v9.0h-5.9zM70.7 656.0h5.9v7.0h-5.9zM82.5 656.0h3.0v7.0h-3.0zM100.3 656.0h3.0v7.0h-3.0zM124.0 656.0h3.0v7.0h-3.0zM192.0 656.0h3.0v7.0h-3.0zM295.5 656.0h3.0v7.0h-3.0zM301.4 656.0h5.9v7.0h-5.9zM348.8 656.0h3.0v7.0h-3.0zM354.7 656.0h3.0v7.0h-3.0zM360.6 656.0h3.0v7.0h-3.0zM55.9 663.0h3.0v6.6h-3.0zM79.6 663.0h3.0v6.6h-3.0zM97.3 663.0h3.0v6.6h-3.0zM112.1 663.0h3.0v6.6h-3.0zM121.0 663.0h3.0v6.6h-3.0zM126.9 663.0h8.9v6.6h-8.9zM292.6 663.0h3.0v6.6h-3.0zM348.8 663.0h3.0v6.6h-3.0zM55.9 669.6h5.9v3.5h-5.9zM79.6 669.6h5.9v3.5h-5.9zM88.5 669.6h3.0v3.5h-3.0zM97.3 669.6h3.0v3.5h-3.0zM103.2 669.6h3.0v3.5h-3.0zM129.9 669.6h5.9v3.5h-5.9zM292.6 669.6h5.9v3.5h-5.9zM58.9 673.1h3.0v5.1h-3.0zM64.8 673.1h3.0v5.1h-3.0zM73.7 673.1h8.9v5.1h-8.9zM85.5 673.1h3.0v5.1h-3.0zM129.9 673.1h3.0v5.1h-3.0zM289.6 673.1h3.0v5.1h-3.0zM301.4 673.1h3.0v5.1h-3.0zM345.8 673.1h3.0v5.1h-3.0zM73.7 678.2h5.9v8.5h-5.9zM85.5 678.2h3.0v8.5h-3.0zM91.4 678.2h5.9v8.5h-5.9zM106.2 678.2h3.0v8.5h-3.0zM115.1 678.2h5.9v8.5h-5.9zM124.0 678.2h3.0v8.5h-3.0zM159.4 678.2h3.0v8.5h-3.0zM295.5 678.2h5.9v8.5h-5.9zM304.4 678.2h3.0v8.5h-3.0zM55.9 686.8h5.9v4.9h-5.9zM121.0 686.8h3.0v4.9h-3.0zM129.9 686.8h3.0v4.9h-3.0zM194.9 686.8h3.0v4.9h-3.0zM295.5 686.8h3.0v4.9h-3.0zM354.7 686.8h3.0v4.9h-3.0zM360.6 686.8h3.0v4.9h-3.0zM55.9 691.6h5.9v3.2h-5.9zM97.3 691.6h3.0v3.2h-3.0zM103.2 691.6h3.0v3.2h-3.0zM115.1 691.6h3.0v3.2h-3.0zM121.0 691.6h3.0v3.2h-3.0zM126.9 691.6h8.9v3.2h-8.9zM289.6 691.6h3.0v3.2h-3.0zM61.8 694.9h3.0v5.0h-3.0zM67.7 694.9h3.0v5.0h-3.0zM85.5 694.9h3.0v5.0h-3.0zM94.4 694.9h3.0v5.0h-3.0zM106.2 694.9h3.0v5.0h-3.0zM115.1 694.9h5.9v5.0h-5.9zM124.0 694.9h3.0v5.0h-3.0zM159.4 694.9h3.0v5.0h-3.0zM194.9 694.9h3.0v5.0h-3.0zM295.5 694.9h8.9v5.0h-8.9zM348.8 694.9h3.0v5.0h-3.0zM354.7 694.9h3.0v5.0h-3.0zM360.6 694.9h3.0v5.0h-3.0zM61.8 699.9h3.0v5.7h-3.0zM70.7 699.9h3.0v5.7h-3.0zM76.6 699.9h3.0v5.7h-3.0zM82.5 699.9h3.0v5.7h-3.0zM150.6 699.9h3.0v5.7h-3.0zM289.6 699.9h3.0v5.7h-3.0zM304.4 699.9h3.0v5.7h-3.0zM345.8 699.9h3.0v5.7h-3.0zM354.7 699.9h3.0v5.7h-3.0zM360.6 699.9h3.0v5.7h-3.0zM61.8 705.6h5.9v8.6h-5.9zM70.7 705.6h5.9v8.6h-5.9zM100.3 705.6h3.0v8.6h-3.0zM106.2 705.6h3.0v8.6h-3.0zM121.0 705.6h3.0v8.6h-3.0zM295.5 705.6h3.0v8.6h-3.0zM301.4 705.6h5.9v8.6h-5.9zM345.8 705.6h3.0v8.6h-3.0zM61.8 714.2h5.9v7.8h-5.9zM73.7 714.2h3.0v7.8h-3.0zM88.5 714.2h5.9v7.8h-5.9zM118.0 714.2h3.0v7.8h-3.0zM126.9 714.2h3.0v7.8h-3.0zM159.4 714.2h3.0v7.8h-3.0zM192.0 714.2h3.0v7.8h-3.0zM289.6 714.2h3.0v7.8h-3.0zM295.5 714.2h3.0v7.8h-3.0zM301.4 714.2h3.0v7.8h-3.0zM345.8 714.2h3.0v7.8h-3.0zM360.6 714.2h3.0v7.8h-3.0zM416.8 714.2h3.0v7.8h-3.0zM64.8 722.0h11.8v7.1h-11.8zM79.6 722.0h5.9v7.1h-5.9zM88.5 722.0h3.0v7.1h-3.0zM94.4 722.0h3.0v7.1h-3.0zM100.3 722.0h3.0v7.1h-3.0zM106.2 722.0h3.0v7.1h-3.0zM115.1 722.0h3.0v7.1h-3.0zM124.0 722.0h5.9v7.1h-5.9zM144.7 722.0h3.0v7.1h-3.0zM345.8 722.0h3.0v7.1h-3.0zM73.7 729.1h5.9v8.6h-5.9zM82.5 729.1h3.0v8.6h-3.0zM88.5 729.1h3.0v8.6h-3.0zM100.3 729.1h3.0v8.6h-3.0zM106.2 729.1h3.0v8.6h-3.0zM115.1 729.1h5.9v8.6h-5.9zM126.9 729.1h5.9v8.6h-5.9zM345.8 729.1h3.0v8.6h-3.0zM360.6 729.1h3.0v8.6h-3.0zM61.8 737.7h3.0v8.0h-3.0zM85.5 737.7h3.0v8.0h-3.0zM94.4 737.7h3.0v8.0h-3.0zM109.2 737.7h3.0v8.0h-3.0zM124.0 737.7h3.0v8.0h-3.0zM150.6 737.7h3.0v8.0h-3.0zM194.9 737.7h3.0v8.0h-3.0zM212.7 737.7h3.0v8.0h-3.0zM236.4 737.7h3.0v8.0h-3.0zM348.8 737.7h5.9v8.0h-5.9zM357.6 737.7h3.0v8.0h-3.0zM55.9 745.8h3.0v3.4h-3.0zM61.8 745.8h3.0v3.4h-3.0zM70.7 745.8h5.9v3.4h-5.9zM82.5 745.8h3.0v3.4h-3.0zM100.3 745.8h3.0v3.4h-3.0zM106.2 745.8h3.0v3.4h-3.0zM118.0 745.8h3.0v3.4h-3.0zM354.7 745.8h3.0v3.4h-3.0zM360.6 745.8h3.0v3.4h-3.0zM61.8 749.2h5.9v7.1h-5.9zM76.6 749.2h5.9v7.1h-5.9zM85.5 749.2h5.9v7.1h-5.9zM106.2 749.2h3.0v7.1h-3.0zM118.0 749.2h3.0v7.1h-3.0zM192.0 749.2h5.9v7.1h-5.9zM345.8 749.2h3.0v7.1h-3.0zM354.7 749.2h3.0v7.1h-3.0zM360.6 749.2h3.0v7.1h-3.0z" fill="rgb(250, 233, 188)"/>
<path d="M50.0 340.6h5.9v5.7h-5.9zM224.5 340.6h3.0v5.7h-3.0zM245.2 340.6h3.0v5.7h-3.0zM286.6 340.6h3.0v5.7h-3.0zM292.6 340.6h3.0v5.7h-3.0zM334.0 340.6h3.0v5.7h-3.0zM369.5 340.6h3.0v5.7h-3.0zM399.0 340.6h3.0v5.7h-3.0zM419.8 340.6h3.0v5.7h-3.0zM431.6 340.6h3.0v5.7h-3.0zM50.0 346.3h5.9v5.3h-5.9zM224.5 346.3h3.0v5.3h-3.0zM230.4 346.3h3.0v5.3h-3.0zM292.6 346.3h3.0v5.3h-3.0zM301.4 346.3h3.0v5.3h-3.0zM310.3 346.3h3.0v5.3h-3.0zM334.0 346.3h3.0v5.3h-3.0zM348.8 346.3h3.0v5.3h-3.0zM369.5 346.3h3.0v5.3h-3.0zM375.4 346.3h3.0v5.3h-3.0zM384.3 346.3h8.9v5.3h-8.9zM399.0 346.3h5.9v5.3h-5.9zM410.9 346.3h14.8v5.3h-14.8zM428.6 346.3h3.0v5.3h-3.0zM53.0 351.6h3.0v7.2h-3.0zM224.5 351.6h3.0v7.2h-3.0zM292.6 351.6h3.0v7.2h-3.0zM310.3 351.6h3.0v7.2h-3.0zM348.8 351.6h3.0v7.2h-3.0zM369.5 351.6h5.9v7.2h-5.9zM390.2 351.6h3.0v7.2h-3.0zM399.0 351.6h3.0v7.2h-3.0zM413.8 351.6h3.0v7.2h-3.0zM422.7 351.6h5.9v7.2h-5.9zM50.0 358.8h5.9v3.5h-5.9zM224.5 358.8h3.0v3.5h-3.0zM325.1 358.8h3.0v3.5h-3.0zM342.8 358.8h3.0v3.5h-3.0zM348.8 358.8h3.0v3.5h-3.0zM366.5 358.8h8.9v3.5h-8.9zM387.2 358.8h3.0v3.5h-3.0zM399.0 358.8h3.0v3.5h-3.0zM416.8 358.8h3.0v3.5h-3.0zM422.7 358.8h5.9v3.5h-5.9zM431.6 358.8h5.9v3.5h-5.9zM50.0 362.4h3.0v4.0h-3.0zM363.5 362.4h3.0v4.0h-3.0zM369.5 362.4h8.9v4.0h-8.9zM390.2 362.4h3.0v4.0h-3.0zM416.8 362.4h3.0v4.0h-3.0zM428.6 362.4h3.0v4.0h-3.0zM215.6 366.4h3.0v6.1h-3.0zM221.6 366.4h5.9v6.1h-5.9zM245.2 366.4h3.0v6.1h-3.0zM310.3 366.4h3.0v6.1h-3.0zM339.9 366.4h5.9v6.1h-5.9zM366.5 366.4h3.0v6.1h-3.0zM381.3 366.4h5.9v6.1h-5.9zM402.0 366.4h3.0v6.1h-3.0zM422.7 366.4h5.9v6.1h-5.9zM431.6 366.4h3.0v6.1h-3.0zM286.6 372.5h3.0v5.4h-3.0zM292.6 372.5h3.0v5.4h-3.0zM334.0 372.5h3.0v5.4h-3.0zM348.8 372.5h3.0v5.4h-3.0zM366.5 372.5h5.9v5.4h-5.9zM384.3 372.5h3.0v5.4h-3.0zM399.0 372.5h3.0v5.4h-3.0zM413.8 372.5h3.0v5.4h-3.0zM431.6 372.5h3.0v5.4h-3.0zM53.0 377.9h3.0v7.0h-3.0zM334.0 377.9h3.0v7.0h-3.0zM348.8 377.9h3.0v7.0h-3.0zM363.5 377.9h3.0v7.0h-3.0zM384.3 377.9h3.0v7.0h-3.0zM390.2 377.9h3.0v7.0h-3.0zM402.0 377.9h3.0v7.0h-3.0zM428.6 377.9h5.9v7.0h-5.9zM292.6 384.9h5.9v5.0h-5.9zM348.8 384.9h3.0v5.0h-3.0zM363.5 384.9h3.0v5.0h-3.0zM369.5 384.9h8.9v5.0h-8.9zM384.3 384.9h3.0v5.0h-3.0zM396.1 384.9h3.0v5.0h-3.0zM410.9 384.9h8.9v5.0h-8.9zM428.6 384.9h5.9v5.0h-5.9zM292.6 389.9h3.0v6.1h-3.0zM372.4 389.9h3.0v6.1h-3.0zM396.1 389.9h3.0v6.1h-3.0zM416.8 389.9h8.9v6.1h-8.9zM292.6 399.0h3.0v8.2h-3.0zM301.4 399.0h3.0v8.2h-3.0zM50.0 407.2h3.0v7.3h-3.0zM292.6 407.2h5.9v7.3h-5.9zM301.4 407.2h3.0v7.3h-3.0zM322.1 407.2h3.0v7.3h-3.0zM215.6 414.5h3.0v4.3h-3.0zM298.5 414.5h3.0v4.3h-3.0zM322.1 414.5h3.0v4.3h-3.0zM334.0 414.5h3.0v4.3h-3.0zM428.6 414.5h3.0v4.3h-3.0zM53.0 418.9h3.0v7.1h-3.0zM215.6 418.9h3.0v7.1h-3.0zM298.5 418.9h3.0v7.1h-3.0zM304.4 418.9h3.0v7.1h-3.0zM322.1 418.9h3.0v7.1h-3.0zM53.0 426.0h3.0v8.6h-3.0zM292.6 426.0h3.0v8.6h-3.0zM298.5 426.0h3.0v8.6h-3.0zM304.4 426.0h5.9v8.6h-5.9zM301.4 434.6h3.0v3.4h-3.0zM53.0 438.0h3.0v4.8h-3.0zM322.1 438.0h3.0v4.8h-3.0zM428.6 438.0h3.0v4.8h-3.0zM304.4 442.8h5.9v3.8h-5.9zM53.0 446.5h3.0v8.2h-3.0zM325.1 446.5h3.0v8.2h-3.0zM339.9 446.5h3.0v8.2h-3.0zM360.6 446.5h3.0v8.2h-3.0zM419.8 446.5h3.0v8.2h-3.0zM334.0 454.8h5.9v3.8h-5.9zM345.8 454.8h3.0v3.8h-3.0zM354.7 454.8h3.0v3.8h-3.0zM405.0 454.8h5.9v3.8h-5.9zM416.8 454.8h3.0v3.8h-3.0zM218.6 458.5h3.0v3.6h-3.0zM263.0 458.5h3.0v3.6h-3.0zM325.1 458.5h3.0v3.6h-3.0zM334.0 458.5h5.9v3.6h-5.9zM342.8 458.5h3.0v3.6h-3.0zM360.6 458.5h3.0v3.6h-3.0zM416.8 458.5h5.9v3.6h-5.9zM428.6 458.5h3.0v3.6h-3.0zM53.0 462.1h3.0v3.6h-3.0zM263.0 462.1h3.0v3.6h-3.0zM322.1 462.1h3.0v3.6h-3.0zM336.9 462.1h5.9v3.6h-5.9zM416.8 462.1h3.0v3.6h-3.0zM325.1 465.7h3.0v8.0h-3.0zM336.9 465.7h3.0v8.0h-3.0zM342.8 465.7h3.0v8.0h-3.0zM351.7 465.7h3.0v8.0h-3.0zM360.6 465.7h3.0v8.0h-3.0zM372.4 465.7h11.8v8.0h-11.8zM387.2 465.7h3.0v8.0h-3.0zM396.1 465.7h3.0v8.0h-3.0zM263.0 473.7h3.0v4.2h-3.0zM322.1 473.7h3.0v4.2h-3.0zM334.0 473.7h3.0v4.2h-3.0zM342.8 473.7h3.0v4.2h-3.0zM372.4 473.7h3.0v4.2h-3.0zM378.3 473.7h3.0v4.2h-3.0zM390.2 473.7h3.0v4.2h-3.0zM396.1 473.7h3.0v4.2h-3.0zM410.9 473.7h5.9v4.2h-5.9zM431.6 473.7h3.0v4.2h-3.0zM218.6 477.9h3.0v8.8h-3.0zM263.0 477.9h3.0v8.8h-3.0zM336.9 477.9h5.9v8.8h-5.9zM360.6 477.9h5.9v8.8h-5.9zM369.5 477.9h8.9v8.8h-8.9zM384.3 477.9h3.0v8.8h-3.0zM393.1 477.9h5.9v8.8h-5.9zM422.7 477.9h3.0v8.8h-3.0zM431.6 477.9h3.0v8.8h-3.0zM304.4 486.7h5.9v3.2h-5.9zM322.1 486.7h3.0v3.2h-3.0zM381.3 486.7h3.0v3.2h-3.0zM413.8 486.7h3.0v3.2h-3.0zM422.7 486.7h3.0v3.2h-3.0zM53.0 489.9h3.0v5.7h-3.0zM325.1 489.9h3.0v5.7h-3.0zM334.0 489.9h3.0v5.7h-3.0zM360.6 489.9h3.0v5.7h-3.0zM372.4 489.9h5.9v5.7h-5.9zM381.3 489.9h3.0v5.7h-3.0zM413.8 489.9h3.0v5.7h-3.0zM422.7 489.9h3.0v5.7h-3.0zM431.6 489.9h3.0v5.7h-3.0zM53.0 495.7h3.0v3.8h-3.0zM322.1 495.7h3.0v3.8h-3.0zM351.7 495.7h3.0v3.8h-3.0zM369.5 495.7h5.9v3.8h-5.9zM381.3 495.7h3.0v3.8h-3.0zM396.1 495.7h3.0v3.8h-3.0zM405.0 495.7h5.9v3.8h-5.9zM425.7 495.7h3.0v3.8h-3.0zM431.6 495.7h3.0v3.8h-3.0zM215.6 499.5h3.0v4.1h-3.0zM292.6 499.5h5.9v4.1h-5.9zM307.3 499.5h3.0v4.1h-3.0zM407.9 499.5h3.0v4.1h-3.0zM298.5 503.6h5.9v4.1h-5.9zM322.1 503.6h3.0v4.1h-3.0zM381.3 503.6h3.0v4.1h-3.0zM405.0 503.6h3.0v4.1h-3.0zM416.8 503.6h3.0v4.1h-3.0zM431.6 503.6h3.0v4.1h-3.0zM215.6 507.7h3.0v6.4h-3.0zM292.6 507.7h3.0v6.4h-3.0zM307.3 507.7h3.0v6.4h-3.0zM419.8 507.7h3.0v6.4h-3.0zM425.7 507.7h3.0v6.4h-3.0zM50.0 514.0h3.0v4.3h-3.0zM215.6 514.0h3.0v4.3h-3.0zM304.4 514.0h3.0v4.3h-3.0zM416.8 514.0h3.0v4.3h-3.0zM428.6 514.0h3.0v4.3h-3.0zM292.6 518.3h8.9v5.0h-8.9zM304.4 518.3h5.9v5.0h-5.9zM322.1 518.3h3.0v5.0h-3.0zM405.0 518.3h5.9v5.0h-5.9zM413.8 518.3h5.9v5.0h-5.9zM425.7 518.3h11.8v5.0h-11.8zM304.4 523.4h3.0v7.6h-3.0zM339.9 523.4h3.0v7.6h-3.0zM372.4 523.4h11.8v7.6h-11.8zM387.2 523.4h3.0v7.6h-3.0zM410.9 523.4h5.9v7.6h-5.9zM431.6 523.4h3.0v7.6h-3.0zM138.7 534.0h5.9v4.7h-5.9zM159.4 534.0h5.9v4.7h-5.9zM171.3 534.0h5.9v4.7h-5.9zM180.2 534.0h3.0v4.7h-3.0zM194.9 534.0h3.0v4.7h-3.0zM203.8 534.0h3.0v4.7h-3.0zM153.5 538.7h3.0v8.6h-3.0zM168.3 538.7h3.0v8.6h-3.0zM174.2 538.7h5.9v8.6h-5.9zM186.1 538.7h5.9v8.6h-5.9zM194.9 538.7h5.9v8.6h-5.9zM206.8 538.7h3.0v8.6h-3.0zM138.7 547.3h3.0v5.1h-3.0zM171.3 547.3h14.8v5.1h-14.8zM194.9 547.3h3.0v5.1h-3.0zM206.8 547.3h3.0v5.1h-3.0zM138.7 552.4h3.0v3.4h-3.0zM171.3 552.4h3.0v3.4h-3.0zM177.2 552.4h8.9v3.4h-8.9zM209.7 552.4h3.0v3.4h-3.0zM144.7 555.8h3.0v7.8h-3.0zM150.6 555.8h3.0v7.8h-3.0zM194.9 555.8h3.0v7.8h-3.0zM206.8 555.8h3.0v7.8h-3.0zM141.7 563.6h3.0v5.4h-3.0zM150.6 563.6h3.0v5.4h-3.0zM174.2 563.6h3.0v5.4h-3.0zM189.0 563.6h3.0v5.4h-3.0zM194.9 563.6h8.9v5.4h-8.9zM206.8 563.6h3.0v5.4h-3.0zM135.8 569.0h3.0v8.9h-3.0zM150.6 569.0h3.0v8.9h-3.0zM174.2 569.0h3.0v8.9h-3.0zM189.0 569.0h14.8v8.9h-14.8zM206.8 569.0h3.0v8.9h-3.0zM141.7 577.9h5.9v7.2h-5.9zM153.5 577.9h3.0v7.2h-3.0zM186.1 577.9h3.0v7.2h-3.0zM194.9 577.9h3.0v7.2h-3.0zM203.8 577.9h3.0v7.2h-3.0zM156.5 585.1h3.0v5.0h-3.0zM183.1 585.1h5.9v5.0h-5.9zM197.9 585.1h3.0v5.0h-3.0zM212.7 585.1h3.0v5.0h-3.0zM224.5 585.1h3.0v5.0h-3.0zM286.6 585.1h3.0v5.0h-3.0zM141.7 590.1h5.9v4.9h-5.9zM150.6 590.1h5.9v4.9h-5.9zM168.3 590.1h5.9v4.9h-5.9zM180.2 590.1h3.0v4.9h-3.0zM189.0 590.1h3.0v4.9h-3.0zM194.9 590.1h3.0v4.9h-3.0zM206.8 590.1h3.0v4.9h-3.0zM58.9 598.0h3.0v6.9h-3.0zM70.7 598.0h5.9v6.9h-5.9zM79.6 598.0h5.9v6.9h-5.9zM100.3 598.0h3.0v6.9h-3.0zM121.0 598.0h3.0v6.9h-3.0zM126.9 598.0h3.0v6.9h-3.0zM144.7 598.0h3.0v6.9h-3.0zM192.0 598.0h5.9v6.9h-5.9zM209.7 598.0h3.0v6.9h-3.0zM274.8 598.0h3.0v6.9h-3.0zM310.3 598.0h3.0v6.9h-3.0zM316.2 598.0h3.0v6.9h-3.0zM360.6 598.0h3.0v6.9h-3.0zM64.8 604.9h3.0v8.8h-3.0zM70.7 604.9h3.0v8.8h-3.0zM76.6 604.9h8.9v8.8h-8.9zM88.5 604.9h3.0v8.8h-3.0zM121.0 604.9h3.0v8.8h-3.0zM126.9 604.9h3.0v8.8h-3.0zM150.6 604.9h3.0v8.8h-3.0zM159.4 604.9h3.0v8.8h-3.0zM192.0 604.9h3.0v8.8h-3.0zM310.3 604.9h3.0v8.8h-3.0zM354.7 604.9h3.0v8.8h-3.0zM360.6 604.9h3.0v8.8h-3.0zM58.9 613.7h3.0v7.0h-3.0zM64.8 613.7h3.0v7.0h-3.0zM79.6 613.7h3.0v7.0h-3.0zM88.5 613.7h3.0v7.0h-3.0zM103.2 613.7h5.9v7.0h-5.9zM112.1 613.7h5.9v7.0h-5.9zM121.0 613.7h3.0v7.0h-3.0zM126.9 613.7h5.9v7.0h-5.9zM150.6 613.7h3.0v7.0h-3.0zM194.9 613.7h3.0v7.0h-3.0zM206.8 613.7h3.0v7.0h-3.0zM212.7 613.7h3.0v7.0h-3.0zM310.3 613.7h5.9v7.0h-5.9zM55.9 620.7h3.0v3.8h-3.0zM79.6 620.7h3.0v3.8h-3.0zM106.2 620.7h3.0v3.8h-3.0zM112.1 620.7h3.0v3.8h-3.0zM121.0 620.7h3.0v3.8h-3.0zM126.9 620.7h5.9v3.8h-5.9zM194.9 620.7h3.0v3.8h-3.0zM55.9 624.4h3.0v4.7h-3.0zM73.7 624.4h11.8v4.7h-11.8zM97.3 624.4h3.0v4.7h-3.0zM106.2 624.4h3.0v4.7h-3.0zM121.0 624.4h3.0v4.7h-3.0zM144.7 624.4h3.0v4.7h-3.0zM150.6 624.4h3.0v4.7h-3.0zM194.9 624.4h3.0v4.7h-3.0zM313.3 624.4h3.0v4.7h-3.0zM76.6 629.2h3.0v4.3h-3.0zM82.5 629.2h3.0v4.3h-3.0zM97.3 629.2h3.0v4.3h-3.0zM103.2 629.2h3.0v4.3h-3.0zM112.1 629.2h3.0v4.3h-3.0zM129.9 629.2h3.0v4.3h-3.0zM150.6 629.2h3.0v4.3h-3.0zM194.9 629.2h3.0v4.3h-3.0zM313.3 629.2h3.0v4.3h-3.0zM70.7 633.5h5.9v5.9h-5.9zM82.5 633.5h3.0v5.9h-3.0zM112.1 633.5h3.0v5.9h-3.0zM126.9 633.5h3.0v5.9h-3.0zM144.7 633.5h3.0v5.9h-3.0zM150.6 633.5h3.0v5.9h-3.0zM194.9 633.5h3.0v5.9h-3.0zM212.7 633.5h3.0v5.9h-3.0zM265.9 633.5h3.0v5.9h-3.0zM274.8 633.5h3.0v5.9h-3.0zM310.3 633.5h5.9v5.9h-5.9zM360.6 633.5h3.0v5.9h-3.0zM70.7 639.3h5.9v7.7h-5.9zM79.6 639.3h5.9v7.7h-5.9zM97.3 639.3h3.0v7.7h-3.0zM129.9 639.3h3.0v7.7h-3.0zM150.6 639.3h3.0v7.7h-3.0zM159.4 639.3h3.0v7.7h-3.0zM289.6 639.3h8.9v7.7h-8.9zM304.4 639.3h3.0v7.7h-3.0zM97.3 647.0h3.0v9.0h-3.0zM289.6 647.0h5.9v9.0h-5.9zM55.9 656.0h5.9v7.0h-5.9zM76.6 656.0h5.9v7.0h-5.9zM85.5 656.0h5.9v7.0h-5.9zM121.0 656.0h3.0v7.0h-3.0zM126.9 656.0h3.0v7.0h-3.0zM103.2 663.0h3.0v6.6h-3.0zM121.0 669.6h3.0v3.5h-3.0zM289.6 669.6h3.0v3.5h-3.0zM82.5 673.1h3.0v5.1h-3.0zM88.5 673.1h3.0v5.1h-3.0zM103.2 673.1h3.0v5.1h-3.0zM112.1 673.1h3.0v5.1h-3.0zM121.0 673.1h3.0v5.1h-3.0zM126.9 673.1h3.0v5.1h-3.0zM292.6 673.1h3.0v5.1h-3.0zM360.6 673.1h3.0v5.1h-3.0zM70.7 678.2h3.0v8.5h-3.0zM79.6 678.2h5.9v8.5h-5.9zM88.5 678.2h3.0v8.5h-3.0zM97.3 678.2h3.0v8.5h-3.0zM121.0 678.2h3.0v8.5h-3.0zM126.9 678.2h5.9v8.5h-5.9zM289.6 678.2h3.0v8.5h-3.0zM301.4 678.2h3.0v8.5h-3.0zM354.7 678.2h3.0v8.5h-3.0zM360.6 678.2h3.0v8.5h-3.0zM88.5 686.8h3.0v4.9h-3.0zM97.3 686.8h3.0v4.9h-3.0zM103.2 686.8h3.0v4.9h-3.0zM112.1 686.8h3.0v4.9h-3.0zM126.9 686.8h3.0v4.9h-3.0zM132.8 686.8h3.0v4.9h-3.0zM292.6 686.8h3.0v4.9h-3.0zM70.7 694.9h8.9v5.0h-8.9zM88.5 694.9h3.0v5.0h-3.0zM112.1 694.9h3.0v5.0h-3.0zM304.4 694.9h3.0v5.0h-3.0zM58.9 699.9h3.0v5.7h-3.0zM85.5 699.9h5.9v5.7h-5.9zM97.3 699.9h8.9v5.7h-8.9zM121.0 699.9h3.0v5.7h-3.0zM126.9 699.9h5.9v5.7h-5.9zM301.4 699.9h3.0v5.7h-3.0zM76.6 705.6h3.0v8.6h-3.0zM82.5 705.6h5.9v8.6h-5.9zM126.9 705.6h5.9v8.6h-5.9zM289.6 705.6h5.9v8.6h-5.9zM360.6 705.6h3.0v8.6h-3.0zM55.9 714.2h3.0v7.8h-3.0zM82.5 714.2h3.0v7.8h-3.0zM103.2 714.2h3.0v7.8h-3.0zM121.0 714.2h3.0v7.8h-3.0zM129.9 714.2h5.9v7.8h-5.9zM292.6 714.2h3.0v7.8h-3.0zM55.9 722.0h5.9v7.1h-5.9zM76.6 722.0h3.0v7.1h-3.0zM85.5 722.0h3.0v7.1h-3.0zM112.1 722.0h3.0v7.1h-3.0zM121.0 722.0h3.0v7.1h-3.0zM360.6 722.0h3.0v7.1h-3.0zM55.9 729.1h5.9v8.6h-5.9zM70.7 729.1h3.0v8.6h-3.0zM79.6 729.1h3.0v8.6h-3.0zM97.3 729.1h3.0v8.6h-3.0zM103.2 729.1h3.0v8.6h-3.0zM121.0 729.1h3.0v8.6h-3.0zM70.7 737.7h8.9v8.0h-8.9zM82.5 737.7h3.0v8.0h-3.0zM106.2 737.7h3.0v8.0h-3.0zM115.1 737.7h8.9v8.0h-8.9zM354.7 737.7h3.0v8.0h-3.0zM360.6 737.7h3.0v8.0h-3.0zM76.6 745.8h5.9v3.4h-5.9zM85.5 745.8h5.9v3.4h-5.9zM112.1 745.8h3.0v3.4h-3.0zM121.0 745.8h3.0v3.4h-3.0zM126.9 745.8h5.9v3.4h-5.9zM55.9 749.2h3.0v7.1h-3.0zM70.7 749.2h5.9v7.1h-5.9zM97.3 749.2h3.0v7.1h-3.0zM103.2 749.2h3.0v7.1h-3.0zM121.0 749.2h3.0v7.1h-3.0zM126.9 749.2h5.9v7.1h-5.9z" fill="rgb(250, 227, 183)"/>
<path d="M295.5 340.6h3.0v5.7h-3.0zM348.8 340.6h3.0v5.7h-3.0zM363.5 340.6h3.0v5.7h-3.0zM372.4 340.6h5.9v5.7h-5.9zM384.3 340.6h3.0v5.7h-3.0zM413.8 340.6h5.9v5.7h-5.9zM428.6 340.6h3.0v5.7h-3.0zM295.5 346.3h3.0v5.3h-3.0zM372.4 346.3h3.0v5.3h-3.0zM378.3 346.3h3.0v5.3h-3.0zM396.1 346.3h3.0v5.3h-3.0zM431.6 346.3h5.9v5.3h-5.9zM363.5 351.6h3.0v7.2h-3.0zM428.6 351.6h3.0v7.2h-3.0zM292.6 358.8h5.9v3.5h-5.9zM390.2 358.8h3.0v3.5h-3.0zM428.6 358.8h3.0v3.5h-3.0zM295.5 362.4h3.0v4.0h-3.0zM292.6 366.4h5.9v6.1h-5.9zM348.8 366.4h3.0v6.1h-3.0zM372.4 366.4h5.9v6.1h-5.9zM396.1 366.4h5.9v6.1h-5.9zM410.9 366.4h11.8v6.1h-11.8zM428.6 366.4h3.0v6.1h-3.0zM434.5 366.4h3.0v6.1h-3.0zM50.0 372.5h3.0v5.4h-3.0zM295.5 372.5h3.0v5.4h-3.0zM310.3 372.5h3.0v5.4h-3.0zM372.4 372.5h5.9v5.4h-5.9zM390.2 372.5h3.0v5.4h-3.0zM396.1 372.5h3.0v5.4h-3.0zM416.8 372.5h11.8v5.4h-11.8zM434.5 372.5h3.0v5.4h-3.0zM372.4 377.9h3.0v7.0h-3.0zM396.1 377.9h3.0v7.0h-3.0zM416.8 377.9h3.0v7.0h-3.0zM378.3 384.9h3.0v5.0h-3.0zM363.5 389.9h3.0v6.1h-3.0zM378.3 389.9h3.0v6.1h-3.0zM50.0 399.0h3.0v8.2h-3.0zM215.6 399.0h3.0v8.2h-3.0zM298.5 399.0h3.0v8.2h-3.0zM215.6 407.2h3.0v7.3h-3.0zM286.6 407.2h5.9v7.3h-5.9zM292.6 414.5h3.0v4.3h-3.0zM304.4 414.5h5.9v4.3h-5.9zM292.6 418.9h3.0v7.1h-3.0zM307.3 418.9h3.0v7.1h-3.0zM289.6 426.0h3.0v8.6h-3.0zM322.1 426.0h3.0v8.6h-3.0zM215.6 434.6h3.0v3.4h-3.0zM286.6 434.6h3.0v3.4h-3.0zM292.6 434.6h8.9v3.4h-8.9zM215.6 438.0h3.0v4.8h-3.0zM298.5 438.0h8.9v4.8h-8.9zM215.6 442.8h3.0v3.8h-3.0zM292.6 442.8h5.9v3.8h-5.9zM322.1 442.8h3.0v3.8h-3.0zM304.4 446.5h3.0v8.2h-3.0zM322.1 446.5h3.0v8.2h-3.0zM53.0 458.5h3.0v3.6h-3.0zM339.9 458.5h3.0v3.6h-3.0zM354.7 458.5h3.0v3.6h-3.0zM53.0 465.7h3.0v8.0h-3.0zM334.0 465.7h3.0v8.0h-3.0zM393.1 465.7h3.0v8.0h-3.0zM405.0 465.7h3.0v8.0h-3.0zM422.7 465.7h3.0v8.0h-3.0zM292.6 473.7h3.0v4.2h-3.0zM405.0 473.7h5.9v4.2h-5.9zM422.7 473.7h3.0v4.2h-3.0zM434.5 473.7h3.0v4.2h-3.0zM53.0 477.9h3.0v8.8h-3.0zM334.0 477.9h3.0v8.8h-3.0zM378.3 477.9h3.0v8.8h-3.0zM410.9 477.9h5.9v8.8h-5.9zM215.6 486.7h3.0v3.2h-3.0zM298.5 486.7h3.0v3.2h-3.0zM405.0 486.7h5.9v3.2h-5.9zM416.8 486.7h5.9v3.2h-5.9zM425.7 486.7h3.0v3.2h-3.0zM431.6 486.7h5.9v3.2h-5.9zM405.0 489.9h5.9v5.7h-5.9zM425.7 489.9h5.9v5.7h-5.9zM434.5 489.9h3.0v5.7h-3.0zM215.6 495.7h3.0v3.8h-3.0zM292.6 495.7h3.0v3.8h-3.0zM298.5 495.7h11.8v3.8h-11.8zM419.8 495.7h3.0v3.8h-3.0zM428.6 495.7h3.0v3.8h-3.0zM434.5 495.7h3.0v3.8h-3.0zM286.6 499.5h5.9v4.1h-5.9zM416.8 499.5h3.0v4.1h-3.0zM428.6 499.5h3.0v4.1h-3.0zM215.6 503.6h3.0v4.1h-3.0zM286.6 503.6h3.0v4.1h-3.0zM307.3 503.6h3.0v4.1h-3.0zM407.9 503.6h3.0v4.1h-3.0zM428.6 503.6h3.0v4.1h-3.0zM434.5 503.6h3.0v4.1h-3.0zM295.5 507.7h3.0v6.4h-3.0zM416.8 507.7h3.0v6.4h-3.0zM428.6 507.7h3.0v6.4h-3.0zM286.6 514.0h3.0v4.3h-3.0zM295.5 514.0h3.0v4.3h-3.0zM407.9 514.0h3.0v4.3h-3.0zM419.8 514.0h3.0v4.3h-3.0zM286.6 518.3h5.9v5.0h-5.9zM419.8 518.3h3.0v5.0h-3.0zM50.0 523.4h3.0v7.6h-3.0zM215.6 523.4h3.0v7.6h-3.0zM298.5 523.4h5.9v7.6h-5.9zM322.1 523.4h3.0v7.6h-3.0zM405.0 523.4h5.9v7.6h-5.9zM416.8 523.4h3.0v7.6h-3.0zM428.6 523.4h3.0v7.6h-3.0zM135.8 534.0h3.0v4.7h-3.0zM153.5 534.0h3.0v4.7h-3.0zM168.3 534.0h3.0v4.7h-3.0zM189.0 534.0h5.9v4.7h-5.9zM197.9 534.0h3.0v4.7h-3.0zM135.8 547.3h3.0v5.1h-3.0zM141.7 547.3h5.9v5.1h-5.9zM150.6 547.3h5.9v5.1h-5.9zM168.3 547.3h3.0v5.1h-3.0zM189.0 547.3h5.9v5.1h-5.9zM200.9 547.3h5.9v5.1h-5.9zM141.7 552.4h5.9v3.4h-5.9zM153.5 552.4h3.0v3.4h-3.0zM159.4 552.4h3.0v3.4h-3.0zM174.2 552.4h3.0v3.4h-3.0zM192.0 552.4h8.9v3.4h-8.9zM203.8 552.4h5.9v3.4h-5.9zM135.8 555.8h3.0v7.8h-3.0zM168.3 555.8h3.0v7.8h-3.0zM189.0 555.8h3.0v7.8h-3.0zM135.8 563.6h3.0v5.4h-3.0zM144.7 563.6h3.0v5.4h-3.0zM168.3 563.6h3.0v5.4h-3.0zM144.7 569.0h3.0v8.9h-3.0zM153.5 569.0h3.0v8.9h-3.0zM168.3 569.0h3.0v8.9h-3.0zM135.8 577.9h3.0v7.2h-3.0zM150.6 577.9h3.0v7.2h-3.0zM189.0 577.9h3.0v7.2h-3.0zM206.8 577.9h3.0v7.2h-3.0zM138.7 585.1h3.0v5.0h-3.0zM153.5 585.1h3.0v5.0h-3.0zM159.4 585.1h5.9v5.0h-5.9zM171.3 585.1h11.8v5.0h-11.8zM200.9 585.1h3.0v5.0h-3.0zM206.8 585.1h3.0v5.0h-3.0zM200.9 590.1h3.0v4.9h-3.0zM55.9 598.0h3.0v6.9h-3.0zM76.6 598.0h3.0v6.9h-3.0zM85.5 598.0h5.9v6.9h-5.9zM112.1 598.0h3.0v6.9h-3.0zM129.9 598.0h3.0v6.9h-3.0zM159.4 598.0h3.0v6.9h-3.0zM55.9 604.9h5.9v8.8h-5.9zM97.3 604.9h3.0v8.8h-3.0zM103.2 604.9h3.0v8.8h-3.0zM112.1 604.9h3.0v8.8h-3.0zM129.9 604.9h5.9v8.8h-5.9zM313.3 604.9h3.0v8.8h-3.0zM55.9 613.7h3.0v7.0h-3.0zM132.8 613.7h3.0v7.0h-3.0zM58.9 620.7h3.0v3.8h-3.0zM97.3 620.7h3.0v3.8h-3.0zM103.2 620.7h3.0v3.8h-3.0zM103.2 624.4h3.0v4.7h-3.0zM112.1 624.4h3.0v4.7h-3.0zM126.9 624.4h8.9v4.7h-8.9zM55.9 629.2h3.0v4.3h-3.0zM100.3 629.2h3.0v4.3h-3.0zM132.8 629.2h3.0v4.3h-3.0zM58.9 633.5h3.0v5.9h-3.0zM76.6 633.5h5.9v5.9h-5.9zM88.5 633.5h3.0v5.9h-3.0zM97.3 633.5h3.0v5.9h-3.0zM103.2 633.5h3.0v5.9h-3.0zM121.0 633.5h3.0v5.9h-3.0zM129.9 633.5h3.0v5.9h-3.0zM159.4 633.5h3.0v5.9h-3.0zM192.0 633.5h3.0v5.9h-3.0zM354.7 633.5h3.0v5.9h-3.0zM55.9 639.3h5.9v7.7h-5.9zM88.5 639.3h3.0v7.7h-3.0zM103.2 639.3h3.0v7.7h-3.0zM112.1 639.3h3.0v7.7h-3.0zM121.0 639.3h3.0v7.7h-3.0zM192.0 639.3h3.0v7.7h-3.0zM132.8 647.0h3.0v9.0h-3.0zM97.3 656.0h3.0v7.0h-3.0zM103.2 656.0h3.0v7.0h-3.0zM112.1 656.0h3.0v7.0h-3.0zM129.9 656.0h5.9v7.0h-5.9zM289.6 656.0h5.9v7.0h-5.9zM55.9 673.1h3.0v5.1h-3.0zM97.3 673.1h3.0v5.1h-3.0zM132.8 673.1h3.0v5.1h-3.0zM55.9 678.2h5.9v8.5h-5.9zM103.2 678.2h3.0v8.5h-3.0zM112.1 678.2h3.0v8.5h-3.0zM132.8 678.2h3.0v8.5h-3.0zM292.6 678.2h3.0v8.5h-3.0zM55.9 694.9h5.9v5.0h-5.9zM79.6 694.9h5.9v5.0h-5.9zM103.2 694.9h3.0v5.0h-3.0zM121.0 694.9h3.0v5.0h-3.0zM126.9 694.9h8.9v5.0h-8.9zM289.6 694.9h5.9v5.0h-5.9zM55.9 699.9h3.0v5.7h-3.0zM79.6 699.9h3.0v5.7h-3.0zM112.1 699.9h3.0v5.7h-3.0zM132.8 699.9h3.0v5.7h-3.0zM292.6 699.9h3.0v5.7h-3.0zM55.9 705.6h5.9v8.6h-5.9zM79.6 705.6h3.0v8.6h-3.0zM88.5 705.6h3.0v8.6h-3.0zM97.3 705.6h3.0v8.6h-3.0zM58.9 714.2h3.0v7.8h-3.0zM79.6 714.2h3.0v7.8h-3.0zM97.3 714.2h3.0v7.8h-3.0zM112.1 714.2h3.0v7.8h-3.0zM103.2 722.0h3.0v7.1h-3.0zM129.9 722.0h5.9v7.1h-5.9zM112.1 729.1h3.0v8.6h-3.0zM132.8 729.1h3.0v8.6h-3.0zM58.9 737.7h3.0v8.0h-3.0zM79.6 737.7h3.0v8.0h-3.0zM88.5 737.7h3.0v8.0h-3.0zM100.3 737.7h3.0v8.0h-3.0zM112.1 737.7h3.0v8.0h-3.0zM58.9 745.8h3.0v3.4h-3.0zM97.3 745.8h3.0v3.4h-3.0zM103.2 745.8h3.0v3.4h-3.0zM82.5 749.2h3.0v7.1h-3.0zM112.1 749.2h3.0v7.1h-3.0zM132.8 749.2h3.0v7.1h-3.0z" fill="rgb(249, 220, 176)"/>
<path d="M378.3 340.6h3.0v5.7h-3.0zM396.1 340.6h3.0v5.7h-3.0zM378.3 351.6h3.0v7.2h-3.0zM396.1 351.6h3.0v7.2h-3.0zM363.5 358.8h3.0v3.5h-3.0zM396.1 358.8h3.0v3.5h-3.0zM53.0 366.4h3.0v6.1h-3.0zM363.5 366.4h3.0v6.1h-3.0zM390.2 366.4h3.0v6.1h-3.0zM363.5 372.5h3.0v5.4h-3.0zM378.3 372.5h3.0v5.4h-3.0zM428.6 372.5h3.0v5.4h-3.0zM378.3 377.9h3.0v7.0h-3.0zM286.6 399.0h5.9v8.2h-5.9zM295.5 399.0h3.0v8.2h-3.0zM289.6 414.5h3.0v4.3h-3.0zM301.4 414.5h3.0v4.3h-3.0zM50.0 418.9h3.0v7.1h-3.0zM301.4 418.9h3.0v7.1h-3.0zM50.0 426.0h3.0v8.6h-3.0zM286.6 426.0h3.0v8.6h-3.0zM295.5 426.0h3.0v8.6h-3.0zM301.4 426.0h3.0v8.6h-3.0zM50.0 434.6h3.0v3.4h-3.0zM292.6 438.0h5.9v4.8h-5.9zM307.3 438.0h3.0v4.8h-3.0zM50.0 442.8h3.0v3.8h-3.0zM289.6 442.8h3.0v3.8h-3.0zM301.4 442.8h3.0v3.8h-3.0zM215.6 446.5h3.0v8.2h-3.0zM292.6 446.5h5.9v8.2h-5.9zM301.4 446.5h3.0v8.2h-3.0zM307.3 446.5h3.0v8.2h-3.0zM292.6 454.8h3.0v3.8h-3.0zM298.5 454.8h8.9v3.8h-8.9zM322.1 454.8h3.0v3.8h-3.0zM215.6 462.1h3.0v3.6h-3.0zM292.6 462.1h3.0v3.6h-3.0zM304.4 462.1h3.0v3.6h-3.0zM322.1 465.7h3.0v8.0h-3.0zM410.9 465.7h5.9v8.0h-5.9zM419.8 465.7h3.0v8.0h-3.0zM431.6 465.7h5.9v8.0h-5.9zM298.5 473.7h3.0v4.2h-3.0zM304.4 473.7h5.9v4.2h-5.9zM425.7 473.7h3.0v4.2h-3.0zM298.5 477.9h3.0v8.8h-3.0zM322.1 477.9h3.0v8.8h-3.0zM381.3 477.9h3.0v8.8h-3.0zM405.0 477.9h5.9v8.8h-5.9zM416.8 477.9h3.0v8.8h-3.0zM425.7 477.9h3.0v8.8h-3.0zM434.5 477.9h3.0v8.8h-3.0zM50.0 486.7h3.0v3.2h-3.0zM286.6 486.7h3.0v3.2h-3.0zM292.6 486.7h3.0v3.2h-3.0zM301.4 486.7h3.0v3.2h-3.0zM428.6 486.7h3.0v3.2h-3.0zM298.5 489.9h3.0v5.7h-3.0zM304.4 489.9h3.0v5.7h-3.0zM322.1 489.9h3.0v5.7h-3.0zM419.8 489.9h3.0v5.7h-3.0zM50.0 495.7h3.0v3.8h-3.0zM286.6 495.7h3.0v3.8h-3.0zM295.5 495.7h3.0v3.8h-3.0zM416.8 495.7h3.0v3.8h-3.0zM50.0 499.5h3.0v4.1h-3.0zM50.0 503.6h3.0v4.1h-3.0zM292.6 503.6h3.0v4.1h-3.0zM419.8 503.6h3.0v4.1h-3.0zM50.0 507.7h3.0v6.4h-3.0zM286.6 507.7h5.9v6.4h-5.9zM50.0 518.3h3.0v5.0h-3.0zM215.6 518.3h3.0v5.0h-3.0zM286.6 523.4h3.0v7.6h-3.0zM295.5 523.4h3.0v7.6h-3.0zM307.3 523.4h3.0v7.6h-3.0zM419.8 523.4h3.0v7.6h-3.0zM434.5 523.4h3.0v7.6h-3.0zM144.7 534.0h3.0v4.7h-3.0zM150.6 534.0h3.0v4.7h-3.0zM206.8 534.0h3.0v4.7h-3.0zM135.8 538.7h3.0v8.6h-3.0zM144.7 538.7h3.0v8.6h-3.0zM150.6 538.7h3.0v8.6h-3.0zM135.8 552.4h3.0v3.4h-3.0zM150.6 552.4h3.0v3.4h-3.0zM168.3 552.4h3.0v3.4h-3.0zM189.0 552.4h3.0v3.4h-3.0zM168.3 577.9h3.0v7.2h-3.0zM135.8 585.1h3.0v5.0h-3.0zM141.7 585.1h5.9v5.0h-5.9zM150.6 585.1h3.0v5.0h-3.0zM189.0 585.1h8.9v5.0h-8.9zM203.8 585.1h3.0v5.0h-3.0zM135.8 590.1h3.0v4.9h-3.0zM97.3 598.0h3.0v6.9h-3.0zM103.2 598.0h3.0v6.9h-3.0zM132.8 598.0h3.0v6.9h-3.0zM97.3 613.7h3.0v7.0h-3.0zM132.8 620.7h3.0v3.8h-3.0zM132.8 633.5h3.0v5.9h-3.0zM132.8 639.3h3.0v7.7h-3.0zM97.3 694.9h3.0v5.0h-3.0zM103.2 705.6h3.0v8.6h-3.0zM112.1 705.6h3.0v8.6h-3.0zM132.8 705.6h3.0v8.6h-3.0zM97.3 722.0h3.0v7.1h-3.0zM55.9 737.7h3.0v8.0h-3.0zM97.3 737.7h3.0v8.0h-3.0zM103.2 737.7h3.0v8.0h-3.0zM126.9 737.7h5.9v8.0h-5.9zM132.8 745.8h3.0v3.4h-3.0zM58.9 749.2h3.0v7.1h-3.0z" fill="rgb(248, 214, 170)"/>
<path d="M363.5 346.3h3.0v5.3h-3.0zM378.3 358.8h3.0v3.5h-3.0zM378.3 362.4h3.0v4.0h-3.0zM50.0 414.5h3.0v4.3h-3.0zM286.6 414.5h3.0v4.3h-3.0zM295.5 414.5h3.0v4.3h-3.0zM286.6 418.9h3.0v7.1h-3.0zM295.5 418.9h3.0v7.1h-3.0zM215.6 426.0h3.0v8.6h-3.0zM289.6 434.6h3.0v3.4h-3.0zM50.0 438.0h3.0v4.8h-3.0zM289.6 438.0h3.0v4.8h-3.0zM286.6 442.8h3.0v3.8h-3.0zM50.0 446.5h3.0v8.2h-3.0zM286.6 446.5h3.0v8.2h-3.0zM298.5 446.5h3.0v8.2h-3.0zM215.6 454.8h3.0v3.8h-3.0zM307.3 454.8h3.0v3.8h-3.0zM215.6 458.5h3.0v3.6h-3.0zM304.4 458.5h3.0v3.6h-3.0zM322.1 458.5h3.0v3.6h-3.0zM50.0 462.1h3.0v3.6h-3.0zM298.5 462.1h5.9v3.6h-5.9zM215.6 465.7h3.0v8.0h-3.0zM298.5 465.7h3.0v8.0h-3.0zM304.4 465.7h5.9v8.0h-5.9zM407.9 465.7h3.0v8.0h-3.0zM416.8 465.7h3.0v8.0h-3.0zM425.7 465.7h5.9v8.0h-5.9zM215.6 473.7h3.0v4.2h-3.0zM301.4 473.7h3.0v4.2h-3.0zM416.8 473.7h5.9v4.2h-5.9zM215.6 477.9h3.0v8.8h-3.0zM292.6 477.9h3.0v8.8h-3.0zM301.4 477.9h8.9v8.8h-8.9zM419.8 477.9h3.0v8.8h-3.0zM428.6 477.9h3.0v8.8h-3.0zM289.6 486.7h3.0v3.2h-3.0zM295.5 486.7h3.0v3.2h-3.0zM50.0 489.9h3.0v5.7h-3.0zM215.6 489.9h3.0v5.7h-3.0zM292.6 489.9h3.0v5.7h-3.0zM301.4 489.9h3.0v5.7h-3.0zM307.3 489.9h3.0v5.7h-3.0zM416.8 489.9h3.0v5.7h-3.0zM289.6 495.7h3.0v3.8h-3.0zM289.6 503.6h3.0v4.1h-3.0zM295.5 503.6h3.0v4.1h-3.0zM289.6 523.4h5.9v7.6h-5.9zM168.3 585.1h3.0v5.0h-3.0zM55.9 633.5h3.0v5.9h-3.0zM132.8 737.7h3.0v8.0h-3.0z" fill="rgb(247, 207, 163)"/>
<path d="M378.3 366.4h3.0v6.1h-3.0zM289.6 418.9h3.0v7.1h-3.0zM286.6 438.0h3.0v4.8h-3.0zM50.0 454.8h3.0v3.8h-3.0zM286.6 454.8h3.0v3.8h-3.0zM295.5 454.8h3.0v3.8h-3.0zM298.5 458.5h5.9v3.6h-5.9zM307.3 458.5h3.0v3.6h-3.0zM286.6 462.1h5.9v3.6h-5.9zM295.5 462.1h3.0v3.6h-3.0zM307.3 462.1h3.0v3.6h-3.0zM50.0 465.7h3.0v8.0h-3.0zM292.6 465.7h3.0v8.0h-3.0zM301.4 465.7h3.0v8.0h-3.0zM50.0 473.7h3.0v4.2h-3.0zM286.6 473.7h5.9v4.2h-5.9zM295.5 473.7h3.0v4.2h-3.0zM428.6 473.7h3.0v4.2h-3.0zM295.5 489.9h3.0v5.7h-3.0zM289.6 514.0h3.0v4.3h-3.0z" fill="rgb(245, 197, 155)"/>
<path d="M289.6 446.5h3.0v8.2h-3.0zM289.6 454.8h3.0v3.8h-3.0zM50.0 458.5h3.0v3.6h-3.0zM292.6 458.5h5.9v3.6h-5.9zM286.6 465.7h5.9v8.0h-5.9zM295.5 465.7h3.0v8.0h-3.0zM50.0 477.9h3.0v8.8h-3.0zM286.6 477.9h5.9v8.8h-5.9zM295.5 477.9h3.0v8.8h-3.0zM286.6 489.9h5.9v5.7h-5.9z" fill="rgb(243, 186, 146)"/>
<path d="M286.6 458.5h5.9v3.6h-5.9z" fill="rgb(241, 175, 137)"/>
<defs><filter id="nz1" x="0" y="0" width="1" height="1" filterUnits="objectBoundingBox"><feTurbulence type="fractalNoise" baseFrequency="0.34 1.1" numOctaves="1" seed="3" result="t"/><feColorMatrix in="t" type="matrix" values="0 0 0 0 0.93  0 0 0 0 0.55  0 0 0 0 0.35  3.2 0 0 0 -1.85"/></filter><filter id="nz2" x="0" y="0" width="1" height="1" filterUnits="objectBoundingBox"><feTurbulence type="fractalNoise" baseFrequency="0.34 1.1" numOctaves="1" seed="9" result="t"/><feColorMatrix in="t" type="matrix" values="0 0 0 0 0.55  0 0 0 0 0.68  0 0 0 0 0.72  3.0 0 0 0 -1.8"/></filter></defs>
<rect x="50.0" y="340.6" width="387.5" height="55.4" filter="url(#nz1)" opacity="0.3"/>
<rect x="50.0" y="340.6" width="387.5" height="55.4" filter="url(#nz2)" opacity="0.3"/>
<rect x="50.0" y="399.0" width="387.5" height="132" filter="url(#nz1)" opacity="0.3"/>
<rect x="50.0" y="399.0" width="387.5" height="132" filter="url(#nz2)" opacity="0.3"/>
<rect x="50.0" y="534.0" width="387.5" height="61" filter="url(#nz1)" opacity="0.3"/>
<rect x="50.0" y="534.0" width="387.5" height="61" filter="url(#nz2)" opacity="0.3"/>
<rect x="50.0" y="598.0" width="387.5" height="158.3" filter="url(#nz1)" opacity="0.3"/>
<rect x="50.0" y="598.0" width="387.5" height="158.3" filter="url(#nz2)" opacity="0.3"/>
<path d="M396.8 392.8h1.6v1.1h-1.6zM337.6 346.7h1.6v1.1h-1.6zM426.4 355.8h1.6v1.1h-1.6zM183.8 372.4h1.6v1.1h-1.6zM358.3 359.0h1.6v1.1h-1.6zM293.3 389.0h1.6v1.1h-1.6zM62.5 377.7h1.6v1.1h-1.6zM376.1 356.9h1.6v1.1h-1.6zM284.4 382.3h1.6v1.1h-1.6zM340.6 383.2h1.6v1.1h-1.6zM334.7 372.9h1.6v1.1h-1.6zM225.2 394.4h1.6v1.1h-1.6zM222.3 381.4h1.6v1.1h-1.6zM219.3 380.2h1.6v1.1h-1.6zM213.4 388.4h1.6v1.1h-1.6zM414.5 353.6h1.6v1.1h-1.6zM305.1 391.6h1.6v1.1h-1.6zM237.1 359.8h1.6v1.1h-1.6zM216.3 366.9h1.6v1.1h-1.6zM142.4 368.0h1.6v1.1h-1.6zM245.9 347.3h1.6v1.1h-1.6zM308.0 391.6h1.6v1.1h-1.6zM361.3 348.6h1.6v1.1h-1.6zM399.7 348.9h1.6v1.1h-1.6zM269.6 392.0h1.6v1.1h-1.6zM225.2 382.2h1.6v1.1h-1.6zM166.1 364.6h1.6v1.1h-1.6zM325.8 342.8h1.6v1.1h-1.6zM435.2 356.9h1.6v1.1h-1.6zM127.6 385.9h1.6v1.1h-1.6zM405.7 371.3h1.6v1.1h-1.6zM231.1 369.7h1.6v1.1h-1.6zM429.3 377.4h1.6v1.1h-1.6zM260.7 386.6h1.6v1.1h-1.6zM163.1 374.8h1.6v1.1h-1.6zM86.2 352.0h1.6v1.1h-1.6zM334.7 355.1h1.6v1.1h-1.6zM225.2 367.1h1.6v1.1h-1.6zM385.0 353.3h1.6v1.1h-1.6zM355.4 358.0h1.6v1.1h-1.6zM405.7 357.9h1.6v1.1h-1.6zM373.1 344.6h1.6v1.1h-1.6zM337.6 365.4h1.6v1.1h-1.6zM361.3 348.9h1.6v1.1h-1.6zM408.6 447.1h1.6v1.1h-1.6zM284.4 399.3h1.6v1.1h-1.6zM337.6 401.6h1.6v1.1h-1.6zM408.6 415.4h1.6v1.1h-1.6zM319.9 511.8h1.6v1.1h-1.6zM248.9 485.0h1.6v1.1h-1.6zM299.2 491.1h1.6v1.1h-1.6zM80.3 491.4h1.6v1.1h-1.6zM243.0 445.5h1.6v1.1h-1.6zM172.0 510.0h1.6v1.1h-1.6zM423.4 447.5h1.6v1.1h-1.6zM361.3 447.0h1.6v1.1h-1.6zM219.3 475.3h1.6v1.1h-1.6zM414.5 509.8h1.6v1.1h-1.6zM287.3 415.8h1.6v1.1h-1.6zM101.0 508.2h1.6v1.1h-1.6zM393.8 518.7h1.6v1.1h-1.6zM390.9 415.9h1.6v1.1h-1.6zM112.8 471.7h1.6v1.1h-1.6zM293.3 528.0h1.6v1.1h-1.6zM213.4 405.8h1.6v1.1h-1.6zM180.9 453.7h1.6v1.1h-1.6zM139.4 406.1h1.6v1.1h-1.6zM408.6 440.7h1.6v1.1h-1.6zM65.5 400.6h1.6v1.1h-1.6zM299.2 521.7h1.6v1.1h-1.6zM278.5 453.3h1.6v1.1h-1.6zM121.7 408.4h1.6v1.1h-1.6zM207.5 482.9h1.6v1.1h-1.6zM130.6 427.3h1.6v1.1h-1.6zM396.8 443.6h1.6v1.1h-1.6zM435.2 401.6h1.6v1.1h-1.6zM53.7 438.4h1.6v1.1h-1.6zM411.6 444.7h1.6v1.1h-1.6zM160.1 526.1h1.6v1.1h-1.6zM435.2 483.6h1.6v1.1h-1.6zM343.5 462.9h1.6v1.1h-1.6zM98.0 509.3h1.6v1.1h-1.6zM269.6 448.8h1.6v1.1h-1.6zM53.7 424.4h1.6v1.1h-1.6zM234.1 427.4h1.6v1.1h-1.6zM240.0 509.6h1.6v1.1h-1.6zM308.0 471.8h1.6v1.1h-1.6zM195.6 464.1h1.6v1.1h-1.6zM361.3 494.4h1.6v1.1h-1.6zM290.3 522.3h1.6v1.1h-1.6zM405.7 478.7h1.6v1.1h-1.6zM358.3 512.6h1.6v1.1h-1.6zM364.2 417.1h1.6v1.1h-1.6zM420.5 445.5h1.6v1.1h-1.6zM195.6 507.9h1.6v1.1h-1.6zM195.6 457.6h1.6v1.1h-1.6zM411.6 495.8h1.6v1.1h-1.6zM148.3 507.5h1.6v1.1h-1.6zM139.4 484.7h1.6v1.1h-1.6zM293.3 513.6h1.6v1.1h-1.6zM376.1 402.9h1.6v1.1h-1.6zM420.5 414.5h1.6v1.1h-1.6zM163.1 413.2h1.6v1.1h-1.6zM299.2 505.9h1.6v1.1h-1.6zM272.6 411.6h1.6v1.1h-1.6zM382.0 494.9h1.6v1.1h-1.6zM272.6 417.8h1.6v1.1h-1.6zM352.4 431.6h1.6v1.1h-1.6zM305.1 519.8h1.6v1.1h-1.6zM352.4 512.5h1.6v1.1h-1.6zM127.6 412.6h1.6v1.1h-1.6zM302.1 496.7h1.6v1.1h-1.6zM352.4 525.0h1.6v1.1h-1.6zM293.3 454.1h1.6v1.1h-1.6zM358.3 514.1h1.6v1.1h-1.6zM361.3 428.7h1.6v1.1h-1.6zM121.7 421.1h1.6v1.1h-1.6zM130.6 419.7h1.6v1.1h-1.6zM281.4 425.9h1.6v1.1h-1.6zM106.9 458.3h1.6v1.1h-1.6zM370.2 422.4h1.6v1.1h-1.6zM308.0 428.8h1.6v1.1h-1.6zM423.4 474.5h1.6v1.1h-1.6zM245.9 466.9h1.6v1.1h-1.6zM361.3 480.8h1.6v1.1h-1.6zM275.5 513.1h1.6v1.1h-1.6zM296.2 502.4h1.6v1.1h-1.6zM334.7 477.5h1.6v1.1h-1.6zM334.7 419.1h1.6v1.1h-1.6zM151.3 439.3h1.6v1.1h-1.6zM373.1 507.7h1.6v1.1h-1.6zM213.4 400.9h1.6v1.1h-1.6zM266.6 462.0h1.6v1.1h-1.6zM56.6 455.3h1.6v1.1h-1.6zM213.4 505.1h1.6v1.1h-1.6zM358.3 483.3h1.6v1.1h-1.6zM65.5 491.2h1.6v1.1h-1.6zM148.3 458.6h1.6v1.1h-1.6zM361.3 453.0h1.6v1.1h-1.6zM284.4 501.2h1.6v1.1h-1.6zM281.4 454.9h1.6v1.1h-1.6zM56.6 520.5h1.6v1.1h-1.6zM50.7 475.0h1.6v1.1h-1.6zM349.5 478.7h1.6v1.1h-1.6zM56.6 521.4h1.6v1.1h-1.6zM305.1 460.6h1.6v1.1h-1.6zM290.3 444.6h1.6v1.1h-1.6zM89.2 480.1h1.6v1.1h-1.6zM322.8 448.8h1.6v1.1h-1.6zM101.0 463.6h1.6v1.1h-1.6zM402.7 417.9h1.6v1.1h-1.6zM385.0 447.1h1.6v1.1h-1.6zM405.7 513.6h1.6v1.1h-1.6zM207.5 402.8h1.6v1.1h-1.6zM281.4 459.2h1.6v1.1h-1.6zM296.2 463.0h1.6v1.1h-1.6zM133.5 411.9h1.6v1.1h-1.6zM379.0 441.8h1.6v1.1h-1.6zM423.4 488.8h1.6v1.1h-1.6zM299.2 484.3h1.6v1.1h-1.6zM334.7 509.0h1.6v1.1h-1.6zM414.5 418.3h1.6v1.1h-1.6zM367.2 493.4h1.6v1.1h-1.6zM290.3 411.4h1.6v1.1h-1.6zM346.5 420.7h1.6v1.1h-1.6zM83.2 421.4h1.6v1.1h-1.6zM293.3 515.8h1.6v1.1h-1.6zM166.1 459.6h1.6v1.1h-1.6zM311.0 501.4h1.6v1.1h-1.6zM180.9 538.1h1.6v1.1h-1.6zM390.9 582.6h1.6v1.1h-1.6zM426.4 592.6h1.6v1.1h-1.6zM358.3 557.5h1.6v1.1h-1.6zM435.2 576.2h1.6v1.1h-1.6zM77.3 578.0h1.6v1.1h-1.6zM204.5 591.1h1.6v1.1h-1.6zM71.4 578.6h1.6v1.1h-1.6zM101.0 571.3h1.6v1.1h-1.6zM405.7 538.1h1.6v1.1h-1.6zM393.8 560.2h1.6v1.1h-1.6zM207.5 566.6h1.6v1.1h-1.6zM109.9 575.4h1.6v1.1h-1.6zM177.9 548.0h1.6v1.1h-1.6zM228.2 591.6h1.6v1.1h-1.6zM248.9 553.6h1.6v1.1h-1.6zM319.9 536.6h1.6v1.1h-1.6zM393.8 542.3h1.6v1.1h-1.6zM186.8 573.9h1.6v1.1h-1.6zM130.6 564.2h1.6v1.1h-1.6zM257.8 564.3h1.6v1.1h-1.6zM385.0 548.8h1.6v1.1h-1.6zM272.6 582.9h1.6v1.1h-1.6zM417.5 555.2h1.6v1.1h-1.6zM106.9 563.0h1.6v1.1h-1.6zM195.6 576.8h1.6v1.1h-1.6zM429.3 542.8h1.6v1.1h-1.6zM316.9 566.9h1.6v1.1h-1.6zM163.1 558.8h1.6v1.1h-1.6zM195.6 591.8h1.6v1.1h-1.6zM77.3 571.2h1.6v1.1h-1.6zM402.7 576.9h1.6v1.1h-1.6zM103.9 552.2h1.6v1.1h-1.6zM376.1 585.0h1.6v1.1h-1.6zM237.1 559.7h1.6v1.1h-1.6zM216.3 540.6h1.6v1.1h-1.6zM287.3 574.6h1.6v1.1h-1.6zM95.1 568.9h1.6v1.1h-1.6zM385.0 555.3h1.6v1.1h-1.6zM59.6 547.0h1.6v1.1h-1.6zM287.3 562.7h1.6v1.1h-1.6zM89.2 549.3h1.6v1.1h-1.6zM296.2 625.1h1.6v1.1h-1.6zM151.3 604.2h1.6v1.1h-1.6zM201.6 645.5h1.6v1.1h-1.6zM293.3 734.0h1.6v1.1h-1.6zM62.5 728.5h1.6v1.1h-1.6zM216.3 721.1h1.6v1.1h-1.6zM340.6 605.1h1.6v1.1h-1.6zM118.7 631.2h1.6v1.1h-1.6zM361.3 656.6h1.6v1.1h-1.6zM118.7 666.0h1.6v1.1h-1.6zM139.4 743.9h1.6v1.1h-1.6zM228.2 657.9h1.6v1.1h-1.6zM293.3 705.9h1.6v1.1h-1.6zM367.2 633.1h1.6v1.1h-1.6zM248.9 694.8h1.6v1.1h-1.6zM305.1 658.3h1.6v1.1h-1.6zM231.1 613.9h1.6v1.1h-1.6zM112.8 697.2h1.6v1.1h-1.6zM361.3 664.3h1.6v1.1h-1.6zM115.8 598.4h1.6v1.1h-1.6zM169.0 735.9h1.6v1.1h-1.6zM127.6 750.1h1.6v1.1h-1.6zM213.4 678.2h1.6v1.1h-1.6zM62.5 702.9h1.6v1.1h-1.6zM257.8 743.7h1.6v1.1h-1.6zM127.6 698.8h1.6v1.1h-1.6zM68.4 744.7h1.6v1.1h-1.6zM293.3 729.5h1.6v1.1h-1.6zM154.2 610.7h1.6v1.1h-1.6zM234.1 664.0h1.6v1.1h-1.6zM77.3 708.7h1.6v1.1h-1.6zM101.0 702.1h1.6v1.1h-1.6zM145.4 742.0h1.6v1.1h-1.6zM417.5 638.8h1.6v1.1h-1.6zM373.1 728.7h1.6v1.1h-1.6zM118.7 641.7h1.6v1.1h-1.6zM74.4 617.5h1.6v1.1h-1.6zM225.2 734.3h1.6v1.1h-1.6zM364.2 657.9h1.6v1.1h-1.6zM228.2 745.2h1.6v1.1h-1.6zM53.7 693.4h1.6v1.1h-1.6zM207.5 717.5h1.6v1.1h-1.6zM405.7 620.7h1.6v1.1h-1.6zM382.0 694.3h1.6v1.1h-1.6zM361.3 603.0h1.6v1.1h-1.6zM130.6 681.7h1.6v1.1h-1.6zM77.3 604.5h1.6v1.1h-1.6zM216.3 603.4h1.6v1.1h-1.6zM198.6 726.2h1.6v1.1h-1.6zM177.9 732.1h1.6v1.1h-1.6zM65.5 644.9h1.6v1.1h-1.6zM127.6 688.3h1.6v1.1h-1.6zM396.8 650.4h1.6v1.1h-1.6zM281.4 628.6h1.6v1.1h-1.6zM385.0 627.5h1.6v1.1h-1.6zM231.1 692.7h1.6v1.1h-1.6zM198.6 722.7h1.6v1.1h-1.6zM296.2 694.9h1.6v1.1h-1.6zM157.2 691.5h1.6v1.1h-1.6zM337.6 715.6h1.6v1.1h-1.6zM59.6 599.9h1.6v1.1h-1.6zM177.9 619.8h1.6v1.1h-1.6zM130.6 646.1h1.6v1.1h-1.6zM237.1 615.8h1.6v1.1h-1.6zM112.8 655.2h1.6v1.1h-1.6zM118.7 606.5h1.6v1.1h-1.6zM352.4 673.4h1.6v1.1h-1.6zM169.0 675.0h1.6v1.1h-1.6zM399.7 631.7h1.6v1.1h-1.6zM177.9 641.3h1.6v1.1h-1.6zM266.6 623.2h1.6v1.1h-1.6zM390.9 649.7h1.6v1.1h-1.6zM225.2 696.9h1.6v1.1h-1.6zM83.2 599.8h1.6v1.1h-1.6zM316.9 746.2h1.6v1.1h-1.6zM53.7 660.4h1.6v1.1h-1.6zM166.1 744.0h1.6v1.1h-1.6zM80.3 714.2h1.6v1.1h-1.6zM382.0 664.5h1.6v1.1h-1.6zM302.1 738.4h1.6v1.1h-1.6zM417.5 667.5h1.6v1.1h-1.6zM163.1 635.2h1.6v1.1h-1.6zM68.4 629.8h1.6v1.1h-1.6zM248.9 689.4h1.6v1.1h-1.6zM396.8 710.0h1.6v1.1h-1.6zM358.3 696.0h1.6v1.1h-1.6zM98.0 749.3h1.6v1.1h-1.6zM121.7 633.2h1.6v1.1h-1.6zM201.6 624.3h1.6v1.1h-1.6zM151.3 673.7h1.6v1.1h-1.6zM275.5 716.4h1.6v1.1h-1.6zM174.9 746.9h1.6v1.1h-1.6zM62.5 602.1h1.6v1.1h-1.6zM293.3 655.8h1.6v1.1h-1.6zM216.3 740.2h1.6v1.1h-1.6zM62.5 746.6h1.6v1.1h-1.6zM305.1 706.0h1.6v1.1h-1.6zM68.4 748.5h1.6v1.1h-1.6zM231.1 754.2h1.6v1.1h-1.6zM349.5 626.0h1.6v1.1h-1.6zM56.6 721.1h1.6v1.1h-1.6zM86.2 651.5h1.6v1.1h-1.6zM166.1 654.2h1.6v1.1h-1.6zM331.7 678.1h1.6v1.1h-1.6zM266.6 649.4h1.6v1.1h-1.6zM201.6 741.8h1.6v1.1h-1.6zM290.3 676.6h1.6v1.1h-1.6zM180.9 668.1h1.6v1.1h-1.6zM183.8 710.9h1.6v1.1h-1.6zM299.2 745.1h1.6v1.1h-1.6zM71.4 726.3h1.6v1.1h-1.6zM281.4 696.6h1.6v1.1h-1.6zM89.2 668.7h1.6v1.1h-1.6zM287.3 650.8h1.6v1.1h-1.6zM385.0 716.1h1.6v1.1h-1.6zM157.2 688.2h1.6v1.1h-1.6zM390.9 713.2h1.6v1.1h-1.6zM278.5 690.7h1.6v1.1h-1.6zM254.8 659.3h1.6v1.1h-1.6zM166.1 740.4h1.6v1.1h-1.6zM396.8 628.6h1.6v1.1h-1.6zM142.4 629.1h1.6v1.1h-1.6zM121.7 604.8h1.6v1.1h-1.6zM322.8 743.5h1.6v1.1h-1.6zM231.1 676.8h1.6v1.1h-1.6zM281.4 617.4h1.6v1.1h-1.6zM77.3 602.7h1.6v1.1h-1.6zM151.3 688.9h1.6v1.1h-1.6zM145.4 646.6h1.6v1.1h-1.6zM314.0 638.6h1.6v1.1h-1.6zM101.0 731.2h1.6v1.1h-1.6zM302.1 741.3h1.6v1.1h-1.6zM334.7 645.6h1.6v1.1h-1.6z" fill="#ec9070" opacity="0.55"/>
<path d="M414.5 393.9h1.6v1.1h-1.6zM103.9 365.0h1.6v1.1h-1.6zM382.0 341.6h1.6v1.1h-1.6zM293.3 394.1h1.6v1.1h-1.6zM408.6 348.3h1.6v1.1h-1.6zM322.8 387.9h1.6v1.1h-1.6zM257.8 342.8h1.6v1.1h-1.6zM177.9 348.0h1.6v1.1h-1.6zM432.3 343.4h1.6v1.1h-1.6zM59.6 369.3h1.6v1.1h-1.6zM74.4 355.5h1.6v1.1h-1.6zM106.9 361.8h1.6v1.1h-1.6zM275.5 367.1h1.6v1.1h-1.6zM68.4 377.6h1.6v1.1h-1.6zM302.1 344.3h1.6v1.1h-1.6zM59.6 363.1h1.6v1.1h-1.6zM53.7 343.9h1.6v1.1h-1.6zM257.8 361.0h1.6v1.1h-1.6zM127.6 359.5h1.6v1.1h-1.6zM95.1 352.6h1.6v1.1h-1.6zM257.8 350.4h1.6v1.1h-1.6zM98.0 347.7h1.6v1.1h-1.6zM59.6 356.1h1.6v1.1h-1.6zM59.6 355.9h1.6v1.1h-1.6zM254.8 394.0h1.6v1.1h-1.6zM243.0 375.2h1.6v1.1h-1.6zM328.8 367.2h1.6v1.1h-1.6zM266.6 362.5h1.6v1.1h-1.6zM201.6 365.3h1.6v1.1h-1.6zM86.2 389.2h1.6v1.1h-1.6zM192.7 361.0h1.6v1.1h-1.6zM172.0 366.5h1.6v1.1h-1.6zM98.0 349.6h1.6v1.1h-1.6zM411.6 382.7h1.6v1.1h-1.6zM86.2 381.6h1.6v1.1h-1.6zM355.4 392.0h1.6v1.1h-1.6zM198.6 364.6h1.6v1.1h-1.6zM328.8 370.3h1.6v1.1h-1.6zM169.0 369.9h1.6v1.1h-1.6zM89.2 386.0h1.6v1.1h-1.6zM95.1 372.1h1.6v1.1h-1.6zM115.8 341.7h1.6v1.1h-1.6zM245.9 341.0h1.6v1.1h-1.6zM201.6 383.1h1.6v1.1h-1.6zM118.7 434.2h1.6v1.1h-1.6zM142.4 464.5h1.6v1.1h-1.6zM358.3 400.1h1.6v1.1h-1.6zM56.6 414.5h1.6v1.1h-1.6zM145.4 510.2h1.6v1.1h-1.6zM213.4 503.4h1.6v1.1h-1.6zM245.9 446.6h1.6v1.1h-1.6zM106.9 515.6h1.6v1.1h-1.6zM426.4 446.3h1.6v1.1h-1.6zM385.0 503.2h1.6v1.1h-1.6zM169.0 515.5h1.6v1.1h-1.6zM83.2 419.8h1.6v1.1h-1.6zM109.9 516.3h1.6v1.1h-1.6zM243.0 477.9h1.6v1.1h-1.6zM382.0 406.6h1.6v1.1h-1.6zM299.2 459.1h1.6v1.1h-1.6zM251.8 428.6h1.6v1.1h-1.6zM74.4 514.3h1.6v1.1h-1.6zM163.1 498.8h1.6v1.1h-1.6zM432.3 445.2h1.6v1.1h-1.6zM103.9 456.4h1.6v1.1h-1.6zM148.3 448.9h1.6v1.1h-1.6zM420.5 421.5h1.6v1.1h-1.6zM145.4 399.6h1.6v1.1h-1.6zM166.1 449.5h1.6v1.1h-1.6zM106.9 448.1h1.6v1.1h-1.6zM361.3 502.8h1.6v1.1h-1.6zM174.9 509.9h1.6v1.1h-1.6zM177.9 505.1h1.6v1.1h-1.6zM314.0 470.6h1.6v1.1h-1.6zM166.1 445.9h1.6v1.1h-1.6zM367.2 506.9h1.6v1.1h-1.6zM86.2 427.7h1.6v1.1h-1.6zM59.6 429.8h1.6v1.1h-1.6zM287.3 480.2h1.6v1.1h-1.6zM177.9 498.7h1.6v1.1h-1.6zM50.7 406.6h1.6v1.1h-1.6zM237.1 401.8h1.6v1.1h-1.6zM379.0 437.7h1.6v1.1h-1.6zM160.1 454.4h1.6v1.1h-1.6zM201.6 415.2h1.6v1.1h-1.6zM367.2 478.6h1.6v1.1h-1.6zM325.8 429.0h1.6v1.1h-1.6zM89.2 474.3h1.6v1.1h-1.6zM382.0 486.1h1.6v1.1h-1.6zM278.5 455.8h1.6v1.1h-1.6zM172.0 418.1h1.6v1.1h-1.6zM376.1 498.0h1.6v1.1h-1.6zM145.4 420.7h1.6v1.1h-1.6zM174.9 471.0h1.6v1.1h-1.6zM328.8 485.0h1.6v1.1h-1.6zM281.4 517.6h1.6v1.1h-1.6zM192.7 486.2h1.6v1.1h-1.6zM77.3 408.9h1.6v1.1h-1.6zM237.1 419.5h1.6v1.1h-1.6zM145.4 446.2h1.6v1.1h-1.6zM130.6 423.1h1.6v1.1h-1.6zM266.6 499.6h1.6v1.1h-1.6zM145.4 440.8h1.6v1.1h-1.6zM240.0 469.0h1.6v1.1h-1.6zM251.8 413.1h1.6v1.1h-1.6zM177.9 507.7h1.6v1.1h-1.6zM163.1 467.0h1.6v1.1h-1.6zM387.9 414.6h1.6v1.1h-1.6zM160.1 494.9h1.6v1.1h-1.6zM95.1 422.9h1.6v1.1h-1.6zM130.6 426.2h1.6v1.1h-1.6zM124.7 431.2h1.6v1.1h-1.6zM80.3 519.5h1.6v1.1h-1.6zM68.4 490.9h1.6v1.1h-1.6zM316.9 447.4h1.6v1.1h-1.6zM154.2 474.4h1.6v1.1h-1.6zM186.8 420.8h1.6v1.1h-1.6zM118.7 449.8h1.6v1.1h-1.6zM186.8 509.6h1.6v1.1h-1.6zM98.0 422.0h1.6v1.1h-1.6zM343.5 522.6h1.6v1.1h-1.6zM373.1 451.8h1.6v1.1h-1.6zM71.4 512.8h1.6v1.1h-1.6zM59.6 425.6h1.6v1.1h-1.6zM343.5 417.4h1.6v1.1h-1.6zM169.0 454.1h1.6v1.1h-1.6zM201.6 421.5h1.6v1.1h-1.6zM124.7 450.2h1.6v1.1h-1.6zM302.1 458.2h1.6v1.1h-1.6zM210.4 512.3h1.6v1.1h-1.6zM231.1 544.2h1.6v1.1h-1.6zM59.6 538.8h1.6v1.1h-1.6zM103.9 539.2h1.6v1.1h-1.6zM148.3 583.1h1.6v1.1h-1.6zM74.4 549.3h1.6v1.1h-1.6zM101.0 564.0h1.6v1.1h-1.6zM89.2 540.3h1.6v1.1h-1.6zM352.4 539.2h1.6v1.1h-1.6zM106.9 537.6h1.6v1.1h-1.6zM243.0 551.0h1.6v1.1h-1.6zM174.9 556.7h1.6v1.1h-1.6zM169.0 575.7h1.6v1.1h-1.6zM98.0 555.7h1.6v1.1h-1.6zM331.7 588.3h1.6v1.1h-1.6zM355.4 558.5h1.6v1.1h-1.6zM293.3 566.7h1.6v1.1h-1.6zM195.6 575.8h1.6v1.1h-1.6zM331.7 549.1h1.6v1.1h-1.6zM361.3 576.9h1.6v1.1h-1.6zM316.9 534.3h1.6v1.1h-1.6zM435.2 576.7h1.6v1.1h-1.6zM290.3 592.8h1.6v1.1h-1.6zM390.9 542.5h1.6v1.1h-1.6zM405.7 559.5h1.6v1.1h-1.6zM290.3 548.4h1.6v1.1h-1.6zM331.7 564.5h1.6v1.1h-1.6zM432.3 567.3h1.6v1.1h-1.6zM423.4 578.2h1.6v1.1h-1.6zM92.1 593.0h1.6v1.1h-1.6zM59.6 536.2h1.6v1.1h-1.6zM296.2 578.8h1.6v1.1h-1.6zM414.5 542.4h1.6v1.1h-1.6zM284.4 541.9h1.6v1.1h-1.6zM343.5 589.2h1.6v1.1h-1.6zM204.5 584.4h1.6v1.1h-1.6zM423.4 555.3h1.6v1.1h-1.6zM59.6 537.9h1.6v1.1h-1.6zM228.2 539.4h1.6v1.1h-1.6zM254.8 567.5h1.6v1.1h-1.6zM314.0 567.1h1.6v1.1h-1.6zM272.6 561.0h1.6v1.1h-1.6zM414.5 586.5h1.6v1.1h-1.6zM325.8 586.3h1.6v1.1h-1.6zM201.6 564.4h1.6v1.1h-1.6zM373.1 575.9h1.6v1.1h-1.6zM136.5 549.2h1.6v1.1h-1.6zM411.6 551.0h1.6v1.1h-1.6zM405.7 583.4h1.6v1.1h-1.6zM160.1 565.7h1.6v1.1h-1.6zM83.2 568.1h1.6v1.1h-1.6zM219.3 556.3h1.6v1.1h-1.6zM337.6 592.4h1.6v1.1h-1.6zM373.1 536.2h1.6v1.1h-1.6zM213.4 590.5h1.6v1.1h-1.6zM174.9 553.8h1.6v1.1h-1.6zM343.5 741.0h1.6v1.1h-1.6zM435.2 660.1h1.6v1.1h-1.6zM207.5 684.1h1.6v1.1h-1.6zM124.7 678.7h1.6v1.1h-1.6zM396.8 617.3h1.6v1.1h-1.6zM302.1 712.6h1.6v1.1h-1.6zM305.1 716.6h1.6v1.1h-1.6zM382.0 673.5h1.6v1.1h-1.6zM172.0 686.8h1.6v1.1h-1.6zM411.6 732.7h1.6v1.1h-1.6zM189.7 735.7h1.6v1.1h-1.6zM260.7 688.5h1.6v1.1h-1.6zM216.3 661.2h1.6v1.1h-1.6zM334.7 674.8h1.6v1.1h-1.6zM302.1 731.1h1.6v1.1h-1.6zM237.1 661.1h1.6v1.1h-1.6zM231.1 699.0h1.6v1.1h-1.6zM275.5 678.1h1.6v1.1h-1.6zM136.5 743.3h1.6v1.1h-1.6zM402.7 752.4h1.6v1.1h-1.6zM50.7 602.4h1.6v1.1h-1.6zM71.4 613.9h1.6v1.1h-1.6zM308.0 735.2h1.6v1.1h-1.6zM127.6 638.7h1.6v1.1h-1.6zM234.1 654.3h1.6v1.1h-1.6zM207.5 714.6h1.6v1.1h-1.6zM316.9 679.4h1.6v1.1h-1.6zM189.7 655.1h1.6v1.1h-1.6zM89.2 742.4h1.6v1.1h-1.6zM316.9 670.5h1.6v1.1h-1.6zM343.5 732.7h1.6v1.1h-1.6zM346.5 740.9h1.6v1.1h-1.6zM237.1 716.1h1.6v1.1h-1.6zM322.8 609.1h1.6v1.1h-1.6zM53.7 708.9h1.6v1.1h-1.6zM189.7 608.3h1.6v1.1h-1.6zM287.3 750.3h1.6v1.1h-1.6zM145.4 645.5h1.6v1.1h-1.6zM53.7 646.9h1.6v1.1h-1.6zM207.5 648.6h1.6v1.1h-1.6zM83.2 688.4h1.6v1.1h-1.6zM414.5 648.1h1.6v1.1h-1.6zM429.3 601.3h1.6v1.1h-1.6zM163.1 728.5h1.6v1.1h-1.6zM225.2 683.2h1.6v1.1h-1.6zM169.0 716.9h1.6v1.1h-1.6zM275.5 700.8h1.6v1.1h-1.6zM293.3 604.3h1.6v1.1h-1.6zM396.8 676.8h1.6v1.1h-1.6zM248.9 602.1h1.6v1.1h-1.6zM373.1 638.9h1.6v1.1h-1.6zM254.8 601.9h1.6v1.1h-1.6zM207.5 743.0h1.6v1.1h-1.6zM154.2 713.4h1.6v1.1h-1.6zM240.0 668.8h1.6v1.1h-1.6zM305.1 606.8h1.6v1.1h-1.6zM334.7 598.0h1.6v1.1h-1.6zM260.7 734.4h1.6v1.1h-1.6zM62.5 655.3h1.6v1.1h-1.6zM396.8 725.4h1.6v1.1h-1.6zM260.7 739.6h1.6v1.1h-1.6zM145.4 599.1h1.6v1.1h-1.6zM166.1 706.7h1.6v1.1h-1.6zM429.3 748.3h1.6v1.1h-1.6zM124.7 746.8h1.6v1.1h-1.6zM414.5 672.1h1.6v1.1h-1.6zM293.3 666.3h1.6v1.1h-1.6zM222.3 611.1h1.6v1.1h-1.6zM234.1 718.9h1.6v1.1h-1.6zM269.6 645.0h1.6v1.1h-1.6zM98.0 742.2h1.6v1.1h-1.6zM435.2 703.6h1.6v1.1h-1.6zM319.9 641.9h1.6v1.1h-1.6zM352.4 696.9h1.6v1.1h-1.6zM160.1 698.0h1.6v1.1h-1.6zM290.3 753.5h1.6v1.1h-1.6zM101.0 674.3h1.6v1.1h-1.6zM263.7 685.2h1.6v1.1h-1.6zM251.8 731.7h1.6v1.1h-1.6zM328.8 630.0h1.6v1.1h-1.6zM316.9 644.6h1.6v1.1h-1.6zM358.3 617.1h1.6v1.1h-1.6zM219.3 647.6h1.6v1.1h-1.6zM352.4 632.6h1.6v1.1h-1.6zM183.8 751.9h1.6v1.1h-1.6zM98.0 711.1h1.6v1.1h-1.6zM59.6 716.0h1.6v1.1h-1.6zM382.0 614.5h1.6v1.1h-1.6zM251.8 718.1h1.6v1.1h-1.6zM207.5 734.5h1.6v1.1h-1.6zM133.5 749.1h1.6v1.1h-1.6zM219.3 601.4h1.6v1.1h-1.6zM361.3 685.5h1.6v1.1h-1.6zM308.0 627.8h1.6v1.1h-1.6zM177.9 730.6h1.6v1.1h-1.6zM263.7 702.6h1.6v1.1h-1.6zM367.2 659.2h1.6v1.1h-1.6zM204.5 710.0h1.6v1.1h-1.6zM405.7 645.3h1.6v1.1h-1.6zM355.4 657.8h1.6v1.1h-1.6zM361.3 707.8h1.6v1.1h-1.6zM337.6 620.7h1.6v1.1h-1.6zM417.5 643.9h1.6v1.1h-1.6zM423.4 633.2h1.6v1.1h-1.6zM95.1 599.7h1.6v1.1h-1.6zM210.4 642.9h1.6v1.1h-1.6zM106.9 614.2h1.6v1.1h-1.6zM390.9 634.7h1.6v1.1h-1.6zM432.3 622.6h1.6v1.1h-1.6zM53.7 751.1h1.6v1.1h-1.6zM163.1 670.2h1.6v1.1h-1.6zM160.1 662.6h1.6v1.1h-1.6zM189.7 666.0h1.6v1.1h-1.6zM337.6 670.7h1.6v1.1h-1.6zM311.0 704.7h1.6v1.1h-1.6zM95.1 709.2h1.6v1.1h-1.6zM337.6 723.4h1.6v1.1h-1.6zM148.3 603.0h1.6v1.1h-1.6zM349.5 606.2h1.6v1.1h-1.6zM325.8 695.5h1.6v1.1h-1.6z" fill="#a8c0c8" opacity="0.45"/>
<rect x="10" y="396.0" width="430" height="3.0" fill="#fff"/>
<rect x="10" y="531.0" width="430" height="3.0" fill="#fff"/>
<rect x="10" y="595.0" width="430" height="3.0" fill="#fff"/>
<text x="456.9" y="212" font-size="16.2" font-weight="bold" fill="#000" text-anchor="start" >c</text>
<line x1="488.7" y1="293.1" x2="681.4" y2="293.1" stroke="#b4b4b4" stroke-width="0.8" stroke-dasharray="3.2 2.6"/>
<line x1="567.4" y1="202.4" x2="567.4" y2="355.4" stroke="#b4b4b4" stroke-width="0.8" stroke-dasharray="3.2 2.6"/>
<path d="M559.5 300.7a2.45 2.45 0 1 0 0 .01M569.5 304.9a2.45 2.45 0 1 0 0 .01M540.9 309.6a2.45 2.45 0 1 0 0 .01M571.0 293.4a2.45 2.45 0 1 0 0 .01M556.0 302.6a2.45 2.45 0 1 0 0 .01M549.4 305.7a2.45 2.45 0 1 0 0 .01M549.4 306.9a2.45 2.45 0 1 0 0 .01M547.0 306.6a2.45 2.45 0 1 0 0 .01M554.5 301.3a2.45 2.45 0 1 0 0 .01M563.6 302.5a2.45 2.45 0 1 0 0 .01M561.5 299.8a2.45 2.45 0 1 0 0 .01M561.9 293.9a2.45 2.45 0 1 0 0 .01M541.7 304.4a2.45 2.45 0 1 0 0 .01M542.7 304.2a2.45 2.45 0 1 0 0 .01M569.9 302.7a2.45 2.45 0 1 0 0 .01M564.8 304.4a2.45 2.45 0 1 0 0 .01M575.4 294.5a2.45 2.45 0 1 0 0 .01M566.9 300.8a2.45 2.45 0 1 0 0 .01M547.5 305.6a2.45 2.45 0 1 0 0 .01M567.6 295.2a2.45 2.45 0 1 0 0 .01M561.9 294.5a2.45 2.45 0 1 0 0 .01M558.3 302.2a2.45 2.45 0 1 0 0 .01M549.3 305.3a2.45 2.45 0 1 0 0 .01M556.4 300.9a2.45 2.45 0 1 0 0 .01M555.1 294.0a2.45 2.45 0 1 0 0 .01M564.1 300.9a2.45 2.45 0 1 0 0 .01M557.5 300.7a2.45 2.45 0 1 0 0 .01M570.2 296.4a2.45 2.45 0 1 0 0 .01M549.7 303.6a2.45 2.45 0 1 0 0 .01M560.5 298.1a2.45 2.45 0 1 0 0 .01M560.7 303.8a2.45 2.45 0 1 0 0 .01M548.9 304.9a2.45 2.45 0 1 0 0 .01M546.1 303.7a2.45 2.45 0 1 0 0 .01M565.2 301.6a2.45 2.45 0 1 0 0 .01M560.9 301.7a2.45 2.45 0 1 0 0 .01M555.0 298.1a2.45 2.45 0 1 0 0 .01M559.8 301.6a2.45 2.45 0 1 0 0 .01M550.5 302.9a2.45 2.45 0 1 0 0 .01M558.5 296.5a2.45 2.45 0 1 0 0 .01M551.1 302.1a2.45 2.45 0 1 0 0 .01M558.0 304.0a2.45 2.45 0 1 0 0 .01M565.0 298.6a2.45 2.45 0 1 0 0 .01M553.4 308.5a2.45 2.45 0 1 0 0 .01M563.8 306.9a2.45 2.45 0 1 0 0 .01M547.4 304.2a2.45 2.45 0 1 0 0 .01M553.9 305.5a2.45 2.45 0 1 0 0 .01M544.5 312.8a2.45 2.45 0 1 0 0 .01M555.5 302.1a2.45 2.45 0 1 0 0 .01M557.1 299.7a2.45 2.45 0 1 0 0 .01M554.7 302.0a2.45 2.45 0 1 0 0 .01M554.1 298.9a2.45 2.45 0 1 0 0 .01M568.0 295.3a2.45 2.45 0 1 0 0 .01M568.8 300.5a2.45 2.45 0 1 0 0 .01M545.8 304.3a2.45 2.45 0 1 0 0 .01M566.6 301.2a2.45 2.45 0 1 0 0 .01M541.4 308.5a2.45 2.45 0 1 0 0 .01M550.0 302.0a2.45 2.45 0 1 0 0 .01M554.9 302.7a2.45 2.45 0 1 0 0 .01M557.4 301.8a2.45 2.45 0 1 0 0 .01M547.3 303.0a2.45 2.45 0 1 0 0 .01M550.1 301.7a2.45 2.45 0 1 0 0 .01M557.1 303.9a2.45 2.45 0 1 0 0 .01M550.4 304.0a2.45 2.45 0 1 0 0 .01M550.8 305.5a2.45 2.45 0 1 0 0 .01M562.2 304.9a2.45 2.45 0 1 0 0 .01M564.5 304.3a2.45 2.45 0 1 0 0 .01M555.9 299.3a2.45 2.45 0 1 0 0 .01M556.6 300.0a2.45 2.45 0 1 0 0 .01M556.2 302.1a2.45 2.45 0 1 0 0 .01M552.4 304.4a2.45 2.45 0 1 0 0 .01M552.0 307.3a2.45 2.45 0 1 0 0 .01M547.4 302.0a2.45 2.45 0 1 0 0 .01M562.0 300.0a2.45 2.45 0 1 0 0 .01M555.7 304.0a2.45 2.45 0 1 0 0 .01M555.2 307.5a2.45 2.45 0 1 0 0 .01M558.1 307.2a2.45 2.45 0 1 0 0 .01M561.0 298.3a2.45 2.45 0 1 0 0 .01M568.7 299.0a2.45 2.45 0 1 0 0 .01M554.0 300.8a2.45 2.45 0 1 0 0 .01M552.9 306.8a2.45 2.45 0 1 0 0 .01M558.1 304.0a2.45 2.45 0 1 0 0 .01M549.1 303.6a2.45 2.45 0 1 0 0 .01M567.4 298.0a2.45 2.45 0 1 0 0 .01M564.4 301.9a2.45 2.45 0 1 0 0 .01M562.4 304.8a2.45 2.45 0 1 0 0 .01M555.4 300.6a2.45 2.45 0 1 0 0 .01M562.8 300.2a2.45 2.45 0 1 0 0 .01M565.5 301.0a2.45 2.45 0 1 0 0 .01M560.7 301.9a2.45 2.45 0 1 0 0 .01M554.0 304.7a2.45 2.45 0 1 0 0 .01M541.8 303.3a2.45 2.45 0 1 0 0 .01M564.6 298.8a2.45 2.45 0 1 0 0 .01M553.3 296.6a2.45 2.45 0 1 0 0 .01M549.1 305.0a2.45 2.45 0 1 0 0 .01M564.1 304.6a2.45 2.45 0 1 0 0 .01M559.3 295.2a2.45 2.45 0 1 0 0 .01M544.1 304.0a2.45 2.45 0 1 0 0 .01M555.5 306.3a2.45 2.45 0 1 0 0 .01M554.1 303.1a2.45 2.45 0 1 0 0 .01M565.0 294.3a2.45 2.45 0 1 0 0 .01M539.9 311.2a2.45 2.45 0 1 0 0 .01M553.0 299.0a2.45 2.45 0 1 0 0 .01M555.2 308.0a2.45 2.45 0 1 0 0 .01M568.7 297.8a2.45 2.45 0 1 0 0 .01M547.0 303.0a2.45 2.45 0 1 0 0 .01M530.9 309.7a2.45 2.45 0 1 0 0 .01M544.4 306.0a2.45 2.45 0 1 0 0 .01M558.7 304.4a2.45 2.45 0 1 0 0 .01M563.4 302.9a2.45 2.45 0 1 0 0 .01M571.5 298.6a2.45 2.45 0 1 0 0 .01M559.9 306.6a2.45 2.45 0 1 0 0 .01M549.4 307.2a2.45 2.45 0 1 0 0 .01M564.1 301.9a2.45 2.45 0 1 0 0 .01M556.3 303.4a2.45 2.45 0 1 0 0 .01M554.6 303.1a2.45 2.45 0 1 0 0 .01M556.5 302.7a2.45 2.45 0 1 0 0 .01M567.5 302.4a2.45 2.45 0 1 0 0 .01M548.6 306.6a2.45 2.45 0 1 0 0 .01M547.5 305.4a2.45 2.45 0 1 0 0 .01M555.8 306.6a2.45 2.45 0 1 0 0 .01M555.8 302.2a2.45 2.45 0 1 0 0 .01M549.3 306.3a2.45 2.45 0 1 0 0 .01M548.8 307.9a2.45 2.45 0 1 0 0 .01M559.7 298.3a2.45 2.45 0 1 0 0 .01M568.0 299.1a2.45 2.45 0 1 0 0 .01M562.6 307.1a2.45 2.45 0 1 0 0 .01M562.3 298.2a2.45 2.45 0 1 0 0 .01M567.2 304.1a2.45 2.45 0 1 0 0 .01M539.1 303.8a2.45 2.45 0 1 0 0 .01M543.3 307.7a2.45 2.45 0 1 0 0 .01M550.3 300.9a2.45 2.45 0 1 0 0 .01M546.0 303.5a2.45 2.45 0 1 0 0 .01M547.8 303.9a2.45 2.45 0 1 0 0 .01M557.0 300.9a2.45 2.45 0 1 0 0 .01M545.2 309.3a2.45 2.45 0 1 0 0 .01M552.5 306.8a2.45 2.45 0 1 0 0 .01M538.6 310.5a2.45 2.45 0 1 0 0 .01M547.9 305.8a2.45 2.45 0 1 0 0 .01M568.1 305.5a2.45 2.45 0 1 0 0 .01M551.7 307.7a2.45 2.45 0 1 0 0 .01M559.2 303.3a2.45 2.45 0 1 0 0 .01M562.5 297.8a2.45 2.45 0 1 0 0 .01M552.1 306.4a2.45 2.45 0 1 0 0 .01M561.4 303.9a2.45 2.45 0 1 0 0 .01M558.3 302.8a2.45 2.45 0 1 0 0 .01M562.5 303.8a2.45 2.45 0 1 0 0 .01M550.9 307.0a2.45 2.45 0 1 0 0 .01M543.9 305.2a2.45 2.45 0 1 0 0 .01M547.5 307.2a2.45 2.45 0 1 0 0 .01M551.6 305.4a2.45 2.45 0 1 0 0 .01M561.0 302.8a2.45 2.45 0 1 0 0 .01M554.6 302.3a2.45 2.45 0 1 0 0 .01M552.9 302.3a2.45 2.45 0 1 0 0 .01M554.8 303.8a2.45 2.45 0 1 0 0 .01M565.9 305.4a2.45 2.45 0 1 0 0 .01M551.4 312.2a2.45 2.45 0 1 0 0 .01M569.5 298.3a2.45 2.45 0 1 0 0 .01M545.7 302.1a2.45 2.45 0 1 0 0 .01M551.3 303.1a2.45 2.45 0 1 0 0 .01M563.8 298.2a2.45 2.45 0 1 0 0 .01M560.9 300.4a2.45 2.45 0 1 0 0 .01M549.0 306.2a2.45 2.45 0 1 0 0 .01M555.4 300.1a2.45 2.45 0 1 0 0 .01M550.2 306.6a2.45 2.45 0 1 0 0 .01M563.8 303.8a2.45 2.45 0 1 0 0 .01M561.1 306.9a2.45 2.45 0 1 0 0 .01M550.2 310.8a2.45 2.45 0 1 0 0 .01M559.8 305.5a2.45 2.45 0 1 0 0 .01M553.2 311.5a2.45 2.45 0 1 0 0 .01M555.8 301.4a2.45 2.45 0 1 0 0 .01M557.0 303.8a2.45 2.45 0 1 0 0 .01M551.5 304.8a2.45 2.45 0 1 0 0 .01M560.1 303.5a2.45 2.45 0 1 0 0 .01M560.4 305.4a2.45 2.45 0 1 0 0 .01M560.1 300.9a2.45 2.45 0 1 0 0 .01M566.0 306.3a2.45 2.45 0 1 0 0 .01M554.0 307.9a2.45 2.45 0 1 0 0 .01M543.5 307.5a2.45 2.45 0 1 0 0 .01M552.1 305.7a2.45 2.45 0 1 0 0 .01M558.1 299.2a2.45 2.45 0 1 0 0 .01M556.6 294.5a2.45 2.45 0 1 0 0 .01M561.4 301.4a2.45 2.45 0 1 0 0 .01M563.4 302.3a2.45 2.45 0 1 0 0 .01M555.4 304.0a2.45 2.45 0 1 0 0 .01M555.4 299.5a2.45 2.45 0 1 0 0 .01M547.8 303.7a2.45 2.45 0 1 0 0 .01M565.4 306.6a2.45 2.45 0 1 0 0 .01M554.1 306.1a2.45 2.45 0 1 0 0 .01M547.0 307.5a2.45 2.45 0 1 0 0 .01M546.7 304.4a2.45 2.45 0 1 0 0 .01M547.6 303.1a2.45 2.45 0 1 0 0 .01M549.4 310.1a2.45 2.45 0 1 0 0 .01M547.7 306.1a2.45 2.45 0 1 0 0 .01M543.8 307.0a2.45 2.45 0 1 0 0 .01M546.1 306.1a2.45 2.45 0 1 0 0 .01M542.3 307.7a2.45 2.45 0 1 0 0 .01M544.2 301.6a2.45 2.45 0 1 0 0 .01M547.1 306.1a2.45 2.45 0 1 0 0 .01M543.4 303.7a2.45 2.45 0 1 0 0 .01M544.4 304.1a2.45 2.45 0 1 0 0 .01M549.9 301.0a2.45 2.45 0 1 0 0 .01M544.6 302.4a2.45 2.45 0 1 0 0 .01M547.7 306.8a2.45 2.45 0 1 0 0 .01M544.2 305.2a2.45 2.45 0 1 0 0 .01M541.4 306.6a2.45 2.45 0 1 0 0 .01M545.2 305.7a2.45 2.45 0 1 0 0 .01M544.0 303.8a2.45 2.45 0 1 0 0 .01M538.6 305.9a2.45 2.45 0 1 0 0 .01M541.2 304.1a2.45 2.45 0 1 0 0 .01M543.8 305.7a2.45 2.45 0 1 0 0 .01M550.1 300.2a2.45 2.45 0 1 0 0 .01M543.3 305.6a2.45 2.45 0 1 0 0 .01M545.1 308.0a2.45 2.45 0 1 0 0 .01M547.3 308.2a2.45 2.45 0 1 0 0 .01M546.2 308.3a2.45 2.45 0 1 0 0 .01M544.1 307.3a2.45 2.45 0 1 0 0 .01M550.8 302.7a2.45 2.45 0 1 0 0 .01M549.6 307.1a2.45 2.45 0 1 0 0 .01M537.2 308.8a2.45 2.45 0 1 0 0 .01M548.4 306.0a2.45 2.45 0 1 0 0 .01M547.0 303.0a2.45 2.45 0 1 0 0 .01M548.4 306.2a2.45 2.45 0 1 0 0 .01M545.5 309.0a2.45 2.45 0 1 0 0 .01M547.9 307.1a2.45 2.45 0 1 0 0 .01M551.6 304.2a2.45 2.45 0 1 0 0 .01M550.8 306.0a2.45 2.45 0 1 0 0 .01M551.1 304.8a2.45 2.45 0 1 0 0 .01M548.7 305.7a2.45 2.45 0 1 0 0 .01M548.2 307.2a2.45 2.45 0 1 0 0 .01M548.3 306.1a2.45 2.45 0 1 0 0 .01M582.5 272.0a2.45 2.45 0 1 0 0 .01M584.6 283.7a2.45 2.45 0 1 0 0 .01M576.3 288.2a2.45 2.45 0 1 0 0 .01M575.1 280.2a2.45 2.45 0 1 0 0 .01M585.3 280.3a2.45 2.45 0 1 0 0 .01M577.9 278.9a2.45 2.45 0 1 0 0 .01M585.8 285.2a2.45 2.45 0 1 0 0 .01M569.3 289.2a2.45 2.45 0 1 0 0 .01M590.2 292.8a2.45 2.45 0 1 0 0 .01M581.3 281.0a2.45 2.45 0 1 0 0 .01M593.4 273.6a2.45 2.45 0 1 0 0 .01M565.0 285.4a2.45 2.45 0 1 0 0 .01M570.4 279.8a2.45 2.45 0 1 0 0 .01M591.6 279.4a2.45 2.45 0 1 0 0 .01M583.0 282.9a2.45 2.45 0 1 0 0 .01M584.0 285.5a2.45 2.45 0 1 0 0 .01M582.8 283.5a2.45 2.45 0 1 0 0 .01M583.1 279.5a2.45 2.45 0 1 0 0 .01M585.7 286.7a2.45 2.45 0 1 0 0 .01M575.1 287.0a2.45 2.45 0 1 0 0 .01M580.8 286.2a2.45 2.45 0 1 0 0 .01M590.9 273.1a2.45 2.45 0 1 0 0 .01M583.2 277.4a2.45 2.45 0 1 0 0 .01M577.7 280.3a2.45 2.45 0 1 0 0 .01M582.6 279.7a2.45 2.45 0 1 0 0 .01M589.1 268.9a2.45 2.45 0 1 0 0 .01M580.6 288.1a2.45 2.45 0 1 0 0 .01M580.8 281.3a2.45 2.45 0 1 0 0 .01M585.4 284.8a2.45 2.45 0 1 0 0 .01M587.8 283.5a2.45 2.45 0 1 0 0 .01M592.1 285.5a2.45 2.45 0 1 0 0 .01M581.1 285.0a2.45 2.45 0 1 0 0 .01M584.4 282.9a2.45 2.45 0 1 0 0 .01M589.2 275.9a2.45 2.45 0 1 0 0 .01M569.0 287.1a2.45 2.45 0 1 0 0 .01M583.0 290.0a2.45 2.45 0 1 0 0 .01M585.2 272.4a2.45 2.45 0 1 0 0 .01M581.4 278.8a2.45 2.45 0 1 0 0 .01M576.2 285.3a2.45 2.45 0 1 0 0 .01M586.0 288.3a2.45 2.45 0 1 0 0 .01M590.6 273.7a2.45 2.45 0 1 0 0 .01M581.4 280.0a2.45 2.45 0 1 0 0 .01M578.7 283.9a2.45 2.45 0 1 0 0 .01M580.6 297.4a2.45 2.45 0 1 0 0 .01M592.7 274.1a2.45 2.45 0 1 0 0 .01M590.6 278.3a2.45 2.45 0 1 0 0 .01M582.4 285.5a2.45 2.45 0 1 0 0 .01M574.6 281.3a2.45 2.45 0 1 0 0 .01M573.4 286.9a2.45 2.45 0 1 0 0 .01M579.9 284.8a2.45 2.45 0 1 0 0 .01M579.9 281.1a2.45 2.45 0 1 0 0 .01M583.9 283.1a2.45 2.45 0 1 0 0 .01M574.3 293.1a2.45 2.45 0 1 0 0 .01M581.2 283.0a2.45 2.45 0 1 0 0 .01M585.8 278.8a2.45 2.45 0 1 0 0 .01M570.5 282.6a2.45 2.45 0 1 0 0 .01M597.9 277.7a2.45 2.45 0 1 0 0 .01M586.1 285.7a2.45 2.45 0 1 0 0 .01M585.7 281.6a2.45 2.45 0 1 0 0 .01M573.2 286.7a2.45 2.45 0 1 0 0 .01M575.1 297.3a2.45 2.45 0 1 0 0 .01M589.1 276.0a2.45 2.45 0 1 0 0 .01M588.2 274.8a2.45 2.45 0 1 0 0 .01M565.4 289.3a2.45 2.45 0 1 0 0 .01M590.1 278.3a2.45 2.45 0 1 0 0 .01M587.2 283.1a2.45 2.45 0 1 0 0 .01M586.5 286.6a2.45 2.45 0 1 0 0 .01M574.5 286.5a2.45 2.45 0 1 0 0 .01M583.9 280.6a2.45 2.45 0 1 0 0 .01M578.0 286.1a2.45 2.45 0 1 0 0 .01M586.0 283.1a2.45 2.45 0 1 0 0 .01M594.9 277.2a2.45 2.45 0 1 0 0 .01M586.6 277.8a2.45 2.45 0 1 0 0 .01M589.2 282.9a2.45 2.45 0 1 0 0 .01M580.1 281.9a2.45 2.45 0 1 0 0 .01M575.2 279.1a2.45 2.45 0 1 0 0 .01M582.3 285.3a2.45 2.45 0 1 0 0 .01M589.4 277.1a2.45 2.45 0 1 0 0 .01M592.3 276.0a2.45 2.45 0 1 0 0 .01M581.8 285.3a2.45 2.45 0 1 0 0 .01M584.0 277.7a2.45 2.45 0 1 0 0 .01M579.5 282.2a2.45 2.45 0 1 0 0 .01M570.4 281.5a2.45 2.45 0 1 0 0 .01M582.8 274.5a2.45 2.45 0 1 0 0 .01M584.6 282.6a2.45 2.45 0 1 0 0 .01M579.4 290.5a2.45 2.45 0 1 0 0 .01M581.1 278.3a2.45 2.45 0 1 0 0 .01M569.9 291.9a2.45 2.45 0 1 0 0 .01M582.7 287.0a2.45 2.45 0 1 0 0 .01M591.8 285.9a2.45 2.45 0 1 0 0 .01M582.1 277.0a2.45 2.45 0 1 0 0 .01M586.4 277.5a2.45 2.45 0 1 0 0 .01M585.3 288.8a2.45 2.45 0 1 0 0 .01M577.0 283.6a2.45 2.45 0 1 0 0 .01M583.7 281.5a2.45 2.45 0 1 0 0 .01M576.6 287.4a2.45 2.45 0 1 0 0 .01M602.4 278.0a2.45 2.45 0 1 0 0 .01M583.7 278.9a2.45 2.45 0 1 0 0 .01M574.8 283.7a2.45 2.45 0 1 0 0 .01M571.7 288.8a2.45 2.45 0 1 0 0 .01M592.5 279.8a2.45 2.45 0 1 0 0 .01M586.5 277.1a2.45 2.45 0 1 0 0 .01M585.0 287.2a2.45 2.45 0 1 0 0 .01M572.9 289.4a2.45 2.45 0 1 0 0 .01M578.4 281.9a2.45 2.45 0 1 0 0 .01M573.9 282.4a2.45 2.45 0 1 0 0 .01M589.8 283.9a2.45 2.45 0 1 0 0 .01M578.7 271.8a2.45 2.45 0 1 0 0 .01M595.5 278.0a2.45 2.45 0 1 0 0 .01M585.8 278.0a2.45 2.45 0 1 0 0 .01M580.0 279.7a2.45 2.45 0 1 0 0 .01M591.5 283.1a2.45 2.45 0 1 0 0 .01M567.8 288.7a2.45 2.45 0 1 0 0 .01M576.5 298.8a2.45 2.45 0 1 0 0 .01M579.5 282.1a2.45 2.45 0 1 0 0 .01M589.6 281.4a2.45 2.45 0 1 0 0 .01M589.7 272.9a2.45 2.45 0 1 0 0 .01M584.7 286.2a2.45 2.45 0 1 0 0 .01M570.0 283.6a2.45 2.45 0 1 0 0 .01M578.6 284.5a2.45 2.45 0 1 0 0 .01M574.7 291.1a2.45 2.45 0 1 0 0 .01M590.9 284.9a2.45 2.45 0 1 0 0 .01M579.2 285.6a2.45 2.45 0 1 0 0 .01M586.3 286.9a2.45 2.45 0 1 0 0 .01M595.0 275.6a2.45 2.45 0 1 0 0 .01M581.7 278.0a2.45 2.45 0 1 0 0 .01M587.1 273.3a2.45 2.45 0 1 0 0 .01M579.6 285.8a2.45 2.45 0 1 0 0 .01M582.6 291.5a2.45 2.45 0 1 0 0 .01M582.5 280.6a2.45 2.45 0 1 0 0 .01M582.4 282.3a2.45 2.45 0 1 0 0 .01M582.7 280.6a2.45 2.45 0 1 0 0 .01M579.5 285.5a2.45 2.45 0 1 0 0 .01M595.1 269.0a2.45 2.45 0 1 0 0 .01M577.8 287.9a2.45 2.45 0 1 0 0 .01M584.0 286.8a2.45 2.45 0 1 0 0 .01M580.2 279.7a2.45 2.45 0 1 0 0 .01M566.7 282.9a2.45 2.45 0 1 0 0 .01M588.9 275.7a2.45 2.45 0 1 0 0 .01M583.8 284.3a2.45 2.45 0 1 0 0 .01M572.8 292.5a2.45 2.45 0 1 0 0 .01M577.2 279.2a2.45 2.45 0 1 0 0 .01M571.1 278.7a2.45 2.45 0 1 0 0 .01M584.2 282.0a2.45 2.45 0 1 0 0 .01M593.0 279.7a2.45 2.45 0 1 0 0 .01M590.6 282.7a2.45 2.45 0 1 0 0 .01M573.3 282.0a2.45 2.45 0 1 0 0 .01M570.3 289.9a2.45 2.45 0 1 0 0 .01M585.8 286.2a2.45 2.45 0 1 0 0 .01M593.8 270.3a2.45 2.45 0 1 0 0 .01M582.5 280.6a2.45 2.45 0 1 0 0 .01M589.4 282.6a2.45 2.45 0 1 0 0 .01M572.6 289.2a2.45 2.45 0 1 0 0 .01M581.4 279.8a2.45 2.45 0 1 0 0 .01M585.2 271.8a2.45 2.45 0 1 0 0 .01M579.3 279.4a2.45 2.45 0 1 0 0 .01M580.6 275.9a2.45 2.45 0 1 0 0 .01M586.9 278.0a2.45 2.45 0 1 0 0 .01M577.8 288.5a2.45 2.45 0 1 0 0 .01M575.3 281.5a2.45 2.45 0 1 0 0 .01M587.3 280.7a2.45 2.45 0 1 0 0 .01M583.8 275.7a2.45 2.45 0 1 0 0 .01M575.2 288.9a2.45 2.45 0 1 0 0 .01M585.1 278.0a2.45 2.45 0 1 0 0 .01M578.2 278.4a2.45 2.45 0 1 0 0 .01M586.5 289.5a2.45 2.45 0 1 0 0 .01M582.0 283.7a2.45 2.45 0 1 0 0 .01M580.1 286.0a2.45 2.45 0 1 0 0 .01M576.8 274.4a2.45 2.45 0 1 0 0 .01M583.5 288.4a2.45 2.45 0 1 0 0 .01M581.8 290.4a2.45 2.45 0 1 0 0 .01M595.1 276.8a2.45 2.45 0 1 0 0 .01M581.8 280.7a2.45 2.45 0 1 0 0 .01M572.8 282.5a2.45 2.45 0 1 0 0 .01M596.4 282.2a2.45 2.45 0 1 0 0 .01M568.0 279.5a2.45 2.45 0 1 0 0 .01M593.5 279.6a2.45 2.45 0 1 0 0 .01M576.1 293.7a2.45 2.45 0 1 0 0 .01M591.7 279.3a2.45 2.45 0 1 0 0 .01M580.8 291.9a2.45 2.45 0 1 0 0 .01M585.8 280.8a2.45 2.45 0 1 0 0 .01M582.3 280.5a2.45 2.45 0 1 0 0 .01M581.3 286.7a2.45 2.45 0 1 0 0 .01M585.7 280.4a2.45 2.45 0 1 0 0 .01M577.6 284.1a2.45 2.45 0 1 0 0 .01M585.3 279.0a2.45 2.45 0 1 0 0 .01M574.6 278.9a2.45 2.45 0 1 0 0 .01M577.0 282.3a2.45 2.45 0 1 0 0 .01M578.5 286.7a2.45 2.45 0 1 0 0 .01M581.4 287.5a2.45 2.45 0 1 0 0 .01M590.4 278.8a2.45 2.45 0 1 0 0 .01M576.3 285.5a2.45 2.45 0 1 0 0 .01M576.1 279.7a2.45 2.45 0 1 0 0 .01M574.3 283.9a2.45 2.45 0 1 0 0 .01M579.2 282.3a2.45 2.45 0 1 0 0 .01M585.9 280.1a2.45 2.45 0 1 0 0 .01M576.9 284.2a2.45 2.45 0 1 0 0 .01M580.0 284.5a2.45 2.45 0 1 0 0 .01M577.9 289.3a2.45 2.45 0 1 0 0 .01M582.6 285.6a2.45 2.45 0 1 0 0 .01M588.3 214.8a2.45 2.45 0 1 0 0 .01M639.4 230.7a2.45 2.45 0 1 0 0 .01M633.0 245.5a2.45 2.45 0 1 0 0 .01M621.0 248.5a2.45 2.45 0 1 0 0 .01M621.0 259.3a2.45 2.45 0 1 0 0 .01M628.2 262.6a2.45 2.45 0 1 0 0 .01M626.7 267.7a2.45 2.45 0 1 0 0 .01M621.5 270.3a2.45 2.45 0 1 0 0 .01M621.5 276.6a2.45 2.45 0 1 0 0 .01M621.5 274.1a2.45 2.45 0 1 0 0 .01M614.6 262.6a2.45 2.45 0 1 0 0 .01M601.9 262.1a2.45 2.45 0 1 0 0 .01M591.7 263.9a2.45 2.45 0 1 0 0 .01M595.5 265.9a2.45 2.45 0 1 0 0 .01M593.7 266.9a2.45 2.45 0 1 0 0 .01M557.2 284.8a2.45 2.45 0 1 0 0 .01M545.7 297.1a2.45 2.45 0 1 0 0 .01M545.7 312.4a2.45 2.45 0 1 0 0 .01M559.7 318.0a2.45 2.45 0 1 0 0 .01M566.1 316.8a2.45 2.45 0 1 0 0 .01M538.0 307.3a2.45 2.45 0 1 0 0 .01M609.5 284.3a2.45 2.45 0 1 0 0 .01M604.4 285.6a2.45 2.45 0 1 0 0 .01M603.2 279.2a2.45 2.45 0 1 0 0 .01M611.6 274.1a2.45 2.45 0 1 0 0 .01M614.6 270.3a2.45 2.45 0 1 0 0 .01M610.8 276.6a2.45 2.45 0 1 0 0 .01M576.3 308.6a2.45 2.45 0 1 0 0 .01M573.8 309.9a2.45 2.45 0 1 0 0 .01M582.7 303.5a2.45 2.45 0 1 0 0 .01M599.3 276.6a2.45 2.45 0 1 0 0 .01M600.6 281.8a2.45 2.45 0 1 0 0 .01M596.8 274.1a2.45 2.45 0 1 0 0 .01" fill="none" stroke="#000" stroke-width="0.75"/>
<clipPath id="cpc"><rect x="488.7" y="202.4" width="192.7" height="152.99999999999997"/></clipPath>
<g clip-path="url(#cpc)">
<line x1="488.7" y1="355.9" x2="681.4" y2="202.1" stroke="#2a2af2" stroke-width="1.25" stroke-dasharray="3.8 2.8"/>
<line x1="488.7" y1="345.6" x2="681.4" y2="222.6" stroke="#f03030" stroke-width="1.1"/>
</g>
<rect x="488.7" y="202.4" width="192.7" height="153.0" fill="none" stroke="#222" stroke-width="1.1"/>
<line x1="482.5" y1="331.0" x2="488.7" y2="331.0" stroke="#222" stroke-width="1"/>
<text x="480.7" y="334.5" font-size="11" font-weight="normal" fill="#000" text-anchor="end" >-2</text>
<line x1="520.0" y1="355.4" x2="520.0" y2="362.2" stroke="#222" stroke-width="1"/>
<text x="520" y="374" font-size="11" font-weight="normal" fill="#000" text-anchor="middle" >-2</text>
<line x1="482.5" y1="293.1" x2="488.7" y2="293.1" stroke="#222" stroke-width="1"/>
<text x="480.7" y="296.6" font-size="11" font-weight="normal" fill="#000" text-anchor="end" >0</text>
<line x1="567.4" y1="355.4" x2="567.4" y2="362.2" stroke="#222" stroke-width="1"/>
<text x="567.4" y="374" font-size="11" font-weight="normal" fill="#000" text-anchor="middle" >0</text>
<line x1="482.5" y1="255.2" x2="488.7" y2="255.2" stroke="#222" stroke-width="1"/>
<text x="480.7" y="258.7" font-size="11" font-weight="normal" fill="#000" text-anchor="end" >2</text>
<line x1="614.8" y1="355.4" x2="614.8" y2="362.2" stroke="#222" stroke-width="1"/>
<text x="614.8" y="374" font-size="11" font-weight="normal" fill="#000" text-anchor="middle" >2</text>
<line x1="482.5" y1="217.4" x2="488.7" y2="217.4" stroke="#222" stroke-width="1"/>
<text x="480.7" y="220.9" font-size="11" font-weight="normal" fill="#000" text-anchor="end" >4</text>
<line x1="662.3" y1="355.4" x2="662.3" y2="362.2" stroke="#222" stroke-width="1"/>
<text x="662.3" y="374" font-size="11" font-weight="normal" fill="#000" text-anchor="middle" >4</text>
<text x="591.2" y="384.8" font-size="7.9" text-anchor="middle" textLength="108.9" lengthAdjust="spacingAndGlyphs">Non-pregnant Log<tspan font-size="5.4" dy="1.6">2</tspan><tspan dy="-1.6"> fold change</tspan></text>
<text x="592.0" y="393.9" font-size="7.9" text-anchor="middle">Moderate vs Controls</text>
<text x="0" y="0" font-size="7.9" text-anchor="middle" textLength="92.7" lengthAdjust="spacingAndGlyphs" transform="translate(462.3 275.1) rotate(-90)">Pregnant Log<tspan font-size="5.4" dy="1.6">2</tspan><tspan dy="-1.6"> fold change</tspan></text>
<text x="0" y="0" font-size="7.9" text-anchor="middle" transform="translate(471.7 275.1) rotate(-90)">Moderate vs Controls</text>
<text x="634.7" y="322.9" font-size="7.9" font-weight="normal" fill="#000" text-anchor="start" textLength="40.3" lengthAdjust="spacingAndGlyphs" >Slope = 0.8</text>
<text x="634.7" y="332.4" font-size="7.9" font-weight="normal" fill="#000" text-anchor="start" textLength="26.6" lengthAdjust="spacingAndGlyphs" >r = 0.79</text>
<text x="634.7" y="341.9" font-size="7.9" font-weight="normal" fill="#000" text-anchor="start" textLength="31.9" lengthAdjust="spacingAndGlyphs" >p &lt; 0.001</text>
<text x="455.3" y="409" font-size="16.2" font-weight="bold" fill="#000" text-anchor="start" >d</text>
<line x1="489.0" y1="493.3" x2="682.2" y2="493.3" stroke="#b4b4b4" stroke-width="0.8" stroke-dasharray="3.2 2.6"/>
<line x1="567.5" y1="402.4" x2="567.5" y2="556.2" stroke="#b4b4b4" stroke-width="0.8" stroke-dasharray="3.2 2.6"/>
<path d="M554.7 501.9a2.45 2.45 0 1 0 0 .01M537.0 503.2a2.45 2.45 0 1 0 0 .01M541.2 502.2a2.45 2.45 0 1 0 0 .01M549.9 493.0a2.45 2.45 0 1 0 0 .01M550.5 500.4a2.45 2.45 0 1 0 0 .01M556.9 496.7a2.45 2.45 0 1 0 0 .01M531.6 507.1a2.45 2.45 0 1 0 0 .01M551.3 499.0a2.45 2.45 0 1 0 0 .01M550.8 499.5a2.45 2.45 0 1 0 0 .01M546.1 503.0a2.45 2.45 0 1 0 0 .01M541.4 499.4a2.45 2.45 0 1 0 0 .01M551.8 499.1a2.45 2.45 0 1 0 0 .01M547.9 500.6a2.45 2.45 0 1 0 0 .01M554.3 502.6a2.45 2.45 0 1 0 0 .01M529.1 500.6a2.45 2.45 0 1 0 0 .01M540.3 506.4a2.45 2.45 0 1 0 0 .01M565.1 498.7a2.45 2.45 0 1 0 0 .01M551.8 499.8a2.45 2.45 0 1 0 0 .01M541.7 504.7a2.45 2.45 0 1 0 0 .01M546.3 506.2a2.45 2.45 0 1 0 0 .01M536.4 508.5a2.45 2.45 0 1 0 0 .01M564.0 495.7a2.45 2.45 0 1 0 0 .01M564.1 504.2a2.45 2.45 0 1 0 0 .01M558.6 500.5a2.45 2.45 0 1 0 0 .01M561.8 504.5a2.45 2.45 0 1 0 0 .01M554.4 497.4a2.45 2.45 0 1 0 0 .01M563.0 499.0a2.45 2.45 0 1 0 0 .01M556.1 500.5a2.45 2.45 0 1 0 0 .01M564.0 494.9a2.45 2.45 0 1 0 0 .01M549.4 500.4a2.45 2.45 0 1 0 0 .01M548.8 505.4a2.45 2.45 0 1 0 0 .01M544.0 507.0a2.45 2.45 0 1 0 0 .01M544.9 505.2a2.45 2.45 0 1 0 0 .01M533.7 505.9a2.45 2.45 0 1 0 0 .01M563.2 498.0a2.45 2.45 0 1 0 0 .01M564.0 506.7a2.45 2.45 0 1 0 0 .01M557.2 495.9a2.45 2.45 0 1 0 0 .01M559.9 495.9a2.45 2.45 0 1 0 0 .01M552.1 498.8a2.45 2.45 0 1 0 0 .01M554.7 501.7a2.45 2.45 0 1 0 0 .01M536.1 502.8a2.45 2.45 0 1 0 0 .01M549.0 504.8a2.45 2.45 0 1 0 0 .01M531.4 499.7a2.45 2.45 0 1 0 0 .01M542.9 506.2a2.45 2.45 0 1 0 0 .01M546.8 508.7a2.45 2.45 0 1 0 0 .01M546.6 505.6a2.45 2.45 0 1 0 0 .01M539.0 502.8a2.45 2.45 0 1 0 0 .01M562.8 497.5a2.45 2.45 0 1 0 0 .01M559.8 504.0a2.45 2.45 0 1 0 0 .01M544.4 496.9a2.45 2.45 0 1 0 0 .01M537.3 501.4a2.45 2.45 0 1 0 0 .01M544.8 496.9a2.45 2.45 0 1 0 0 .01M559.2 499.7a2.45 2.45 0 1 0 0 .01M530.4 512.0a2.45 2.45 0 1 0 0 .01M557.8 499.0a2.45 2.45 0 1 0 0 .01M548.4 506.0a2.45 2.45 0 1 0 0 .01M545.7 498.9a2.45 2.45 0 1 0 0 .01M560.0 498.2a2.45 2.45 0 1 0 0 .01M549.9 499.9a2.45 2.45 0 1 0 0 .01M546.1 506.3a2.45 2.45 0 1 0 0 .01M562.2 496.6a2.45 2.45 0 1 0 0 .01M533.6 502.5a2.45 2.45 0 1 0 0 .01M566.0 499.0a2.45 2.45 0 1 0 0 .01M541.1 509.0a2.45 2.45 0 1 0 0 .01M541.2 503.7a2.45 2.45 0 1 0 0 .01M565.8 505.4a2.45 2.45 0 1 0 0 .01M583.4 497.3a2.45 2.45 0 1 0 0 .01M562.2 498.8a2.45 2.45 0 1 0 0 .01M541.2 507.6a2.45 2.45 0 1 0 0 .01M527.7 503.9a2.45 2.45 0 1 0 0 .01M552.2 498.3a2.45 2.45 0 1 0 0 .01M549.8 502.3a2.45 2.45 0 1 0 0 .01M543.8 497.5a2.45 2.45 0 1 0 0 .01M548.4 498.0a2.45 2.45 0 1 0 0 .01M542.9 500.3a2.45 2.45 0 1 0 0 .01M558.2 500.5a2.45 2.45 0 1 0 0 .01M548.8 505.8a2.45 2.45 0 1 0 0 .01M547.6 506.4a2.45 2.45 0 1 0 0 .01M527.5 505.3a2.45 2.45 0 1 0 0 .01M552.3 502.3a2.45 2.45 0 1 0 0 .01M535.0 503.5a2.45 2.45 0 1 0 0 .01M557.1 495.6a2.45 2.45 0 1 0 0 .01M549.3 503.5a2.45 2.45 0 1 0 0 .01M529.1 503.1a2.45 2.45 0 1 0 0 .01M546.3 505.2a2.45 2.45 0 1 0 0 .01M537.6 502.2a2.45 2.45 0 1 0 0 .01M555.3 497.4a2.45 2.45 0 1 0 0 .01M554.2 502.3a2.45 2.45 0 1 0 0 .01M560.3 498.1a2.45 2.45 0 1 0 0 .01M541.8 498.7a2.45 2.45 0 1 0 0 .01M554.6 504.7a2.45 2.45 0 1 0 0 .01M535.7 505.6a2.45 2.45 0 1 0 0 .01M552.9 502.5a2.45 2.45 0 1 0 0 .01M547.2 502.7a2.45 2.45 0 1 0 0 .01M551.9 499.6a2.45 2.45 0 1 0 0 .01M549.4 492.1a2.45 2.45 0 1 0 0 .01M559.9 498.1a2.45 2.45 0 1 0 0 .01M546.0 501.0a2.45 2.45 0 1 0 0 .01M547.7 503.8a2.45 2.45 0 1 0 0 .01M563.7 494.8a2.45 2.45 0 1 0 0 .01M548.8 503.8a2.45 2.45 0 1 0 0 .01M544.1 503.1a2.45 2.45 0 1 0 0 .01M540.4 508.9a2.45 2.45 0 1 0 0 .01M549.6 499.4a2.45 2.45 0 1 0 0 .01M549.2 502.1a2.45 2.45 0 1 0 0 .01M556.0 501.7a2.45 2.45 0 1 0 0 .01M547.8 504.4a2.45 2.45 0 1 0 0 .01M556.5 505.3a2.45 2.45 0 1 0 0 .01M546.8 504.2a2.45 2.45 0 1 0 0 .01M565.6 494.1a2.45 2.45 0 1 0 0 .01M549.0 508.0a2.45 2.45 0 1 0 0 .01M556.4 493.7a2.45 2.45 0 1 0 0 .01M553.4 503.6a2.45 2.45 0 1 0 0 .01M536.2 509.1a2.45 2.45 0 1 0 0 .01M559.9 497.7a2.45 2.45 0 1 0 0 .01M545.2 502.6a2.45 2.45 0 1 0 0 .01M558.8 500.1a2.45 2.45 0 1 0 0 .01M529.2 501.7a2.45 2.45 0 1 0 0 .01M530.7 506.7a2.45 2.45 0 1 0 0 .01M529.2 502.3a2.45 2.45 0 1 0 0 .01M531.2 506.5a2.45 2.45 0 1 0 0 .01M545.4 504.9a2.45 2.45 0 1 0 0 .01M549.0 506.0a2.45 2.45 0 1 0 0 .01M539.4 508.7a2.45 2.45 0 1 0 0 .01M545.8 504.2a2.45 2.45 0 1 0 0 .01M542.4 505.1a2.45 2.45 0 1 0 0 .01M556.8 500.0a2.45 2.45 0 1 0 0 .01M556.5 500.6a2.45 2.45 0 1 0 0 .01M552.3 504.7a2.45 2.45 0 1 0 0 .01M555.8 503.7a2.45 2.45 0 1 0 0 .01M566.6 500.7a2.45 2.45 0 1 0 0 .01M555.8 500.9a2.45 2.45 0 1 0 0 .01M533.9 508.6a2.45 2.45 0 1 0 0 .01M547.1 498.5a2.45 2.45 0 1 0 0 .01M546.2 500.8a2.45 2.45 0 1 0 0 .01M557.5 501.4a2.45 2.45 0 1 0 0 .01M554.1 505.3a2.45 2.45 0 1 0 0 .01M558.0 496.2a2.45 2.45 0 1 0 0 .01M533.6 501.1a2.45 2.45 0 1 0 0 .01M563.4 495.3a2.45 2.45 0 1 0 0 .01M547.7 505.0a2.45 2.45 0 1 0 0 .01M558.9 503.2a2.45 2.45 0 1 0 0 .01M554.1 506.7a2.45 2.45 0 1 0 0 .01M540.3 511.8a2.45 2.45 0 1 0 0 .01M540.9 499.4a2.45 2.45 0 1 0 0 .01M555.2 500.4a2.45 2.45 0 1 0 0 .01M560.7 498.1a2.45 2.45 0 1 0 0 .01M539.9 499.9a2.45 2.45 0 1 0 0 .01M537.5 504.4a2.45 2.45 0 1 0 0 .01M528.3 503.9a2.45 2.45 0 1 0 0 .01M539.6 504.4a2.45 2.45 0 1 0 0 .01M541.5 502.3a2.45 2.45 0 1 0 0 .01M546.0 497.6a2.45 2.45 0 1 0 0 .01M555.0 503.2a2.45 2.45 0 1 0 0 .01M543.9 505.1a2.45 2.45 0 1 0 0 .01M537.6 502.7a2.45 2.45 0 1 0 0 .01M545.0 495.2a2.45 2.45 0 1 0 0 .01M548.0 494.1a2.45 2.45 0 1 0 0 .01M550.3 497.0a2.45 2.45 0 1 0 0 .01M550.1 503.3a2.45 2.45 0 1 0 0 .01M547.0 504.9a2.45 2.45 0 1 0 0 .01M554.3 501.4a2.45 2.45 0 1 0 0 .01M545.8 503.0a2.45 2.45 0 1 0 0 .01M538.2 495.1a2.45 2.45 0 1 0 0 .01M547.0 503.8a2.45 2.45 0 1 0 0 .01M567.5 496.4a2.45 2.45 0 1 0 0 .01M540.4 502.7a2.45 2.45 0 1 0 0 .01M573.4 494.3a2.45 2.45 0 1 0 0 .01M543.6 496.0a2.45 2.45 0 1 0 0 .01M555.9 503.6a2.45 2.45 0 1 0 0 .01M532.5 506.4a2.45 2.45 0 1 0 0 .01M547.7 498.6a2.45 2.45 0 1 0 0 .01M563.2 494.0a2.45 2.45 0 1 0 0 .01M536.9 502.0a2.45 2.45 0 1 0 0 .01M541.4 506.5a2.45 2.45 0 1 0 0 .01M551.9 503.5a2.45 2.45 0 1 0 0 .01M552.3 501.7a2.45 2.45 0 1 0 0 .01M533.8 508.1a2.45 2.45 0 1 0 0 .01M536.0 505.6a2.45 2.45 0 1 0 0 .01M551.6 498.2a2.45 2.45 0 1 0 0 .01M551.7 503.9a2.45 2.45 0 1 0 0 .01M556.1 500.6a2.45 2.45 0 1 0 0 .01M547.1 499.5a2.45 2.45 0 1 0 0 .01M555.0 505.0a2.45 2.45 0 1 0 0 .01M560.9 501.5a2.45 2.45 0 1 0 0 .01M536.4 499.2a2.45 2.45 0 1 0 0 .01M559.0 503.0a2.45 2.45 0 1 0 0 .01M556.4 501.5a2.45 2.45 0 1 0 0 .01M561.6 498.5a2.45 2.45 0 1 0 0 .01M544.9 501.2a2.45 2.45 0 1 0 0 .01M548.4 498.5a2.45 2.45 0 1 0 0 .01M549.6 496.8a2.45 2.45 0 1 0 0 .01M543.9 504.0a2.45 2.45 0 1 0 0 .01M558.9 502.0a2.45 2.45 0 1 0 0 .01M551.1 500.5a2.45 2.45 0 1 0 0 .01M538.8 504.8a2.45 2.45 0 1 0 0 .01M551.4 500.3a2.45 2.45 0 1 0 0 .01M538.1 502.8a2.45 2.45 0 1 0 0 .01M533.1 506.8a2.45 2.45 0 1 0 0 .01M538.4 505.7a2.45 2.45 0 1 0 0 .01M549.0 507.1a2.45 2.45 0 1 0 0 .01M549.9 500.3a2.45 2.45 0 1 0 0 .01M547.7 503.6a2.45 2.45 0 1 0 0 .01M554.2 500.6a2.45 2.45 0 1 0 0 .01M568.0 499.4a2.45 2.45 0 1 0 0 .01M537.5 508.6a2.45 2.45 0 1 0 0 .01M553.1 502.8a2.45 2.45 0 1 0 0 .01M551.5 498.9a2.45 2.45 0 1 0 0 .01M536.9 502.7a2.45 2.45 0 1 0 0 .01M543.7 501.0a2.45 2.45 0 1 0 0 .01M550.8 500.8a2.45 2.45 0 1 0 0 .01M549.1 499.7a2.45 2.45 0 1 0 0 .01M540.5 501.9a2.45 2.45 0 1 0 0 .01M556.4 500.2a2.45 2.45 0 1 0 0 .01M551.2 502.8a2.45 2.45 0 1 0 0 .01M555.2 498.0a2.45 2.45 0 1 0 0 .01M564.6 499.5a2.45 2.45 0 1 0 0 .01M536.1 504.6a2.45 2.45 0 1 0 0 .01M558.6 503.3a2.45 2.45 0 1 0 0 .01M553.5 502.2a2.45 2.45 0 1 0 0 .01M540.1 505.5a2.45 2.45 0 1 0 0 .01M548.2 503.2a2.45 2.45 0 1 0 0 .01M544.6 506.9a2.45 2.45 0 1 0 0 .01M537.1 503.8a2.45 2.45 0 1 0 0 .01M556.8 495.4a2.45 2.45 0 1 0 0 .01M541.1 504.7a2.45 2.45 0 1 0 0 .01M528.5 502.3a2.45 2.45 0 1 0 0 .01M556.9 492.8a2.45 2.45 0 1 0 0 .01M543.9 504.6a2.45 2.45 0 1 0 0 .01M552.4 501.3a2.45 2.45 0 1 0 0 .01M589.0 481.5a2.45 2.45 0 1 0 0 .01M590.9 482.4a2.45 2.45 0 1 0 0 .01M586.3 488.7a2.45 2.45 0 1 0 0 .01M595.4 481.1a2.45 2.45 0 1 0 0 .01M588.0 479.7a2.45 2.45 0 1 0 0 .01M585.3 480.3a2.45 2.45 0 1 0 0 .01M587.7 480.3a2.45 2.45 0 1 0 0 .01M572.6 485.2a2.45 2.45 0 1 0 0 .01M591.2 484.1a2.45 2.45 0 1 0 0 .01M576.7 485.4a2.45 2.45 0 1 0 0 .01M590.4 482.8a2.45 2.45 0 1 0 0 .01M586.5 484.5a2.45 2.45 0 1 0 0 .01M588.0 484.5a2.45 2.45 0 1 0 0 .01M581.6 487.7a2.45 2.45 0 1 0 0 .01M599.7 485.0a2.45 2.45 0 1 0 0 .01M572.6 484.0a2.45 2.45 0 1 0 0 .01M586.5 483.0a2.45 2.45 0 1 0 0 .01M580.9 485.1a2.45 2.45 0 1 0 0 .01M575.9 486.2a2.45 2.45 0 1 0 0 .01M597.9 484.2a2.45 2.45 0 1 0 0 .01M588.8 486.2a2.45 2.45 0 1 0 0 .01M605.2 477.0a2.45 2.45 0 1 0 0 .01M593.2 488.6a2.45 2.45 0 1 0 0 .01M591.1 484.9a2.45 2.45 0 1 0 0 .01M591.6 485.4a2.45 2.45 0 1 0 0 .01M578.1 484.0a2.45 2.45 0 1 0 0 .01M577.9 489.2a2.45 2.45 0 1 0 0 .01M598.0 480.0a2.45 2.45 0 1 0 0 .01M593.5 478.9a2.45 2.45 0 1 0 0 .01M582.2 485.7a2.45 2.45 0 1 0 0 .01M588.4 479.9a2.45 2.45 0 1 0 0 .01M588.8 479.6a2.45 2.45 0 1 0 0 .01M596.5 483.3a2.45 2.45 0 1 0 0 .01M590.1 486.1a2.45 2.45 0 1 0 0 .01M582.6 482.6a2.45 2.45 0 1 0 0 .01M593.6 485.9a2.45 2.45 0 1 0 0 .01M583.8 489.2a2.45 2.45 0 1 0 0 .01M591.9 487.0a2.45 2.45 0 1 0 0 .01M583.5 486.2a2.45 2.45 0 1 0 0 .01M564.8 488.6a2.45 2.45 0 1 0 0 .01M599.5 486.5a2.45 2.45 0 1 0 0 .01M581.0 484.2a2.45 2.45 0 1 0 0 .01M595.0 483.7a2.45 2.45 0 1 0 0 .01M592.4 486.8a2.45 2.45 0 1 0 0 .01M583.9 491.2a2.45 2.45 0 1 0 0 .01M579.3 487.2a2.45 2.45 0 1 0 0 .01M601.8 481.3a2.45 2.45 0 1 0 0 .01M589.5 485.4a2.45 2.45 0 1 0 0 .01M597.2 482.3a2.45 2.45 0 1 0 0 .01M590.3 487.4a2.45 2.45 0 1 0 0 .01M594.8 486.1a2.45 2.45 0 1 0 0 .01M589.6 489.9a2.45 2.45 0 1 0 0 .01M578.5 486.1a2.45 2.45 0 1 0 0 .01M582.3 488.1a2.45 2.45 0 1 0 0 .01M590.7 480.6a2.45 2.45 0 1 0 0 .01M579.3 484.7a2.45 2.45 0 1 0 0 .01M585.4 489.9a2.45 2.45 0 1 0 0 .01M587.2 483.2a2.45 2.45 0 1 0 0 .01M596.0 475.0a2.45 2.45 0 1 0 0 .01M599.7 479.0a2.45 2.45 0 1 0 0 .01M572.9 485.9a2.45 2.45 0 1 0 0 .01M591.0 476.5a2.45 2.45 0 1 0 0 .01M601.1 481.3a2.45 2.45 0 1 0 0 .01M578.0 489.6a2.45 2.45 0 1 0 0 .01M580.1 484.1a2.45 2.45 0 1 0 0 .01M596.5 485.4a2.45 2.45 0 1 0 0 .01M589.2 476.0a2.45 2.45 0 1 0 0 .01M583.9 487.7a2.45 2.45 0 1 0 0 .01M589.5 483.5a2.45 2.45 0 1 0 0 .01M593.3 490.9a2.45 2.45 0 1 0 0 .01M588.7 483.8a2.45 2.45 0 1 0 0 .01M590.9 483.1a2.45 2.45 0 1 0 0 .01M589.6 483.4a2.45 2.45 0 1 0 0 .01M591.0 481.9a2.45 2.45 0 1 0 0 .01M589.7 482.1a2.45 2.45 0 1 0 0 .01M591.3 485.6a2.45 2.45 0 1 0 0 .01M587.1 485.2a2.45 2.45 0 1 0 0 .01M596.4 482.9a2.45 2.45 0 1 0 0 .01M586.2 485.4a2.45 2.45 0 1 0 0 .01M584.7 482.3a2.45 2.45 0 1 0 0 .01M577.9 493.4a2.45 2.45 0 1 0 0 .01M583.0 481.6a2.45 2.45 0 1 0 0 .01M589.5 487.0a2.45 2.45 0 1 0 0 .01M587.1 483.6a2.45 2.45 0 1 0 0 .01M592.8 486.6a2.45 2.45 0 1 0 0 .01M579.9 485.2a2.45 2.45 0 1 0 0 .01M583.8 489.0a2.45 2.45 0 1 0 0 .01M574.0 489.4a2.45 2.45 0 1 0 0 .01M586.4 488.7a2.45 2.45 0 1 0 0 .01M595.4 489.4a2.45 2.45 0 1 0 0 .01M591.8 483.8a2.45 2.45 0 1 0 0 .01M585.4 485.2a2.45 2.45 0 1 0 0 .01M591.8 474.3a2.45 2.45 0 1 0 0 .01M590.3 483.5a2.45 2.45 0 1 0 0 .01M581.8 488.9a2.45 2.45 0 1 0 0 .01M580.9 484.9a2.45 2.45 0 1 0 0 .01M581.6 485.9a2.45 2.45 0 1 0 0 .01M591.5 482.5a2.45 2.45 0 1 0 0 .01M592.5 475.9a2.45 2.45 0 1 0 0 .01M591.2 486.4a2.45 2.45 0 1 0 0 .01M586.4 481.8a2.45 2.45 0 1 0 0 .01M602.0 475.5a2.45 2.45 0 1 0 0 .01M586.8 487.9a2.45 2.45 0 1 0 0 .01M591.8 484.5a2.45 2.45 0 1 0 0 .01M589.6 485.7a2.45 2.45 0 1 0 0 .01M595.8 482.5a2.45 2.45 0 1 0 0 .01M576.1 484.7a2.45 2.45 0 1 0 0 .01M592.0 486.3a2.45 2.45 0 1 0 0 .01M586.9 481.2a2.45 2.45 0 1 0 0 .01M587.6 485.1a2.45 2.45 0 1 0 0 .01M580.7 482.3a2.45 2.45 0 1 0 0 .01M583.0 481.3a2.45 2.45 0 1 0 0 .01M597.1 484.7a2.45 2.45 0 1 0 0 .01M594.6 479.6a2.45 2.45 0 1 0 0 .01M577.9 492.5a2.45 2.45 0 1 0 0 .01M590.1 478.8a2.45 2.45 0 1 0 0 .01M584.7 488.8a2.45 2.45 0 1 0 0 .01M596.1 481.0a2.45 2.45 0 1 0 0 .01M591.5 486.0a2.45 2.45 0 1 0 0 .01M593.8 485.2a2.45 2.45 0 1 0 0 .01M587.8 477.5a2.45 2.45 0 1 0 0 .01M588.6 486.2a2.45 2.45 0 1 0 0 .01M583.5 484.1a2.45 2.45 0 1 0 0 .01M577.3 483.4a2.45 2.45 0 1 0 0 .01M584.1 488.9a2.45 2.45 0 1 0 0 .01M597.2 483.1a2.45 2.45 0 1 0 0 .01M598.0 483.1a2.45 2.45 0 1 0 0 .01M581.9 490.8a2.45 2.45 0 1 0 0 .01M582.0 489.3a2.45 2.45 0 1 0 0 .01M582.7 485.8a2.45 2.45 0 1 0 0 .01M582.5 482.6a2.45 2.45 0 1 0 0 .01M579.6 491.6a2.45 2.45 0 1 0 0 .01M583.1 483.0a2.45 2.45 0 1 0 0 .01M592.8 477.1a2.45 2.45 0 1 0 0 .01M593.3 489.7a2.45 2.45 0 1 0 0 .01M600.3 488.5a2.45 2.45 0 1 0 0 .01M586.8 478.5a2.45 2.45 0 1 0 0 .01M572.4 489.5a2.45 2.45 0 1 0 0 .01M583.8 480.0a2.45 2.45 0 1 0 0 .01M580.2 488.4a2.45 2.45 0 1 0 0 .01M585.4 483.2a2.45 2.45 0 1 0 0 .01M582.5 480.5a2.45 2.45 0 1 0 0 .01M594.9 485.8a2.45 2.45 0 1 0 0 .01M581.8 482.6a2.45 2.45 0 1 0 0 .01M587.9 485.6a2.45 2.45 0 1 0 0 .01M600.9 478.4a2.45 2.45 0 1 0 0 .01M587.7 490.4a2.45 2.45 0 1 0 0 .01M575.8 491.2a2.45 2.45 0 1 0 0 .01M594.3 480.9a2.45 2.45 0 1 0 0 .01M591.2 475.5a2.45 2.45 0 1 0 0 .01M591.8 484.5a2.45 2.45 0 1 0 0 .01M592.8 479.5a2.45 2.45 0 1 0 0 .01M580.9 490.2a2.45 2.45 0 1 0 0 .01M580.6 491.7a2.45 2.45 0 1 0 0 .01M588.9 483.9a2.45 2.45 0 1 0 0 .01M575.5 490.6a2.45 2.45 0 1 0 0 .01M581.7 481.0a2.45 2.45 0 1 0 0 .01M596.1 484.1a2.45 2.45 0 1 0 0 .01M578.6 492.5a2.45 2.45 0 1 0 0 .01M590.3 478.5a2.45 2.45 0 1 0 0 .01M595.5 484.9a2.45 2.45 0 1 0 0 .01M587.3 485.1a2.45 2.45 0 1 0 0 .01M584.5 488.1a2.45 2.45 0 1 0 0 .01M597.3 481.9a2.45 2.45 0 1 0 0 .01M577.8 486.4a2.45 2.45 0 1 0 0 .01M599.8 485.4a2.45 2.45 0 1 0 0 .01M581.3 485.9a2.45 2.45 0 1 0 0 .01M588.0 485.7a2.45 2.45 0 1 0 0 .01M579.8 481.2a2.45 2.45 0 1 0 0 .01M580.0 487.5a2.45 2.45 0 1 0 0 .01M594.9 484.7a2.45 2.45 0 1 0 0 .01M588.3 483.4a2.45 2.45 0 1 0 0 .01M591.5 482.9a2.45 2.45 0 1 0 0 .01M578.3 479.2a2.45 2.45 0 1 0 0 .01M585.2 480.9a2.45 2.45 0 1 0 0 .01M578.8 485.4a2.45 2.45 0 1 0 0 .01M587.5 482.9a2.45 2.45 0 1 0 0 .01M591.1 491.1a2.45 2.45 0 1 0 0 .01M591.4 485.9a2.45 2.45 0 1 0 0 .01M591.5 478.8a2.45 2.45 0 1 0 0 .01M583.0 493.5a2.45 2.45 0 1 0 0 .01M591.9 477.9a2.45 2.45 0 1 0 0 .01M584.6 480.6a2.45 2.45 0 1 0 0 .01M597.6 478.3a2.45 2.45 0 1 0 0 .01M586.5 484.1a2.45 2.45 0 1 0 0 .01M596.4 491.2a2.45 2.45 0 1 0 0 .01M585.2 483.7a2.45 2.45 0 1 0 0 .01M592.6 484.8a2.45 2.45 0 1 0 0 .01M589.4 478.3a2.45 2.45 0 1 0 0 .01M577.1 485.1a2.45 2.45 0 1 0 0 .01M592.6 492.2a2.45 2.45 0 1 0 0 .01M581.1 490.5a2.45 2.45 0 1 0 0 .01M574.8 490.7a2.45 2.45 0 1 0 0 .01M588.8 489.4a2.45 2.45 0 1 0 0 .01M596.0 484.1a2.45 2.45 0 1 0 0 .01M593.1 484.7a2.45 2.45 0 1 0 0 .01M581.6 481.7a2.45 2.45 0 1 0 0 .01M575.3 481.7a2.45 2.45 0 1 0 0 .01M568.3 486.6a2.45 2.45 0 1 0 0 .01M583.1 484.0a2.45 2.45 0 1 0 0 .01M609.0 420.4a2.45 2.45 0 1 0 0 .01M668.8 423.0a2.45 2.45 0 1 0 0 .01M633.8 446.8a2.45 2.45 0 1 0 0 .01M645.3 449.3a2.45 2.45 0 1 0 0 .01M652.5 449.3a2.45 2.45 0 1 0 0 .01M624.9 454.4a2.45 2.45 0 1 0 0 .01M622.3 460.0a2.45 2.45 0 1 0 0 .01M614.6 461.3a2.45 2.45 0 1 0 0 .01M612.1 467.7a2.45 2.45 0 1 0 0 .01M652.5 460.8a2.45 2.45 0 1 0 0 .01M645.3 462.6a2.45 2.45 0 1 0 0 .01M637.6 465.2a2.45 2.45 0 1 0 0 .01M638.9 469.5a2.45 2.45 0 1 0 0 .01M628.7 469.0a2.45 2.45 0 1 0 0 .01M624.4 469.5a2.45 2.45 0 1 0 0 .01M637.6 477.9a2.45 2.45 0 1 0 0 .01M619.2 483.5a2.45 2.45 0 1 0 0 .01M614.6 478.7a2.45 2.45 0 1 0 0 .01M611.6 483.0a2.45 2.45 0 1 0 0 .01M607.0 480.5a2.45 2.45 0 1 0 0 .01M610.8 492.7a2.45 2.45 0 1 0 0 .01M590.4 460.0a2.45 2.45 0 1 0 0 .01M594.7 462.6a2.45 2.45 0 1 0 0 .01M573.0 477.2a2.45 2.45 0 1 0 0 .01M534.2 526.5a2.45 2.45 0 1 0 0 .01M546.9 520.1a2.45 2.45 0 1 0 0 .01M546.9 516.2a2.45 2.45 0 1 0 0 .01M537.5 514.5a2.45 2.45 0 1 0 0 .01M534.2 512.4a2.45 2.45 0 1 0 0 .01M563.5 508.6a2.45 2.45 0 1 0 0 .01M571.2 502.2a2.45 2.45 0 1 0 0 .01M601.9 474.1a2.45 2.45 0 1 0 0 .01M604.4 476.6a2.45 2.45 0 1 0 0 .01M600.6 486.9a2.45 2.45 0 1 0 0 .01M603.2 488.1a2.45 2.45 0 1 0 0 .01" fill="none" stroke="#000" stroke-width="0.75"/>
<clipPath id="cpd"><rect x="489.0" y="402.4" width="193.20000000000005" height="153.80000000000007"/></clipPath>
<g clip-path="url(#cpd)">
<line x1="489.0" y1="555.9" x2="682.2" y2="401.8" stroke="#2a2af2" stroke-width="1.25" stroke-dasharray="3.8 2.8"/>
<line x1="489.0" y1="529.4" x2="682.2" y2="440.0" stroke="#f03030" stroke-width="1.1"/>
</g>
<rect x="489.0" y="402.4" width="193.2" height="153.8" fill="none" stroke="#222" stroke-width="1.1"/>
<line x1="482.8" y1="531.2" x2="489.0" y2="531.2" stroke="#222" stroke-width="1"/>
<text x="481" y="534.7" font-size="11" font-weight="normal" fill="#000" text-anchor="end" >-2</text>
<line x1="520.1" y1="556.2" x2="520.1" y2="563.0" stroke="#222" stroke-width="1"/>
<text x="520.1" y="574.9" font-size="11" font-weight="normal" fill="#000" text-anchor="middle" >-2</text>
<line x1="482.8" y1="493.3" x2="489.0" y2="493.3" stroke="#222" stroke-width="1"/>
<text x="481" y="496.8" font-size="11" font-weight="normal" fill="#000" text-anchor="end" >0</text>
<line x1="567.5" y1="556.2" x2="567.5" y2="563.0" stroke="#222" stroke-width="1"/>
<text x="567.5" y="574.9" font-size="11" font-weight="normal" fill="#000" text-anchor="middle" >0</text>
<line x1="482.8" y1="455.4" x2="489.0" y2="455.4" stroke="#222" stroke-width="1"/>
<text x="481" y="458.9" font-size="11" font-weight="normal" fill="#000" text-anchor="end" >2</text>
<line x1="614.9" y1="556.2" x2="614.9" y2="563.0" stroke="#222" stroke-width="1"/>
<text x="614.9" y="574.9" font-size="11" font-weight="normal" fill="#000" text-anchor="middle" >2</text>
<line x1="482.8" y1="417.6" x2="489.0" y2="417.6" stroke="#222" stroke-width="1"/>
<text x="481" y="421.1" font-size="11" font-weight="normal" fill="#000" text-anchor="end" >4</text>
<line x1="662.4" y1="556.2" x2="662.4" y2="563.0" stroke="#222" stroke-width="1"/>
<text x="662.4" y="574.9" font-size="11" font-weight="normal" fill="#000" text-anchor="middle" >4</text>
<text x="591.2" y="584.2" font-size="7.9" text-anchor="middle" textLength="108.9" lengthAdjust="spacingAndGlyphs">Non-pregnant Log<tspan font-size="5.4" dy="1.6">2</tspan><tspan dy="-1.6"> fold change</tspan></text>
<text x="592.0" y="593.4" font-size="7.9" text-anchor="middle">Severe vs Controls</text>
<text x="0" y="0" font-size="7.9" text-anchor="middle" textLength="92.7" lengthAdjust="spacingAndGlyphs" transform="translate(462.3 475.5) rotate(-90)">Pregnant Log<tspan font-size="5.4" dy="1.6">2</tspan><tspan dy="-1.6"> fold change</tspan></text>
<text x="0" y="0" font-size="7.9" text-anchor="middle" transform="translate(471.7 475.5) rotate(-90)">Severe vs Controls</text>
<text x="623.7" y="523.4" font-size="7.9" font-weight="normal" fill="#000" text-anchor="start" textLength="44.2" lengthAdjust="spacingAndGlyphs" >Slope = 0.58</text>
<text x="623.7" y="532.9" font-size="7.9" font-weight="normal" fill="#000" text-anchor="start" textLength="26.3" lengthAdjust="spacingAndGlyphs" >r = 0.86</text>
<text x="623.7" y="542.4" font-size="7.9" font-weight="normal" fill="#000" text-anchor="start" textLength="32.4" lengthAdjust="spacingAndGlyphs" >p &lt; 0.001</text>
<text x="456.3" y="612.3" font-size="16.2" font-weight="bold" fill="#000" text-anchor="start" >e</text>
<line x1="489.0" y1="694.2" x2="684.4" y2="694.2" stroke="#b4b4b4" stroke-width="0.8" stroke-dasharray="3.2 2.6"/>
<line x1="568.1" y1="601.9" x2="568.1" y2="757.0" stroke="#b4b4b4" stroke-width="0.8" stroke-dasharray="3.2 2.6"/>
<path d="M548.7 706.6a2.45 2.45 0 1 0 0 .01M558.3 705.0a2.45 2.45 0 1 0 0 .01M565.3 698.1a2.45 2.45 0 1 0 0 .01M553.7 704.7a2.45 2.45 0 1 0 0 .01M543.9 703.3a2.45 2.45 0 1 0 0 .01M546.0 704.8a2.45 2.45 0 1 0 0 .01M560.4 704.4a2.45 2.45 0 1 0 0 .01M558.8 702.1a2.45 2.45 0 1 0 0 .01M555.2 707.4a2.45 2.45 0 1 0 0 .01M557.8 701.5a2.45 2.45 0 1 0 0 .01M560.9 701.4a2.45 2.45 0 1 0 0 .01M554.1 702.8a2.45 2.45 0 1 0 0 .01M555.7 705.4a2.45 2.45 0 1 0 0 .01M551.6 706.5a2.45 2.45 0 1 0 0 .01M541.3 711.5a2.45 2.45 0 1 0 0 .01M554.4 703.7a2.45 2.45 0 1 0 0 .01M553.5 702.6a2.45 2.45 0 1 0 0 .01M556.3 705.6a2.45 2.45 0 1 0 0 .01M550.2 712.7a2.45 2.45 0 1 0 0 .01M556.3 707.9a2.45 2.45 0 1 0 0 .01M556.1 697.4a2.45 2.45 0 1 0 0 .01M551.0 706.1a2.45 2.45 0 1 0 0 .01M547.3 705.0a2.45 2.45 0 1 0 0 .01M549.3 705.3a2.45 2.45 0 1 0 0 .01M555.8 707.9a2.45 2.45 0 1 0 0 .01M559.2 704.2a2.45 2.45 0 1 0 0 .01M565.2 702.3a2.45 2.45 0 1 0 0 .01M553.0 699.2a2.45 2.45 0 1 0 0 .01M556.8 704.1a2.45 2.45 0 1 0 0 .01M561.3 700.7a2.45 2.45 0 1 0 0 .01M547.3 707.5a2.45 2.45 0 1 0 0 .01M557.6 708.4a2.45 2.45 0 1 0 0 .01M550.7 702.5a2.45 2.45 0 1 0 0 .01M551.3 704.8a2.45 2.45 0 1 0 0 .01M558.5 706.4a2.45 2.45 0 1 0 0 .01M552.2 699.3a2.45 2.45 0 1 0 0 .01M555.8 702.0a2.45 2.45 0 1 0 0 .01M546.6 701.1a2.45 2.45 0 1 0 0 .01M553.2 702.9a2.45 2.45 0 1 0 0 .01M548.1 706.0a2.45 2.45 0 1 0 0 .01M551.7 704.2a2.45 2.45 0 1 0 0 .01M571.9 706.7a2.45 2.45 0 1 0 0 .01M553.8 708.1a2.45 2.45 0 1 0 0 .01M552.3 706.1a2.45 2.45 0 1 0 0 .01M551.1 710.0a2.45 2.45 0 1 0 0 .01M548.7 713.5a2.45 2.45 0 1 0 0 .01M565.3 701.2a2.45 2.45 0 1 0 0 .01M549.2 705.4a2.45 2.45 0 1 0 0 .01M569.1 703.1a2.45 2.45 0 1 0 0 .01M552.3 709.5a2.45 2.45 0 1 0 0 .01M561.7 695.8a2.45 2.45 0 1 0 0 .01M554.5 704.8a2.45 2.45 0 1 0 0 .01M549.6 716.3a2.45 2.45 0 1 0 0 .01M552.5 705.6a2.45 2.45 0 1 0 0 .01M562.2 710.7a2.45 2.45 0 1 0 0 .01M552.6 714.9a2.45 2.45 0 1 0 0 .01M541.2 710.9a2.45 2.45 0 1 0 0 .01M565.9 711.5a2.45 2.45 0 1 0 0 .01M549.1 706.4a2.45 2.45 0 1 0 0 .01M551.6 699.0a2.45 2.45 0 1 0 0 .01M563.2 701.4a2.45 2.45 0 1 0 0 .01M542.8 713.3a2.45 2.45 0 1 0 0 .01M550.4 716.3a2.45 2.45 0 1 0 0 .01M557.8 706.7a2.45 2.45 0 1 0 0 .01M557.8 698.2a2.45 2.45 0 1 0 0 .01M557.4 704.5a2.45 2.45 0 1 0 0 .01M547.4 699.0a2.45 2.45 0 1 0 0 .01M559.7 704.3a2.45 2.45 0 1 0 0 .01M550.7 712.2a2.45 2.45 0 1 0 0 .01M554.9 701.5a2.45 2.45 0 1 0 0 .01M547.6 703.2a2.45 2.45 0 1 0 0 .01M565.0 701.1a2.45 2.45 0 1 0 0 .01M551.3 704.5a2.45 2.45 0 1 0 0 .01M553.2 707.7a2.45 2.45 0 1 0 0 .01M550.1 707.4a2.45 2.45 0 1 0 0 .01M556.3 707.7a2.45 2.45 0 1 0 0 .01M545.0 703.3a2.45 2.45 0 1 0 0 .01M553.1 710.1a2.45 2.45 0 1 0 0 .01M552.3 708.2a2.45 2.45 0 1 0 0 .01M564.4 699.6a2.45 2.45 0 1 0 0 .01M551.6 703.7a2.45 2.45 0 1 0 0 .01M552.5 703.1a2.45 2.45 0 1 0 0 .01M554.7 698.4a2.45 2.45 0 1 0 0 .01M560.5 711.3a2.45 2.45 0 1 0 0 .01M567.1 704.9a2.45 2.45 0 1 0 0 .01M556.7 704.9a2.45 2.45 0 1 0 0 .01M557.2 709.0a2.45 2.45 0 1 0 0 .01M564.6 702.4a2.45 2.45 0 1 0 0 .01M554.3 704.6a2.45 2.45 0 1 0 0 .01M556.7 709.7a2.45 2.45 0 1 0 0 .01M550.0 702.1a2.45 2.45 0 1 0 0 .01M552.9 702.1a2.45 2.45 0 1 0 0 .01M548.8 699.8a2.45 2.45 0 1 0 0 .01M568.3 699.4a2.45 2.45 0 1 0 0 .01M559.1 708.1a2.45 2.45 0 1 0 0 .01M558.5 702.2a2.45 2.45 0 1 0 0 .01M547.3 712.6a2.45 2.45 0 1 0 0 .01M554.7 703.0a2.45 2.45 0 1 0 0 .01M549.4 707.0a2.45 2.45 0 1 0 0 .01M549.3 702.0a2.45 2.45 0 1 0 0 .01M544.9 709.9a2.45 2.45 0 1 0 0 .01M549.6 714.0a2.45 2.45 0 1 0 0 .01M571.3 700.3a2.45 2.45 0 1 0 0 .01M549.9 699.8a2.45 2.45 0 1 0 0 .01M558.4 703.8a2.45 2.45 0 1 0 0 .01M560.2 706.6a2.45 2.45 0 1 0 0 .01M557.0 701.2a2.45 2.45 0 1 0 0 .01M559.0 711.6a2.45 2.45 0 1 0 0 .01M547.3 701.5a2.45 2.45 0 1 0 0 .01M564.2 705.2a2.45 2.45 0 1 0 0 .01M567.9 707.7a2.45 2.45 0 1 0 0 .01M554.2 706.2a2.45 2.45 0 1 0 0 .01M549.3 711.1a2.45 2.45 0 1 0 0 .01M548.4 708.2a2.45 2.45 0 1 0 0 .01M545.1 705.4a2.45 2.45 0 1 0 0 .01M557.9 702.4a2.45 2.45 0 1 0 0 .01M559.5 711.0a2.45 2.45 0 1 0 0 .01M565.2 695.8a2.45 2.45 0 1 0 0 .01M545.3 707.9a2.45 2.45 0 1 0 0 .01M559.5 700.7a2.45 2.45 0 1 0 0 .01M558.4 702.4a2.45 2.45 0 1 0 0 .01M552.1 708.7a2.45 2.45 0 1 0 0 .01M548.0 702.9a2.45 2.45 0 1 0 0 .01M555.8 698.5a2.45 2.45 0 1 0 0 .01M568.5 706.6a2.45 2.45 0 1 0 0 .01M545.4 711.8a2.45 2.45 0 1 0 0 .01M549.9 706.0a2.45 2.45 0 1 0 0 .01M550.3 702.2a2.45 2.45 0 1 0 0 .01M552.8 701.3a2.45 2.45 0 1 0 0 .01M561.1 704.7a2.45 2.45 0 1 0 0 .01M550.6 707.3a2.45 2.45 0 1 0 0 .01M538.7 710.1a2.45 2.45 0 1 0 0 .01M545.4 709.3a2.45 2.45 0 1 0 0 .01M545.2 706.7a2.45 2.45 0 1 0 0 .01M555.4 706.9a2.45 2.45 0 1 0 0 .01M554.7 704.6a2.45 2.45 0 1 0 0 .01M546.1 708.0a2.45 2.45 0 1 0 0 .01M558.5 703.0a2.45 2.45 0 1 0 0 .01M541.5 708.7a2.45 2.45 0 1 0 0 .01M552.4 701.5a2.45 2.45 0 1 0 0 .01M562.3 702.2a2.45 2.45 0 1 0 0 .01M543.2 702.7a2.45 2.45 0 1 0 0 .01M557.6 706.2a2.45 2.45 0 1 0 0 .01M560.5 701.1a2.45 2.45 0 1 0 0 .01M550.6 702.9a2.45 2.45 0 1 0 0 .01M554.7 702.1a2.45 2.45 0 1 0 0 .01M543.8 703.7a2.45 2.45 0 1 0 0 .01M555.9 700.6a2.45 2.45 0 1 0 0 .01M545.6 708.8a2.45 2.45 0 1 0 0 .01M549.9 707.6a2.45 2.45 0 1 0 0 .01M556.4 707.7a2.45 2.45 0 1 0 0 .01M551.1 703.0a2.45 2.45 0 1 0 0 .01M546.3 707.4a2.45 2.45 0 1 0 0 .01M553.3 697.3a2.45 2.45 0 1 0 0 .01M551.7 708.7a2.45 2.45 0 1 0 0 .01M548.2 702.0a2.45 2.45 0 1 0 0 .01M540.3 712.6a2.45 2.45 0 1 0 0 .01M552.1 707.9a2.45 2.45 0 1 0 0 .01M559.3 711.8a2.45 2.45 0 1 0 0 .01M549.3 707.7a2.45 2.45 0 1 0 0 .01M549.7 703.1a2.45 2.45 0 1 0 0 .01M550.2 714.1a2.45 2.45 0 1 0 0 .01M556.1 709.4a2.45 2.45 0 1 0 0 .01M543.4 711.6a2.45 2.45 0 1 0 0 .01M558.4 710.8a2.45 2.45 0 1 0 0 .01M567.0 701.9a2.45 2.45 0 1 0 0 .01M556.6 695.3a2.45 2.45 0 1 0 0 .01M553.8 704.1a2.45 2.45 0 1 0 0 .01M556.4 702.1a2.45 2.45 0 1 0 0 .01M556.6 706.8a2.45 2.45 0 1 0 0 .01M551.2 704.0a2.45 2.45 0 1 0 0 .01M552.6 707.4a2.45 2.45 0 1 0 0 .01M552.1 702.0a2.45 2.45 0 1 0 0 .01M557.0 708.7a2.45 2.45 0 1 0 0 .01M565.9 704.8a2.45 2.45 0 1 0 0 .01M554.4 702.1a2.45 2.45 0 1 0 0 .01M566.9 707.5a2.45 2.45 0 1 0 0 .01M547.7 712.3a2.45 2.45 0 1 0 0 .01M558.4 706.4a2.45 2.45 0 1 0 0 .01M548.8 703.8a2.45 2.45 0 1 0 0 .01M554.3 706.3a2.45 2.45 0 1 0 0 .01M552.9 705.6a2.45 2.45 0 1 0 0 .01M540.9 706.0a2.45 2.45 0 1 0 0 .01M551.9 705.1a2.45 2.45 0 1 0 0 .01M556.1 703.9a2.45 2.45 0 1 0 0 .01M555.5 699.1a2.45 2.45 0 1 0 0 .01M543.7 706.9a2.45 2.45 0 1 0 0 .01M544.0 702.9a2.45 2.45 0 1 0 0 .01M557.6 704.0a2.45 2.45 0 1 0 0 .01M546.8 705.6a2.45 2.45 0 1 0 0 .01M567.1 705.3a2.45 2.45 0 1 0 0 .01M555.6 702.6a2.45 2.45 0 1 0 0 .01M555.7 705.1a2.45 2.45 0 1 0 0 .01M552.3 699.6a2.45 2.45 0 1 0 0 .01M548.3 710.6a2.45 2.45 0 1 0 0 .01M555.3 713.0a2.45 2.45 0 1 0 0 .01M552.0 704.8a2.45 2.45 0 1 0 0 .01M563.5 704.9a2.45 2.45 0 1 0 0 .01M554.6 707.5a2.45 2.45 0 1 0 0 .01M555.2 704.0a2.45 2.45 0 1 0 0 .01M560.6 707.0a2.45 2.45 0 1 0 0 .01M560.1 701.5a2.45 2.45 0 1 0 0 .01M540.1 707.5a2.45 2.45 0 1 0 0 .01M566.6 701.9a2.45 2.45 0 1 0 0 .01M543.4 704.8a2.45 2.45 0 1 0 0 .01M546.8 701.0a2.45 2.45 0 1 0 0 .01M551.6 709.3a2.45 2.45 0 1 0 0 .01M548.3 706.6a2.45 2.45 0 1 0 0 .01M565.6 699.5a2.45 2.45 0 1 0 0 .01M553.8 700.5a2.45 2.45 0 1 0 0 .01M546.0 706.0a2.45 2.45 0 1 0 0 .01M551.0 701.7a2.45 2.45 0 1 0 0 .01M548.3 708.1a2.45 2.45 0 1 0 0 .01M549.0 706.1a2.45 2.45 0 1 0 0 .01M556.1 706.0a2.45 2.45 0 1 0 0 .01M557.1 708.2a2.45 2.45 0 1 0 0 .01M552.5 705.9a2.45 2.45 0 1 0 0 .01M544.8 709.2a2.45 2.45 0 1 0 0 .01M549.4 710.4a2.45 2.45 0 1 0 0 .01M559.7 705.6a2.45 2.45 0 1 0 0 .01M557.1 695.4a2.45 2.45 0 1 0 0 .01M551.5 710.0a2.45 2.45 0 1 0 0 .01M558.6 704.9a2.45 2.45 0 1 0 0 .01M541.2 709.9a2.45 2.45 0 1 0 0 .01M549.0 712.0a2.45 2.45 0 1 0 0 .01M553.8 704.1a2.45 2.45 0 1 0 0 .01M555.6 706.4a2.45 2.45 0 1 0 0 .01M560.6 695.3a2.45 2.45 0 1 0 0 .01M554.1 710.7a2.45 2.45 0 1 0 0 .01M555.6 704.3a2.45 2.45 0 1 0 0 .01M554.6 703.8a2.45 2.45 0 1 0 0 .01M546.5 705.5a2.45 2.45 0 1 0 0 .01M552.3 707.5a2.45 2.45 0 1 0 0 .01M563.1 695.7a2.45 2.45 0 1 0 0 .01M558.4 711.2a2.45 2.45 0 1 0 0 .01M551.6 705.9a2.45 2.45 0 1 0 0 .01M553.7 704.5a2.45 2.45 0 1 0 0 .01M565.1 707.9a2.45 2.45 0 1 0 0 .01M564.1 706.1a2.45 2.45 0 1 0 0 .01M566.1 704.3a2.45 2.45 0 1 0 0 .01M562.2 699.6a2.45 2.45 0 1 0 0 .01M552.7 709.4a2.45 2.45 0 1 0 0 .01M552.4 706.2a2.45 2.45 0 1 0 0 .01M543.0 704.0a2.45 2.45 0 1 0 0 .01M562.2 702.4a2.45 2.45 0 1 0 0 .01M561.8 704.3a2.45 2.45 0 1 0 0 .01M568.5 698.8a2.45 2.45 0 1 0 0 .01M548.6 709.3a2.45 2.45 0 1 0 0 .01M565.2 700.3a2.45 2.45 0 1 0 0 .01M557.4 707.6a2.45 2.45 0 1 0 0 .01M526.7 708.7a2.45 2.45 0 1 0 0 .01M528.1 706.4a2.45 2.45 0 1 0 0 .01M516.7 709.0a2.45 2.45 0 1 0 0 .01M525.1 705.2a2.45 2.45 0 1 0 0 .01M529.2 708.3a2.45 2.45 0 1 0 0 .01M527.0 707.2a2.45 2.45 0 1 0 0 .01M521.6 708.7a2.45 2.45 0 1 0 0 .01M527.1 704.9a2.45 2.45 0 1 0 0 .01M521.8 707.2a2.45 2.45 0 1 0 0 .01M524.0 707.3a2.45 2.45 0 1 0 0 .01M533.7 705.4a2.45 2.45 0 1 0 0 .01M537.3 707.8a2.45 2.45 0 1 0 0 .01M538.2 706.7a2.45 2.45 0 1 0 0 .01M529.0 708.1a2.45 2.45 0 1 0 0 .01M520.0 706.4a2.45 2.45 0 1 0 0 .01M522.4 707.8a2.45 2.45 0 1 0 0 .01M533.0 704.0a2.45 2.45 0 1 0 0 .01M525.5 708.6a2.45 2.45 0 1 0 0 .01M536.4 704.0a2.45 2.45 0 1 0 0 .01M521.8 706.1a2.45 2.45 0 1 0 0 .01M531.4 707.1a2.45 2.45 0 1 0 0 .01M514.4 708.9a2.45 2.45 0 1 0 0 .01M522.0 707.7a2.45 2.45 0 1 0 0 .01M528.5 703.0a2.45 2.45 0 1 0 0 .01M527.6 704.6a2.45 2.45 0 1 0 0 .01M525.7 705.5a2.45 2.45 0 1 0 0 .01M515.8 707.5a2.45 2.45 0 1 0 0 .01M525.3 704.5a2.45 2.45 0 1 0 0 .01M522.1 705.6a2.45 2.45 0 1 0 0 .01M519.4 708.2a2.45 2.45 0 1 0 0 .01M526.1 707.3a2.45 2.45 0 1 0 0 .01M518.0 708.6a2.45 2.45 0 1 0 0 .01M519.4 708.2a2.45 2.45 0 1 0 0 .01M541.2 703.4a2.45 2.45 0 1 0 0 .01M527.2 705.0a2.45 2.45 0 1 0 0 .01M534.0 706.8a2.45 2.45 0 1 0 0 .01M520.4 708.0a2.45 2.45 0 1 0 0 .01M520.8 706.2a2.45 2.45 0 1 0 0 .01M514.2 709.6a2.45 2.45 0 1 0 0 .01M514.1 706.3a2.45 2.45 0 1 0 0 .01M514.5 706.6a2.45 2.45 0 1 0 0 .01M528.0 706.9a2.45 2.45 0 1 0 0 .01M517.0 708.0a2.45 2.45 0 1 0 0 .01M517.6 706.2a2.45 2.45 0 1 0 0 .01M519.5 707.2a2.45 2.45 0 1 0 0 .01M581.2 664.4a2.45 2.45 0 1 0 0 .01M582.9 674.0a2.45 2.45 0 1 0 0 .01M598.5 671.5a2.45 2.45 0 1 0 0 .01M580.0 680.7a2.45 2.45 0 1 0 0 .01M598.5 676.3a2.45 2.45 0 1 0 0 .01M583.9 688.0a2.45 2.45 0 1 0 0 .01M596.6 684.7a2.45 2.45 0 1 0 0 .01M584.8 689.2a2.45 2.45 0 1 0 0 .01M580.6 678.7a2.45 2.45 0 1 0 0 .01M587.4 684.9a2.45 2.45 0 1 0 0 .01M587.9 663.1a2.45 2.45 0 1 0 0 .01M589.7 669.4a2.45 2.45 0 1 0 0 .01M581.1 691.1a2.45 2.45 0 1 0 0 .01M577.7 680.3a2.45 2.45 0 1 0 0 .01M586.4 677.4a2.45 2.45 0 1 0 0 .01M584.7 681.5a2.45 2.45 0 1 0 0 .01M582.6 683.0a2.45 2.45 0 1 0 0 .01M587.3 676.1a2.45 2.45 0 1 0 0 .01M597.4 674.2a2.45 2.45 0 1 0 0 .01M596.6 665.3a2.45 2.45 0 1 0 0 .01M590.3 679.2a2.45 2.45 0 1 0 0 .01M597.5 680.3a2.45 2.45 0 1 0 0 .01M601.8 679.0a2.45 2.45 0 1 0 0 .01M598.5 675.4a2.45 2.45 0 1 0 0 .01M576.4 678.2a2.45 2.45 0 1 0 0 .01M583.2 677.2a2.45 2.45 0 1 0 0 .01M590.5 671.6a2.45 2.45 0 1 0 0 .01M595.1 665.9a2.45 2.45 0 1 0 0 .01M579.8 683.7a2.45 2.45 0 1 0 0 .01M603.8 667.8a2.45 2.45 0 1 0 0 .01M583.9 693.8a2.45 2.45 0 1 0 0 .01M581.7 681.9a2.45 2.45 0 1 0 0 .01M574.0 691.9a2.45 2.45 0 1 0 0 .01M594.9 665.3a2.45 2.45 0 1 0 0 .01M595.6 674.2a2.45 2.45 0 1 0 0 .01M595.0 681.2a2.45 2.45 0 1 0 0 .01M590.2 682.4a2.45 2.45 0 1 0 0 .01M591.1 679.3a2.45 2.45 0 1 0 0 .01M589.4 681.0a2.45 2.45 0 1 0 0 .01M601.3 668.1a2.45 2.45 0 1 0 0 .01M593.8 670.2a2.45 2.45 0 1 0 0 .01M596.1 671.8a2.45 2.45 0 1 0 0 .01M577.1 672.2a2.45 2.45 0 1 0 0 .01M577.2 688.2a2.45 2.45 0 1 0 0 .01M596.7 667.6a2.45 2.45 0 1 0 0 .01M593.0 669.4a2.45 2.45 0 1 0 0 .01M592.3 675.0a2.45 2.45 0 1 0 0 .01M588.1 688.7a2.45 2.45 0 1 0 0 .01M590.8 678.7a2.45 2.45 0 1 0 0 .01M585.6 682.2a2.45 2.45 0 1 0 0 .01M593.2 676.8a2.45 2.45 0 1 0 0 .01M577.0 692.2a2.45 2.45 0 1 0 0 .01M589.4 681.5a2.45 2.45 0 1 0 0 .01M584.3 669.8a2.45 2.45 0 1 0 0 .01M582.6 671.9a2.45 2.45 0 1 0 0 .01M587.1 679.4a2.45 2.45 0 1 0 0 .01M587.3 680.0a2.45 2.45 0 1 0 0 .01M587.8 674.5a2.45 2.45 0 1 0 0 .01M600.3 675.8a2.45 2.45 0 1 0 0 .01M580.1 689.3a2.45 2.45 0 1 0 0 .01M581.9 676.9a2.45 2.45 0 1 0 0 .01M588.7 686.9a2.45 2.45 0 1 0 0 .01M588.5 687.0a2.45 2.45 0 1 0 0 .01M591.3 657.2a2.45 2.45 0 1 0 0 .01M595.1 671.3a2.45 2.45 0 1 0 0 .01M591.0 681.9a2.45 2.45 0 1 0 0 .01M582.5 679.3a2.45 2.45 0 1 0 0 .01M604.9 672.3a2.45 2.45 0 1 0 0 .01M590.0 683.2a2.45 2.45 0 1 0 0 .01M588.9 682.9a2.45 2.45 0 1 0 0 .01M589.1 672.9a2.45 2.45 0 1 0 0 .01M582.7 663.1a2.45 2.45 0 1 0 0 .01M583.3 683.2a2.45 2.45 0 1 0 0 .01M588.7 684.4a2.45 2.45 0 1 0 0 .01M590.5 680.2a2.45 2.45 0 1 0 0 .01M592.3 678.9a2.45 2.45 0 1 0 0 .01M581.3 685.2a2.45 2.45 0 1 0 0 .01M593.5 679.2a2.45 2.45 0 1 0 0 .01M581.0 676.0a2.45 2.45 0 1 0 0 .01M596.1 676.7a2.45 2.45 0 1 0 0 .01M606.6 675.3a2.45 2.45 0 1 0 0 .01M579.6 676.8a2.45 2.45 0 1 0 0 .01M592.1 677.2a2.45 2.45 0 1 0 0 .01M595.9 682.5a2.45 2.45 0 1 0 0 .01M585.2 691.9a2.45 2.45 0 1 0 0 .01M598.8 678.9a2.45 2.45 0 1 0 0 .01M577.9 695.0a2.45 2.45 0 1 0 0 .01M584.1 679.0a2.45 2.45 0 1 0 0 .01M592.6 675.3a2.45 2.45 0 1 0 0 .01M599.5 682.8a2.45 2.45 0 1 0 0 .01M585.0 677.9a2.45 2.45 0 1 0 0 .01M578.3 678.7a2.45 2.45 0 1 0 0 .01M592.3 669.1a2.45 2.45 0 1 0 0 .01M600.3 673.5a2.45 2.45 0 1 0 0 .01M592.3 674.5a2.45 2.45 0 1 0 0 .01M583.3 671.1a2.45 2.45 0 1 0 0 .01M578.5 672.7a2.45 2.45 0 1 0 0 .01M608.3 673.2a2.45 2.45 0 1 0 0 .01M590.1 682.5a2.45 2.45 0 1 0 0 .01M576.6 678.7a2.45 2.45 0 1 0 0 .01M575.7 677.5a2.45 2.45 0 1 0 0 .01M597.6 673.0a2.45 2.45 0 1 0 0 .01M598.0 646.9a2.45 2.45 0 1 0 0 .01M588.0 674.1a2.45 2.45 0 1 0 0 .01M585.3 686.4a2.45 2.45 0 1 0 0 .01M594.1 682.2a2.45 2.45 0 1 0 0 .01M594.8 671.9a2.45 2.45 0 1 0 0 .01M590.4 675.8a2.45 2.45 0 1 0 0 .01M579.5 669.8a2.45 2.45 0 1 0 0 .01M590.8 668.9a2.45 2.45 0 1 0 0 .01M606.2 671.9a2.45 2.45 0 1 0 0 .01M580.9 673.3a2.45 2.45 0 1 0 0 .01M583.1 690.3a2.45 2.45 0 1 0 0 .01M582.8 686.7a2.45 2.45 0 1 0 0 .01M582.7 682.9a2.45 2.45 0 1 0 0 .01M599.8 675.8a2.45 2.45 0 1 0 0 .01M593.9 672.0a2.45 2.45 0 1 0 0 .01M581.2 680.8a2.45 2.45 0 1 0 0 .01M580.2 668.4a2.45 2.45 0 1 0 0 .01M587.9 682.4a2.45 2.45 0 1 0 0 .01M583.4 684.3a2.45 2.45 0 1 0 0 .01M591.1 682.3a2.45 2.45 0 1 0 0 .01M590.1 676.3a2.45 2.45 0 1 0 0 .01M577.3 692.2a2.45 2.45 0 1 0 0 .01M602.3 673.6a2.45 2.45 0 1 0 0 .01M582.8 681.2a2.45 2.45 0 1 0 0 .01M599.0 670.9a2.45 2.45 0 1 0 0 .01M589.7 674.5a2.45 2.45 0 1 0 0 .01M586.4 668.4a2.45 2.45 0 1 0 0 .01M573.1 679.8a2.45 2.45 0 1 0 0 .01M583.8 677.4a2.45 2.45 0 1 0 0 .01M596.6 673.7a2.45 2.45 0 1 0 0 .01M594.6 668.8a2.45 2.45 0 1 0 0 .01M582.1 670.9a2.45 2.45 0 1 0 0 .01M569.5 678.8a2.45 2.45 0 1 0 0 .01M590.3 674.8a2.45 2.45 0 1 0 0 .01M579.1 687.7a2.45 2.45 0 1 0 0 .01M586.8 672.0a2.45 2.45 0 1 0 0 .01M580.6 682.9a2.45 2.45 0 1 0 0 .01M597.7 672.4a2.45 2.45 0 1 0 0 .01M584.2 677.0a2.45 2.45 0 1 0 0 .01M589.4 671.3a2.45 2.45 0 1 0 0 .01M587.2 692.1a2.45 2.45 0 1 0 0 .01M583.7 680.7a2.45 2.45 0 1 0 0 .01M593.9 675.3a2.45 2.45 0 1 0 0 .01M591.2 681.4a2.45 2.45 0 1 0 0 .01M590.9 670.2a2.45 2.45 0 1 0 0 .01M585.7 673.0a2.45 2.45 0 1 0 0 .01M592.1 678.0a2.45 2.45 0 1 0 0 .01M580.5 673.0a2.45 2.45 0 1 0 0 .01M590.5 676.6a2.45 2.45 0 1 0 0 .01M586.7 687.7a2.45 2.45 0 1 0 0 .01M566.6 677.8a2.45 2.45 0 1 0 0 .01M578.4 681.4a2.45 2.45 0 1 0 0 .01M585.4 683.9a2.45 2.45 0 1 0 0 .01M603.8 663.1a2.45 2.45 0 1 0 0 .01M597.7 676.5a2.45 2.45 0 1 0 0 .01M584.1 679.6a2.45 2.45 0 1 0 0 .01M596.8 665.1a2.45 2.45 0 1 0 0 .01M581.5 680.1a2.45 2.45 0 1 0 0 .01M596.9 679.4a2.45 2.45 0 1 0 0 .01M585.8 685.2a2.45 2.45 0 1 0 0 .01M582.0 678.7a2.45 2.45 0 1 0 0 .01M576.9 690.8a2.45 2.45 0 1 0 0 .01M587.2 679.7a2.45 2.45 0 1 0 0 .01M595.5 675.6a2.45 2.45 0 1 0 0 .01M588.0 672.7a2.45 2.45 0 1 0 0 .01M612.7 666.5a2.45 2.45 0 1 0 0 .01M583.8 682.8a2.45 2.45 0 1 0 0 .01M597.1 675.1a2.45 2.45 0 1 0 0 .01M595.3 683.5a2.45 2.45 0 1 0 0 .01M589.4 679.3a2.45 2.45 0 1 0 0 .01M586.9 678.5a2.45 2.45 0 1 0 0 .01M583.5 694.4a2.45 2.45 0 1 0 0 .01M593.7 673.2a2.45 2.45 0 1 0 0 .01M594.3 678.7a2.45 2.45 0 1 0 0 .01M586.9 687.8a2.45 2.45 0 1 0 0 .01M583.2 681.5a2.45 2.45 0 1 0 0 .01M579.1 686.6a2.45 2.45 0 1 0 0 .01M587.7 683.2a2.45 2.45 0 1 0 0 .01M575.9 671.6a2.45 2.45 0 1 0 0 .01M582.8 690.2a2.45 2.45 0 1 0 0 .01M602.5 670.3a2.45 2.45 0 1 0 0 .01M581.6 680.6a2.45 2.45 0 1 0 0 .01M584.8 689.5a2.45 2.45 0 1 0 0 .01M594.6 674.8a2.45 2.45 0 1 0 0 .01M591.6 676.7a2.45 2.45 0 1 0 0 .01M586.3 682.3a2.45 2.45 0 1 0 0 .01M591.5 672.6a2.45 2.45 0 1 0 0 .01M587.3 682.8a2.45 2.45 0 1 0 0 .01M588.6 678.3a2.45 2.45 0 1 0 0 .01M582.1 678.0a2.45 2.45 0 1 0 0 .01M592.1 671.5a2.45 2.45 0 1 0 0 .01M589.8 681.0a2.45 2.45 0 1 0 0 .01M588.9 664.5a2.45 2.45 0 1 0 0 .01M591.0 673.1a2.45 2.45 0 1 0 0 .01M589.0 672.8a2.45 2.45 0 1 0 0 .01M585.5 682.5a2.45 2.45 0 1 0 0 .01M588.8 693.0a2.45 2.45 0 1 0 0 .01M584.2 683.0a2.45 2.45 0 1 0 0 .01M646.6 610.2a2.45 2.45 0 1 0 0 .01M635.9 617.4a2.45 2.45 0 1 0 0 .01M579.6 628.6a2.45 2.45 0 1 0 0 .01M622.8 637.6a2.45 2.45 0 1 0 0 .01M632.5 637.8a2.45 2.45 0 1 0 0 .01M632.5 642.2a2.45 2.45 0 1 0 0 .01M602.4 646.8a2.45 2.45 0 1 0 0 .01M610.8 646.8a2.45 2.45 0 1 0 0 .01M611.6 648.5a2.45 2.45 0 1 0 0 .01M614.1 652.4a2.45 2.45 0 1 0 0 .01M605.7 656.7a2.45 2.45 0 1 0 0 .01M607.5 655.7a2.45 2.45 0 1 0 0 .01M627.4 651.9a2.45 2.45 0 1 0 0 .01M649.1 653.1a2.45 2.45 0 1 0 0 .01M652.5 649.3a2.45 2.45 0 1 0 0 .01M655.5 649.3a2.45 2.45 0 1 0 0 .01M656.8 651.1a2.45 2.45 0 1 0 0 .01M637.6 658.3a2.45 2.45 0 1 0 0 .01M622.3 662.6a2.45 2.45 0 1 0 0 .01M624.9 665.9a2.45 2.45 0 1 0 0 .01M628.7 669.0a2.45 2.45 0 1 0 0 .01M621.0 670.3a2.45 2.45 0 1 0 0 .01M638.4 671.0a2.45 2.45 0 1 0 0 .01M619.2 686.1a2.45 2.45 0 1 0 0 .01M580.9 657.5a2.45 2.45 0 1 0 0 .01M587.1 655.7a2.45 2.45 0 1 0 0 .01M523.2 730.3a2.45 2.45 0 1 0 0 .01M526.5 734.6a2.45 2.45 0 1 0 0 .01M535.4 726.5a2.45 2.45 0 1 0 0 .01M536.2 725.2a2.45 2.45 0 1 0 0 .01M545.7 723.9a2.45 2.45 0 1 0 0 .01M558.4 723.9a2.45 2.45 0 1 0 0 .01M610.8 679.7a2.45 2.45 0 1 0 0 .01M607.0 686.9a2.45 2.45 0 1 0 0 .01M594.2 690.7a2.45 2.45 0 1 0 0 .01" fill="none" stroke="#000" stroke-width="0.75"/>
<clipPath id="cpe"><rect x="489.0" y="601.9" width="195.39999999999998" height="155.10000000000002"/></clipPath>
<g clip-path="url(#cpe)">
<line x1="489.0" y1="757.5" x2="684.4" y2="601.1" stroke="#2a2af2" stroke-width="1.25" stroke-dasharray="3.8 2.8"/>
<line x1="489.0" y1="742.5" x2="684.4" y2="620.4" stroke="#f03030" stroke-width="1.1"/>
</g>
<rect x="489.0" y="601.9" width="195.4" height="155.1" fill="none" stroke="#222" stroke-width="1.1"/>
<line x1="482.8" y1="732.4" x2="489.0" y2="732.4" stroke="#222" stroke-width="1"/>
<text x="481" y="735.9" font-size="11" font-weight="normal" fill="#000" text-anchor="end" >-2</text>
<line x1="520.4" y1="757.0" x2="520.4" y2="763.8" stroke="#222" stroke-width="1"/>
<text x="520.4" y="773.4" font-size="11" font-weight="normal" fill="#000" text-anchor="middle" >-2</text>
<line x1="482.8" y1="694.2" x2="489.0" y2="694.2" stroke="#222" stroke-width="1"/>
<text x="481" y="697.7" font-size="11" font-weight="normal" fill="#000" text-anchor="end" >0</text>
<line x1="568.1" y1="757.0" x2="568.1" y2="763.8" stroke="#222" stroke-width="1"/>
<text x="568.1" y="773.4" font-size="11" font-weight="normal" fill="#000" text-anchor="middle" >0</text>
<line x1="482.8" y1="656.0" x2="489.0" y2="656.0" stroke="#222" stroke-width="1"/>
<text x="481" y="659.5" font-size="11" font-weight="normal" fill="#000" text-anchor="end" >2</text>
<line x1="615.8" y1="757.0" x2="615.8" y2="763.8" stroke="#222" stroke-width="1"/>
<text x="615.8" y="773.4" font-size="11" font-weight="normal" fill="#000" text-anchor="middle" >2</text>
<line x1="482.8" y1="617.8" x2="489.0" y2="617.8" stroke="#222" stroke-width="1"/>
<text x="481" y="621.3" font-size="11" font-weight="normal" fill="#000" text-anchor="end" >4</text>
<line x1="663.5" y1="757.0" x2="663.5" y2="763.8" stroke="#222" stroke-width="1"/>
<text x="663.5" y="773.4" font-size="11" font-weight="normal" fill="#000" text-anchor="middle" >4</text>
<text x="584.5" y="784.4" font-size="7.9" text-anchor="middle" textLength="108.9" lengthAdjust="spacingAndGlyphs">Non-pregnant Log<tspan font-size="5.4" dy="1.6">2</tspan><tspan dy="-1.6"> fold change</tspan></text>
<text x="585.3" y="793.9" font-size="7.9" text-anchor="middle">Critical vs Controls</text>
<text x="0" y="0" font-size="7.9" text-anchor="middle" textLength="92.7" lengthAdjust="spacingAndGlyphs" transform="translate(462.3 675.7) rotate(-90)">Pregnant Log<tspan font-size="5.4" dy="1.6">2</tspan><tspan dy="-1.6"> fold change</tspan></text>
<text x="0" y="0" font-size="7.9" text-anchor="middle" transform="translate(471.7 675.7) rotate(-90)">Critical vs Controls</text>
<text x="616" y="722.2" font-size="7.9" font-weight="normal" fill="#000" text-anchor="start" textLength="44.7" lengthAdjust="spacingAndGlyphs" >Slope = 0.78</text>
<text x="616" y="731.7" font-size="7.9" font-weight="normal" fill="#000" text-anchor="start" textLength="26.3" lengthAdjust="spacingAndGlyphs" >r = 0.83</text>
<text x="616" y="741.2" font-size="7.9" font-weight="normal" fill="#000" text-anchor="start" textLength="32.4" lengthAdjust="spacingAndGlyphs" >p &lt; 0.001</text>
</svg></body></html>
